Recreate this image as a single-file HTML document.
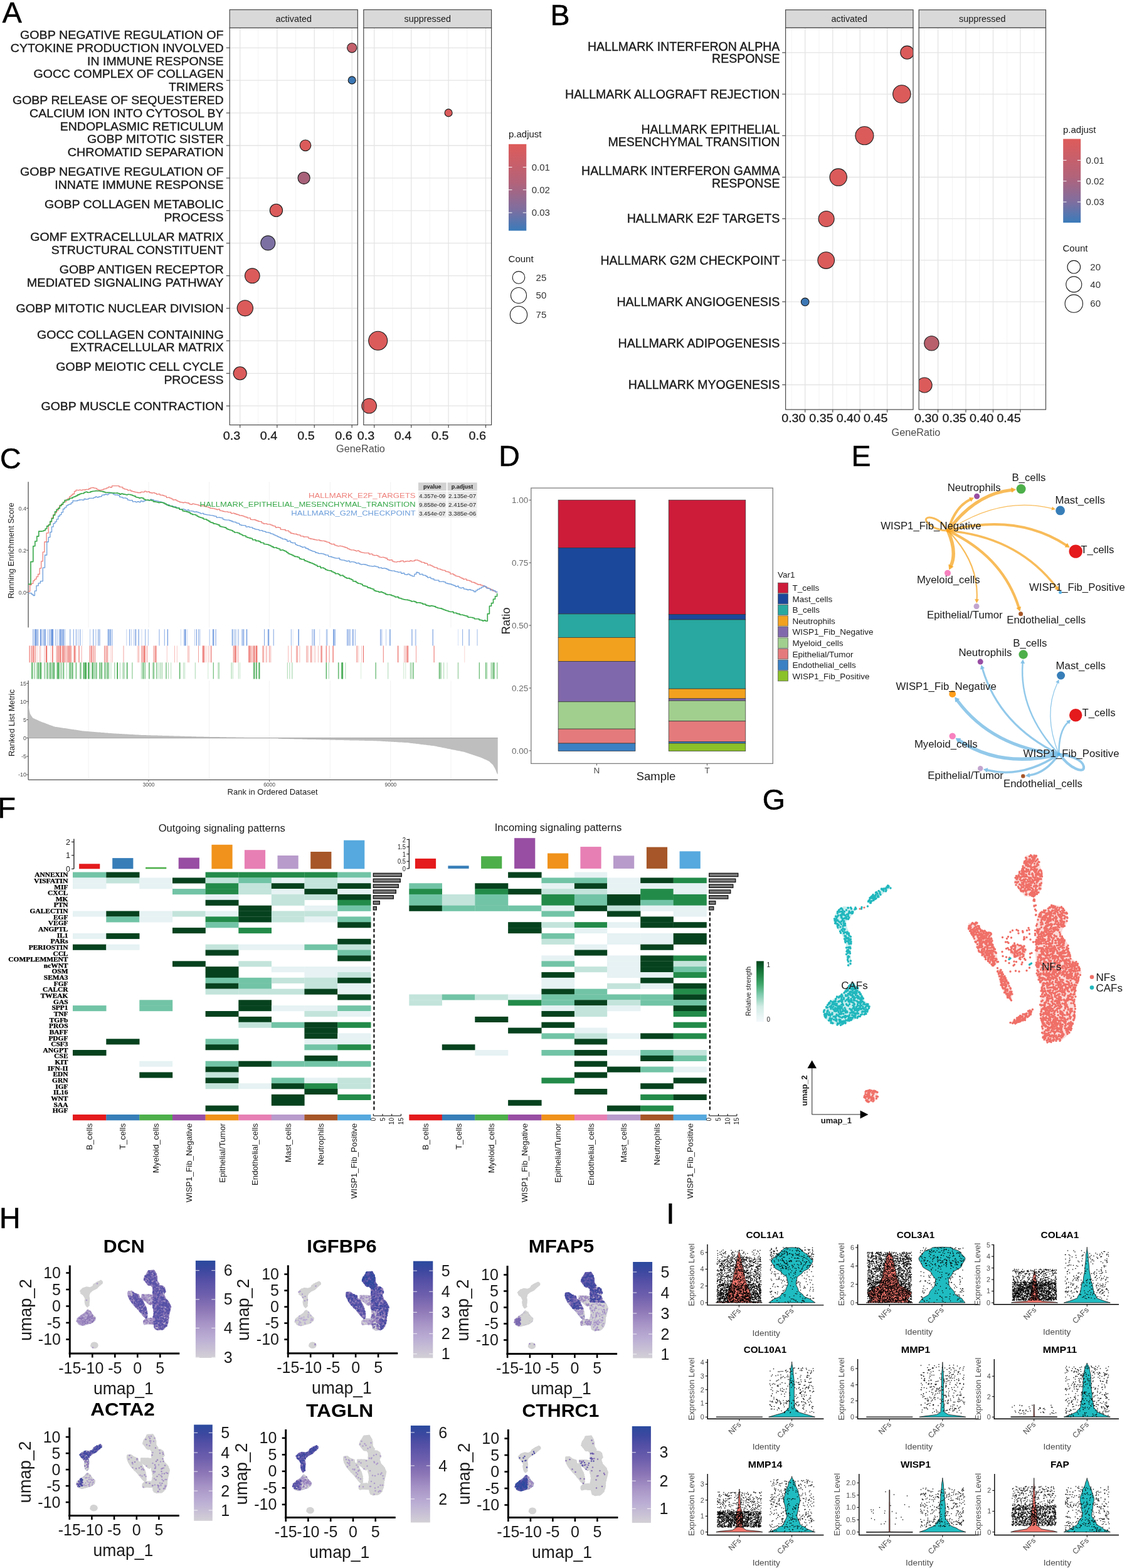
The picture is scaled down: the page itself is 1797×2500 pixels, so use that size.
<!DOCTYPE html>
<html><head><meta charset="utf-8"><title>Figure</title>
<style>html,body{margin:0;padding:0;background:#fff} svg{display:block}</style></head>
<body><svg width="1797" height="2500" viewBox="0 0 1797 2500">
<defs>
<linearGradient id="gradPA" x1="0" y1="0" x2="0" y2="1"><stop offset="0" stop-color="#DE5B5A"/><stop offset="0.45" stop-color="#B2637A"/><stop offset="0.75" stop-color="#7F6E9F"/><stop offset="1" stop-color="#3A7BBA"/></linearGradient>
<linearGradient id="gradRS" x1="0" y1="1" x2="0" y2="0"><stop offset="0" stop-color="#F5F9FC"/><stop offset="0.25" stop-color="#D2ECE5"/><stop offset="0.45" stop-color="#7FCBAE"/><stop offset="0.62" stop-color="#3FA66A"/><stop offset="0.8" stop-color="#1B7D3F"/><stop offset="1" stop-color="#00441B"/></linearGradient>
<linearGradient id="gradH" x1="0" y1="1" x2="0" y2="0"><stop offset="0" stop-color="#D3D0D6"/><stop offset="0.2" stop-color="#BBAED4"/><stop offset="0.35" stop-color="#A895C7"/><stop offset="0.5" stop-color="#8C76B6"/><stop offset="0.65" stop-color="#6E5FAD"/><stop offset="0.8" stop-color="#5450A6"/><stop offset="0.9" stop-color="#3D489F"/><stop offset="1" stop-color="#2A4A9E"/></linearGradient>
</defs>
<rect width="1797" height="2500" fill="#fff"/>
<rect x="366.2" y="15.5" width="204.1" height="29.0" fill="#D9D9D9" stroke="#4A4A4A" stroke-width="1.2"/>
<text x="468.2" y="35.2" font-family="'Liberation Sans', Arial, sans-serif" font-size="14.4" text-anchor="middle" fill="#1A1A1A">activated</text>
<rect x="366.2" y="44.5" width="204.1" height="633.0" fill="#FFFFFF"/>
<line x1="411.7" y1="44.5" x2="411.7" y2="677.5" stroke="#F0F0F0" stroke-width="0.8"/>
<line x1="471.5" y1="44.5" x2="471.5" y2="677.5" stroke="#F0F0F0" stroke-width="0.8"/>
<line x1="531.5" y1="44.5" x2="531.5" y2="677.5" stroke="#F0F0F0" stroke-width="0.8"/>
<line x1="382.7" y1="44.5" x2="382.7" y2="677.5" stroke="#E4E4E4" stroke-width="1.3"/>
<line x1="441.8" y1="44.5" x2="441.8" y2="677.5" stroke="#E4E4E4" stroke-width="1.3"/>
<line x1="501.2" y1="44.5" x2="501.2" y2="677.5" stroke="#E4E4E4" stroke-width="1.3"/>
<line x1="561.2" y1="44.5" x2="561.2" y2="677.5" stroke="#E4E4E4" stroke-width="1.3"/>
<line x1="366.2" y1="76.3" x2="570.3" y2="76.3" stroke="#E4E4E4" stroke-width="1.3"/>
<line x1="366.2" y1="128.2" x2="570.3" y2="128.2" stroke="#E4E4E4" stroke-width="1.3"/>
<line x1="366.2" y1="180.1" x2="570.3" y2="180.1" stroke="#E4E4E4" stroke-width="1.3"/>
<line x1="366.2" y1="232.0" x2="570.3" y2="232.0" stroke="#E4E4E4" stroke-width="1.3"/>
<line x1="366.2" y1="283.9" x2="570.3" y2="283.9" stroke="#E4E4E4" stroke-width="1.3"/>
<line x1="366.2" y1="335.8" x2="570.3" y2="335.8" stroke="#E4E4E4" stroke-width="1.3"/>
<line x1="366.2" y1="387.7" x2="570.3" y2="387.7" stroke="#E4E4E4" stroke-width="1.3"/>
<line x1="366.2" y1="439.6" x2="570.3" y2="439.6" stroke="#E4E4E4" stroke-width="1.3"/>
<line x1="366.2" y1="491.5" x2="570.3" y2="491.5" stroke="#E4E4E4" stroke-width="1.3"/>
<line x1="366.2" y1="543.4" x2="570.3" y2="543.4" stroke="#E4E4E4" stroke-width="1.3"/>
<line x1="366.2" y1="595.3" x2="570.3" y2="595.3" stroke="#E4E4E4" stroke-width="1.3"/>
<line x1="366.2" y1="647.2" x2="570.3" y2="647.2" stroke="#E4E4E4" stroke-width="1.3"/>
<rect x="579.8" y="15.5" width="203.8" height="29.0" fill="#D9D9D9" stroke="#4A4A4A" stroke-width="1.2"/>
<text x="681.7" y="35.2" font-family="'Liberation Sans', Arial, sans-serif" font-size="14.4" text-anchor="middle" fill="#1A1A1A">suppressed</text>
<rect x="579.8" y="44.5" width="203.8" height="633.0" fill="#FFFFFF"/>
<line x1="626.0" y1="44.5" x2="626.0" y2="677.5" stroke="#F0F0F0" stroke-width="0.8"/>
<line x1="685.4" y1="44.5" x2="685.4" y2="677.5" stroke="#F0F0F0" stroke-width="0.8"/>
<line x1="744.8" y1="44.5" x2="744.8" y2="677.5" stroke="#F0F0F0" stroke-width="0.8"/>
<line x1="596.7" y1="44.5" x2="596.7" y2="677.5" stroke="#E4E4E4" stroke-width="1.3"/>
<line x1="655.7" y1="44.5" x2="655.7" y2="677.5" stroke="#E4E4E4" stroke-width="1.3"/>
<line x1="715.1" y1="44.5" x2="715.1" y2="677.5" stroke="#E4E4E4" stroke-width="1.3"/>
<line x1="774.5" y1="44.5" x2="774.5" y2="677.5" stroke="#E4E4E4" stroke-width="1.3"/>
<line x1="579.8" y1="76.3" x2="783.6" y2="76.3" stroke="#E4E4E4" stroke-width="1.3"/>
<line x1="579.8" y1="128.2" x2="783.6" y2="128.2" stroke="#E4E4E4" stroke-width="1.3"/>
<line x1="579.8" y1="180.1" x2="783.6" y2="180.1" stroke="#E4E4E4" stroke-width="1.3"/>
<line x1="579.8" y1="232.0" x2="783.6" y2="232.0" stroke="#E4E4E4" stroke-width="1.3"/>
<line x1="579.8" y1="283.9" x2="783.6" y2="283.9" stroke="#E4E4E4" stroke-width="1.3"/>
<line x1="579.8" y1="335.8" x2="783.6" y2="335.8" stroke="#E4E4E4" stroke-width="1.3"/>
<line x1="579.8" y1="387.7" x2="783.6" y2="387.7" stroke="#E4E4E4" stroke-width="1.3"/>
<line x1="579.8" y1="439.6" x2="783.6" y2="439.6" stroke="#E4E4E4" stroke-width="1.3"/>
<line x1="579.8" y1="491.5" x2="783.6" y2="491.5" stroke="#E4E4E4" stroke-width="1.3"/>
<line x1="579.8" y1="543.4" x2="783.6" y2="543.4" stroke="#E4E4E4" stroke-width="1.3"/>
<line x1="579.8" y1="595.3" x2="783.6" y2="595.3" stroke="#E4E4E4" stroke-width="1.3"/>
<line x1="579.8" y1="647.2" x2="783.6" y2="647.2" stroke="#E4E4E4" stroke-width="1.3"/>
<circle cx="561.2" cy="76.3" r="7.6" fill="#C4606B" stroke="#1A1A1A" stroke-width="1.1"/>
<circle cx="561.2" cy="127.9" r="6.0" fill="#3C77B4" stroke="#1A1A1A" stroke-width="1.1"/>
<circle cx="715.1" cy="179.9" r="6.0" fill="#DB5B5B" stroke="#1A1A1A" stroke-width="1.1"/>
<circle cx="487.0" cy="231.8" r="8.8" fill="#DB5B5B" stroke="#1A1A1A" stroke-width="1.1"/>
<circle cx="484.6" cy="283.8" r="9.6" fill="#A8627A" stroke="#1A1A1A" stroke-width="1.1"/>
<circle cx="440.4" cy="335.4" r="10.1" fill="#DB5B5B" stroke="#1A1A1A" stroke-width="1.1"/>
<circle cx="427.3" cy="387.4" r="11.5" fill="#7C70A3" stroke="#1A1A1A" stroke-width="1.1"/>
<circle cx="402.3" cy="439.7" r="11.8" fill="#DB5B5B" stroke="#1A1A1A" stroke-width="1.1"/>
<circle cx="390.8" cy="491.3" r="12.6" fill="#DB5B5B" stroke="#1A1A1A" stroke-width="1.1"/>
<circle cx="602.7" cy="543.3" r="15.0" fill="#DB5B5B" stroke="#1A1A1A" stroke-width="1.1"/>
<circle cx="382.7" cy="595.2" r="10.5" fill="#DB5B5B" stroke="#1A1A1A" stroke-width="1.1"/>
<circle cx="588.6" cy="647.2" r="11.8" fill="#DB5B5B" stroke="#1A1A1A" stroke-width="1.1"/>
<rect x="366.2" y="44.5" width="204.1" height="633.0" fill="none" stroke="#4A4A4A" stroke-width="1.2"/>
<rect x="579.8" y="44.5" width="203.8" height="633.0" fill="none" stroke="#4A4A4A" stroke-width="1.2"/>
<text x="356.6" y="61.9" font-family="'Liberation Sans', Arial, sans-serif" font-size="19.0" text-anchor="end" fill="#1A1A1A" textLength="324.6" lengthAdjust="spacingAndGlyphs" stroke="#1A1A1A" stroke-width="0.35">GOBP NEGATIVE REGULATION OF</text>
<text x="356.6" y="82.8" font-family="'Liberation Sans', Arial, sans-serif" font-size="19.0" text-anchor="end" fill="#1A1A1A" textLength="339.8" lengthAdjust="spacingAndGlyphs" stroke="#1A1A1A" stroke-width="0.35">CYTOKINE PRODUCTION INVOLVED</text>
<text x="356.6" y="103.7" font-family="'Liberation Sans', Arial, sans-serif" font-size="19.0" text-anchor="end" fill="#1A1A1A" textLength="217.5" lengthAdjust="spacingAndGlyphs" stroke="#1A1A1A" stroke-width="0.35">IN IMMUNE RESPONSE</text>
<line x1="360.7" y1="76.3" x2="366.2" y2="76.3" stroke="#4A4A4A" stroke-width="1.2"/>
<text x="356.6" y="124.3" font-family="'Liberation Sans', Arial, sans-serif" font-size="19.0" text-anchor="end" fill="#1A1A1A" textLength="303.0" lengthAdjust="spacingAndGlyphs" stroke="#1A1A1A" stroke-width="0.35">GOCC COMPLEX OF COLLAGEN</text>
<text x="356.6" y="145.2" font-family="'Liberation Sans', Arial, sans-serif" font-size="19.0" text-anchor="end" fill="#1A1A1A" textLength="87.6" lengthAdjust="spacingAndGlyphs" stroke="#1A1A1A" stroke-width="0.35">TRIMERS</text>
<line x1="360.7" y1="128.2" x2="366.2" y2="128.2" stroke="#4A4A4A" stroke-width="1.2"/>
<text x="356.6" y="165.7" font-family="'Liberation Sans', Arial, sans-serif" font-size="19.0" text-anchor="end" fill="#1A1A1A" textLength="336.6" lengthAdjust="spacingAndGlyphs" stroke="#1A1A1A" stroke-width="0.35">GOBP RELEASE OF SEQUESTERED</text>
<text x="356.6" y="186.6" font-family="'Liberation Sans', Arial, sans-serif" font-size="19.0" text-anchor="end" fill="#1A1A1A" textLength="309.5" lengthAdjust="spacingAndGlyphs" stroke="#1A1A1A" stroke-width="0.35">CALCIUM ION INTO CYTOSOL BY</text>
<text x="356.6" y="207.5" font-family="'Liberation Sans', Arial, sans-serif" font-size="19.0" text-anchor="end" fill="#1A1A1A" textLength="260.8" lengthAdjust="spacingAndGlyphs" stroke="#1A1A1A" stroke-width="0.35">ENDOPLASMIC RETICULUM</text>
<line x1="360.7" y1="180.1" x2="366.2" y2="180.1" stroke="#4A4A4A" stroke-width="1.2"/>
<text x="356.6" y="228.1" font-family="'Liberation Sans', Arial, sans-serif" font-size="19.0" text-anchor="end" fill="#1A1A1A" textLength="217.5" lengthAdjust="spacingAndGlyphs" stroke="#1A1A1A" stroke-width="0.35">GOBP MITOTIC SISTER</text>
<text x="356.6" y="249.0" font-family="'Liberation Sans', Arial, sans-serif" font-size="19.0" text-anchor="end" fill="#1A1A1A" textLength="248.9" lengthAdjust="spacingAndGlyphs" stroke="#1A1A1A" stroke-width="0.35">CHROMATID SEPARATION</text>
<line x1="360.7" y1="232.0" x2="366.2" y2="232.0" stroke="#4A4A4A" stroke-width="1.2"/>
<text x="356.6" y="280.0" font-family="'Liberation Sans', Arial, sans-serif" font-size="19.0" text-anchor="end" fill="#1A1A1A" textLength="324.6" lengthAdjust="spacingAndGlyphs" stroke="#1A1A1A" stroke-width="0.35">GOBP NEGATIVE REGULATION OF</text>
<text x="356.6" y="300.9" font-family="'Liberation Sans', Arial, sans-serif" font-size="19.0" text-anchor="end" fill="#1A1A1A" textLength="269.4" lengthAdjust="spacingAndGlyphs" stroke="#1A1A1A" stroke-width="0.35">INNATE IMMUNE RESPONSE</text>
<line x1="360.7" y1="283.9" x2="366.2" y2="283.9" stroke="#4A4A4A" stroke-width="1.2"/>
<text x="356.6" y="331.9" font-family="'Liberation Sans', Arial, sans-serif" font-size="19.0" text-anchor="end" fill="#1A1A1A" textLength="285.7" lengthAdjust="spacingAndGlyphs" stroke="#1A1A1A" stroke-width="0.35">GOBP COLLAGEN METABOLIC</text>
<text x="356.6" y="352.8" font-family="'Liberation Sans', Arial, sans-serif" font-size="19.0" text-anchor="end" fill="#1A1A1A" textLength="95.2" lengthAdjust="spacingAndGlyphs" stroke="#1A1A1A" stroke-width="0.35">PROCESS</text>
<line x1="360.7" y1="335.8" x2="366.2" y2="335.8" stroke="#4A4A4A" stroke-width="1.2"/>
<text x="356.6" y="383.8" font-family="'Liberation Sans', Arial, sans-serif" font-size="19.0" text-anchor="end" fill="#1A1A1A" textLength="308.4" lengthAdjust="spacingAndGlyphs" stroke="#1A1A1A" stroke-width="0.35">GOMF EXTRACELLULAR MATRIX</text>
<text x="356.6" y="404.7" font-family="'Liberation Sans', Arial, sans-serif" font-size="19.0" text-anchor="end" fill="#1A1A1A" textLength="274.8" lengthAdjust="spacingAndGlyphs" stroke="#1A1A1A" stroke-width="0.35">STRUCTURAL CONSTITUENT</text>
<line x1="360.7" y1="387.7" x2="366.2" y2="387.7" stroke="#4A4A4A" stroke-width="1.2"/>
<text x="356.6" y="435.7" font-family="'Liberation Sans', Arial, sans-serif" font-size="19.0" text-anchor="end" fill="#1A1A1A" textLength="261.9" lengthAdjust="spacingAndGlyphs" stroke="#1A1A1A" stroke-width="0.35">GOBP ANTIGEN RECEPTOR</text>
<text x="356.6" y="456.6" font-family="'Liberation Sans', Arial, sans-serif" font-size="19.0" text-anchor="end" fill="#1A1A1A" textLength="313.8" lengthAdjust="spacingAndGlyphs" stroke="#1A1A1A" stroke-width="0.35">MEDIATED SIGNALING PATHWAY</text>
<line x1="360.7" y1="439.6" x2="366.2" y2="439.6" stroke="#4A4A4A" stroke-width="1.2"/>
<text x="356.6" y="498.0" font-family="'Liberation Sans', Arial, sans-serif" font-size="19.0" text-anchor="end" fill="#1A1A1A" textLength="331.1" lengthAdjust="spacingAndGlyphs" stroke="#1A1A1A" stroke-width="0.35">GOBP MITOTIC NUCLEAR DIVISION</text>
<line x1="360.7" y1="491.5" x2="366.2" y2="491.5" stroke="#4A4A4A" stroke-width="1.2"/>
<text x="356.6" y="539.5" font-family="'Liberation Sans', Arial, sans-serif" font-size="19.0" text-anchor="end" fill="#1A1A1A" textLength="297.6" lengthAdjust="spacingAndGlyphs" stroke="#1A1A1A" stroke-width="0.35">GOCC COLLAGEN CONTAINING</text>
<text x="356.6" y="560.4" font-family="'Liberation Sans', Arial, sans-serif" font-size="19.0" text-anchor="end" fill="#1A1A1A" textLength="244.6" lengthAdjust="spacingAndGlyphs" stroke="#1A1A1A" stroke-width="0.35">EXTRACELLULAR MATRIX</text>
<line x1="360.7" y1="543.4" x2="366.2" y2="543.4" stroke="#4A4A4A" stroke-width="1.2"/>
<text x="356.6" y="591.4" font-family="'Liberation Sans', Arial, sans-serif" font-size="19.0" text-anchor="end" fill="#1A1A1A" textLength="267.3" lengthAdjust="spacingAndGlyphs" stroke="#1A1A1A" stroke-width="0.35">GOBP MEIOTIC CELL CYCLE</text>
<text x="356.6" y="612.3" font-family="'Liberation Sans', Arial, sans-serif" font-size="19.0" text-anchor="end" fill="#1A1A1A" textLength="95.2" lengthAdjust="spacingAndGlyphs" stroke="#1A1A1A" stroke-width="0.35">PROCESS</text>
<line x1="360.7" y1="595.3" x2="366.2" y2="595.3" stroke="#4A4A4A" stroke-width="1.2"/>
<text x="356.6" y="653.7" font-family="'Liberation Sans', Arial, sans-serif" font-size="19.0" text-anchor="end" fill="#1A1A1A" textLength="291.1" lengthAdjust="spacingAndGlyphs" stroke="#1A1A1A" stroke-width="0.35">GOBP MUSCLE CONTRACTION</text>
<line x1="360.7" y1="647.2" x2="366.2" y2="647.2" stroke="#4A4A4A" stroke-width="1.2"/>
<line x1="382.7" y1="677.5" x2="382.7" y2="682.0" stroke="#4A4A4A" stroke-width="1.2"/>
<text x="383.2" y="700.8" font-family="'Liberation Sans', Arial, sans-serif" font-size="18.5" text-anchor="end" fill="#1A1A1A" textLength="27.5" lengthAdjust="spacingAndGlyphs" stroke="#1A1A1A" stroke-width="0.3">0.3</text>
<line x1="441.8" y1="677.5" x2="441.8" y2="682.0" stroke="#4A4A4A" stroke-width="1.2"/>
<text x="442.3" y="700.8" font-family="'Liberation Sans', Arial, sans-serif" font-size="18.5" text-anchor="end" fill="#1A1A1A" textLength="27.5" lengthAdjust="spacingAndGlyphs" stroke="#1A1A1A" stroke-width="0.3">0.4</text>
<line x1="501.2" y1="677.5" x2="501.2" y2="682.0" stroke="#4A4A4A" stroke-width="1.2"/>
<text x="501.7" y="700.8" font-family="'Liberation Sans', Arial, sans-serif" font-size="18.5" text-anchor="end" fill="#1A1A1A" textLength="27.5" lengthAdjust="spacingAndGlyphs" stroke="#1A1A1A" stroke-width="0.3">0.5</text>
<line x1="561.2" y1="677.5" x2="561.2" y2="682.0" stroke="#4A4A4A" stroke-width="1.2"/>
<text x="561.7" y="700.8" font-family="'Liberation Sans', Arial, sans-serif" font-size="18.5" text-anchor="end" fill="#1A1A1A" textLength="27.5" lengthAdjust="spacingAndGlyphs" stroke="#1A1A1A" stroke-width="0.3">0.6</text>
<line x1="596.7" y1="677.5" x2="596.7" y2="682.0" stroke="#4A4A4A" stroke-width="1.2"/>
<text x="597.2" y="700.8" font-family="'Liberation Sans', Arial, sans-serif" font-size="18.5" text-anchor="end" fill="#1A1A1A" textLength="27.5" lengthAdjust="spacingAndGlyphs" stroke="#1A1A1A" stroke-width="0.3">0.3</text>
<line x1="655.7" y1="677.5" x2="655.7" y2="682.0" stroke="#4A4A4A" stroke-width="1.2"/>
<text x="656.2" y="700.8" font-family="'Liberation Sans', Arial, sans-serif" font-size="18.5" text-anchor="end" fill="#1A1A1A" textLength="27.5" lengthAdjust="spacingAndGlyphs" stroke="#1A1A1A" stroke-width="0.3">0.4</text>
<line x1="715.1" y1="677.5" x2="715.1" y2="682.0" stroke="#4A4A4A" stroke-width="1.2"/>
<text x="715.6" y="700.8" font-family="'Liberation Sans', Arial, sans-serif" font-size="18.5" text-anchor="end" fill="#1A1A1A" textLength="27.5" lengthAdjust="spacingAndGlyphs" stroke="#1A1A1A" stroke-width="0.3">0.5</text>
<line x1="774.5" y1="677.5" x2="774.5" y2="682.0" stroke="#4A4A4A" stroke-width="1.2"/>
<text x="775.0" y="700.8" font-family="'Liberation Sans', Arial, sans-serif" font-size="18.5" text-anchor="end" fill="#1A1A1A" textLength="27.5" lengthAdjust="spacingAndGlyphs" stroke="#1A1A1A" stroke-width="0.3">0.6</text>
<text x="575.0" y="720.5" font-family="'Liberation Sans', Arial, sans-serif" font-size="16.3" text-anchor="middle" fill="#4D4D4D">GeneRatio</text>
<text x="811.0" y="219.0" font-family="'Liberation Sans', Arial, sans-serif" font-size="15" fill="#1A1A1A">p.adjust</text>
<rect x="811.0" y="229.8" width="28.3" height="138.0" fill="url(#gradPA)"/>
<line x1="811.0" y1="266.6" x2="816.5" y2="266.6" stroke="#FFFFFF" stroke-width="1"/>
<line x1="833.8" y1="266.6" x2="839.3" y2="266.6" stroke="#FFFFFF" stroke-width="1"/>
<line x1="811.0" y1="302.7" x2="816.5" y2="302.7" stroke="#FFFFFF" stroke-width="1"/>
<line x1="833.8" y1="302.7" x2="839.3" y2="302.7" stroke="#FFFFFF" stroke-width="1"/>
<line x1="811.0" y1="339.1" x2="816.5" y2="339.1" stroke="#FFFFFF" stroke-width="1"/>
<line x1="833.8" y1="339.1" x2="839.3" y2="339.1" stroke="#FFFFFF" stroke-width="1"/>
<text x="847.7" y="271.8" font-family="'Liberation Sans', Arial, sans-serif" font-size="15" fill="#333333">0.01</text>
<text x="847.7" y="307.9" font-family="'Liberation Sans', Arial, sans-serif" font-size="15" fill="#333333">0.02</text>
<text x="847.7" y="344.3" font-family="'Liberation Sans', Arial, sans-serif" font-size="15" fill="#333333">0.03</text>
<text x="810.6" y="418.0" font-family="'Liberation Sans', Arial, sans-serif" font-size="15" fill="#1A1A1A">Count</text>
<circle cx="827.0" cy="442.4" r="9.8" fill="none" stroke="#1A1A1A" stroke-width="1.1"/>
<text x="854.6" y="447.6" font-family="'Liberation Sans', Arial, sans-serif" font-size="15" fill="#333333">25</text>
<circle cx="827.0" cy="471.0" r="12.5" fill="none" stroke="#1A1A1A" stroke-width="1.1"/>
<text x="854.6" y="476.2" font-family="'Liberation Sans', Arial, sans-serif" font-size="15" fill="#333333">50</text>
<circle cx="827.0" cy="502.0" r="13.7" fill="none" stroke="#1A1A1A" stroke-width="1.1"/>
<text x="854.6" y="507.2" font-family="'Liberation Sans', Arial, sans-serif" font-size="15" fill="#333333">75</text>
<rect x="1252.6" y="15.7" width="203.4" height="28.7" fill="#D9D9D9" stroke="#4A4A4A" stroke-width="1.2"/>
<text x="1354.3" y="35.2" font-family="'Liberation Sans', Arial, sans-serif" font-size="14.4" text-anchor="middle" fill="#1A1A1A">activated</text>
<rect x="1252.6" y="44.4" width="203.4" height="608.6" fill="#FFFFFF"/>
<line x1="1262.2" y1="44.4" x2="1262.2" y2="653.0" stroke="#F0F0F0" stroke-width="0.8"/>
<line x1="1306.0" y1="44.4" x2="1306.0" y2="653.0" stroke="#F0F0F0" stroke-width="0.8"/>
<line x1="1350.0" y1="44.4" x2="1350.0" y2="653.0" stroke="#F0F0F0" stroke-width="0.8"/>
<line x1="1393.8" y1="44.4" x2="1393.8" y2="653.0" stroke="#F0F0F0" stroke-width="0.8"/>
<line x1="1437.2" y1="44.4" x2="1437.2" y2="653.0" stroke="#F0F0F0" stroke-width="0.8"/>
<line x1="1283.7" y1="44.4" x2="1283.7" y2="653.0" stroke="#E4E4E4" stroke-width="1.3"/>
<line x1="1327.8" y1="44.4" x2="1327.8" y2="653.0" stroke="#E4E4E4" stroke-width="1.3"/>
<line x1="1371.2" y1="44.4" x2="1371.2" y2="653.0" stroke="#E4E4E4" stroke-width="1.3"/>
<line x1="1414.6" y1="44.4" x2="1414.6" y2="653.0" stroke="#E4E4E4" stroke-width="1.3"/>
<line x1="1252.6" y1="83.9" x2="1456.0" y2="83.9" stroke="#E4E4E4" stroke-width="1.3"/>
<line x1="1252.6" y1="150.1" x2="1456.0" y2="150.1" stroke="#E4E4E4" stroke-width="1.3"/>
<line x1="1252.6" y1="216.3" x2="1456.0" y2="216.3" stroke="#E4E4E4" stroke-width="1.3"/>
<line x1="1252.6" y1="282.5" x2="1456.0" y2="282.5" stroke="#E4E4E4" stroke-width="1.3"/>
<line x1="1252.6" y1="348.7" x2="1456.0" y2="348.7" stroke="#E4E4E4" stroke-width="1.3"/>
<line x1="1252.6" y1="414.9" x2="1456.0" y2="414.9" stroke="#E4E4E4" stroke-width="1.3"/>
<line x1="1252.6" y1="481.1" x2="1456.0" y2="481.1" stroke="#E4E4E4" stroke-width="1.3"/>
<line x1="1252.6" y1="547.3" x2="1456.0" y2="547.3" stroke="#E4E4E4" stroke-width="1.3"/>
<line x1="1252.6" y1="613.5" x2="1456.0" y2="613.5" stroke="#E4E4E4" stroke-width="1.3"/>
<rect x="1465.2" y="15.7" width="202.3" height="28.7" fill="#D9D9D9" stroke="#4A4A4A" stroke-width="1.2"/>
<text x="1566.3" y="35.2" font-family="'Liberation Sans', Arial, sans-serif" font-size="14.4" text-anchor="middle" fill="#1A1A1A">suppressed</text>
<rect x="1465.2" y="44.4" width="202.3" height="608.6" fill="#FFFFFF"/>
<line x1="1474.0" y1="44.4" x2="1474.0" y2="653.0" stroke="#F0F0F0" stroke-width="0.8"/>
<line x1="1518.5" y1="44.4" x2="1518.5" y2="653.0" stroke="#F0F0F0" stroke-width="0.8"/>
<line x1="1561.9" y1="44.4" x2="1561.9" y2="653.0" stroke="#F0F0F0" stroke-width="0.8"/>
<line x1="1605.7" y1="44.4" x2="1605.7" y2="653.0" stroke="#F0F0F0" stroke-width="0.8"/>
<line x1="1649.0" y1="44.4" x2="1649.0" y2="653.0" stroke="#F0F0F0" stroke-width="0.8"/>
<line x1="1495.6" y1="44.4" x2="1495.6" y2="653.0" stroke="#E4E4E4" stroke-width="1.3"/>
<line x1="1540.0" y1="44.4" x2="1540.0" y2="653.0" stroke="#E4E4E4" stroke-width="1.3"/>
<line x1="1583.5" y1="44.4" x2="1583.5" y2="653.0" stroke="#E4E4E4" stroke-width="1.3"/>
<line x1="1626.9" y1="44.4" x2="1626.9" y2="653.0" stroke="#E4E4E4" stroke-width="1.3"/>
<line x1="1465.2" y1="83.9" x2="1667.5" y2="83.9" stroke="#E4E4E4" stroke-width="1.3"/>
<line x1="1465.2" y1="150.1" x2="1667.5" y2="150.1" stroke="#E4E4E4" stroke-width="1.3"/>
<line x1="1465.2" y1="216.3" x2="1667.5" y2="216.3" stroke="#E4E4E4" stroke-width="1.3"/>
<line x1="1465.2" y1="282.5" x2="1667.5" y2="282.5" stroke="#E4E4E4" stroke-width="1.3"/>
<line x1="1465.2" y1="348.7" x2="1667.5" y2="348.7" stroke="#E4E4E4" stroke-width="1.3"/>
<line x1="1465.2" y1="414.9" x2="1667.5" y2="414.9" stroke="#E4E4E4" stroke-width="1.3"/>
<line x1="1465.2" y1="481.1" x2="1667.5" y2="481.1" stroke="#E4E4E4" stroke-width="1.3"/>
<line x1="1465.2" y1="547.3" x2="1667.5" y2="547.3" stroke="#E4E4E4" stroke-width="1.3"/>
<line x1="1465.2" y1="613.5" x2="1667.5" y2="613.5" stroke="#E4E4E4" stroke-width="1.3"/>
<clipPath id="clipB1"><rect x="1252.6" y="44.4" width="203.4" height="608.6"/></clipPath>
<clipPath id="clipB2"><rect x="1465.2" y="44.4" width="202.3" height="608.6"/></clipPath>
<circle cx="1446.4" cy="83.7" r="10.6" fill="#DB5B5B" stroke="#1A1A1A" stroke-width="1.1" clip-path="url(#clipB1)"/>
<circle cx="1437.9" cy="150.0" r="14.2" fill="#DB5B5B" stroke="#1A1A1A" stroke-width="1.1" clip-path="url(#clipB1)"/>
<circle cx="1378.4" cy="216.3" r="14.5" fill="#DB5B5B" stroke="#1A1A1A" stroke-width="1.1" clip-path="url(#clipB1)"/>
<circle cx="1336.7" cy="282.6" r="13.7" fill="#DB5B5B" stroke="#1A1A1A" stroke-width="1.1" clip-path="url(#clipB1)"/>
<circle cx="1317.6" cy="349.0" r="12.5" fill="#DB5B5B" stroke="#1A1A1A" stroke-width="1.1" clip-path="url(#clipB1)"/>
<circle cx="1317.2" cy="415.1" r="13.3" fill="#DB5B5B" stroke="#1A1A1A" stroke-width="1.1" clip-path="url(#clipB1)"/>
<circle cx="1283.7" cy="481.4" r="6.3" fill="#3C77B4" stroke="#1A1A1A" stroke-width="1.1" clip-path="url(#clipB1)"/>
<circle cx="1485.4" cy="547.4" r="11.6" fill="#B8606C" stroke="#1A1A1A" stroke-width="1.1" clip-path="url(#clipB2)"/>
<circle cx="1474.1" cy="614.0" r="12.0" fill="#DB5B5B" stroke="#1A1A1A" stroke-width="1.1" clip-path="url(#clipB2)"/>
<rect x="1252.6" y="44.4" width="203.4" height="608.6" fill="none" stroke="#4A4A4A" stroke-width="1.2"/>
<rect x="1465.2" y="44.4" width="202.3" height="608.6" fill="none" stroke="#4A4A4A" stroke-width="1.2"/>
<text x="1243.4" y="80.6" font-family="'Liberation Sans', Arial, sans-serif" font-size="19.3" text-anchor="end" fill="#1A1A1A" textLength="306.5" lengthAdjust="spacingAndGlyphs" stroke="#1A1A1A" stroke-width="0.35">HALLMARK INTERFERON ALPHA</text>
<text x="1243.4" y="100.4" font-family="'Liberation Sans', Arial, sans-serif" font-size="19.3" text-anchor="end" fill="#1A1A1A" textLength="108.3" lengthAdjust="spacingAndGlyphs" stroke="#1A1A1A" stroke-width="0.35">RESPONSE</text>
<line x1="1247.2" y1="83.9" x2="1252.6" y2="83.9" stroke="#4A4A4A" stroke-width="1.2"/>
<text x="1243.4" y="156.7" font-family="'Liberation Sans', Arial, sans-serif" font-size="19.3" text-anchor="end" fill="#1A1A1A" textLength="342.3" lengthAdjust="spacingAndGlyphs" stroke="#1A1A1A" stroke-width="0.35">HALLMARK ALLOGRAFT REJECTION</text>
<line x1="1247.2" y1="150.1" x2="1252.6" y2="150.1" stroke="#4A4A4A" stroke-width="1.2"/>
<text x="1243.4" y="213.0" font-family="'Liberation Sans', Arial, sans-serif" font-size="19.3" text-anchor="end" fill="#1A1A1A" textLength="221.0" lengthAdjust="spacingAndGlyphs" stroke="#1A1A1A" stroke-width="0.35">HALLMARK EPITHELIAL</text>
<text x="1243.4" y="232.8" font-family="'Liberation Sans', Arial, sans-serif" font-size="19.3" text-anchor="end" fill="#1A1A1A" textLength="274.0" lengthAdjust="spacingAndGlyphs" stroke="#1A1A1A" stroke-width="0.35">MESENCHYMAL TRANSITION</text>
<line x1="1247.2" y1="216.3" x2="1252.6" y2="216.3" stroke="#4A4A4A" stroke-width="1.2"/>
<text x="1243.4" y="279.2" font-family="'Liberation Sans', Arial, sans-serif" font-size="19.3" text-anchor="end" fill="#1A1A1A" textLength="316.3" lengthAdjust="spacingAndGlyphs" stroke="#1A1A1A" stroke-width="0.35">HALLMARK INTERFERON GAMMA</text>
<text x="1243.4" y="299.0" font-family="'Liberation Sans', Arial, sans-serif" font-size="19.3" text-anchor="end" fill="#1A1A1A" textLength="108.3" lengthAdjust="spacingAndGlyphs" stroke="#1A1A1A" stroke-width="0.35">RESPONSE</text>
<line x1="1247.2" y1="282.5" x2="1252.6" y2="282.5" stroke="#4A4A4A" stroke-width="1.2"/>
<text x="1243.4" y="355.3" font-family="'Liberation Sans', Arial, sans-serif" font-size="19.3" text-anchor="end" fill="#1A1A1A" textLength="243.7" lengthAdjust="spacingAndGlyphs" stroke="#1A1A1A" stroke-width="0.35">HALLMARK E2F TARGETS</text>
<line x1="1247.2" y1="348.7" x2="1252.6" y2="348.7" stroke="#4A4A4A" stroke-width="1.2"/>
<text x="1243.4" y="421.5" font-family="'Liberation Sans', Arial, sans-serif" font-size="19.3" text-anchor="end" fill="#1A1A1A" textLength="286.0" lengthAdjust="spacingAndGlyphs" stroke="#1A1A1A" stroke-width="0.35">HALLMARK G2M CHECKPOINT</text>
<line x1="1247.2" y1="414.9" x2="1252.6" y2="414.9" stroke="#4A4A4A" stroke-width="1.2"/>
<text x="1243.4" y="487.7" font-family="'Liberation Sans', Arial, sans-serif" font-size="19.3" text-anchor="end" fill="#1A1A1A" textLength="260.0" lengthAdjust="spacingAndGlyphs" stroke="#1A1A1A" stroke-width="0.35">HALLMARK ANGIOGENESIS</text>
<line x1="1247.2" y1="481.1" x2="1252.6" y2="481.1" stroke="#4A4A4A" stroke-width="1.2"/>
<text x="1243.4" y="553.9" font-family="'Liberation Sans', Arial, sans-serif" font-size="19.3" text-anchor="end" fill="#1A1A1A" textLength="257.8" lengthAdjust="spacingAndGlyphs" stroke="#1A1A1A" stroke-width="0.35">HALLMARK ADIPOGENESIS</text>
<line x1="1247.2" y1="547.3" x2="1252.6" y2="547.3" stroke="#4A4A4A" stroke-width="1.2"/>
<text x="1243.4" y="620.1" font-family="'Liberation Sans', Arial, sans-serif" font-size="19.3" text-anchor="end" fill="#1A1A1A" textLength="241.6" lengthAdjust="spacingAndGlyphs" stroke="#1A1A1A" stroke-width="0.35">HALLMARK MYOGENESIS</text>
<line x1="1247.2" y1="613.5" x2="1252.6" y2="613.5" stroke="#4A4A4A" stroke-width="1.2"/>
<line x1="1283.7" y1="653.0" x2="1283.7" y2="657.5" stroke="#4A4A4A" stroke-width="1.2"/>
<text x="1284.5" y="673.3" font-family="'Liberation Sans', Arial, sans-serif" font-size="18.5" text-anchor="end" fill="#1A1A1A" textLength="38.3" lengthAdjust="spacingAndGlyphs" stroke="#1A1A1A" stroke-width="0.3">0.30</text>
<line x1="1327.8" y1="653.0" x2="1327.8" y2="657.5" stroke="#4A4A4A" stroke-width="1.2"/>
<text x="1328.6" y="673.3" font-family="'Liberation Sans', Arial, sans-serif" font-size="18.5" text-anchor="end" fill="#1A1A1A" textLength="38.3" lengthAdjust="spacingAndGlyphs" stroke="#1A1A1A" stroke-width="0.3">0.35</text>
<line x1="1371.2" y1="653.0" x2="1371.2" y2="657.5" stroke="#4A4A4A" stroke-width="1.2"/>
<text x="1372.0" y="673.3" font-family="'Liberation Sans', Arial, sans-serif" font-size="18.5" text-anchor="end" fill="#1A1A1A" textLength="38.3" lengthAdjust="spacingAndGlyphs" stroke="#1A1A1A" stroke-width="0.3">0.40</text>
<line x1="1414.6" y1="653.0" x2="1414.6" y2="657.5" stroke="#4A4A4A" stroke-width="1.2"/>
<text x="1415.4" y="673.3" font-family="'Liberation Sans', Arial, sans-serif" font-size="18.5" text-anchor="end" fill="#1A1A1A" textLength="38.3" lengthAdjust="spacingAndGlyphs" stroke="#1A1A1A" stroke-width="0.3">0.45</text>
<line x1="1495.6" y1="653.0" x2="1495.6" y2="657.5" stroke="#4A4A4A" stroke-width="1.2"/>
<text x="1496.4" y="673.3" font-family="'Liberation Sans', Arial, sans-serif" font-size="18.5" text-anchor="end" fill="#1A1A1A" textLength="38.3" lengthAdjust="spacingAndGlyphs" stroke="#1A1A1A" stroke-width="0.3">0.30</text>
<line x1="1540.0" y1="653.0" x2="1540.0" y2="657.5" stroke="#4A4A4A" stroke-width="1.2"/>
<text x="1540.8" y="673.3" font-family="'Liberation Sans', Arial, sans-serif" font-size="18.5" text-anchor="end" fill="#1A1A1A" textLength="38.3" lengthAdjust="spacingAndGlyphs" stroke="#1A1A1A" stroke-width="0.3">0.35</text>
<line x1="1583.5" y1="653.0" x2="1583.5" y2="657.5" stroke="#4A4A4A" stroke-width="1.2"/>
<text x="1584.3" y="673.3" font-family="'Liberation Sans', Arial, sans-serif" font-size="18.5" text-anchor="end" fill="#1A1A1A" textLength="38.3" lengthAdjust="spacingAndGlyphs" stroke="#1A1A1A" stroke-width="0.3">0.40</text>
<line x1="1626.9" y1="653.0" x2="1626.9" y2="657.5" stroke="#4A4A4A" stroke-width="1.2"/>
<text x="1627.7" y="673.3" font-family="'Liberation Sans', Arial, sans-serif" font-size="18.5" text-anchor="end" fill="#1A1A1A" textLength="38.3" lengthAdjust="spacingAndGlyphs" stroke="#1A1A1A" stroke-width="0.3">0.45</text>
<text x="1460.4" y="695.3" font-family="'Liberation Sans', Arial, sans-serif" font-size="16.3" text-anchor="middle" fill="#4D4D4D">GeneRatio</text>
<text x="1695.0" y="211.5" font-family="'Liberation Sans', Arial, sans-serif" font-size="15" fill="#1A1A1A">p.adjust</text>
<rect x="1695.2" y="221.5" width="28.0" height="133.5" fill="url(#gradPA)"/>
<line x1="1695.2" y1="255.6" x2="1700.5" y2="255.6" stroke="#FFFFFF" stroke-width="1"/>
<line x1="1717.9" y1="255.6" x2="1723.2" y2="255.6" stroke="#FFFFFF" stroke-width="1"/>
<line x1="1695.2" y1="288.8" x2="1700.5" y2="288.8" stroke="#FFFFFF" stroke-width="1"/>
<line x1="1717.9" y1="288.8" x2="1723.2" y2="288.8" stroke="#FFFFFF" stroke-width="1"/>
<line x1="1695.2" y1="322.0" x2="1700.5" y2="322.0" stroke="#FFFFFF" stroke-width="1"/>
<line x1="1717.9" y1="322.0" x2="1723.2" y2="322.0" stroke="#FFFFFF" stroke-width="1"/>
<text x="1731.4" y="260.8" font-family="'Liberation Sans', Arial, sans-serif" font-size="15" fill="#333333">0.01</text>
<text x="1731.4" y="294.0" font-family="'Liberation Sans', Arial, sans-serif" font-size="15" fill="#333333">0.02</text>
<text x="1731.4" y="327.2" font-family="'Liberation Sans', Arial, sans-serif" font-size="15" fill="#333333">0.03</text>
<text x="1694.5" y="401.3" font-family="'Liberation Sans', Arial, sans-serif" font-size="15" fill="#1A1A1A">Count</text>
<circle cx="1712.3" cy="425.7" r="10.3" fill="none" stroke="#1A1A1A" stroke-width="1.1"/>
<text x="1738.3" y="430.9" font-family="'Liberation Sans', Arial, sans-serif" font-size="15" fill="#333333">20</text>
<circle cx="1712.3" cy="453.4" r="12.5" fill="none" stroke="#1A1A1A" stroke-width="1.1"/>
<text x="1738.3" y="458.6" font-family="'Liberation Sans', Arial, sans-serif" font-size="15" fill="#333333">40</text>
<circle cx="1712.3" cy="484.1" r="14.2" fill="none" stroke="#1A1A1A" stroke-width="1.1"/>
<text x="1738.3" y="489.3" font-family="'Liberation Sans', Arial, sans-serif" font-size="15" fill="#333333">60</text>
<line x1="141.0" y1="768.3" x2="141.0" y2="1000.6" stroke="#F0F0F0" stroke-width="0.9"/>
<line x1="141.0" y1="1085.0" x2="141.0" y2="1243.3" stroke="#F0F0F0" stroke-width="0.9"/>
<line x1="237.0" y1="768.3" x2="237.0" y2="1000.6" stroke="#F0F0F0" stroke-width="0.9"/>
<line x1="237.0" y1="1085.0" x2="237.0" y2="1243.3" stroke="#F0F0F0" stroke-width="0.9"/>
<line x1="333.7" y1="768.3" x2="333.7" y2="1000.6" stroke="#F0F0F0" stroke-width="0.9"/>
<line x1="333.7" y1="1085.0" x2="333.7" y2="1243.3" stroke="#F0F0F0" stroke-width="0.9"/>
<line x1="429.4" y1="768.3" x2="429.4" y2="1000.6" stroke="#F0F0F0" stroke-width="0.9"/>
<line x1="429.4" y1="1085.0" x2="429.4" y2="1243.3" stroke="#F0F0F0" stroke-width="0.9"/>
<line x1="526.4" y1="768.3" x2="526.4" y2="1000.6" stroke="#F0F0F0" stroke-width="0.9"/>
<line x1="526.4" y1="1085.0" x2="526.4" y2="1243.3" stroke="#F0F0F0" stroke-width="0.9"/>
<line x1="622.8" y1="768.3" x2="622.8" y2="1000.6" stroke="#F0F0F0" stroke-width="0.9"/>
<line x1="622.8" y1="1085.0" x2="622.8" y2="1243.3" stroke="#F0F0F0" stroke-width="0.9"/>
<line x1="719.0" y1="768.3" x2="719.0" y2="1000.6" stroke="#F0F0F0" stroke-width="0.9"/>
<line x1="719.0" y1="1085.0" x2="719.0" y2="1243.3" stroke="#F0F0F0" stroke-width="0.9"/>
<line x1="45.1" y1="768.3" x2="45.1" y2="1000.6" stroke="#555" stroke-width="1.3"/>
<line x1="42.1" y1="810.3" x2="45.1" y2="810.3" stroke="#555" stroke-width="1"/>
<text x="42.0" y="813.5" font-family="'Liberation Sans', Arial, sans-serif" font-size="9" text-anchor="end" fill="#4D4D4D">0.4</text>
<line x1="42.1" y1="877.3" x2="45.1" y2="877.3" stroke="#555" stroke-width="1"/>
<text x="42.0" y="880.5" font-family="'Liberation Sans', Arial, sans-serif" font-size="9" text-anchor="end" fill="#4D4D4D">0.2</text>
<line x1="42.1" y1="944.3" x2="45.1" y2="944.3" stroke="#555" stroke-width="1"/>
<text x="42.0" y="947.5" font-family="'Liberation Sans', Arial, sans-serif" font-size="9" text-anchor="end" fill="#4D4D4D">0.0</text>
<text x="22.5" y="877.8" font-family="'Liberation Sans', Arial, sans-serif" font-size="12.8" text-anchor="middle" fill="#1A1A1A" textLength="153.0" lengthAdjust="spacingAndGlyphs" transform="rotate(-90 22.5 877.8)">Running Enrichment Score</text>
<path d="M45.0 943.1h2.7v-10.6h2.5v-2.2h2.6v-4.5h2.6v-2.5h2.6v-3.7h2.6v-4.1h2.6v-9.4h2.5v-11.2h2.6v-14.7h2.6v-16.2h3.2v-14.1h3.2v-13.5h2.6v-4.3h2.5v-6.6h2.6v-5h2.6v-3h2.6v-3.3h2.5v-4.6h2.6v-4.2h2.6v-.9h2.6v-3.9h2.5v-.5h2.6v-3.2h2.6v-2.3h2.6v-2.9h2.6v-2.4h2.5v-1.8h2.6v-4.1h2.6v-2h2.6v.2h2.6v-.4h2.5v.5h2.6v-.8h2.6v.1h2.6v-.6h2.6h2.5v-1.4h2.6v-1.2h2.6v-.3h2.6v.6h2.6v.6h2.5v1.9h2.6v.8h2.6h2.6v-.5h2.5v-1.2h2.5v-.5h2.6v-1.4h2.8v-1.5h2.9v.7h2.8v-2.3h2.9h2.8h2.9v-.1h2.9v1.8h2.9v.2h2.9v2.3h2.6v1h2.6v.4h2.5v1.5h2.6v-.4h2.6v1.6h2.5v.6h2.6v.8h2.6v.5h2.8v.6h2.7h2.8v-1.1h2.8v.2h2.8v-1.4h2.7v1.1h2.8v-.3h2.7v1.5h2.8v.5h2.7v-.3h2.8v1h2.7v1.4h2.7v-.5h2.8v1.7h2.7v.2h2.6v.8h2.5v.8h2.6v2.3h2.6v-.3h2.5v1.1h2.6v1.2h2.6v1.8h2.6v-.6h2.5v1.6h2.6v1.1h2.6v1.2h2.6v.4h2.5v.6h2.6v-.7h2.6v.8h2.6v.4h2.6v1.6h2.5v.7h2.6v-1.1h2.6v.6h2.6v.6h2.6v.5h2.5v1h2.6v.7h2.6v-.1h2.6h2.6v1.3h2.5v.4h2.6v.9h2.6v1.3h2.6v.1h2.5v.3h2.6v.9h2.6v.8h2.6v-.6h2.5v2.3h2.6v.4h2.6v.8h2.5v.5h2.6v-.1h2.6v.8h2.6v.1h2.5v1.9h2.6v-.4h2.6v.8h2.6v1h2.6v.7h2.5v1.1h2.6v.2h2.6v.7h2.6v1.1h2.6v.7h2.5v1.3h2.6v.1h2.6v2.5h2.6v.3h2.5v-.2h2.6v1h2.6v1h2.6v.9h2.5v.3h2.6v2.2h2.6v1.1h2.8v-.2h2.8v1h2.8v.1h2.8v.9h2.8v1.4h2.8v.7h2.6v2.1h2.7v-.3h2.6v.6h2.6v2.9h2.6v.1h2.7v.2h2.6v1.7h2.6h2.7v1.9h2.6v1.9h2.6v.7h2.6v.7h2.7v.1h2.6v1.1h2.6v.3h2.6v1.8h2.6v.2h2.5v1.1h2.6v-.2h2.6v.4h2.6v1.9h2.6v.9h2.6v.4h2.5v.6h2.6v.7h2.6v.4h2.6v-.3h2.6v1.2h2.6v.3h2.5h2.6v.7h2.6v1.1h2.6v.6h2.6v1.7h2.7v1.3h2.6v-.2h2.6v1.7h2.6v.9h2.7v.7h2.6v-.4h2.6v.5h2.7v.8h2.6v.8h2.6v.8h2.6v1.6h2.7v1.3h2.6v.7h2.6v-.1h2.7v.9h2.6v.9h2.6v-.8h2.6v1.8h2.7v1.1h2.6v.4h2.6v.5h2.7v.1h2.6h2.6v1.8h2.6v-.3h2.7v1.6h2.6v.9h2.6v-.3h2.7v.9h2.6v1.9h2.7v.4h2.6v-.2h2.7v.7h2.6v.9h2.7v2.4h2.6v.6h2.7v-.4h2.6v2.2h2.7v1.1h2.6v.2h2.5v-.8h2.6v.2h2.5v-1h2.6v-.4h2.5v1.7h2.6v-.8h2.5v-.4h2.6v.6h2.5v-1.2h2.6v.7h2.5v-.3h2.6v-1.4h2.5v-.1h2.6v1h2.5v.9h2.6v1.6h2.6v.3h2.5v1.3h2.6v.4h2.5v2.5h2.6v-.2h2.6v1.2h2.5v1.2h2.6v1.6h2.6v.1h2.6v2.1h2.6v.2h2.5v1.1h2.6v1h2.6v.1h2.6v1.9h2.6v.5h2.6v.7h2.5v2.7h2.6v-.2h2.6v1.6h2.6v1.6h2.6v.7h2.6v.6h2.5v1.5h2.6v1.1h2.6v1.5h2.6v-.3h2.6v1.8h2.5v.3h2.6v1h2.6v1.8h2.5v.4h2.6v1h2.5v1.3h2.6v1.2h2.6h2.5v1.2h2.6v.7h2.6v1.2h2.6v1.5h2.6v.7h2.6v1.4h2.5v1h2.6v2.1h2.6v.7h2.6v1.6h2.6v.4" fill="none" stroke="#EE837D" stroke-width="1.3" stroke-linejoin="round"/>
<path d="M45.0 945.7h2.6v-.1h2.6v1.9h2.6v2h2.6v-7.3h2.6v-8.4h3.2v-4h3.2v-3.2h3.9v-21.4h3.2v-20.2h3.2v-21h2.6v-7.4h2.6v-8.3h2.6v-8.4h2.6v-5.3h2.6v-2.8h2.5v-3.9h2.6v-4.9h2.6v-2.4h2.5v-3.7h2.6v-5.4h2.6v-2.4h2.6v-2.9h2.6v-1.6h2.5v-.8h2.6v-2.1h2.6v-3.2h2.6v.2h2.5v-.2h2.6v-.8h2.6v-.7h2.5v-.1h2.6v.4h2.6v-1.8h2.6v.7h2.5v-.6h2.6v-1.3h2.6h2.6h2.5v-.9h2.6v-1.5h2.6v1.2h2.6v-1.1h2.6v-.3h2.5v-2.3h2.6v-.4h2.6v-1h2.6v.8h2.5v-1.7h2.6v-.9h2.6v-.1h2.6v2.1h2.5v.8h2.6h2.6v.8h2.6v2.6h2.5v.4h2.6v1.3h2.6v-.2h2.6v1h2.5v2.3h2.6v.6h2.6v-.2h2.6v2.2h2.5v-.1h2.6v.9h2.6v-.9h2.6v1h2.6v-2h2.5v1.1h2.6v-1.3h2.6v-.8h2.5h2.6v.2h2.6v-1.8h2.6v.5h2.6v1.5h2.6v.2h2.5v.5h2.6v.8h2.6v.6h2.6v1h2.6v1.1h2.5v.9h2.6v1.8h2.6h2.5v1.3h2.6v.3h2.6v1.2h2.6v.2h2.5v1.4h2.6v.4h2.6v2h2.6v.1h2.5v-.2h2.6v1h2.6v1.4h2.6v-1.1h2.5v1.9h2.6v-.3h2.6v.6h2.6v1.2h2.5v-.4h2.6v.7h2.6v.9h2.6v1.2h2.6v-.5h2.5v1.6h2.6v.4h2.6v.6h2.6v.2h2.5v.6h2.6v.1h2.6v.8h2.6v.6h2.5v2h2.6v-.3h2.6v.5h2.6v.5h2.5v2.2h2.6v.8h2.6v.2h2.6v.1h2.6v.8h2.7v1h2.6v1.2h2.6v.2h2.6v1.5h2.6v.5h2.7v2.3h2.6v.8h2.6v.1h2.6v.2h2.6v2.3h2.7v-.4h2.6v.9h2.6v.2h2.6v1.6h2.7v.9h2.6v.9h2.6v.2h2.6v1.4h2.7v-.2h2.6v1.3h2.6v.4h2.7v1.4h2.6v.1h2.6v.8h2.6v1.3h2.7v.7h2.6v1.5h2.6v1h2.7v1.6h2.6v.9h2.6v1.3h2.6v1.4h2.7v.2h2.6v1h2.6v2.5h2.7v-.6h2.6v2.3h2.6v1h2.6v-.1h2.7v2.7h2.6v1.3h2.6v.5h2.7v1.2h2.6v1.2h2.7v-.3h2.6v1.8h2.7v1h2.6v1.7h2.7v1h2.6v1.1h2.7v.6h2.6v1.6h2.7v.6h2.6v1.1h2.6v-.2h2.6v.3h2.6v.9h2.6v1.2h2.6v.2h2.6v2.2h2.6v.2h2.6v.8h2.5v.8h2.6v.8h2.6v.3h2.6v-.2h2.6v2.3h2.6v.6h2.6v.3h2.6v.7h2.6v1h2.6v-.7h2.6v1.9h2.5v-.5h2.6v.2h2.6v.9h2.6v1.4h2.6v-.5h2.5v1.6h2.6v1h2.6v-.5h2.6v.3h2.6v.7h2.5v1h2.6v.6h2.6v.3h2.6v.5h2.6v-.6h2.5v.7h2.6v.7h2.6v1.5h2.6v-.3h2.5v1.2h2.6v-.5h2.6v.7h2.6v1h2.5v1.5h2.6v.6h2.6v.6h2.5v-.1h2.6v1h2.6v.5h2.6v.7h2.5v-.1h2.6v2.2h2.6v-.8h2.5v2.2h2.6v.5h2.6v-1.2h2.6v1.5h2.5v1.3h2.6v.9h3.1v-3.5h3v-2.8h2.6v.9h2.5v2.5h2.6v-.5h2.6v1.8h2.5v.1h2.6v1.7h2.5v1.9h2.6v-.6h2.6v2.3h2.5v.4h2.6v1.8h2.6v.4h2.6v-.1h2.7v2.2h2.6h2.6v-.2h2.6v.8h2.6v1.8h2.7v.8h2.6v.5h2.6v.5h2.6v1.2h2.6v.8h2.7v1.8h2.6v-.8h2.6v2.3h2.7v.9h2.7v-.8h2.8v2.3h2.7v.3h2.7v1h2.7v-.5h2.8v.9h2.7v.7h2.7v1.9h3v-2.3h2.9v-1.9h3v-1.4h2.9v-1.8h3v-1.9h2.8v1.3h2.7v2.7h2.8v.1h2.7v2.6h2.8v-.2h2.7v1.3h2.8v1.7h2.7v1.2" fill="none" stroke="#6E9FDB" stroke-width="1.3" stroke-linejoin="round"/>
<path d="M45.0 931.4h4v-35.8h3.8v-24.8h3v-7.8h3v-7.9h3v-8h2.6h2.6v-.4h2.6v-1h2.6v-2.7h2.5v-4.1h2.6v-1.9h2.6v-5.6h2.5v-4.7h2.6v-5.3h2.6v-5.7h2.6v-3.4h2.6v-1.7h2.5v-4.2h2.6v-2.5h2.6v-3.2h2.6v-3.1h2.6v-.3h2.6v-.7h2.5v-2.1h2.6v-.4h2.6v-1.6h2.6v-.7h2.5v-1.4h2.6v-1.5h2.6v-1.1h2.6v-1h2.5h2.6v-1.8h2.6v-.7h2.6v.9h2.5v-.2h2.6v-1.1h2.6v-.7h2.5v-.2h2.6v-.4h2.6v.1h2.6h2.6v.5h2.5v.4h2.6v.8h2.6v.9h2.6v.1h2.6v-.2h2.5v.3h2.6v.5h2.6v.1h2.6v.2h2.5v-.2h2.6v.6h2.6v1.4h2.5v-1.1h2.6v.9h2.6v.4h2.6v.7h2.5v-.8h2.6v.3h2.6v.8h2.6v1h2.5v.8h2.6v1.6h2.6v.6h2.6v.8h2.6v-.6h2.5v.8h2.6v1.9h2.6v1h2.6v-.1h2.6v.7h2.5v-.4h2.6v1.1h2.6v1.4h2.6v.3h2.6v.6h2.5v.7h2.6v-.6h2.6v.3h2.6v.9h2.5v1.5h2.6v1.2h2.6v1.3h2.5v.6h2.6v.7h2.6v1.1h2.6v.4h2.5v1.1h2.6v.1h2.6v2.2h2.6v.1h2.5v2.2h2.6v.6h2.6v.4h2.6v.8h2.6v1.2h2.5v1.7h2.6v1.1h2.6v.1h2.6v1h2.5v1.8h2.6v1.2h2.6v.8h2.6v.8h2.5v1.7h2.6v.2h2.6v1.5h2.6v1.4h2.5v1.9h2.6v.6h2.6v1.5h2.6v.4h2.5v.7h2.6v1.1h2.6v2.3h2.6v.6h2.6v.5h2.5v.6h2.6v1.9h2.6v1.3h2.6v.7h2.7v.8h2.6v1.7h2.6v1.5h2.6h2.6v.7h2.7v1.6h2.6v1.2h2.6v1.5h2.6v.3h2.6v2h2.7v.9h2.6v.7h2.6v.6h2.6v2.2h2.6v-.1h2.6v1.8h2.5h2.6v1h2.6v1.8h2.6v.3h2.6v2h2.6v.2h2.5v.5h2.6v1h2.6v1.3h2.6v1.4h2.6v1.4h2.6v-.3h2.5v1.3h2.6v.7h2.6v2.2h2.6v-.4h2.6v1h2.6v1.2h2.6v1.7h2.5v2h2.6v1.1h2.6v1h2.6v1.5h2.6v1.1h2.6v.2h2.5v.9h2.6v2.4h2.6v.9h2.6h2.6v2.1h2.6v.8h2.5v1.1h2.6v1.1h2.6v.9h2.6v.9h2.6v1.5h2.6v1.1h2.5v2h2.6v-.3h2.6v2.4h2.6v-.2h2.6v1.3h2.5v1.8h2.6v1h2.6v.4h2.6v.4h2.5v1.7h2.6v.9h2.6v1.9h2.6v-.1h2.6v1.3h2.5v1.9h2.6v-.4h2.6v1.7h2.6v1.8h2.6v1.1h2.6h2.5v1.1h2.6v1.2h2.6v2.6h2.6v.1h2.6v1.9h2.6v1.4h2.5v.3h2.6v1h2.6v2.3h2.6v.6h2.6v.6h2.6v1.9h2.5v.5h2.6v1.1h2.6v.7h2.6v2.4h2.6v1h2.6v.4h2.6v1.2h2.5v-.6h2.6v1.1h2.6v1.1h2.6v1.6h2.6v.8h2.6v-.2h2.5v.6h2.6v1.1h2.6v.8h2.6v1.5h2.6v-.4h2.6v1.8h2.5v.6h2.6v1h2.6v.7h2.6v.5h2.6v.2h2.6v.6h2.6v.7h2.5v1.3h2.6v-.5h2.6v.9h2.6v1.5h2.6v-.2h2.6v.4h2.5v.6h2.6v1.4h2.6v.3h2.6v1.7h2.6v.5h2.6v.8h2.5v-.5h2.6v.4h2.6v.6h2.6v1.3h2.6v1.1h2.6v.4h2.6v.4h2.5v1.1h2.6v1.1h2.6v.9h2.6v.8h2.6v1h2.6v.5h2.5v-.1h2.6v1.9h2.6v-.1h2.6v1.2h2.6v.5h2.6v1.4h2.5v-.1h2.6v.8h2.6v.8h2.6v.6h2.5v1.8h2.6v.1h2.5v.2h2.6v.8h2.6v1.5h2.5v-.1h2.6v.1h2.5v1.6h2.6v.3h2.5v1.2h2.6v-.8h2.5v1.2h3.1v-11.7h3.1v-12.3h3.1v-4.7h3v-6.3h3v-4.6h3.1v-4.6" fill="none" stroke="#38A84A" stroke-width="1.6" stroke-linejoin="round"/>
<text x="662.6" y="794.2" font-family="'Liberation Sans', Arial, sans-serif" font-size="11.3" text-anchor="end" fill="#EE837D" textLength="170.6" lengthAdjust="spacingAndGlyphs">HALLMARK_E2F_TARGETS</text>
<text x="662.6" y="808.2" font-family="'Liberation Sans', Arial, sans-serif" font-size="11.3" text-anchor="end" fill="#38A84A" textLength="344.0" lengthAdjust="spacingAndGlyphs">HALLMARK_EPITHELIAL_MESENCHYMAL_TRANSITION</text>
<text x="662.6" y="822.4" font-family="'Liberation Sans', Arial, sans-serif" font-size="11.3" text-anchor="end" fill="#6E9FDB" textLength="198.3" lengthAdjust="spacingAndGlyphs">HALLMARK_G2M_CHECKPOINT</text>
<rect x="667.0" y="769.4" width="44.7" height="12.8" fill="#D2D2D2"/>
<rect x="713.6" y="769.4" width="47.1" height="12.8" fill="#D2D2D2"/>
<text x="689.3" y="779.3" font-family="'Liberation Sans', Arial, sans-serif" font-size="9" font-weight="bold" text-anchor="middle" fill="#1A1A1A">pvalue</text>
<text x="737.1" y="779.3" font-family="'Liberation Sans', Arial, sans-serif" font-size="9" font-weight="bold" text-anchor="middle" fill="#1A1A1A">p.adjust</text>
<rect x="667.0" y="783.7" width="44.7" height="13.2" fill="#EBEBEB"/>
<rect x="713.6" y="783.7" width="47.1" height="13.2" fill="#EBEBEB"/>
<text x="689.3" y="793.6" font-family="'Liberation Sans', Arial, sans-serif" font-size="9" text-anchor="middle" fill="#1A1A1A" textLength="42.0" lengthAdjust="spacingAndGlyphs">4.357e-09</text>
<text x="737.1" y="793.6" font-family="'Liberation Sans', Arial, sans-serif" font-size="9" text-anchor="middle" fill="#1A1A1A" textLength="44.0" lengthAdjust="spacingAndGlyphs">2.135e-07</text>
<rect x="667.0" y="797.7" width="44.7" height="13.2" fill="#EBEBEB"/>
<rect x="713.6" y="797.7" width="47.1" height="13.2" fill="#EBEBEB"/>
<text x="689.3" y="807.6" font-family="'Liberation Sans', Arial, sans-serif" font-size="9" text-anchor="middle" fill="#1A1A1A" textLength="42.0" lengthAdjust="spacingAndGlyphs">9.858e-09</text>
<text x="737.1" y="807.6" font-family="'Liberation Sans', Arial, sans-serif" font-size="9" text-anchor="middle" fill="#1A1A1A" textLength="44.0" lengthAdjust="spacingAndGlyphs">2.415e-07</text>
<rect x="667.0" y="811.9" width="44.7" height="13.2" fill="#EBEBEB"/>
<rect x="713.6" y="811.9" width="47.1" height="13.2" fill="#EBEBEB"/>
<text x="689.3" y="821.8" font-family="'Liberation Sans', Arial, sans-serif" font-size="9" text-anchor="middle" fill="#1A1A1A" textLength="42.0" lengthAdjust="spacingAndGlyphs">3.454e-07</text>
<text x="737.1" y="821.8" font-family="'Liberation Sans', Arial, sans-serif" font-size="9" text-anchor="middle" fill="#1A1A1A" textLength="44.0" lengthAdjust="spacingAndGlyphs">3.385e-06</text>
<path d="M84.3 1003.2V1029.5M65.0 1003.2V1029.5M82.1 1003.2V1029.5M176.2 1003.2V1029.5M295.8 1003.2V1029.5M370.5 1003.2V1029.5M531.9 1003.2V1029.5M621.9 1003.2V1029.5" stroke="#4A7FD6" stroke-width="1.4" stroke-opacity="0.8"/><path d="M84.3 1003.2V1029.5M121.4 1003.2V1029.5M117.3 1003.2V1029.5M72.0 1003.2V1029.5M178.8 1003.2V1029.5M206.5 1003.2V1029.5M344.1 1003.2V1029.5M436.2 1003.2V1029.5M562.9 1003.2V1029.5M562.7 1003.2V1029.5" stroke="#4A7FD6" stroke-width="0.9" stroke-opacity="0.8"/><path d="M97.2 1003.2V1029.5M83.9 1003.2V1029.5M82.1 1003.2V1029.5M72.9 1003.2V1029.5M71.9 1003.2V1029.5M340.1 1003.2V1029.5M341.6 1003.2V1029.5M379.3 1003.2V1029.5M464.0 1003.2V1029.5M509.8 1003.2V1029.5M556.9 1003.2V1029.5M615.8 1003.2V1029.5M656.8 1003.2V1029.5" stroke="#4A7FD6" stroke-width="0.7" stroke-opacity="0.35"/><path d="M90.6 1003.2V1029.5M92.3 1003.2V1029.5M67.1 1003.2V1029.5M98.2 1003.2V1029.5M156.9 1003.2V1029.5M125.1 1003.2V1029.5M213.1 1003.2V1029.5M201.7 1003.2V1029.5M380.5 1003.2V1029.5M389.0 1003.2V1029.5" stroke="#4A7FD6" stroke-width="1.4" stroke-opacity="0.25"/><path d="M96.7 1003.2V1029.5M81.0 1003.2V1029.5M65.2 1003.2V1029.5M172.2 1003.2V1029.5M156.5 1003.2V1029.5M148.6 1003.2V1029.5M152.9 1003.2V1029.5M428.0 1003.2V1029.5M521.9 1003.2V1029.5" stroke="#4A7FD6" stroke-width="0.7" stroke-opacity="0.8"/><path d="M56.0 1003.2V1029.5M83.5 1003.2V1029.5M54.7 1003.2V1029.5M57.0 1003.2V1029.5M104.1 1003.2V1029.5M226.0 1003.2V1029.5M319.2 1003.2V1029.5M497.4 1003.2V1029.5M555.3 1003.2V1029.5" stroke="#4A7FD6" stroke-width="0.9" stroke-opacity="0.35"/><path d="M95.0 1003.2V1029.5M99.5 1003.2V1029.5M68.9 1003.2V1029.5M231.7 1003.2V1029.5M254.0 1003.2V1029.5M262.3 1003.2V1029.5M375.9 1003.2V1029.5M387.5 1003.2V1029.5M476.0 1003.2V1029.5M501.6 1003.2V1029.5M737.6 1003.2V1029.5" stroke="#4A7FD6" stroke-width="1.1" stroke-opacity="0.6"/><path d="M97.9 1003.2V1029.5M52.7 1003.2V1029.5M111.7 1003.2V1029.5M95.3 1003.2V1029.5M60.8 1003.2V1029.5M143.6 1003.2V1029.5M172.6 1003.2V1029.5M316.4 1003.2V1029.5M373.1 1003.2V1029.5M392.8 1003.2V1029.5M464.7 1003.2V1029.5M498.4 1003.2V1029.5M656.6 1003.2V1029.5" stroke="#4A7FD6" stroke-width="0.7" stroke-opacity="0.6"/><path d="M102.8 1003.2V1029.5M216.9 1003.2V1029.5M267.6 1003.2V1029.5M310.3 1003.2V1029.5M317.7 1003.2V1029.5M557.2 1003.2V1029.5M558.7 1003.2V1029.5" stroke="#4A7FD6" stroke-width="0.9" stroke-opacity="0.45"/><path d="M88.7 1003.2V1029.5M56.5 1003.2V1029.5M61.4 1003.2V1029.5M131.6 1003.2V1029.5M214.7 1003.2V1029.5M317.1 1003.2V1029.5M467.2 1003.2V1029.5M556.6 1003.2V1029.5M615.3 1003.2V1029.5M664.0 1003.2V1029.5" stroke="#4A7FD6" stroke-width="0.7" stroke-opacity="0.25"/><path d="M59.4 1003.2V1029.5M173.1 1003.2V1029.5M221.4 1003.2V1029.5M566.4 1003.2V1029.5M662.5 1003.2V1029.5" stroke="#4A7FD6" stroke-width="1.4" stroke-opacity="0.45"/><path d="M78.8 1003.2V1029.5M101.3 1003.2V1029.5M56.7 1003.2V1029.5M158.9 1003.2V1029.5M267.2 1003.2V1029.5M294.4 1003.2V1029.5M476.3 1003.2V1029.5" stroke="#4A7FD6" stroke-width="1.4" stroke-opacity="0.6"/><path d="M56.9 1003.2V1029.5M64.9 1003.2V1029.5M174.3 1003.2V1029.5M220.6 1003.2V1029.5M388.7 1003.2V1029.5M421.5 1003.2V1029.5M657.3 1003.2V1029.5" stroke="#4A7FD6" stroke-width="1.1" stroke-opacity="0.35"/><path d="M76.0 1003.2V1029.5M52.8 1003.2V1029.5M127.7 1003.2V1029.5M236.4 1003.2V1029.5M334.1 1003.2V1029.5M520.4 1003.2V1029.5M608.8 1003.2V1029.5" stroke="#4A7FD6" stroke-width="1.1" stroke-opacity="0.45"/><path d="M56.0 1003.2V1029.5M340.5 1003.2V1029.5M421.7 1003.2V1029.5M500.3 1003.2V1029.5M553.3 1003.2V1029.5M554.6 1003.2V1029.5M761.0 1003.2V1029.5" stroke="#4A7FD6" stroke-width="0.9" stroke-opacity="0.6"/><path d="M100.9 1003.2V1029.5M88.4 1003.2V1029.5M96.6 1003.2V1029.5M111.8 1003.2V1029.5M58.3 1003.2V1029.5M209.2 1003.2V1029.5M385.5 1003.2V1029.5M429.0 1003.2V1029.5M532.0 1003.2V1029.5" stroke="#4A7FD6" stroke-width="1.4" stroke-opacity="0.35"/><path d="M71.2 1003.2V1029.5M216.1 1003.2V1029.5M313.3 1003.2V1029.5M339.6 1003.2V1029.5M393.7 1003.2V1029.5M427.6 1003.2V1029.5M534.1 1003.2V1029.5M606.8 1003.2V1029.5M690.2 1003.2V1029.5M748.0 1003.2V1029.5" stroke="#4A7FD6" stroke-width="1.1" stroke-opacity="0.8"/><path d="M123.8 1003.2V1029.5M69.7 1003.2V1029.5M386.5 1003.2V1029.5M380.0 1003.2V1029.5M730.5 1003.2V1029.5" stroke="#4A7FD6" stroke-width="0.9" stroke-opacity="0.25"/><path d="M83.6 1003.2V1029.5M59.2 1003.2V1029.5M128.4 1003.2V1029.5M288.4 1003.2V1029.5M298.7 1003.2V1029.5M373.7 1003.2V1029.5" stroke="#4A7FD6" stroke-width="1.1" stroke-opacity="0.25"/><path d="M174.8 1003.2V1029.5M149.3 1003.2V1029.5M293.1 1003.2V1029.5" stroke="#4A7FD6" stroke-width="0.7" stroke-opacity="0.45"/>
<path d="M95.5 1029.5V1056.3M50.7 1029.5V1056.3M226.1 1029.5V1056.3M230.2 1029.5V1056.3M231.2 1029.5V1056.3M372.3 1029.5V1056.3M408.7 1029.5V1056.3M419.3 1029.5V1056.3M569.2 1029.5V1056.3M579.5 1029.5V1056.3M692.1 1029.5V1056.3" stroke="#E8544C" stroke-width="1.1" stroke-opacity="0.8"/><path d="M60.0 1029.5V1056.3M71.2 1029.5V1056.3M91.3 1029.5V1056.3M145.9 1029.5V1056.3M175.9 1029.5V1056.3M167.9 1029.5V1056.3M244.5 1029.5V1056.3M322.8 1029.5V1056.3M334.1 1029.5V1056.3M490.4 1029.5V1056.3" stroke="#E8544C" stroke-width="1.1" stroke-opacity="0.25"/><path d="M96.4 1029.5V1056.3M56.7 1029.5V1056.3M93.5 1029.5V1056.3M118.1 1029.5V1056.3M107.8 1029.5V1056.3M113.1 1029.5V1056.3M101.9 1029.5V1056.3M111.5 1029.5V1056.3M171.7 1029.5V1056.3M197.0 1029.5V1056.3M230.1 1029.5V1056.3M406.8 1029.5V1056.3" stroke="#E8544C" stroke-width="0.9" stroke-opacity="0.6"/><path d="M104.5 1029.5V1056.3M143.2 1029.5V1056.3M102.5 1029.5V1056.3M83.6 1029.5V1056.3M151.7 1029.5V1056.3M166.5 1029.5V1056.3M325.9 1029.5V1056.3M405.5 1029.5V1056.3M401.6 1029.5V1056.3M648.0 1029.5V1056.3" stroke="#E8544C" stroke-width="0.9" stroke-opacity="0.8"/><path d="M149.5 1029.5V1056.3M143.8 1029.5V1056.3M146.3 1029.5V1056.3M53.5 1029.5V1056.3M171.7 1029.5V1056.3M245.4 1029.5V1056.3M278.5 1029.5V1056.3M380.1 1029.5V1056.3M477.9 1029.5V1056.3M507.4 1029.5V1056.3" stroke="#E8544C" stroke-width="0.9" stroke-opacity="0.45"/><path d="M81.1 1029.5V1056.3M106.4 1029.5V1056.3M49.3 1029.5V1056.3M65.0 1029.5V1056.3M46.5 1029.5V1056.3M501.3 1029.5V1056.3M740.8 1029.5V1056.3" stroke="#E8544C" stroke-width="0.7" stroke-opacity="0.35"/><path d="M99.7 1029.5V1056.3M397.0 1029.5V1056.3M409.2 1029.5V1056.3M488.9 1029.5V1056.3M525.1 1029.5V1056.3" stroke="#E8544C" stroke-width="1.4" stroke-opacity="0.45"/><path d="M130.2 1029.5V1056.3M70.6 1029.5V1056.3M100.5 1029.5V1056.3M302.1 1029.5V1056.3M379.4 1029.5V1056.3" stroke="#E8544C" stroke-width="0.7" stroke-opacity="0.25"/><path d="M54.4 1029.5V1056.3M126.2 1029.5V1056.3M169.3 1029.5V1056.3M228.3 1029.5V1056.3M324.6 1029.5V1056.3M323.9 1029.5V1056.3M336.6 1029.5V1056.3M403.9 1029.5V1056.3M408.6 1029.5V1056.3M513.2 1029.5V1056.3" stroke="#E8544C" stroke-width="1.4" stroke-opacity="0.6"/><path d="M149.3 1029.5V1056.3M113.4 1029.5V1056.3M111.4 1029.5V1056.3M170.7 1029.5V1056.3M422.4 1029.5V1056.3M498.5 1029.5V1056.3M511.2 1029.5V1056.3" stroke="#E8544C" stroke-width="0.9" stroke-opacity="0.25"/><path d="M99.1 1029.5V1056.3M109.2 1029.5V1056.3M130.2 1029.5V1056.3M301.2 1029.5V1056.3M646.3 1029.5V1056.3" stroke="#E8544C" stroke-width="1.4" stroke-opacity="0.25"/><path d="M109.8 1029.5V1056.3M74.5 1029.5V1056.3M73.7 1029.5V1056.3M248.2 1029.5V1056.3M374.6 1029.5V1056.3M399.3 1029.5V1056.3M397.3 1029.5V1056.3M496.0 1029.5V1056.3M531.1 1029.5V1056.3M634.6 1029.5V1056.3M650.4 1029.5V1056.3" stroke="#E8544C" stroke-width="1.4" stroke-opacity="0.8"/><path d="M95.8 1029.5V1056.3M47.7 1029.5V1056.3M102.0 1029.5V1056.3M377.5 1029.5V1056.3M404.9 1029.5V1056.3M459.7 1029.5V1056.3M649.5 1029.5V1056.3M644.6 1029.5V1056.3" stroke="#E8544C" stroke-width="0.7" stroke-opacity="0.6"/><path d="M149.3 1029.5V1056.3M84.2 1029.5V1056.3M47.2 1029.5V1056.3M97.2 1029.5V1056.3M106.9 1029.5V1056.3M52.4 1029.5V1056.3M118.3 1029.5V1056.3M178.8 1029.5V1056.3M249.2 1029.5V1056.3M410.2 1029.5V1056.3M431.6 1029.5V1056.3" stroke="#E8544C" stroke-width="1.1" stroke-opacity="0.45"/><path d="M145.6 1029.5V1056.3M91.1 1029.5V1056.3M119.3 1029.5V1056.3M234.4 1029.5V1056.3M323.9 1029.5V1056.3M375.1 1029.5V1056.3M425.0 1029.5V1056.3M429.5 1029.5V1056.3M520.5 1029.5V1056.3M512.2 1029.5V1056.3M520.6 1029.5V1056.3" stroke="#E8544C" stroke-width="1.1" stroke-opacity="0.6"/><path d="M56.9 1029.5V1056.3M120.2 1029.5V1056.3M119.1 1029.5V1056.3M120.8 1029.5V1056.3M246.6 1029.5V1056.3M221.6 1029.5V1056.3M332.0 1029.5V1056.3M420.2 1029.5V1056.3M472.4 1029.5V1056.3M519.8 1029.5V1056.3" stroke="#E8544C" stroke-width="1.1" stroke-opacity="0.35"/><path d="M100.3 1029.5V1056.3M147.2 1029.5V1056.3M113.2 1029.5V1056.3M63.5 1029.5V1056.3M84.0 1029.5V1056.3M299.6 1029.5V1056.3M474.5 1029.5V1056.3" stroke="#E8544C" stroke-width="1.4" stroke-opacity="0.35"/><path d="M125.4 1029.5V1056.3M89.7 1029.5V1056.3M266.3 1029.5V1056.3M491.3 1029.5V1056.3M502.8 1029.5V1056.3M579.5 1029.5V1056.3M576.8 1029.5V1056.3" stroke="#E8544C" stroke-width="0.9" stroke-opacity="0.35"/><path d="M53.0 1029.5V1056.3M93.7 1029.5V1056.3M220.7 1029.5V1056.3M219.2 1029.5V1056.3M282.3 1029.5V1056.3M328.7 1029.5V1056.3M336.9 1029.5V1056.3M375.5 1029.5V1056.3M571.7 1029.5V1056.3M611.5 1029.5V1056.3" stroke="#E8544C" stroke-width="0.7" stroke-opacity="0.45"/><path d="M92.8 1029.5V1056.3M316.5 1029.5V1056.3M375.9 1029.5V1056.3M464.7 1029.5V1056.3M473.6 1029.5V1056.3M611.2 1029.5V1056.3M663.5 1029.5V1056.3" stroke="#E8544C" stroke-width="0.7" stroke-opacity="0.8"/>
<path d="M85.7 1056.3V1082.5M150.3 1056.3V1082.5M73.5 1056.3V1082.5M62.4 1056.3V1082.5M187.7 1056.3V1082.5M85.4 1056.3V1082.5M272.7 1056.3V1082.5M347.6 1056.3V1082.5M371.4 1056.3V1082.5M520.1 1056.3V1082.5M654.8 1056.3V1082.5" stroke="#2A9E3A" stroke-width="0.9" stroke-opacity="0.35"/><path d="M65.3 1056.3V1082.5M154.2 1056.3V1082.5M136.2 1056.3V1082.5M187.5 1056.3V1082.5M71.1 1056.3V1082.5M121.1 1056.3V1082.5M91.9 1056.3V1082.5M265.3 1056.3V1082.5M249.5 1056.3V1082.5M404.3 1056.3V1082.5M520.2 1056.3V1082.5M544.5 1056.3V1082.5M599.1 1056.3V1082.5M701.8 1056.3V1082.5M788.2 1056.3V1082.5" stroke="#2A9E3A" stroke-width="0.9" stroke-opacity="0.8"/><path d="M162.7 1056.3V1082.5M134.2 1056.3V1082.5M264.0 1056.3V1082.5M256.3 1056.3V1082.5M294.5 1056.3V1082.5M380.4 1056.3V1082.5M539.4 1056.3V1082.5M599.3 1056.3V1082.5M658.8 1056.3V1082.5" stroke="#2A9E3A" stroke-width="1.4" stroke-opacity="0.25"/><path d="M64.7 1056.3V1082.5M136.7 1056.3V1082.5M169.5 1056.3V1082.5M112.7 1056.3V1082.5M92.4 1056.3V1082.5M121.8 1056.3V1082.5M83.3 1056.3V1082.5M82.0 1056.3V1082.5M159.8 1056.3V1082.5M406.5 1056.3V1082.5M412.8 1056.3V1082.5M540.0 1056.3V1082.5M786.0 1056.3V1082.5" stroke="#2A9E3A" stroke-width="0.7" stroke-opacity="0.8"/><path d="M202.1 1056.3V1082.5M159.2 1056.3V1082.5M187.4 1056.3V1082.5M195.5 1056.3V1082.5M99.3 1056.3V1082.5M53.6 1056.3V1082.5M228.1 1056.3V1082.5M331.8 1056.3V1082.5M382.7 1056.3V1082.5M409.3 1056.3V1082.5M643.8 1056.3V1082.5M713.0 1056.3V1082.5" stroke="#2A9E3A" stroke-width="0.7" stroke-opacity="0.35"/><path d="M182.8 1056.3V1082.5M161.7 1056.3V1082.5M112.5 1056.3V1082.5M97.4 1056.3V1082.5M62.0 1056.3V1082.5M167.5 1056.3V1082.5M349.2 1056.3V1082.5M730.5 1056.3V1082.5" stroke="#2A9E3A" stroke-width="1.4" stroke-opacity="0.45"/><path d="M162.7 1056.3V1082.5M91.2 1056.3V1082.5M134.3 1056.3V1082.5M128.1 1056.3V1082.5M80.0 1056.3V1082.5M153.1 1056.3V1082.5M112.0 1056.3V1082.5M80.5 1056.3V1082.5M174.2 1056.3V1082.5M244.8 1056.3V1082.5M231.5 1056.3V1082.5M618.7 1056.3V1082.5M763.9 1056.3V1082.5" stroke="#2A9E3A" stroke-width="1.1" stroke-opacity="0.35"/><path d="M101.0 1056.3V1082.5M146.0 1056.3V1082.5M95.3 1056.3V1082.5M158.5 1056.3V1082.5M87.1 1056.3V1082.5M60.6 1056.3V1082.5M226.6 1056.3V1082.5M251.8 1056.3V1082.5M409.3 1056.3V1082.5M465.8 1056.3V1082.5M520.7 1056.3V1082.5M658.3 1056.3V1082.5M700.1 1056.3V1082.5M783.1 1056.3V1082.5M787.3 1056.3V1082.5" stroke="#2A9E3A" stroke-width="1.4" stroke-opacity="0.35"/><path d="M187.0 1056.3V1082.5M133.4 1056.3V1082.5M115.9 1056.3V1082.5M93.5 1056.3V1082.5M137.4 1056.3V1082.5M147.7 1056.3V1082.5M141.1 1056.3V1082.5M136.3 1056.3V1082.5M172.2 1056.3V1082.5M237.9 1056.3V1082.5M409.0 1056.3V1082.5M546.2 1056.3V1082.5" stroke="#2A9E3A" stroke-width="1.4" stroke-opacity="0.8"/><path d="M151.0 1056.3V1082.5M84.8 1056.3V1082.5M55.3 1056.3V1082.5M210.9 1056.3V1082.5M228.6 1056.3V1082.5M774.6 1056.3V1082.5" stroke="#2A9E3A" stroke-width="1.1" stroke-opacity="0.6"/><path d="M148.5 1056.3V1082.5M161.4 1056.3V1082.5M63.9 1056.3V1082.5M197.1 1056.3V1082.5M129.0 1056.3V1082.5M231.3 1056.3V1082.5M369.0 1056.3V1082.5" stroke="#2A9E3A" stroke-width="1.1" stroke-opacity="0.45"/><path d="M114.5 1056.3V1082.5M140.6 1056.3V1082.5M171.3 1056.3V1082.5M203.1 1056.3V1082.5M258.4 1056.3V1082.5M287.0 1056.3V1082.5M546.7 1056.3V1082.5M539.7 1056.3V1082.5M659.1 1056.3V1082.5M703.3 1056.3V1082.5M700.6 1056.3V1082.5M764.5 1056.3V1082.5M774.7 1056.3V1082.5" stroke="#2A9E3A" stroke-width="0.9" stroke-opacity="0.6"/><path d="M65.4 1056.3V1082.5M80.3 1056.3V1082.5M50.7 1056.3V1082.5M60.5 1056.3V1082.5M202.6 1056.3V1082.5M110.6 1056.3V1082.5M86.1 1056.3V1082.5M75.4 1056.3V1082.5M286.4 1056.3V1082.5M340.3 1056.3V1082.5M413.3 1056.3V1082.5M413.9 1056.3V1082.5M405.3 1056.3V1082.5M545.7 1056.3V1082.5" stroke="#2A9E3A" stroke-width="1.4" stroke-opacity="0.6"/><path d="M106.4 1056.3V1082.5M75.6 1056.3V1082.5M93.4 1056.3V1082.5M78.6 1056.3V1082.5M153.0 1056.3V1082.5M243.2 1056.3V1082.5M311.3 1056.3V1082.5M413.6 1056.3V1082.5M458.3 1056.3V1082.5M461.9 1056.3V1082.5M524.3 1056.3V1082.5M550.9 1056.3V1082.5M792.7 1056.3V1082.5M792.9 1056.3V1082.5" stroke="#2A9E3A" stroke-width="0.7" stroke-opacity="0.6"/><path d="M76.8 1056.3V1082.5M148.2 1056.3V1082.5M90.8 1056.3V1082.5M129.2 1056.3V1082.5M191.4 1056.3V1082.5M135.2 1056.3V1082.5M254.9 1056.3V1082.5M268.5 1056.3V1082.5M655.6 1056.3V1082.5M707.7 1056.3V1082.5M786.8 1056.3V1082.5" stroke="#2A9E3A" stroke-width="0.9" stroke-opacity="0.45"/><path d="M101.6 1056.3V1082.5M167.2 1056.3V1082.5M51.6 1056.3V1082.5M141.9 1056.3V1082.5M245.3 1056.3V1082.5" stroke="#2A9E3A" stroke-width="1.1" stroke-opacity="0.8"/><path d="M198.6 1056.3V1082.5M58.9 1056.3V1082.5M127.7 1056.3V1082.5M143.3 1056.3V1082.5M158.9 1056.3V1082.5M229.6 1056.3V1082.5M292.6 1056.3V1082.5M776.6 1056.3V1082.5M785.9 1056.3V1082.5" stroke="#2A9E3A" stroke-width="0.7" stroke-opacity="0.45"/><path d="M127.4 1056.3V1082.5M58.4 1056.3V1082.5M177.8 1056.3V1082.5M58.4 1056.3V1082.5M71.1 1056.3V1082.5M176.4 1056.3V1082.5M224.7 1056.3V1082.5M575.6 1056.3V1082.5M653.5 1056.3V1082.5M655.5 1056.3V1082.5M764.6 1056.3V1082.5M783.5 1056.3V1082.5" stroke="#2A9E3A" stroke-width="0.7" stroke-opacity="0.25"/><path d="M65.2 1056.3V1082.5M226.5 1056.3V1082.5M776.4 1056.3V1082.5M784.1 1056.3V1082.5" stroke="#2A9E3A" stroke-width="1.1" stroke-opacity="0.25"/><path d="M64.5 1056.3V1082.5M196.7 1056.3V1082.5M98.3 1056.3V1082.5M228.9 1056.3V1082.5M646.8 1056.3V1082.5" stroke="#2A9E3A" stroke-width="0.9" stroke-opacity="0.25"/>
<line x1="45.1" y1="1085.0" x2="45.1" y2="1243.3" stroke="#555" stroke-width="1.3"/>
<line x1="45.1" y1="1243.3" x2="793.7" y2="1243.3" stroke="#555" stroke-width="1.3"/>
<line x1="42.1" y1="1089.5" x2="45.1" y2="1089.5" stroke="#555" stroke-width="1"/>
<text x="42.0" y="1092.7" font-family="'Liberation Sans', Arial, sans-serif" font-size="9" text-anchor="end" fill="#4D4D4D">15</text>
<line x1="42.1" y1="1118.4" x2="45.1" y2="1118.4" stroke="#555" stroke-width="1"/>
<text x="42.0" y="1121.6" font-family="'Liberation Sans', Arial, sans-serif" font-size="9" text-anchor="end" fill="#4D4D4D">10</text>
<line x1="42.1" y1="1147.5" x2="45.1" y2="1147.5" stroke="#555" stroke-width="1"/>
<text x="42.0" y="1150.7" font-family="'Liberation Sans', Arial, sans-serif" font-size="9" text-anchor="end" fill="#4D4D4D">5</text>
<line x1="42.1" y1="1176.6" x2="45.1" y2="1176.6" stroke="#555" stroke-width="1"/>
<text x="42.0" y="1179.8" font-family="'Liberation Sans', Arial, sans-serif" font-size="9" text-anchor="end" fill="#4D4D4D">0</text>
<line x1="42.1" y1="1206.0" x2="45.1" y2="1206.0" stroke="#555" stroke-width="1"/>
<text x="42.0" y="1209.2" font-family="'Liberation Sans', Arial, sans-serif" font-size="9" text-anchor="end" fill="#4D4D4D">-5</text>
<line x1="42.1" y1="1235.1" x2="45.1" y2="1235.1" stroke="#555" stroke-width="1"/>
<text x="42.0" y="1238.3" font-family="'Liberation Sans', Arial, sans-serif" font-size="9" text-anchor="end" fill="#4D4D4D">-10</text>
<path d="M45.1 1176.6 L45.1 1120.5 L46.6 1131.7 L48.1 1138.3 L49.6 1140.7 L51.1 1143.1 L52.6 1144.9 L54.1 1145.6 L55.6 1146.3 L57.1 1147.0 L58.6 1147.6 L60.1 1148.3 L61.6 1149.0 L63.1 1149.7 L64.6 1150.3 L66.1 1150.9 L67.6 1151.4 L69.1 1152.0 L70.6 1152.6 L72.1 1153.1 L73.6 1153.7 L75.1 1154.2 L76.6 1154.8 L78.1 1155.4 L79.6 1155.9 L81.1 1156.5 L82.6 1157.1 L84.1 1157.6 L85.6 1158.2 L87.1 1158.6 L88.6 1158.9 L90.1 1159.1 L91.6 1159.3 L93.1 1159.5 L94.6 1159.8 L96.1 1160.0 L97.6 1160.2 L99.1 1160.4 L100.6 1160.7 L102.1 1160.9 L103.6 1161.1 L105.1 1161.3 L106.6 1161.6 L108.1 1161.8 L109.6 1162.0 L111.1 1162.2 L112.6 1162.5 L114.1 1162.7 L115.6 1162.9 L117.1 1163.1 L118.6 1163.4 L120.1 1163.6 L121.6 1163.8 L123.1 1164.1 L124.6 1164.3 L126.1 1164.5 L127.6 1164.7 L129.1 1165.0 L130.6 1165.2 L132.1 1165.4 L133.6 1165.6 L135.1 1165.7 L136.6 1165.8 L138.1 1166.0 L139.6 1166.1 L141.1 1166.2 L142.6 1166.3 L144.1 1166.4 L145.6 1166.6 L147.1 1166.7 L148.6 1166.8 L150.1 1166.9 L151.6 1167.0 L153.1 1167.2 L154.6 1167.3 L156.1 1167.4 L157.6 1167.5 L159.1 1167.6 L160.6 1167.8 L162.1 1167.9 L163.6 1168.0 L165.1 1168.1 L166.6 1168.2 L168.1 1168.4 L169.6 1168.5 L171.1 1168.6 L172.6 1168.7 L174.1 1168.9 L175.6 1169.0 L177.1 1169.1 L178.6 1169.2 L180.1 1169.3 L181.6 1169.4 L183.1 1169.5 L184.6 1169.6 L186.1 1169.7 L187.6 1169.8 L189.1 1169.8 L190.6 1169.9 L192.1 1170.0 L193.6 1170.1 L195.1 1170.2 L196.6 1170.3 L198.1 1170.3 L199.6 1170.4 L201.1 1170.5 L202.6 1170.6 L204.1 1170.7 L205.6 1170.8 L207.1 1170.9 L208.6 1170.9 L210.1 1171.0 L211.6 1171.1 L213.1 1171.2 L214.6 1171.3 L216.1 1171.4 L217.6 1171.4 L219.1 1171.5 L220.6 1171.6 L222.1 1171.7 L223.6 1171.8 L225.1 1171.9 L226.6 1171.9 L228.1 1172.0 L229.6 1172.0 L231.1 1172.1 L232.6 1172.1 L234.1 1172.2 L235.6 1172.2 L237.1 1172.2 L238.6 1172.3 L240.1 1172.3 L241.6 1172.4 L243.1 1172.4 L244.6 1172.5 L246.1 1172.5 L247.6 1172.5 L249.1 1172.6 L250.6 1172.6 L252.1 1172.7 L253.6 1172.7 L255.1 1172.7 L256.6 1172.8 L258.1 1172.8 L259.6 1172.9 L261.1 1172.9 L262.6 1173.0 L264.1 1173.0 L265.6 1173.0 L267.1 1173.1 L268.6 1173.1 L270.1 1173.2 L271.6 1173.2 L273.1 1173.3 L274.6 1173.3 L276.1 1173.3 L277.6 1173.4 L279.1 1173.4 L280.6 1173.5 L282.1 1173.5 L283.6 1173.5 L285.1 1173.6 L286.6 1173.6 L288.1 1173.7 L289.6 1173.7 L291.1 1173.8 L292.6 1173.8 L294.1 1173.8 L295.6 1173.9 L297.1 1173.9 L298.6 1174.0 L300.1 1174.0 L301.6 1174.1 L303.1 1174.1 L304.6 1174.1 L306.1 1174.2 L307.6 1174.2 L309.1 1174.3 L310.6 1174.3 L312.1 1174.3 L313.6 1174.4 L315.1 1174.4 L316.6 1174.5 L318.1 1174.5 L319.6 1174.6 L321.1 1174.6 L322.6 1174.6 L324.1 1174.6 L325.6 1174.7 L327.1 1174.7 L328.6 1174.7 L330.1 1174.8 L331.6 1174.8 L333.1 1174.8 L334.6 1174.9 L336.1 1174.9 L337.6 1174.9 L339.1 1174.9 L340.6 1175.0 L342.1 1175.0 L343.6 1175.0 L345.1 1175.1 L346.6 1175.1 L348.1 1175.1 L349.6 1175.1 L351.1 1175.2 L352.6 1175.2 L354.1 1175.2 L355.6 1175.3 L357.1 1175.3 L358.6 1175.3 L360.1 1175.3 L361.6 1175.4 L363.1 1175.4 L364.6 1175.4 L366.1 1175.5 L367.6 1175.5 L369.1 1175.5 L370.6 1175.5 L372.1 1175.6 L373.6 1175.6 L375.1 1175.6 L376.6 1175.7 L378.1 1175.7 L379.6 1175.7 L381.1 1175.7 L382.6 1175.8 L384.1 1175.8 L385.6 1175.8 L387.1 1175.8 L388.6 1175.8 L390.1 1175.9 L391.6 1175.9 L393.1 1175.9 L394.6 1175.9 L396.1 1175.9 L397.6 1175.9 L399.1 1176.0 L400.6 1176.0 L402.1 1176.0 L403.6 1176.0 L405.1 1176.0 L406.6 1176.1 L408.1 1176.1 L409.6 1176.1 L411.1 1176.1 L412.6 1176.1 L414.1 1176.1 L415.6 1176.2 L417.1 1176.2 L418.6 1176.2 L420.1 1176.2 L421.6 1176.2 L423.1 1176.3 L424.6 1176.3 L426.1 1176.3 L427.6 1176.3 L429.1 1176.3 L430.6 1176.4 L432.1 1176.4 L433.6 1176.4 L435.1 1176.4 L436.6 1176.4 L438.1 1176.4 L439.6 1176.5 L441.1 1176.5 L442.6 1177.0 L444.1 1177.5 L445.6 1177.8 L447.1 1177.8 L448.6 1177.8 L450.1 1177.9 L451.6 1177.9 L453.1 1178.0 L454.6 1178.0 L456.1 1178.0 L457.6 1178.1 L459.1 1178.1 L460.6 1178.1 L462.1 1178.2 L463.6 1178.2 L465.1 1178.2 L466.6 1178.3 L468.1 1178.3 L469.6 1178.4 L471.1 1178.4 L472.6 1178.4 L474.1 1178.5 L475.6 1178.5 L477.1 1178.5 L478.6 1178.6 L480.1 1178.6 L481.6 1178.6 L483.1 1178.7 L484.6 1178.7 L486.1 1178.7 L487.6 1178.8 L489.1 1178.8 L490.6 1178.9 L492.1 1178.9 L493.6 1178.9 L495.1 1179.0 L496.6 1179.0 L498.1 1179.0 L499.6 1179.1 L501.1 1179.1 L502.6 1179.1 L504.1 1179.2 L505.6 1179.2 L507.1 1179.2 L508.6 1179.3 L510.1 1179.3 L511.6 1179.3 L513.1 1179.4 L514.6 1179.4 L516.1 1179.4 L517.6 1179.5 L519.1 1179.5 L520.6 1179.5 L522.1 1179.6 L523.6 1179.6 L525.1 1179.6 L526.6 1179.7 L528.1 1179.7 L529.6 1179.7 L531.1 1179.8 L532.6 1179.8 L534.1 1179.8 L535.6 1179.9 L537.1 1179.9 L538.6 1179.9 L540.1 1180.0 L541.6 1180.0 L543.1 1180.0 L544.6 1180.1 L546.1 1180.1 L547.6 1180.1 L549.1 1180.2 L550.6 1180.2 L552.1 1180.2 L553.6 1180.3 L555.1 1180.3 L556.6 1180.3 L558.1 1180.4 L559.6 1180.4 L561.1 1180.4 L562.6 1180.5 L564.1 1180.5 L565.6 1180.5 L567.1 1180.6 L568.6 1180.6 L570.1 1180.6 L571.6 1180.6 L573.1 1180.7 L574.6 1180.7 L576.1 1180.7 L577.6 1180.8 L579.1 1180.8 L580.6 1180.8 L582.1 1180.9 L583.6 1180.9 L585.1 1180.9 L586.6 1181.0 L588.1 1181.0 L589.6 1181.0 L591.1 1181.1 L592.6 1181.1 L594.1 1181.1 L595.6 1181.2 L597.1 1181.2 L598.6 1181.2 L600.1 1181.3 L601.6 1181.4 L603.1 1181.5 L604.6 1181.6 L606.1 1181.6 L607.6 1181.7 L609.1 1181.8 L610.6 1181.9 L612.1 1182.0 L613.6 1182.1 L615.1 1182.2 L616.6 1182.2 L618.1 1182.3 L619.6 1182.4 L621.1 1182.5 L622.6 1182.6 L624.1 1182.7 L625.6 1182.8 L627.1 1182.8 L628.6 1182.9 L630.1 1183.0 L631.6 1183.1 L633.1 1183.2 L634.6 1183.3 L636.1 1183.4 L637.6 1183.5 L639.1 1183.5 L640.6 1183.6 L642.1 1183.7 L643.6 1183.8 L645.1 1183.9 L646.6 1184.0 L648.1 1184.1 L649.6 1184.1 L651.1 1184.3 L652.6 1184.5 L654.1 1184.7 L655.6 1184.9 L657.1 1185.0 L658.6 1185.2 L660.1 1185.4 L661.6 1185.6 L663.1 1185.8 L664.6 1186.0 L666.1 1186.1 L667.6 1186.3 L669.1 1186.5 L670.6 1186.7 L672.1 1186.9 L673.6 1187.1 L675.1 1187.2 L676.6 1187.4 L678.1 1187.6 L679.6 1187.8 L681.1 1188.0 L682.6 1188.2 L684.1 1188.3 L685.6 1188.5 L687.1 1188.7 L688.6 1188.9 L690.1 1189.1 L691.6 1189.3 L693.1 1189.5 L694.6 1189.8 L696.1 1190.1 L697.6 1190.4 L699.1 1190.7 L700.6 1191.0 L702.1 1191.3 L703.6 1191.6 L705.1 1191.9 L706.6 1192.2 L708.1 1192.5 L709.6 1192.8 L711.1 1193.1 L712.6 1193.4 L714.1 1193.7 L715.6 1194.0 L717.1 1194.3 L718.6 1194.6 L720.1 1194.9 L721.6 1195.2 L723.1 1195.5 L724.6 1195.8 L726.1 1196.1 L727.6 1196.4 L729.1 1196.7 L730.6 1197.0 L732.1 1197.3 L733.6 1197.6 L735.1 1197.9 L736.6 1198.2 L738.1 1198.5 L739.6 1198.8 L741.1 1199.3 L742.6 1199.8 L744.1 1200.3 L745.6 1200.8 L747.1 1201.3 L748.6 1201.8 L750.1 1202.3 L751.6 1202.8 L753.1 1203.3 L754.6 1203.8 L756.1 1204.3 L757.6 1204.8 L759.1 1205.3 L760.6 1205.8 L762.1 1206.3 L763.6 1206.8 L765.1 1207.3 L766.6 1207.8 L768.1 1208.4 L769.6 1209.1 L771.1 1209.8 L772.6 1210.5 L774.1 1211.1 L775.6 1211.8 L777.1 1212.5 L778.6 1213.2 L780.1 1213.9 L781.6 1215.4 L783.1 1216.9 L784.6 1218.3 L786.1 1219.8 L787.6 1222.5 L789.1 1225.1 L790.6 1228.3 L792.1 1232.4 L793.6 1234.8 L793.7 1234.8 L793.7 1176.6 Z" fill="#BEBEBE"/>
<line x1="45.1" y1="1176.6" x2="793.7" y2="1176.6" stroke="#A8A8A8" stroke-width="1.2"/>
<line x1="237.0" y1="1243.3" x2="237.0" y2="1246.5" stroke="#555" stroke-width="1"/>
<text x="237.0" y="1253.5" font-family="'Liberation Sans', Arial, sans-serif" font-size="8.5" text-anchor="middle" fill="#4D4D4D">3000</text>
<line x1="429.6" y1="1243.3" x2="429.6" y2="1246.5" stroke="#555" stroke-width="1"/>
<text x="429.6" y="1253.5" font-family="'Liberation Sans', Arial, sans-serif" font-size="8.5" text-anchor="middle" fill="#4D4D4D">6000</text>
<line x1="622.9" y1="1243.3" x2="622.9" y2="1246.5" stroke="#555" stroke-width="1"/>
<text x="622.9" y="1253.5" font-family="'Liberation Sans', Arial, sans-serif" font-size="8.5" text-anchor="middle" fill="#4D4D4D">9000</text>
<text x="434.5" y="1266.5" font-family="'Liberation Sans', Arial, sans-serif" font-size="13" text-anchor="middle" fill="#1A1A1A" textLength="144.0" lengthAdjust="spacingAndGlyphs">Rank in Ordered Dataset</text>
<text x="23.5" y="1152.6" font-family="'Liberation Sans', Arial, sans-serif" font-size="12.8" text-anchor="middle" fill="#1A1A1A" textLength="107.0" lengthAdjust="spacingAndGlyphs" transform="rotate(-90 23.5 1152.6)">Ranked List Metric</text>
<rect x="846.8" y="778.1" width="385.5" height="439.3" fill="#fff" stroke="#7F7F7F" stroke-width="1.3"/>
<line x1="843.5" y1="797.3" x2="846.8" y2="797.3" stroke="#555" stroke-width="1"/>
<text x="842.3" y="802.1" font-family="'Liberation Sans', Arial, sans-serif" font-size="13.5" text-anchor="end" fill="#6B6B6B">1.00</text>
<line x1="843.5" y1="897.2" x2="846.8" y2="897.2" stroke="#555" stroke-width="1"/>
<text x="842.3" y="902.0" font-family="'Liberation Sans', Arial, sans-serif" font-size="13.5" text-anchor="end" fill="#6B6B6B">0.75</text>
<line x1="843.5" y1="997.1" x2="846.8" y2="997.1" stroke="#555" stroke-width="1"/>
<text x="842.3" y="1001.9" font-family="'Liberation Sans', Arial, sans-serif" font-size="13.5" text-anchor="end" fill="#6B6B6B">0.50</text>
<line x1="843.5" y1="1097.0" x2="846.8" y2="1097.0" stroke="#555" stroke-width="1"/>
<text x="842.3" y="1101.8" font-family="'Liberation Sans', Arial, sans-serif" font-size="13.5" text-anchor="end" fill="#6B6B6B">0.25</text>
<line x1="843.5" y1="1196.9" x2="846.8" y2="1196.9" stroke="#555" stroke-width="1"/>
<text x="842.3" y="1201.7" font-family="'Liberation Sans', Arial, sans-serif" font-size="13.5" text-anchor="end" fill="#6B6B6B">0.00</text>
<rect x="890.1" y="797.2" width="122.9" height="76.2" fill="#CD1B3A" stroke="#333" stroke-width="0.7"/>
<rect x="890.1" y="873.4" width="122.9" height="105.5" fill="#1B489B" stroke="#333" stroke-width="0.7"/>
<rect x="890.1" y="978.9" width="122.9" height="37.5" fill="#28A8A0" stroke="#333" stroke-width="0.7"/>
<rect x="890.1" y="1016.4" width="122.9" height="38.1" fill="#F2A11F" stroke="#333" stroke-width="0.7"/>
<rect x="890.1" y="1054.5" width="122.9" height="64.4" fill="#8068AC" stroke="#333" stroke-width="0.7"/>
<rect x="890.1" y="1118.9" width="122.9" height="43.3" fill="#A1CF8E" stroke="#333" stroke-width="0.7"/>
<rect x="890.1" y="1162.2" width="122.9" height="22.9" fill="#E47A7B" stroke="#333" stroke-width="0.7"/>
<rect x="890.1" y="1185.1" width="122.9" height="12.5" fill="#3A80C3" stroke="#333" stroke-width="0.7"/>
<rect x="1066.2" y="797.2" width="122.6" height="182.5" fill="#CD1B3A" stroke="#333" stroke-width="0.7"/>
<rect x="1066.2" y="979.7" width="122.6" height="8.3" fill="#1B489B" stroke="#333" stroke-width="0.7"/>
<rect x="1066.2" y="988.0" width="122.6" height="110.2" fill="#28A8A0" stroke="#333" stroke-width="0.7"/>
<rect x="1066.2" y="1098.2" width="122.6" height="15.7" fill="#F2A11F" stroke="#333" stroke-width="0.7"/>
<rect x="1066.2" y="1113.9" width="122.6" height="3.3" fill="#8068AC" stroke="#333" stroke-width="0.7"/>
<rect x="1066.2" y="1117.2" width="122.6" height="32.6" fill="#A1CF8E" stroke="#333" stroke-width="0.7"/>
<rect x="1066.2" y="1149.8" width="122.6" height="32.6" fill="#E47A7B" stroke="#333" stroke-width="0.7"/>
<rect x="1066.2" y="1182.4" width="122.6" height="2.7" fill="#3A80C3" stroke="#333" stroke-width="0.7"/>
<rect x="1066.2" y="1185.1" width="122.6" height="12.5" fill="#8BC129" stroke="#333" stroke-width="0.7"/>
<line x1="951.4" y1="1217.4" x2="951.4" y2="1220.5" stroke="#555" stroke-width="1"/>
<text x="951.4" y="1233.3" font-family="'Liberation Sans', Arial, sans-serif" font-size="13.5" text-anchor="middle" fill="#4D4D4D">N</text>
<line x1="1127.5" y1="1217.4" x2="1127.5" y2="1220.5" stroke="#555" stroke-width="1"/>
<text x="1127.5" y="1233.3" font-family="'Liberation Sans', Arial, sans-serif" font-size="13.5" text-anchor="middle" fill="#4D4D4D">T</text>
<text x="1046.0" y="1243.5" font-family="'Liberation Sans', Arial, sans-serif" font-size="18.5" text-anchor="middle" fill="#1A1A1A">Sample</text>
<text x="812.5" y="990.0" font-family="'Liberation Sans', Arial, sans-serif" font-size="18.5" text-anchor="middle" fill="#1A1A1A" transform="rotate(-90 812.5 990.0)">Ratio</text>
<text x="1240.1" y="921.3" font-family="'Liberation Sans', Arial, sans-serif" font-size="13.5" fill="#1A1A1A">Var1</text>
<rect x="1240.5" y="929.2" width="16.1" height="16.2" fill="#CD1B3A" stroke="#555" stroke-width="0.7"/>
<text x="1263.4" y="942.2" font-family="'Liberation Sans', Arial, sans-serif" font-size="13.5" fill="#1A1A1A">T_cells</text>
<rect x="1240.5" y="946.8" width="16.1" height="16.2" fill="#1B489B" stroke="#555" stroke-width="0.7"/>
<text x="1263.4" y="959.8" font-family="'Liberation Sans', Arial, sans-serif" font-size="13.5" fill="#1A1A1A">Mast_cells</text>
<rect x="1240.5" y="964.3" width="16.1" height="16.2" fill="#28A8A0" stroke="#555" stroke-width="0.7"/>
<text x="1263.4" y="977.3" font-family="'Liberation Sans', Arial, sans-serif" font-size="13.5" fill="#1A1A1A">B_cells</text>
<rect x="1240.5" y="981.9" width="16.1" height="16.2" fill="#F2A11F" stroke="#555" stroke-width="0.7"/>
<text x="1263.4" y="994.9" font-family="'Liberation Sans', Arial, sans-serif" font-size="13.5" fill="#1A1A1A">Neutrophils</text>
<rect x="1240.5" y="999.4" width="16.1" height="16.2" fill="#8068AC" stroke="#555" stroke-width="0.7"/>
<text x="1263.4" y="1012.4" font-family="'Liberation Sans', Arial, sans-serif" font-size="13.5" fill="#1A1A1A">WISP1_Fib_Negative</text>
<rect x="1240.5" y="1017.0" width="16.1" height="16.2" fill="#A1CF8E" stroke="#555" stroke-width="0.7"/>
<text x="1263.4" y="1030.0" font-family="'Liberation Sans', Arial, sans-serif" font-size="13.5" fill="#1A1A1A">Myeloid_cells</text>
<rect x="1240.5" y="1034.6" width="16.1" height="16.2" fill="#E47A7B" stroke="#555" stroke-width="0.7"/>
<text x="1263.4" y="1047.6" font-family="'Liberation Sans', Arial, sans-serif" font-size="13.5" fill="#1A1A1A">Epithelial/Tumor</text>
<rect x="1240.5" y="1052.1" width="16.1" height="16.2" fill="#3A80C3" stroke="#555" stroke-width="0.7"/>
<text x="1263.4" y="1065.1" font-family="'Liberation Sans', Arial, sans-serif" font-size="13.5" fill="#1A1A1A">Endothelial_cells</text>
<rect x="1240.5" y="1069.7" width="16.1" height="16.2" fill="#8BC129" stroke="#555" stroke-width="0.7"/>
<text x="1263.4" y="1082.7" font-family="'Liberation Sans', Arial, sans-serif" font-size="13.5" fill="#1A1A1A">WISP1_Fib_Positive</text>
<path d="M1511.5 846.1 Q1555.2 787.2 1612.7 781.2" fill="none" stroke="#F6A623" stroke-width="5" stroke-opacity="0.75" stroke-linecap="round"/><path d="M1620.1 780.4 L1613.1 785.5 L1612.2 776.9 Z" fill="#F6A623" fill-opacity="0.85"/>
<path d="M1511.5 846.1 Q1522.5 808.5 1546.7 796.5" fill="none" stroke="#F6A623" stroke-width="4" stroke-opacity="0.75" stroke-linecap="round"/><path d="M1553.1 793.4 L1548.5 800.1 L1545.0 793.0 Z" fill="#F6A623" fill-opacity="0.85"/>
<path d="M1511.5 846.1 Q1594.0 790.6 1677.1 810.6" fill="none" stroke="#F6A623" stroke-width="1.2" stroke-opacity="0.75" stroke-linecap="round"/><path d="M1682.9 812.0 L1676.4 813.6 L1677.8 807.7 Z" fill="#F6A623" fill-opacity="0.85"/>
<path d="M1511.5 846.1 Q1620.6 817.8 1699.8 869.1" fill="none" stroke="#F6A623" stroke-width="4" stroke-opacity="0.75" stroke-linecap="round"/><path d="M1705.8 873.0 L1697.7 872.5 L1702.0 865.8 Z" fill="#F6A623" fill-opacity="0.85"/>
<path d="M1511.5 846.1 Q1526.1 880.0 1516.4 901.7" fill="none" stroke="#F6A623" stroke-width="5.5" stroke-opacity="0.75" stroke-linecap="round"/><path d="M1513.3 908.7 L1512.3 899.8 L1520.5 903.5 Z" fill="#F6A623" fill-opacity="0.85"/>
<path d="M1511.5 846.1 Q1622.7 855.9 1684.6 936.6" fill="none" stroke="#F6A623" stroke-width="3.5" stroke-opacity="0.75" stroke-linecap="round"/><path d="M1688.8 942.1 L1681.5 939.0 L1687.6 934.3 Z" fill="#F6A623" fill-opacity="0.85"/>
<path d="M1511.5 846.1 Q1560.8 896.4 1557.6 955.4" fill="none" stroke="#F6A623" stroke-width="2.2" stroke-opacity="0.75" stroke-linecap="round"/><path d="M1557.3 961.8 L1554.2 955.3 L1561.0 955.6 Z" fill="#F6A623" fill-opacity="0.85"/>
<path d="M1511.5 846.1 Q1598.7 886.9 1624.3 968.1" fill="none" stroke="#F6A623" stroke-width="4.2" stroke-opacity="0.75" stroke-linecap="round"/><path d="M1626.4 975.0 L1620.4 969.4 L1628.1 966.9 Z" fill="#F6A623" fill-opacity="0.85"/>
<path d="M1511 846 C1495 820, 1470 822, 1478 832 C1485 842, 1500 846, 1511 846" fill="none" stroke="#F6A623" stroke-width="3" stroke-opacity="0.75"/>
<circle cx="1628.1" cy="779.6" r="7.5" fill="#4DAF4A"/>
<circle cx="1557.6" cy="791.2" r="4.5" fill="#984EA3"/>
<circle cx="1690.6" cy="813.9" r="7.4" fill="#377EB8"/>
<circle cx="1715.2" cy="879.1" r="10.7" fill="#E41A1C"/>
<circle cx="1511.0" cy="913.7" r="5.0" fill="#F781BF"/>
<circle cx="1690.6" cy="944.5" r="2.5" fill="#56B4E9"/>
<circle cx="1557.0" cy="966.8" r="4.5" fill="#C2A5CF"/>
<circle cx="1627.6" cy="978.8" r="3.5" fill="#A65628"/>
<circle cx="1511.5" cy="846.1" r="2.5" fill="#FF9E1B"/>
<text x="1613.4" y="766.7" font-family="'Liberation Sans', Arial, sans-serif" font-size="16.8" fill="#1A1A1A">B_cells</text>
<text x="1510.7" y="782.8" font-family="'Liberation Sans', Arial, sans-serif" font-size="16.8" fill="#1A1A1A">Neutrophils</text>
<text x="1682.5" y="802.9" font-family="'Liberation Sans', Arial, sans-serif" font-size="16.8" fill="#1A1A1A">Mast_cells</text>
<text x="1404.2" y="843.7" font-family="'Liberation Sans', Arial, sans-serif" font-size="16.8" fill="#1A1A1A">WISP1_Fib_Negative</text>
<text x="1723.3" y="882.0" font-family="'Liberation Sans', Arial, sans-serif" font-size="16.8" fill="#1A1A1A">T_cells</text>
<text x="1461.9" y="929.5" font-family="'Liberation Sans', Arial, sans-serif" font-size="16.8" fill="#1A1A1A">Myeloid_cells</text>
<text x="1641.0" y="942.1" font-family="'Liberation Sans', Arial, sans-serif" font-size="16.8" fill="#1A1A1A">WISP1_Fib_Positive</text>
<text x="1478.0" y="985.8" font-family="'Liberation Sans', Arial, sans-serif" font-size="16.8" fill="#1A1A1A">Epithelial/Tumor</text>
<text x="1605.3" y="993.8" font-family="'Liberation Sans', Arial, sans-serif" font-size="16.8" fill="#1A1A1A">Endothelial_cells</text>
<path d="M1688.4 1202.5 Q1625.0 1135.5 1630.6 1057.7" fill="none" stroke="#7FBFE6" stroke-width="2.5" stroke-opacity="0.85" stroke-linecap="round"/><path d="M1631.1 1051.2 L1634.1 1057.9 L1627.1 1057.4 Z" fill="#7FBFE6" fill-opacity="0.95"/>
<path d="M1688.4 1202.5 Q1593.4 1156.3 1566.5 1066.3" fill="none" stroke="#7FBFE6" stroke-width="3" stroke-opacity="0.85" stroke-linecap="round"/><path d="M1564.6 1059.9 L1570.0 1065.3 L1563.0 1067.4 Z" fill="#7FBFE6" fill-opacity="0.95"/>
<path d="M1688.4 1202.5 Q1662.4 1139.0 1686.1 1088.8" fill="none" stroke="#7FBFE6" stroke-width="1.3" stroke-opacity="0.85" stroke-linecap="round"/><path d="M1688.6 1083.3 L1688.8 1090.1 L1683.3 1087.5 Z" fill="#7FBFE6" fill-opacity="0.95"/>
<path d="M1688.4 1202.5 Q1582.4 1191.8 1526.7 1117.2" fill="none" stroke="#7FBFE6" stroke-width="5" stroke-opacity="0.85" stroke-linecap="round"/><path d="M1522.2 1111.2 L1530.2 1114.6 L1523.2 1119.8 Z" fill="#7FBFE6" fill-opacity="0.95"/>
<path d="M1688.4 1202.5 Q1688.1 1165.5 1702.6 1152.0" fill="none" stroke="#7FBFE6" stroke-width="2.6" stroke-opacity="0.85" stroke-linecap="round"/><path d="M1707.4 1147.6 L1705.0 1154.6 L1700.2 1149.5 Z" fill="#7FBFE6" fill-opacity="0.95"/>
<path d="M1688.4 1202.5 Q1597.2 1225.4 1529.9 1181.0" fill="none" stroke="#7FBFE6" stroke-width="5.5" stroke-opacity="0.85" stroke-linecap="round"/><path d="M1523.5 1176.7 L1532.4 1177.2 L1527.4 1184.8 Z" fill="#7FBFE6" fill-opacity="0.95"/>
<path d="M1688.4 1202.5 Q1630.8 1241.4 1574.5 1228.0" fill="none" stroke="#7FBFE6" stroke-width="3.5" stroke-opacity="0.85" stroke-linecap="round"/><path d="M1567.8 1226.4 L1575.4 1224.3 L1573.6 1231.7 Z" fill="#7FBFE6" fill-opacity="0.95"/>
<path d="M1688.4 1202.5 Q1667.5 1232.5 1641.8 1236.0" fill="none" stroke="#7FBFE6" stroke-width="3.5" stroke-opacity="0.85" stroke-linecap="round"/><path d="M1635.0 1236.9 L1641.3 1232.2 L1642.3 1239.8 Z" fill="#7FBFE6" fill-opacity="0.95"/>
<path d="M1690 1203 C1705 1225, 1730 1235, 1728 1222 C1726 1210, 1700 1203, 1690 1203" fill="none" stroke="#7FBFE6" stroke-width="4" stroke-opacity="0.85"/>
<circle cx="1631.6" cy="1043.5" r="7.2" fill="#4DAF4A"/>
<circle cx="1563.2" cy="1055.1" r="4.5" fill="#984EA3"/>
<circle cx="1691.6" cy="1077.0" r="6.5" fill="#377EB8"/>
<circle cx="1518.7" cy="1106.5" r="5.4" fill="#FF9E1B"/>
<circle cx="1715.2" cy="1140.3" r="10.2" fill="#E41A1C"/>
<circle cx="1518.7" cy="1173.6" r="5.2" fill="#F781BF"/>
<circle cx="1563.2" cy="1225.3" r="4.2" fill="#C2A5CF"/>
<circle cx="1631.3" cy="1237.4" r="3.2" fill="#A65628"/>
<circle cx="1688.4" cy="1202.5" r="2.5" fill="#56B4E9"/>
<text x="1615.2" y="1030.6" font-family="'Liberation Sans', Arial, sans-serif" font-size="16.8" fill="#1A1A1A">B_cells</text>
<text x="1528.4" y="1045.9" font-family="'Liberation Sans', Arial, sans-serif" font-size="16.8" fill="#1A1A1A">Neutrophils</text>
<text x="1683.6" y="1066.8" font-family="'Liberation Sans', Arial, sans-serif" font-size="16.8" fill="#1A1A1A">Mast_cells</text>
<text x="1428.4" y="1099.6" font-family="'Liberation Sans', Arial, sans-serif" font-size="16.8" fill="#1A1A1A">WISP1_Fib_Negative</text>
<text x="1725.4" y="1142.4" font-family="'Liberation Sans', Arial, sans-serif" font-size="16.8" fill="#1A1A1A">T_cells</text>
<text x="1457.9" y="1192.0" font-family="'Liberation Sans', Arial, sans-serif" font-size="16.8" fill="#1A1A1A">Myeloid_cells</text>
<text x="1631.6" y="1206.8" font-family="'Liberation Sans', Arial, sans-serif" font-size="16.8" fill="#1A1A1A">WISP1_Fib_Positive</text>
<text x="1479.3" y="1242.4" font-family="'Liberation Sans', Arial, sans-serif" font-size="16.8" fill="#1A1A1A">Epithelial/Tumor</text>
<text x="1600.0" y="1255.0" font-family="'Liberation Sans', Arial, sans-serif" font-size="16.8" fill="#1A1A1A">Endothelial_cells</text>
<rect x="116.0" y="1390.5" width="53.5" height="9.1" fill="#72C4A6"/>
<rect x="169.3" y="1390.5" width="53.2" height="9.1" fill="#06421E"/>
<rect x="327.6" y="1390.5" width="52.9" height="9.1" fill="#238B4A"/>
<rect x="380.3" y="1390.5" width="52.7" height="9.1" fill="#238B4A"/>
<rect x="432.8" y="1390.5" width="52.8" height="9.1" fill="#238B4A"/>
<rect x="485.4" y="1390.5" width="53.0" height="9.1" fill="#238B4A"/>
<rect x="538.2" y="1390.5" width="53.3" height="9.1" fill="#72C4A6"/>
<rect x="116.0" y="1399.4" width="53.5" height="9.1" fill="#E6F2F3"/>
<rect x="169.3" y="1399.4" width="53.2" height="9.1" fill="#C3E4DB"/>
<rect x="222.3" y="1399.4" width="52.9" height="9.1" fill="#E6F2F3"/>
<rect x="275.0" y="1399.4" width="52.8" height="9.1" fill="#06421E"/>
<rect x="327.6" y="1399.4" width="52.9" height="9.1" fill="#C3E4DB"/>
<rect x="380.3" y="1399.4" width="52.7" height="9.1" fill="#72C4A6"/>
<rect x="432.8" y="1399.4" width="52.8" height="9.1" fill="#E6F2F3"/>
<rect x="485.4" y="1399.4" width="53.0" height="9.1" fill="#C3E4DB"/>
<rect x="538.2" y="1399.4" width="53.3" height="9.1" fill="#E6F2F3"/>
<rect x="116.0" y="1408.2" width="53.5" height="9.1" fill="#E6F2F3"/>
<rect x="222.3" y="1408.2" width="52.9" height="9.1" fill="#E6F2F3"/>
<rect x="327.6" y="1408.2" width="52.9" height="9.1" fill="#238B4A"/>
<rect x="380.3" y="1408.2" width="52.7" height="9.1" fill="#C3E4DB"/>
<rect x="432.8" y="1408.2" width="52.8" height="9.1" fill="#06421E"/>
<rect x="485.4" y="1408.2" width="53.0" height="9.1" fill="#C3E4DB"/>
<rect x="538.2" y="1408.2" width="53.3" height="9.1" fill="#06421E"/>
<rect x="275.0" y="1417.1" width="52.8" height="9.1" fill="#72C4A6"/>
<rect x="327.6" y="1417.1" width="52.9" height="9.1" fill="#238B4A"/>
<rect x="380.3" y="1417.1" width="52.7" height="9.1" fill="#C3E4DB"/>
<rect x="432.8" y="1417.1" width="52.8" height="9.1" fill="#E6F2F3"/>
<rect x="485.4" y="1417.1" width="53.0" height="9.1" fill="#06421E"/>
<rect x="538.2" y="1417.1" width="53.3" height="9.1" fill="#E6F2F3"/>
<rect x="327.6" y="1425.9" width="52.9" height="9.1" fill="#E6F2F3"/>
<rect x="432.8" y="1425.9" width="52.8" height="9.1" fill="#C3E4DB"/>
<rect x="485.4" y="1425.9" width="53.0" height="9.1" fill="#C3E4DB"/>
<rect x="538.2" y="1425.9" width="53.3" height="9.1" fill="#06421E"/>
<rect x="327.6" y="1434.8" width="52.9" height="9.1" fill="#06421E"/>
<rect x="432.8" y="1434.8" width="52.8" height="9.1" fill="#C3E4DB"/>
<rect x="538.2" y="1434.8" width="53.3" height="9.1" fill="#238B4A"/>
<rect x="380.3" y="1443.7" width="52.7" height="9.1" fill="#06421E"/>
<rect x="485.4" y="1443.7" width="53.0" height="9.1" fill="#E6F2F3"/>
<rect x="538.2" y="1443.7" width="53.3" height="9.1" fill="#72C4A6"/>
<rect x="116.0" y="1452.5" width="53.5" height="9.1" fill="#E6F2F3"/>
<rect x="169.3" y="1452.5" width="53.2" height="9.1" fill="#06421E"/>
<rect x="222.3" y="1452.5" width="52.9" height="9.1" fill="#E6F2F3"/>
<rect x="275.0" y="1452.5" width="52.8" height="9.1" fill="#C3E4DB"/>
<rect x="327.6" y="1452.5" width="52.9" height="9.1" fill="#E6F2F3"/>
<rect x="380.3" y="1452.5" width="52.7" height="9.1" fill="#06421E"/>
<rect x="432.8" y="1452.5" width="52.8" height="9.1" fill="#C3E4DB"/>
<rect x="485.4" y="1452.5" width="53.0" height="9.1" fill="#C3E4DB"/>
<rect x="169.3" y="1461.4" width="53.2" height="9.1" fill="#72C4A6"/>
<rect x="222.3" y="1461.4" width="52.9" height="9.1" fill="#E6F2F3"/>
<rect x="327.6" y="1461.4" width="52.9" height="9.1" fill="#238B4A"/>
<rect x="380.3" y="1461.4" width="52.7" height="9.1" fill="#06421E"/>
<rect x="432.8" y="1461.4" width="52.8" height="9.1" fill="#C3E4DB"/>
<rect x="485.4" y="1461.4" width="53.0" height="9.1" fill="#E6F2F3"/>
<rect x="538.2" y="1461.4" width="53.3" height="9.1" fill="#72C4A6"/>
<rect x="327.6" y="1470.2" width="52.9" height="9.1" fill="#72C4A6"/>
<rect x="538.2" y="1470.2" width="53.3" height="9.1" fill="#06421E"/>
<rect x="275.0" y="1479.1" width="52.8" height="9.1" fill="#06421E"/>
<rect x="380.3" y="1479.1" width="52.7" height="9.1" fill="#238B4A"/>
<rect x="116.0" y="1488.0" width="53.5" height="9.1" fill="#E6F2F3"/>
<rect x="169.3" y="1488.0" width="53.2" height="9.1" fill="#06421E"/>
<rect x="538.2" y="1496.8" width="53.3" height="9.1" fill="#06421E"/>
<rect x="116.0" y="1505.7" width="53.5" height="9.1" fill="#06421E"/>
<rect x="169.3" y="1505.7" width="53.2" height="9.1" fill="#E6F2F3"/>
<rect x="327.6" y="1505.7" width="52.9" height="9.1" fill="#C3E4DB"/>
<rect x="380.3" y="1505.7" width="52.7" height="9.1" fill="#E6F2F3"/>
<rect x="432.8" y="1505.7" width="52.8" height="9.1" fill="#E6F2F3"/>
<rect x="485.4" y="1505.7" width="53.0" height="9.1" fill="#72C4A6"/>
<rect x="538.2" y="1505.7" width="53.3" height="9.1" fill="#C3E4DB"/>
<rect x="327.6" y="1514.5" width="52.9" height="9.1" fill="#06421E"/>
<rect x="538.2" y="1514.5" width="53.3" height="9.1" fill="#72C4A6"/>
<rect x="538.2" y="1523.4" width="53.3" height="9.1" fill="#06421E"/>
<rect x="275.0" y="1532.3" width="52.8" height="9.1" fill="#06421E"/>
<rect x="380.3" y="1532.3" width="52.7" height="9.1" fill="#C3E4DB"/>
<rect x="327.6" y="1541.1" width="52.9" height="9.1" fill="#06421E"/>
<rect x="432.8" y="1541.1" width="52.8" height="9.1" fill="#E6F2F3"/>
<rect x="485.4" y="1541.1" width="53.0" height="9.1" fill="#E6F2F3"/>
<rect x="538.2" y="1541.1" width="53.3" height="9.1" fill="#E6F2F3"/>
<rect x="327.6" y="1550.0" width="52.9" height="9.1" fill="#06421E"/>
<rect x="485.4" y="1550.0" width="53.0" height="9.1" fill="#E6F2F3"/>
<rect x="538.2" y="1550.0" width="53.3" height="9.1" fill="#C3E4DB"/>
<rect x="327.6" y="1558.8" width="52.9" height="9.1" fill="#72C4A6"/>
<rect x="380.3" y="1558.8" width="52.7" height="9.1" fill="#72C4A6"/>
<rect x="432.8" y="1558.8" width="52.8" height="9.1" fill="#C3E4DB"/>
<rect x="485.4" y="1558.8" width="53.0" height="9.1" fill="#C3E4DB"/>
<rect x="538.2" y="1558.8" width="53.3" height="9.1" fill="#06421E"/>
<rect x="327.6" y="1567.7" width="52.9" height="9.1" fill="#06421E"/>
<rect x="380.3" y="1567.7" width="52.7" height="9.1" fill="#72C4A6"/>
<rect x="485.4" y="1567.7" width="53.0" height="9.1" fill="#C3E4DB"/>
<rect x="538.2" y="1567.7" width="53.3" height="9.1" fill="#E6F2F3"/>
<rect x="327.6" y="1576.6" width="52.9" height="9.1" fill="#C3E4DB"/>
<rect x="380.3" y="1576.6" width="52.7" height="9.1" fill="#C3E4DB"/>
<rect x="432.8" y="1576.6" width="52.8" height="9.1" fill="#C3E4DB"/>
<rect x="485.4" y="1576.6" width="53.0" height="9.1" fill="#06421E"/>
<rect x="538.2" y="1576.6" width="53.3" height="9.1" fill="#E6F2F3"/>
<rect x="538.2" y="1585.4" width="53.3" height="9.1" fill="#06421E"/>
<rect x="222.3" y="1594.3" width="52.9" height="9.1" fill="#72C4A6"/>
<rect x="380.3" y="1594.3" width="52.7" height="9.1" fill="#06421E"/>
<rect x="116.0" y="1603.1" width="53.5" height="9.1" fill="#72C4A6"/>
<rect x="222.3" y="1603.1" width="52.9" height="9.1" fill="#72C4A6"/>
<rect x="380.3" y="1603.1" width="52.7" height="9.1" fill="#06421E"/>
<rect x="432.8" y="1603.1" width="52.8" height="9.1" fill="#E6F2F3"/>
<rect x="485.4" y="1603.1" width="53.0" height="9.1" fill="#E6F2F3"/>
<rect x="538.2" y="1603.1" width="53.3" height="9.1" fill="#72C4A6"/>
<rect x="327.6" y="1612.0" width="52.9" height="9.1" fill="#06421E"/>
<rect x="485.4" y="1612.0" width="53.0" height="9.1" fill="#C3E4DB"/>
<rect x="538.2" y="1612.0" width="53.3" height="9.1" fill="#E6F2F3"/>
<rect x="380.3" y="1620.9" width="52.7" height="9.1" fill="#06421E"/>
<rect x="380.3" y="1629.7" width="52.7" height="9.1" fill="#C3E4DB"/>
<rect x="432.8" y="1629.7" width="52.8" height="9.1" fill="#72C4A6"/>
<rect x="485.4" y="1629.7" width="53.0" height="9.1" fill="#06421E"/>
<rect x="538.2" y="1629.7" width="53.3" height="9.1" fill="#238B4A"/>
<rect x="485.4" y="1638.6" width="53.0" height="9.1" fill="#06421E"/>
<rect x="485.4" y="1647.4" width="53.0" height="9.1" fill="#06421E"/>
<rect x="538.2" y="1647.4" width="53.3" height="9.1" fill="#E6F2F3"/>
<rect x="169.3" y="1656.3" width="53.2" height="9.1" fill="#06421E"/>
<rect x="327.6" y="1656.3" width="52.9" height="9.1" fill="#72C4A6"/>
<rect x="485.4" y="1656.3" width="53.0" height="9.1" fill="#E6F2F3"/>
<rect x="538.2" y="1656.3" width="53.3" height="9.1" fill="#E6F2F3"/>
<rect x="327.6" y="1665.2" width="52.9" height="9.1" fill="#06421E"/>
<rect x="485.4" y="1665.2" width="53.0" height="9.1" fill="#72C4A6"/>
<rect x="538.2" y="1665.2" width="53.3" height="9.1" fill="#238B4A"/>
<rect x="116.0" y="1674.0" width="53.5" height="9.1" fill="#06421E"/>
<rect x="485.4" y="1682.9" width="53.0" height="9.1" fill="#06421E"/>
<rect x="222.3" y="1691.7" width="52.9" height="9.1" fill="#E6F2F3"/>
<rect x="327.6" y="1691.7" width="52.9" height="9.1" fill="#72C4A6"/>
<rect x="380.3" y="1691.7" width="52.7" height="9.1" fill="#06421E"/>
<rect x="432.8" y="1691.7" width="52.8" height="9.1" fill="#72C4A6"/>
<rect x="485.4" y="1691.7" width="53.0" height="9.1" fill="#72C4A6"/>
<rect x="538.2" y="1691.7" width="53.3" height="9.1" fill="#72C4A6"/>
<rect x="327.6" y="1700.6" width="52.9" height="9.1" fill="#06421E"/>
<rect x="222.3" y="1709.5" width="52.9" height="9.1" fill="#06421E"/>
<rect x="327.6" y="1709.5" width="52.9" height="9.1" fill="#C3E4DB"/>
<rect x="327.6" y="1718.3" width="52.9" height="9.1" fill="#06421E"/>
<rect x="432.8" y="1718.3" width="52.8" height="9.1" fill="#72C4A6"/>
<rect x="485.4" y="1718.3" width="53.0" height="9.1" fill="#E6F2F3"/>
<rect x="538.2" y="1718.3" width="53.3" height="9.1" fill="#C3E4DB"/>
<rect x="327.6" y="1727.2" width="52.9" height="9.1" fill="#C3E4DB"/>
<rect x="380.3" y="1727.2" width="52.7" height="9.1" fill="#E6F2F3"/>
<rect x="432.8" y="1727.2" width="52.8" height="9.1" fill="#06421E"/>
<rect x="485.4" y="1727.2" width="53.0" height="9.1" fill="#238B4A"/>
<rect x="538.2" y="1727.2" width="53.3" height="9.1" fill="#C3E4DB"/>
<rect x="485.4" y="1736.0" width="53.0" height="9.1" fill="#06421E"/>
<rect x="432.8" y="1744.9" width="52.8" height="9.1" fill="#06421E"/>
<rect x="538.2" y="1744.9" width="53.3" height="9.1" fill="#238B4A"/>
<rect x="432.8" y="1753.8" width="52.8" height="9.1" fill="#06421E"/>
<rect x="327.6" y="1762.6" width="52.9" height="9.1" fill="#06421E"/>
<rect x="810.1" y="1390.5" width="53.5" height="9.1" fill="#06421E"/>
<rect x="915.9" y="1390.5" width="52.3" height="9.1" fill="#E6F2F3"/>
<rect x="863.4" y="1399.4" width="52.7" height="9.1" fill="#72C4A6"/>
<rect x="915.9" y="1399.4" width="52.3" height="9.1" fill="#72C4A6"/>
<rect x="968.0" y="1399.4" width="53.4" height="9.1" fill="#E6F2F3"/>
<rect x="1021.2" y="1399.4" width="52.7" height="9.1" fill="#06421E"/>
<rect x="1073.7" y="1399.4" width="53.1" height="9.1" fill="#238B4A"/>
<rect x="652.3" y="1408.2" width="52.7" height="9.1" fill="#72C4A6"/>
<rect x="757.3" y="1408.2" width="53.0" height="9.1" fill="#06421E"/>
<rect x="863.4" y="1408.2" width="52.7" height="9.1" fill="#E6F2F3"/>
<rect x="915.9" y="1408.2" width="52.3" height="9.1" fill="#06421E"/>
<rect x="968.0" y="1408.2" width="53.4" height="9.1" fill="#E6F2F3"/>
<rect x="1021.2" y="1408.2" width="52.7" height="9.1" fill="#E6F2F3"/>
<rect x="1073.7" y="1408.2" width="53.1" height="9.1" fill="#E6F2F3"/>
<rect x="652.3" y="1417.1" width="52.7" height="9.1" fill="#238B4A"/>
<rect x="757.3" y="1417.1" width="53.0" height="9.1" fill="#238B4A"/>
<rect x="810.1" y="1417.1" width="53.5" height="9.1" fill="#06421E"/>
<rect x="863.4" y="1417.1" width="52.7" height="9.1" fill="#C3E4DB"/>
<rect x="915.9" y="1417.1" width="52.3" height="9.1" fill="#C3E4DB"/>
<rect x="968.0" y="1417.1" width="53.4" height="9.1" fill="#E6F2F3"/>
<rect x="1021.2" y="1417.1" width="52.7" height="9.1" fill="#238B4A"/>
<rect x="1073.7" y="1417.1" width="53.1" height="9.1" fill="#E6F2F3"/>
<rect x="652.3" y="1425.9" width="52.7" height="9.1" fill="#72C4A6"/>
<rect x="704.8" y="1425.9" width="52.7" height="9.1" fill="#C3E4DB"/>
<rect x="757.3" y="1425.9" width="53.0" height="9.1" fill="#72C4A6"/>
<rect x="863.4" y="1425.9" width="52.7" height="9.1" fill="#238B4A"/>
<rect x="915.9" y="1425.9" width="52.3" height="9.1" fill="#72C4A6"/>
<rect x="968.0" y="1425.9" width="53.4" height="9.1" fill="#06421E"/>
<rect x="1021.2" y="1425.9" width="52.7" height="9.1" fill="#238B4A"/>
<rect x="1073.7" y="1425.9" width="53.1" height="9.1" fill="#238B4A"/>
<rect x="652.3" y="1434.8" width="52.7" height="9.1" fill="#72C4A6"/>
<rect x="704.8" y="1434.8" width="52.7" height="9.1" fill="#C3E4DB"/>
<rect x="757.3" y="1434.8" width="53.0" height="9.1" fill="#72C4A6"/>
<rect x="863.4" y="1434.8" width="52.7" height="9.1" fill="#238B4A"/>
<rect x="915.9" y="1434.8" width="52.3" height="9.1" fill="#72C4A6"/>
<rect x="968.0" y="1434.8" width="53.4" height="9.1" fill="#06421E"/>
<rect x="1021.2" y="1434.8" width="52.7" height="9.1" fill="#72C4A6"/>
<rect x="1073.7" y="1434.8" width="53.1" height="9.1" fill="#238B4A"/>
<rect x="652.3" y="1443.7" width="52.7" height="9.1" fill="#06421E"/>
<rect x="704.8" y="1443.7" width="52.7" height="9.1" fill="#72C4A6"/>
<rect x="757.3" y="1443.7" width="53.0" height="9.1" fill="#72C4A6"/>
<rect x="810.1" y="1443.7" width="53.5" height="9.1" fill="#72C4A6"/>
<rect x="863.4" y="1443.7" width="52.7" height="9.1" fill="#E6F2F3"/>
<rect x="915.9" y="1443.7" width="52.3" height="9.1" fill="#06421E"/>
<rect x="968.0" y="1443.7" width="53.4" height="9.1" fill="#C3E4DB"/>
<rect x="1021.2" y="1443.7" width="52.7" height="9.1" fill="#E6F2F3"/>
<rect x="1073.7" y="1443.7" width="53.1" height="9.1" fill="#E6F2F3"/>
<rect x="863.4" y="1452.5" width="52.7" height="9.1" fill="#72C4A6"/>
<rect x="968.0" y="1452.5" width="53.4" height="9.1" fill="#06421E"/>
<rect x="1073.7" y="1452.5" width="53.1" height="9.1" fill="#E6F2F3"/>
<rect x="1021.2" y="1461.4" width="52.7" height="9.1" fill="#06421E"/>
<rect x="810.1" y="1470.2" width="53.5" height="9.1" fill="#06421E"/>
<rect x="863.4" y="1470.2" width="52.7" height="9.1" fill="#C3E4DB"/>
<rect x="915.9" y="1470.2" width="52.3" height="9.1" fill="#238B4A"/>
<rect x="968.0" y="1470.2" width="53.4" height="9.1" fill="#E6F2F3"/>
<rect x="1021.2" y="1470.2" width="52.7" height="9.1" fill="#06421E"/>
<rect x="1073.7" y="1470.2" width="53.1" height="9.1" fill="#06421E"/>
<rect x="810.1" y="1479.1" width="53.5" height="9.1" fill="#06421E"/>
<rect x="915.9" y="1479.1" width="52.3" height="9.1" fill="#E6F2F3"/>
<rect x="863.4" y="1488.0" width="52.7" height="9.1" fill="#72C4A6"/>
<rect x="968.0" y="1488.0" width="53.4" height="9.1" fill="#E6F2F3"/>
<rect x="1021.2" y="1488.0" width="52.7" height="9.1" fill="#E6F2F3"/>
<rect x="1073.7" y="1488.0" width="53.1" height="9.1" fill="#06421E"/>
<rect x="863.4" y="1496.8" width="52.7" height="9.1" fill="#C3E4DB"/>
<rect x="968.0" y="1496.8" width="53.4" height="9.1" fill="#E6F2F3"/>
<rect x="1021.2" y="1496.8" width="52.7" height="9.1" fill="#E6F2F3"/>
<rect x="1073.7" y="1496.8" width="53.1" height="9.1" fill="#06421E"/>
<rect x="915.9" y="1505.7" width="52.3" height="9.1" fill="#E6F2F3"/>
<rect x="1021.2" y="1505.7" width="52.7" height="9.1" fill="#06421E"/>
<rect x="915.9" y="1514.5" width="52.3" height="9.1" fill="#06421E"/>
<rect x="863.4" y="1523.4" width="52.7" height="9.1" fill="#E6F2F3"/>
<rect x="968.0" y="1523.4" width="53.4" height="9.1" fill="#E6F2F3"/>
<rect x="1021.2" y="1523.4" width="52.7" height="9.1" fill="#06421E"/>
<rect x="1073.7" y="1523.4" width="53.1" height="9.1" fill="#238B4A"/>
<rect x="863.4" y="1532.3" width="52.7" height="9.1" fill="#72C4A6"/>
<rect x="968.0" y="1532.3" width="53.4" height="9.1" fill="#E6F2F3"/>
<rect x="1021.2" y="1532.3" width="52.7" height="9.1" fill="#06421E"/>
<rect x="1073.7" y="1532.3" width="53.1" height="9.1" fill="#C3E4DB"/>
<rect x="915.9" y="1541.1" width="52.3" height="9.1" fill="#C3E4DB"/>
<rect x="968.0" y="1541.1" width="53.4" height="9.1" fill="#E6F2F3"/>
<rect x="1021.2" y="1541.1" width="52.7" height="9.1" fill="#06421E"/>
<rect x="1073.7" y="1541.1" width="53.1" height="9.1" fill="#72C4A6"/>
<rect x="863.4" y="1550.0" width="52.7" height="9.1" fill="#06421E"/>
<rect x="968.0" y="1550.0" width="53.4" height="9.1" fill="#E6F2F3"/>
<rect x="1021.2" y="1550.0" width="52.7" height="9.1" fill="#E6F2F3"/>
<rect x="1073.7" y="1550.0" width="53.1" height="9.1" fill="#238B4A"/>
<rect x="863.4" y="1558.8" width="52.7" height="9.1" fill="#E6F2F3"/>
<rect x="1021.2" y="1558.8" width="52.7" height="9.1" fill="#06421E"/>
<rect x="863.4" y="1567.7" width="52.7" height="9.1" fill="#E6F2F3"/>
<rect x="968.0" y="1567.7" width="53.4" height="9.1" fill="#C3E4DB"/>
<rect x="1021.2" y="1567.7" width="52.7" height="9.1" fill="#E6F2F3"/>
<rect x="1073.7" y="1567.7" width="53.1" height="9.1" fill="#06421E"/>
<rect x="863.4" y="1576.6" width="52.7" height="9.1" fill="#06421E"/>
<rect x="915.9" y="1576.6" width="52.3" height="9.1" fill="#72C4A6"/>
<rect x="1073.7" y="1576.6" width="53.1" height="9.1" fill="#238B4A"/>
<rect x="652.3" y="1585.4" width="52.7" height="9.1" fill="#C3E4DB"/>
<rect x="704.8" y="1585.4" width="52.7" height="9.1" fill="#72C4A6"/>
<rect x="757.3" y="1585.4" width="53.0" height="9.1" fill="#C3E4DB"/>
<rect x="810.1" y="1585.4" width="53.5" height="9.1" fill="#E6F2F3"/>
<rect x="863.4" y="1585.4" width="52.7" height="9.1" fill="#72C4A6"/>
<rect x="915.9" y="1585.4" width="52.3" height="9.1" fill="#72C4A6"/>
<rect x="968.0" y="1585.4" width="53.4" height="9.1" fill="#72C4A6"/>
<rect x="1021.2" y="1585.4" width="52.7" height="9.1" fill="#72C4A6"/>
<rect x="1073.7" y="1585.4" width="53.1" height="9.1" fill="#06421E"/>
<rect x="652.3" y="1594.3" width="52.7" height="9.1" fill="#C3E4DB"/>
<rect x="810.1" y="1594.3" width="53.5" height="9.1" fill="#238B4A"/>
<rect x="863.4" y="1594.3" width="52.7" height="9.1" fill="#72C4A6"/>
<rect x="915.9" y="1594.3" width="52.3" height="9.1" fill="#06421E"/>
<rect x="968.0" y="1594.3" width="53.4" height="9.1" fill="#C3E4DB"/>
<rect x="1021.2" y="1594.3" width="52.7" height="9.1" fill="#72C4A6"/>
<rect x="1073.7" y="1594.3" width="53.1" height="9.1" fill="#72C4A6"/>
<rect x="863.4" y="1603.1" width="52.7" height="9.1" fill="#E6F2F3"/>
<rect x="915.9" y="1603.1" width="52.3" height="9.1" fill="#C3E4DB"/>
<rect x="968.0" y="1603.1" width="53.4" height="9.1" fill="#E6F2F3"/>
<rect x="1073.7" y="1603.1" width="53.1" height="9.1" fill="#06421E"/>
<rect x="863.4" y="1612.0" width="52.7" height="9.1" fill="#06421E"/>
<rect x="915.9" y="1612.0" width="52.3" height="9.1" fill="#C3E4DB"/>
<rect x="1073.7" y="1612.0" width="53.1" height="9.1" fill="#238B4A"/>
<rect x="757.3" y="1620.9" width="53.0" height="9.1" fill="#06421E"/>
<rect x="863.4" y="1629.7" width="52.7" height="9.1" fill="#06421E"/>
<rect x="1073.7" y="1629.7" width="53.1" height="9.1" fill="#238B4A"/>
<rect x="810.1" y="1638.6" width="53.5" height="9.1" fill="#06421E"/>
<rect x="915.9" y="1638.6" width="52.3" height="9.1" fill="#E6F2F3"/>
<rect x="863.4" y="1647.4" width="52.7" height="9.1" fill="#72C4A6"/>
<rect x="915.9" y="1647.4" width="52.3" height="9.1" fill="#C3E4DB"/>
<rect x="968.0" y="1647.4" width="53.4" height="9.1" fill="#E6F2F3"/>
<rect x="1021.2" y="1647.4" width="52.7" height="9.1" fill="#06421E"/>
<rect x="1073.7" y="1647.4" width="53.1" height="9.1" fill="#238B4A"/>
<rect x="915.9" y="1656.3" width="52.3" height="9.1" fill="#06421E"/>
<rect x="704.8" y="1665.2" width="52.7" height="9.1" fill="#06421E"/>
<rect x="757.3" y="1674.0" width="53.0" height="9.1" fill="#E6F2F3"/>
<rect x="863.4" y="1674.0" width="52.7" height="9.1" fill="#72C4A6"/>
<rect x="915.9" y="1674.0" width="52.3" height="9.1" fill="#06421E"/>
<rect x="968.0" y="1674.0" width="53.4" height="9.1" fill="#E6F2F3"/>
<rect x="1021.2" y="1674.0" width="52.7" height="9.1" fill="#72C4A6"/>
<rect x="1073.7" y="1674.0" width="53.1" height="9.1" fill="#C3E4DB"/>
<rect x="1021.2" y="1682.9" width="52.7" height="9.1" fill="#06421E"/>
<rect x="1073.7" y="1682.9" width="53.1" height="9.1" fill="#72C4A6"/>
<rect x="915.9" y="1691.7" width="52.3" height="9.1" fill="#06421E"/>
<rect x="968.0" y="1700.6" width="53.4" height="9.1" fill="#06421E"/>
<rect x="1021.2" y="1700.6" width="52.7" height="9.1" fill="#72C4A6"/>
<rect x="1073.7" y="1700.6" width="53.1" height="9.1" fill="#E6F2F3"/>
<rect x="915.9" y="1709.5" width="52.3" height="9.1" fill="#06421E"/>
<rect x="863.4" y="1718.3" width="52.7" height="9.1" fill="#238B4A"/>
<rect x="1073.7" y="1718.3" width="53.1" height="9.1" fill="#06421E"/>
<rect x="1021.2" y="1727.2" width="52.7" height="9.1" fill="#06421E"/>
<rect x="915.9" y="1736.0" width="52.3" height="9.1" fill="#06421E"/>
<rect x="1021.2" y="1744.9" width="52.7" height="9.1" fill="#238B4A"/>
<rect x="1073.7" y="1744.9" width="53.1" height="9.1" fill="#06421E"/>
<rect x="810.1" y="1753.8" width="53.5" height="9.1" fill="#06421E"/>
<rect x="968.0" y="1762.6" width="53.4" height="9.1" fill="#06421E"/>
<rect x="1021.2" y="1762.6" width="52.7" height="9.1" fill="#238B4A"/>
<text x="108.5" y="1398.2" font-family="'Liberation Serif', 'Times New Roman', serif" font-size="9.3" font-weight="bold" text-anchor="end" textLength="53.3" lengthAdjust="spacingAndGlyphs" stroke="#000" stroke-width="0.25">ANNEXIN</text>
<text x="108.5" y="1407.8" font-family="'Liberation Serif', 'Times New Roman', serif" font-size="9.3" font-weight="bold" text-anchor="end" textLength="54.6" lengthAdjust="spacingAndGlyphs" stroke="#000" stroke-width="0.25">VISFATIN</text>
<text x="108.5" y="1417.5" font-family="'Liberation Serif', 'Times New Roman', serif" font-size="9.3" font-weight="bold" text-anchor="end" textLength="22.2" lengthAdjust="spacingAndGlyphs" stroke="#000" stroke-width="0.25">MIF</text>
<text x="108.5" y="1427.1" font-family="'Liberation Serif', 'Times New Roman', serif" font-size="9.3" font-weight="bold" text-anchor="end" textLength="32.4" lengthAdjust="spacingAndGlyphs" stroke="#000" stroke-width="0.25">CXCL</text>
<text x="108.5" y="1436.8" font-family="'Liberation Serif', 'Times New Roman', serif" font-size="9.3" font-weight="bold" text-anchor="end" textLength="19.7" lengthAdjust="spacingAndGlyphs" stroke="#000" stroke-width="0.25">MK</text>
<text x="108.5" y="1446.4" font-family="'Liberation Serif', 'Times New Roman', serif" font-size="9.3" font-weight="bold" text-anchor="end" textLength="22.8" lengthAdjust="spacingAndGlyphs" stroke="#000" stroke-width="0.25">PTN</text>
<text x="108.5" y="1456.0" font-family="'Liberation Serif', 'Times New Roman', serif" font-size="9.3" font-weight="bold" text-anchor="end" textLength="60.9" lengthAdjust="spacingAndGlyphs" stroke="#000" stroke-width="0.25">GALECTIN</text>
<text x="108.5" y="1465.7" font-family="'Liberation Serif', 'Times New Roman', serif" font-size="9.3" font-weight="bold" text-anchor="end" textLength="23.5" lengthAdjust="spacingAndGlyphs" stroke="#000" stroke-width="0.25">EGF</text>
<text x="108.5" y="1475.3" font-family="'Liberation Serif', 'Times New Roman', serif" font-size="9.3" font-weight="bold" text-anchor="end" textLength="31.7" lengthAdjust="spacingAndGlyphs" stroke="#000" stroke-width="0.25">VEGF</text>
<text x="108.5" y="1485.0" font-family="'Liberation Serif', 'Times New Roman', serif" font-size="9.3" font-weight="bold" text-anchor="end" textLength="47.6" lengthAdjust="spacingAndGlyphs" stroke="#000" stroke-width="0.25">ANGPTL</text>
<text x="108.5" y="1494.6" font-family="'Liberation Serif', 'Times New Roman', serif" font-size="9.3" font-weight="bold" text-anchor="end" textLength="17.8" lengthAdjust="spacingAndGlyphs" stroke="#000" stroke-width="0.25">IL1</text>
<text x="108.5" y="1504.2" font-family="'Liberation Serif', 'Times New Roman', serif" font-size="9.3" font-weight="bold" text-anchor="end" textLength="27.9" lengthAdjust="spacingAndGlyphs" stroke="#000" stroke-width="0.25">PARs</text>
<text x="108.5" y="1513.9" font-family="'Liberation Serif', 'Times New Roman', serif" font-size="9.3" font-weight="bold" text-anchor="end" textLength="62.8" lengthAdjust="spacingAndGlyphs" stroke="#000" stroke-width="0.25">PERIOSTIN</text>
<text x="108.5" y="1523.5" font-family="'Liberation Serif', 'Times New Roman', serif" font-size="9.3" font-weight="bold" text-anchor="end" textLength="24.1" lengthAdjust="spacingAndGlyphs" stroke="#000" stroke-width="0.25">CCL</text>
<text x="108.5" y="1533.2" font-family="'Liberation Serif', 'Times New Roman', serif" font-size="9.3" font-weight="bold" text-anchor="end" textLength="95.2" lengthAdjust="spacingAndGlyphs" stroke="#000" stroke-width="0.25">COMPLEMMENT</text>
<text x="108.5" y="1542.8" font-family="'Liberation Serif', 'Times New Roman', serif" font-size="9.3" font-weight="bold" text-anchor="end" textLength="38.7" lengthAdjust="spacingAndGlyphs" stroke="#000" stroke-width="0.25">ncWNT</text>
<text x="108.5" y="1552.4" font-family="'Liberation Serif', 'Times New Roman', serif" font-size="9.3" font-weight="bold" text-anchor="end" textLength="26.0" lengthAdjust="spacingAndGlyphs" stroke="#000" stroke-width="0.25">OSM</text>
<text x="108.5" y="1562.1" font-family="'Liberation Serif', 'Times New Roman', serif" font-size="9.3" font-weight="bold" text-anchor="end" textLength="38.7" lengthAdjust="spacingAndGlyphs" stroke="#000" stroke-width="0.25">SEMA3</text>
<text x="108.5" y="1571.7" font-family="'Liberation Serif', 'Times New Roman', serif" font-size="9.3" font-weight="bold" text-anchor="end" textLength="22.8" lengthAdjust="spacingAndGlyphs" stroke="#000" stroke-width="0.25">FGF</text>
<text x="108.5" y="1581.4" font-family="'Liberation Serif', 'Times New Roman', serif" font-size="9.3" font-weight="bold" text-anchor="end" textLength="40.6" lengthAdjust="spacingAndGlyphs" stroke="#000" stroke-width="0.25">CALCR</text>
<text x="108.5" y="1591.0" font-family="'Liberation Serif', 'Times New Roman', serif" font-size="9.3" font-weight="bold" text-anchor="end" textLength="43.8" lengthAdjust="spacingAndGlyphs" stroke="#000" stroke-width="0.25">TWEAK</text>
<text x="108.5" y="1600.6" font-family="'Liberation Serif', 'Times New Roman', serif" font-size="9.3" font-weight="bold" text-anchor="end" textLength="23.5" lengthAdjust="spacingAndGlyphs" stroke="#000" stroke-width="0.25">GAS</text>
<text x="108.5" y="1610.3" font-family="'Liberation Serif', 'Times New Roman', serif" font-size="9.3" font-weight="bold" text-anchor="end" textLength="26.0" lengthAdjust="spacingAndGlyphs" stroke="#000" stroke-width="0.25">SPP1</text>
<text x="108.5" y="1619.9" font-family="'Liberation Serif', 'Times New Roman', serif" font-size="9.3" font-weight="bold" text-anchor="end" textLength="22.8" lengthAdjust="spacingAndGlyphs" stroke="#000" stroke-width="0.25">TNF</text>
<text x="108.5" y="1629.6" font-family="'Liberation Serif', 'Times New Roman', serif" font-size="9.3" font-weight="bold" text-anchor="end" textLength="29.8" lengthAdjust="spacingAndGlyphs" stroke="#000" stroke-width="0.25">TGFb</text>
<text x="108.5" y="1639.2" font-family="'Liberation Serif', 'Times New Roman', serif" font-size="9.3" font-weight="bold" text-anchor="end" textLength="30.5" lengthAdjust="spacingAndGlyphs" stroke="#000" stroke-width="0.25">PROS</text>
<text x="108.5" y="1648.8" font-family="'Liberation Serif', 'Times New Roman', serif" font-size="9.3" font-weight="bold" text-anchor="end" textLength="29.8" lengthAdjust="spacingAndGlyphs" stroke="#000" stroke-width="0.25">BAFF</text>
<text x="108.5" y="1658.5" font-family="'Liberation Serif', 'Times New Roman', serif" font-size="9.3" font-weight="bold" text-anchor="end" textLength="31.1" lengthAdjust="spacingAndGlyphs" stroke="#000" stroke-width="0.25">PDGF</text>
<text x="108.5" y="1668.1" font-family="'Liberation Serif', 'Times New Roman', serif" font-size="9.3" font-weight="bold" text-anchor="end" textLength="27.3" lengthAdjust="spacingAndGlyphs" stroke="#000" stroke-width="0.25">CSF3</text>
<text x="108.5" y="1677.8" font-family="'Liberation Serif', 'Times New Roman', serif" font-size="9.3" font-weight="bold" text-anchor="end" textLength="40.0" lengthAdjust="spacingAndGlyphs" stroke="#000" stroke-width="0.25">ANGPT</text>
<text x="108.5" y="1687.4" font-family="'Liberation Serif', 'Times New Roman', serif" font-size="9.3" font-weight="bold" text-anchor="end" textLength="22.2" lengthAdjust="spacingAndGlyphs" stroke="#000" stroke-width="0.25">CSE</text>
<text x="108.5" y="1697.0" font-family="'Liberation Serif', 'Times New Roman', serif" font-size="9.3" font-weight="bold" text-anchor="end" textLength="21.0" lengthAdjust="spacingAndGlyphs" stroke="#000" stroke-width="0.25">KIT</text>
<text x="108.5" y="1706.7" font-family="'Liberation Serif', 'Times New Roman', serif" font-size="9.3" font-weight="bold" text-anchor="end" textLength="32.4" lengthAdjust="spacingAndGlyphs" stroke="#000" stroke-width="0.25">IFN-II</text>
<text x="108.5" y="1716.3" font-family="'Liberation Serif', 'Times New Roman', serif" font-size="9.3" font-weight="bold" text-anchor="end" textLength="24.1" lengthAdjust="spacingAndGlyphs" stroke="#000" stroke-width="0.25">EDN</text>
<text x="108.5" y="1726.0" font-family="'Liberation Serif', 'Times New Roman', serif" font-size="9.3" font-weight="bold" text-anchor="end" textLength="25.4" lengthAdjust="spacingAndGlyphs" stroke="#000" stroke-width="0.25">GRN</text>
<text x="108.5" y="1735.6" font-family="'Liberation Serif', 'Times New Roman', serif" font-size="9.3" font-weight="bold" text-anchor="end" textLength="20.3" lengthAdjust="spacingAndGlyphs" stroke="#000" stroke-width="0.25">IGF</text>
<text x="108.5" y="1745.2" font-family="'Liberation Serif', 'Times New Roman', serif" font-size="9.3" font-weight="bold" text-anchor="end" textLength="23.5" lengthAdjust="spacingAndGlyphs" stroke="#000" stroke-width="0.25">IL16</text>
<text x="108.5" y="1754.9" font-family="'Liberation Serif', 'Times New Roman', serif" font-size="9.3" font-weight="bold" text-anchor="end" textLength="27.3" lengthAdjust="spacingAndGlyphs" stroke="#000" stroke-width="0.25">WNT</text>
<text x="108.5" y="1764.5" font-family="'Liberation Serif', 'Times New Roman', serif" font-size="9.3" font-weight="bold" text-anchor="end" textLength="22.9" lengthAdjust="spacingAndGlyphs" stroke="#000" stroke-width="0.25">SAA</text>
<text x="108.5" y="1774.2" font-family="'Liberation Serif', 'Times New Roman', serif" font-size="9.3" font-weight="bold" text-anchor="end" textLength="24.8" lengthAdjust="spacingAndGlyphs" stroke="#000" stroke-width="0.25">HGF</text>
<text x="353.7" y="1325.5" font-family="'Liberation Sans', Arial, sans-serif" font-size="16.7" text-anchor="middle" fill="#1A1A1A" textLength="202.0" lengthAdjust="spacingAndGlyphs">Outgoing signaling patterns</text>
<text x="890.0" y="1325.0" font-family="'Liberation Sans', Arial, sans-serif" font-size="16.7" text-anchor="middle" fill="#1A1A1A" textLength="202.5" lengthAdjust="spacingAndGlyphs">Incoming signaling patterns</text>
<rect x="126.1" y="1377.3" width="33.2" height="8.0" fill="#E41A1C"/>
<rect x="179.2" y="1368.1" width="33.2" height="17.2" fill="#377EB8"/>
<rect x="232.1" y="1382.7" width="33.2" height="2.6" fill="#4DAF4A"/>
<rect x="284.7" y="1367.5" width="33.2" height="17.8" fill="#984EA3"/>
<rect x="337.4" y="1346.8" width="33.2" height="38.5" fill="#F0921B"/>
<rect x="389.9" y="1355.2" width="33.2" height="30.1" fill="#E77FB4"/>
<rect x="442.5" y="1364.0" width="33.2" height="21.3" fill="#B89BCB"/>
<rect x="495.2" y="1358.0" width="33.2" height="27.3" fill="#A65628"/>
<rect x="548.1" y="1339.7" width="33.2" height="45.6" fill="#56A9DE"/>
<line x1="117.9" y1="1337.5" x2="117.9" y2="1385.3" stroke="#000" stroke-width="1.2"/>
<line x1="114.0" y1="1342.3" x2="117.9" y2="1342.3" stroke="#000" stroke-width="1"/>
<text x="112.0" y="1346.8" font-family="'Liberation Sans', Arial, sans-serif" font-size="12.5" text-anchor="end" fill="#1A1A1A">2</text>
<line x1="114.0" y1="1363.8" x2="117.9" y2="1363.8" stroke="#000" stroke-width="1"/>
<text x="112.0" y="1368.3" font-family="'Liberation Sans', Arial, sans-serif" font-size="12.5" text-anchor="end" fill="#1A1A1A">1</text>
<line x1="114.0" y1="1385.3" x2="117.9" y2="1385.3" stroke="#000" stroke-width="1"/>
<text x="112.0" y="1389.8" font-family="'Liberation Sans', Arial, sans-serif" font-size="12.5" text-anchor="end" fill="#1A1A1A">0</text>
<rect x="661.9" y="1368.9" width="33.2" height="16.0" fill="#E41A1C"/>
<rect x="714.4" y="1380.3" width="33.2" height="4.6" fill="#377EB8"/>
<rect x="767.1" y="1365.2" width="33.2" height="19.7" fill="#4DAF4A"/>
<rect x="820.1" y="1336.2" width="33.2" height="48.7" fill="#984EA3"/>
<rect x="873.0" y="1360.5" width="33.2" height="24.4" fill="#F0921B"/>
<rect x="925.4" y="1350.1" width="33.2" height="34.8" fill="#E77FB4"/>
<rect x="978.0" y="1364.3" width="33.2" height="20.6" fill="#B89BCB"/>
<rect x="1030.9" y="1350.6" width="33.2" height="34.3" fill="#A65628"/>
<rect x="1083.6" y="1357.3" width="33.2" height="27.6" fill="#56A9DE"/>
<line x1="652.3" y1="1337.5" x2="652.3" y2="1384.9" stroke="#000" stroke-width="1.2"/>
<line x1="648.5" y1="1338.5" x2="652.3" y2="1338.5" stroke="#000" stroke-width="1"/>
<text x="647.0" y="1342.5" font-family="'Liberation Sans', Arial, sans-serif" font-size="11" text-anchor="end" fill="#1A1A1A" textLength="5.2" lengthAdjust="spacingAndGlyphs">2</text>
<line x1="648.5" y1="1350.1" x2="652.3" y2="1350.1" stroke="#000" stroke-width="1"/>
<text x="647.0" y="1354.1" font-family="'Liberation Sans', Arial, sans-serif" font-size="11" text-anchor="end" fill="#1A1A1A" textLength="13.0" lengthAdjust="spacingAndGlyphs">1.5</text>
<line x1="648.5" y1="1361.7" x2="652.3" y2="1361.7" stroke="#000" stroke-width="1"/>
<text x="647.0" y="1365.7" font-family="'Liberation Sans', Arial, sans-serif" font-size="11" text-anchor="end" fill="#1A1A1A" textLength="5.2" lengthAdjust="spacingAndGlyphs">1</text>
<line x1="648.5" y1="1373.3" x2="652.3" y2="1373.3" stroke="#000" stroke-width="1"/>
<text x="647.0" y="1377.3" font-family="'Liberation Sans', Arial, sans-serif" font-size="11" text-anchor="end" fill="#1A1A1A" textLength="13.0" lengthAdjust="spacingAndGlyphs">0.5</text>
<line x1="648.5" y1="1384.9" x2="652.3" y2="1384.9" stroke="#000" stroke-width="1"/>
<text x="647.0" y="1388.9" font-family="'Liberation Sans', Arial, sans-serif" font-size="11" text-anchor="end" fill="#1A1A1A" textLength="5.2" lengthAdjust="spacingAndGlyphs">0</text>
<rect x="116.0" y="1777.0" width="53.5" height="9.3" fill="#E41A1C"/>
<text x="147.2" y="1791.0" font-family="'Liberation Sans', Arial, sans-serif" font-size="13.2" text-anchor="end" fill="#1A1A1A" transform="rotate(-90 147.2 1791.0)">B_cells</text>
<rect x="169.3" y="1777.0" width="53.2" height="9.3" fill="#377EB8"/>
<text x="200.3" y="1791.0" font-family="'Liberation Sans', Arial, sans-serif" font-size="13.2" text-anchor="end" fill="#1A1A1A" transform="rotate(-90 200.3 1791.0)">T_cells</text>
<rect x="222.3" y="1777.0" width="52.9" height="9.3" fill="#4DAF4A"/>
<text x="253.2" y="1791.0" font-family="'Liberation Sans', Arial, sans-serif" font-size="13.2" text-anchor="end" fill="#1A1A1A" transform="rotate(-90 253.2 1791.0)">Myeloid_cells</text>
<rect x="275.0" y="1777.0" width="52.8" height="9.3" fill="#984EA3"/>
<text x="305.8" y="1791.0" font-family="'Liberation Sans', Arial, sans-serif" font-size="13.2" text-anchor="end" fill="#1A1A1A" transform="rotate(-90 305.8 1791.0)">WISP1_Fib_Negative</text>
<rect x="327.6" y="1777.0" width="52.9" height="9.3" fill="#F0921B"/>
<text x="358.5" y="1791.0" font-family="'Liberation Sans', Arial, sans-serif" font-size="13.2" text-anchor="end" fill="#1A1A1A" transform="rotate(-90 358.5 1791.0)">Epithelial/Tumor</text>
<rect x="380.3" y="1777.0" width="52.7" height="9.3" fill="#E77FB4"/>
<text x="411.1" y="1791.0" font-family="'Liberation Sans', Arial, sans-serif" font-size="13.2" text-anchor="end" fill="#1A1A1A" transform="rotate(-90 411.1 1791.0)">Endothelial_cells</text>
<rect x="432.8" y="1777.0" width="52.8" height="9.3" fill="#B89BCB"/>
<text x="463.6" y="1791.0" font-family="'Liberation Sans', Arial, sans-serif" font-size="13.2" text-anchor="end" fill="#1A1A1A" transform="rotate(-90 463.6 1791.0)">Mast_cells</text>
<rect x="485.4" y="1777.0" width="53.0" height="9.3" fill="#A65628"/>
<text x="516.3" y="1791.0" font-family="'Liberation Sans', Arial, sans-serif" font-size="13.2" text-anchor="end" fill="#1A1A1A" transform="rotate(-90 516.3 1791.0)">Neutrophils</text>
<rect x="538.2" y="1777.0" width="53.3" height="9.3" fill="#56A9DE"/>
<text x="569.2" y="1791.0" font-family="'Liberation Sans', Arial, sans-serif" font-size="13.2" text-anchor="end" fill="#1A1A1A" transform="rotate(-90 569.2 1791.0)">WISP1_Fib_Positive</text>
<rect x="652.3" y="1777.0" width="52.7" height="9.3" fill="#E41A1C"/>
<text x="683.0" y="1791.0" font-family="'Liberation Sans', Arial, sans-serif" font-size="13.2" text-anchor="end" fill="#1A1A1A" transform="rotate(-90 683.0 1791.0)">B_cells</text>
<rect x="704.8" y="1777.0" width="52.7" height="9.3" fill="#377EB8"/>
<text x="735.5" y="1791.0" font-family="'Liberation Sans', Arial, sans-serif" font-size="13.2" text-anchor="end" fill="#1A1A1A" transform="rotate(-90 735.5 1791.0)">T_cells</text>
<rect x="757.3" y="1777.0" width="53.0" height="9.3" fill="#4DAF4A"/>
<text x="788.2" y="1791.0" font-family="'Liberation Sans', Arial, sans-serif" font-size="13.2" text-anchor="end" fill="#1A1A1A" transform="rotate(-90 788.2 1791.0)">Myeloid_cells</text>
<rect x="810.1" y="1777.0" width="53.5" height="9.3" fill="#984EA3"/>
<text x="841.2" y="1791.0" font-family="'Liberation Sans', Arial, sans-serif" font-size="13.2" text-anchor="end" fill="#1A1A1A" transform="rotate(-90 841.2 1791.0)">WISP1_Fib_Negative</text>
<rect x="863.4" y="1777.0" width="52.7" height="9.3" fill="#F0921B"/>
<text x="894.1" y="1791.0" font-family="'Liberation Sans', Arial, sans-serif" font-size="13.2" text-anchor="end" fill="#1A1A1A" transform="rotate(-90 894.1 1791.0)">Epithelial/Tumor</text>
<rect x="915.9" y="1777.0" width="52.3" height="9.3" fill="#E77FB4"/>
<text x="946.5" y="1791.0" font-family="'Liberation Sans', Arial, sans-serif" font-size="13.2" text-anchor="end" fill="#1A1A1A" transform="rotate(-90 946.5 1791.0)">Endothelial_cells</text>
<rect x="968.0" y="1777.0" width="53.4" height="9.3" fill="#B89BCB"/>
<text x="999.1" y="1791.0" font-family="'Liberation Sans', Arial, sans-serif" font-size="13.2" text-anchor="end" fill="#1A1A1A" transform="rotate(-90 999.1 1791.0)">Mast_cells</text>
<rect x="1021.2" y="1777.0" width="52.7" height="9.3" fill="#A65628"/>
<text x="1052.0" y="1791.0" font-family="'Liberation Sans', Arial, sans-serif" font-size="13.2" text-anchor="end" fill="#1A1A1A" transform="rotate(-90 1052.0 1791.0)">Neutrophils</text>
<rect x="1073.7" y="1777.0" width="53.1" height="9.3" fill="#56A9DE"/>
<text x="1104.7" y="1791.0" font-family="'Liberation Sans', Arial, sans-serif" font-size="13.2" text-anchor="end" fill="#1A1A1A" transform="rotate(-90 1104.7 1791.0)">WISP1_Fib_Positive</text>
<rect x="595.3" y="1392.3" width="45.0" height="5.3" fill="#7A7A7A" stroke="#111" stroke-width="1.3"/>
<rect x="595.3" y="1401.2" width="43.0" height="5.3" fill="#7A7A7A" stroke="#111" stroke-width="1.3"/>
<rect x="595.3" y="1410.0" width="40.0" height="5.3" fill="#7A7A7A" stroke="#111" stroke-width="1.3"/>
<rect x="595.3" y="1418.9" width="36.0" height="5.3" fill="#7A7A7A" stroke="#111" stroke-width="1.3"/>
<rect x="595.3" y="1427.7" width="32.0" height="5.3" fill="#7A7A7A" stroke="#111" stroke-width="1.3"/>
<rect x="595.3" y="1436.6" width="10.0" height="5.3" fill="#7A7A7A" stroke="#111" stroke-width="1.3"/>
<rect x="595.3" y="1445.5" width="5.0" height="5.3" fill="#7A7A7A" stroke="#111" stroke-width="1.3"/>
<rect x="595.3" y="1454.3" width="2.2" height="5.3" fill="#111"/>
<rect x="595.3" y="1463.2" width="2.2" height="5.3" fill="#111"/>
<rect x="595.3" y="1472.0" width="2.2" height="5.3" fill="#111"/>
<rect x="595.3" y="1480.9" width="2.2" height="5.3" fill="#111"/>
<rect x="595.3" y="1489.8" width="2.2" height="5.3" fill="#111"/>
<rect x="595.3" y="1498.6" width="2.2" height="5.3" fill="#111"/>
<rect x="595.3" y="1507.5" width="2.2" height="5.3" fill="#111"/>
<rect x="595.3" y="1516.3" width="2.2" height="5.3" fill="#111"/>
<rect x="595.3" y="1525.2" width="2.2" height="5.3" fill="#111"/>
<rect x="595.3" y="1534.1" width="2.2" height="5.3" fill="#111"/>
<rect x="595.3" y="1542.9" width="2.2" height="5.3" fill="#111"/>
<rect x="595.3" y="1551.8" width="2.2" height="5.3" fill="#111"/>
<rect x="595.3" y="1560.6" width="2.2" height="5.3" fill="#111"/>
<rect x="595.3" y="1569.5" width="2.2" height="5.3" fill="#111"/>
<rect x="595.3" y="1578.4" width="2.2" height="5.3" fill="#111"/>
<rect x="595.3" y="1587.2" width="2.2" height="5.3" fill="#111"/>
<rect x="595.3" y="1596.1" width="2.2" height="5.3" fill="#111"/>
<rect x="595.3" y="1604.9" width="2.2" height="5.3" fill="#111"/>
<rect x="595.3" y="1613.8" width="2.2" height="5.3" fill="#111"/>
<rect x="595.3" y="1622.7" width="2.2" height="5.3" fill="#111"/>
<rect x="595.3" y="1631.5" width="2.2" height="5.3" fill="#111"/>
<rect x="595.3" y="1640.4" width="2.2" height="5.3" fill="#111"/>
<rect x="595.3" y="1649.2" width="2.2" height="5.3" fill="#111"/>
<rect x="595.3" y="1658.1" width="2.2" height="5.3" fill="#111"/>
<rect x="595.3" y="1667.0" width="2.2" height="5.3" fill="#111"/>
<rect x="595.3" y="1675.8" width="2.2" height="5.3" fill="#111"/>
<rect x="595.3" y="1684.7" width="2.2" height="5.3" fill="#111"/>
<rect x="595.3" y="1693.5" width="2.2" height="5.3" fill="#111"/>
<rect x="595.3" y="1702.4" width="2.2" height="5.3" fill="#111"/>
<rect x="595.3" y="1711.3" width="2.2" height="5.3" fill="#111"/>
<rect x="595.3" y="1720.1" width="2.2" height="5.3" fill="#111"/>
<rect x="595.3" y="1729.0" width="2.2" height="5.3" fill="#111"/>
<rect x="595.3" y="1737.8" width="2.2" height="5.3" fill="#111"/>
<rect x="595.3" y="1746.7" width="2.2" height="5.3" fill="#111"/>
<rect x="595.3" y="1755.6" width="2.2" height="5.3" fill="#111"/>
<rect x="595.3" y="1764.4" width="2.2" height="5.3" fill="#111"/>
<line x1="595.3" y1="1779.0" x2="639.5" y2="1779.0" stroke="#000" stroke-width="1"/>
<line x1="595.3" y1="1779.0" x2="595.3" y2="1776.0" stroke="#000" stroke-width="1"/>
<text x="598.8" y="1782.0" font-family="'Liberation Sans', Arial, sans-serif" font-size="10" text-anchor="end" fill="#1A1A1A" transform="rotate(-90 598.8 1782.0)">0</text>
<line x1="610.0" y1="1779.0" x2="610.0" y2="1776.0" stroke="#000" stroke-width="1"/>
<text x="613.5" y="1782.0" font-family="'Liberation Sans', Arial, sans-serif" font-size="10" text-anchor="end" fill="#1A1A1A" transform="rotate(-90 613.5 1782.0)">5</text>
<line x1="624.7" y1="1779.0" x2="624.7" y2="1776.0" stroke="#000" stroke-width="1"/>
<text x="628.2" y="1782.0" font-family="'Liberation Sans', Arial, sans-serif" font-size="10" text-anchor="end" fill="#1A1A1A" transform="rotate(-90 628.2 1782.0)">10</text>
<line x1="639.4" y1="1779.0" x2="639.4" y2="1776.0" stroke="#000" stroke-width="1"/>
<text x="642.9" y="1782.0" font-family="'Liberation Sans', Arial, sans-serif" font-size="10" text-anchor="end" fill="#1A1A1A" transform="rotate(-90 642.9 1782.0)">15</text>
<rect x="1130.8" y="1392.3" width="46.0" height="5.3" fill="#7A7A7A" stroke="#111" stroke-width="1.3"/>
<rect x="1130.8" y="1401.2" width="42.0" height="5.3" fill="#7A7A7A" stroke="#111" stroke-width="1.3"/>
<rect x="1130.8" y="1410.0" width="38.0" height="5.3" fill="#7A7A7A" stroke="#111" stroke-width="1.3"/>
<rect x="1130.8" y="1418.9" width="34.0" height="5.3" fill="#7A7A7A" stroke="#111" stroke-width="1.3"/>
<rect x="1130.8" y="1427.7" width="30.0" height="5.3" fill="#7A7A7A" stroke="#111" stroke-width="1.3"/>
<rect x="1130.8" y="1436.6" width="10.0" height="5.3" fill="#7A7A7A" stroke="#111" stroke-width="1.3"/>
<rect x="1130.8" y="1445.5" width="7.0" height="5.3" fill="#7A7A7A" stroke="#111" stroke-width="1.3"/>
<rect x="1130.8" y="1454.3" width="2.2" height="5.3" fill="#111"/>
<rect x="1130.8" y="1463.2" width="2.2" height="5.3" fill="#111"/>
<rect x="1130.8" y="1472.0" width="2.2" height="5.3" fill="#111"/>
<rect x="1130.8" y="1480.9" width="2.2" height="5.3" fill="#111"/>
<rect x="1130.8" y="1489.8" width="2.2" height="5.3" fill="#111"/>
<rect x="1130.8" y="1498.6" width="2.2" height="5.3" fill="#111"/>
<rect x="1130.8" y="1507.5" width="2.2" height="5.3" fill="#111"/>
<rect x="1130.8" y="1516.3" width="2.2" height="5.3" fill="#111"/>
<rect x="1130.8" y="1525.2" width="2.2" height="5.3" fill="#111"/>
<rect x="1130.8" y="1534.1" width="2.2" height="5.3" fill="#111"/>
<rect x="1130.8" y="1542.9" width="2.2" height="5.3" fill="#111"/>
<rect x="1130.8" y="1551.8" width="2.2" height="5.3" fill="#111"/>
<rect x="1130.8" y="1560.6" width="2.2" height="5.3" fill="#111"/>
<rect x="1130.8" y="1569.5" width="2.2" height="5.3" fill="#111"/>
<rect x="1130.8" y="1578.4" width="2.2" height="5.3" fill="#111"/>
<rect x="1130.8" y="1587.2" width="2.2" height="5.3" fill="#111"/>
<rect x="1130.8" y="1596.1" width="2.2" height="5.3" fill="#111"/>
<rect x="1130.8" y="1604.9" width="2.2" height="5.3" fill="#111"/>
<rect x="1130.8" y="1613.8" width="2.2" height="5.3" fill="#111"/>
<rect x="1130.8" y="1622.7" width="2.2" height="5.3" fill="#111"/>
<rect x="1130.8" y="1631.5" width="2.2" height="5.3" fill="#111"/>
<rect x="1130.8" y="1640.4" width="2.2" height="5.3" fill="#111"/>
<rect x="1130.8" y="1649.2" width="2.2" height="5.3" fill="#111"/>
<rect x="1130.8" y="1658.1" width="2.2" height="5.3" fill="#111"/>
<rect x="1130.8" y="1667.0" width="2.2" height="5.3" fill="#111"/>
<rect x="1130.8" y="1675.8" width="2.2" height="5.3" fill="#111"/>
<rect x="1130.8" y="1684.7" width="2.2" height="5.3" fill="#111"/>
<rect x="1130.8" y="1693.5" width="2.2" height="5.3" fill="#111"/>
<rect x="1130.8" y="1702.4" width="2.2" height="5.3" fill="#111"/>
<rect x="1130.8" y="1711.3" width="2.2" height="5.3" fill="#111"/>
<rect x="1130.8" y="1720.1" width="2.2" height="5.3" fill="#111"/>
<rect x="1130.8" y="1729.0" width="2.2" height="5.3" fill="#111"/>
<rect x="1130.8" y="1737.8" width="2.2" height="5.3" fill="#111"/>
<rect x="1130.8" y="1746.7" width="2.2" height="5.3" fill="#111"/>
<rect x="1130.8" y="1755.6" width="2.2" height="5.3" fill="#111"/>
<rect x="1130.8" y="1764.4" width="2.2" height="5.3" fill="#111"/>
<line x1="1130.8" y1="1779.0" x2="1175.0" y2="1779.0" stroke="#000" stroke-width="1"/>
<line x1="1130.8" y1="1779.0" x2="1130.8" y2="1776.0" stroke="#000" stroke-width="1"/>
<text x="1134.3" y="1782.0" font-family="'Liberation Sans', Arial, sans-serif" font-size="10" text-anchor="end" fill="#1A1A1A" transform="rotate(-90 1134.3 1782.0)">0</text>
<line x1="1145.5" y1="1779.0" x2="1145.5" y2="1776.0" stroke="#000" stroke-width="1"/>
<text x="1149.0" y="1782.0" font-family="'Liberation Sans', Arial, sans-serif" font-size="10" text-anchor="end" fill="#1A1A1A" transform="rotate(-90 1149.0 1782.0)">5</text>
<line x1="1160.2" y1="1779.0" x2="1160.2" y2="1776.0" stroke="#000" stroke-width="1"/>
<text x="1163.7" y="1782.0" font-family="'Liberation Sans', Arial, sans-serif" font-size="10" text-anchor="end" fill="#1A1A1A" transform="rotate(-90 1163.7 1782.0)">10</text>
<line x1="1174.9" y1="1779.0" x2="1174.9" y2="1776.0" stroke="#000" stroke-width="1"/>
<text x="1178.4" y="1782.0" font-family="'Liberation Sans', Arial, sans-serif" font-size="10" text-anchor="end" fill="#1A1A1A" transform="rotate(-90 1178.4 1782.0)">15</text>
<rect x="1206.1" y="1532.4" width="11.7" height="96.9" fill="url(#gradRS)"/>
<text x="1222.5" y="1541.5" font-family="'Liberation Sans', Arial, sans-serif" font-size="10" fill="#1A1A1A">1</text>
<text x="1222.5" y="1629.0" font-family="'Liberation Sans', Arial, sans-serif" font-size="10" fill="#1A1A1A">0</text>
<text x="1197.0" y="1580.4" font-family="'Liberation Sans', Arial, sans-serif" font-size="10.5" text-anchor="middle" fill="#1A1A1A" transform="rotate(-90 1197.0 1580.4)">Relative strength</text>
<path d="M1635.4 1364.0 L1651.9 1362.5 L1656.4 1371.5 L1660.9 1389.5 L1662.4 1404.5 L1660.9 1418.0 L1650.4 1430.0 L1633.9 1429.2 L1623.4 1415.0 L1616.7 1408.2 L1618.9 1398.5 L1629.4 1385.0 L1633.9 1370.0 Z" fill="#EF6F67" fill-opacity="0.25"/>
<path d="M1654.9 1456.9 L1669.9 1447.9 L1678.9 1441.9 L1692.4 1444.9 L1701.4 1455.4 L1702.9 1468.9 L1693.9 1482.4 L1692.4 1489.9 L1702.9 1504.9 L1707.4 1527.4 L1717.9 1534.9 L1724.6 1549.9 L1719.4 1564.8 L1714.9 1579.8 L1714.9 1609.8 L1711.9 1632.3 L1705.9 1647.3 L1692.4 1659.3 L1669.9 1662.3 L1662.4 1654.8 L1660.2 1636.8 L1657.9 1602.3 L1660.9 1572.3 L1653.4 1557.4 L1651.9 1534.9 L1650.4 1512.4 L1651.9 1489.9 L1651.9 1474.9 Z" fill="#EF6F67" fill-opacity="0.25"/>
<path d="M1544.0 1471.9 L1557.5 1470.4 L1565.0 1482.4 L1580.0 1486.9 L1583.0 1501.9 L1589.0 1519.9 L1592.0 1534.9 L1583.0 1540.9 L1569.5 1527.4 L1560.5 1516.9 L1553.0 1497.4 L1544.0 1482.4 Z" fill="#EF6F67" fill-opacity="0.25"/>
<path d="M1614.4 1504.9 L1633.9 1506.4 L1636.9 1516.9 L1630.9 1527.4 L1617.4 1525.9 L1609.9 1519.9 Z" fill="#EF6F67" fill-opacity="0.25"/>
<path d="M1589.0 1546.9 L1595.0 1543.9 L1607.0 1564.9 L1614.4 1582.8 L1612.9 1594.8 L1603.9 1588.8 L1595.0 1570.8 Z" fill="#EF6F67" fill-opacity="0.25"/>
<path d="M1609.9 1630.8 L1624.9 1620.3 L1642.9 1609.8 L1647.4 1606.8 L1644.4 1617.3 L1633.9 1627.8 L1617.4 1632.3 Z" fill="#EF6F67" fill-opacity="0.25"/>
<path d="M1376.5 1748.0 L1380.0 1739.0 L1389.0 1737.0 L1399.0 1741.0 L1400.0 1750.0 L1394.0 1757.0 L1382.0 1757.0 Z" fill="#EF6F67" fill-opacity="0.25"/>
<path d="M1312.4 1611.7 L1324.1 1596.1 L1347.6 1580.4 L1357.3 1564.8 L1367.1 1572.6 L1378.8 1596.1 L1388.6 1603.9 L1382.7 1615.6 L1363.2 1625.4 L1339.8 1635.1 L1324.1 1631.2 L1314.4 1623.4 Z" fill="#20B7BD" fill-opacity="0.25"/>
<path d="M1345.0 1445.0 L1356.0 1446.0 L1363.0 1451.0 L1357.0 1461.0 L1349.0 1470.0 L1351.0 1480.0 L1357.0 1492.0 L1358.0 1506.0 L1356.0 1521.0 L1358.0 1538.0 L1353.0 1542.0 L1349.0 1525.0 L1349.0 1506.0 L1343.0 1491.0 L1334.0 1479.0 L1329.0 1467.0 L1333.0 1454.0 Z" fill="#20B7BD" fill-opacity="0.25"/>
<path d="M1417.2 1409.9 L1402.6 1418.5 L1389.0 1427.6 L1383.2 1436.9 L1388.8 1441.1 L1395.0 1434.4 L1407.4 1425.5 L1420.8 1415.1 Z" fill="#20B7BD" fill-opacity="0.25"/>
<path transform="scale(.5)" d="M3287 2727h0m1 2h0m1 0h0m9-1h0m6 1h0m1 0h0m-1 2h0m-4 6h0m0-2h0m-1 4h0m-1-7h0m-1 7h0m-2-1h0m0-4h0m-4-1h0m0 1h0m-1-3h0m-5 9h0m-2-9h0m-9 9h0m-1-4h0m-2-1h0m-4 12h0m3 1h0m1-3h0m6 2h0m1-1h0m4 1h0m0-7h0m1 1h0m2 9h0m3-5h0m1 1h0m3-1h0m1-3h0m2 5h0m2-4h0m5 4h0m3-3h0m4-4h0m3 8h0m2 1h0m-3 9h0m-3-5h0m-1 4h0m-8-3h0m-7-3h0m-4 4h0m-6-5h0m0 1h0m-2 7h0m-4-2h0m0 2h0m-1-7h0m-4 5h0m-1-5h0m-4 1h0m-4 15h0m0-5h0m5 5h0m5-7h0m6 1h0m0 2h0m6 0h0m3-2h0m0 3h0m1 4h0m3-2h0m5-1h0m3 5h0m0-5h0m1-3h0m2 2h0m4-2h0m15 16h0m-1-1h0m-1-1h0m0 0h0m-1-2h0m-3 2h0m-3 3h0m-5-7h0m-2 4h0m-1 4h0m0-7h0m-1 6h0m-1-1h0m-1-7h0m0 2h0m-2 2h0m0 1h0m-1 1h0m-3-4h0m-5-1h0m-1-1h0m-2 3h0m-7 3h0m-1-4h0m-2 4h0m-4-6h0m0 4h0m-3 4h0m-3 0h0m-3-4h0m0 4h0m-1-9h0m-1 8h0m-1-2h0m-1-3h0m0-2h0m-2 6h0m-7 7h0m0-4h0m5 7h0m1 1h0m2-5h0m0 5h0m2 0h0m1 0h0m0-6h0m3-1h0m0 0h0m1 5h0m6-6h0m0 9h0m2-9h0m7 7h0m1-5h0m1 6h0m0-8h0m8 8h0m1-3h0m1 2h0m8-5h0m3 6h0m1 2h0m0-2h0m2-2h0m3-2h0m0 5h0m2-5h0m1 5h0m0-3h0m1 0h0m2 2h0m6-4h0m0 5h0m1 6h0m-3-5h0m-1 3h0m-2 2h0m-5-5h0m-2 10h0m-6-6h0m-1-4h0m-1 8h0m-5 0h0m-2-3h0m-1 0h0m0 1h0m0-5h0m-6 9h0m-2-1h0m-5-1h0m-6-3h0m-2-4h0m-2 4h0m-4-1h0m0 2h0m-2-6h0m-3 5h0m-4 1h0m-3 2h0m-4-2h0m-2-5h0m-1 1h0m-3 5h0m0 3h0m-4-7h0m-1 7h0m-2-1h0m5 5h0m9 0h0m1 0h0m1-3h0m2 7h0m5-1h0m4-1h0m0-2h0m2 1h0m0 2h0m1 0h0m3-4h0m6 3h0m5-4h0m2 2h0m1 5h0m7-4h0m1 2h0m6 0h0m1-6h0m3 4h0m3 4h0m1 0h0m1-3h0m0 4h0m0-10h0m1 2h0m1 3h0m2 1h0m4-3h0m0-1h0m4 1h0m1 13h0m-5 3h0m-6-9h0m-3 2h0m-1 3h0m-7 2h0m-4-5h0m-3-2h0m-1 6h0m-1-4h0m-4 4h0m-4 3h0m-1-8h0m-2 9h0m-1-8h0m-6 1h0m0 6h0m-6-7h0m-2 1h0m0 4h0m-4-1h0m-1-1h0m-12-3h0m-4 3h0m-2-2h0m-3 0h0m2 9h0m7 6h0m4-8h0m4 2h0m3 5h0m2 2h0m0-9h0m3 10h0m1-8h0m1 3h0m6 0h0m2-3h0m1 0h0m2 5h0m1-5h0m4 3h0m0 0h0m2 4h0m2-5h0m3-1h0m9 4h0m1-2h0m3-1h0m3 3h0m1-4h0m3 3h0m7-2h0m3-2h0m0 1h0m0 11h0m-1 0h0m-2-2h0m-1 2h0m-7 4h0m-4-6h0m-1 6h0m-7 0h0m-2-4h0m-4-3h0m-4 6h0m-3-2h0m-2 2h0m-3-6h0m-1 7h0m-4-8h0m-1 10h0m-2-7h0m-1 4h0m-2 2h0m-6 1h0m-4-7h0m-1 6h0m-1-2h0m-5-5h0m7 9h0m1 1h0m6 1h0m3-3h0m5 0h0m1 4h0m15 3h0m4-6h0m0 1h0m1 2h0m0 2h0m2-1h0m4 3h0m1 1h0m0-5h0m4-1h0m4 2h0m0 4h0m5-3h0m-5 5h0m-5 0h0m-2 4h0m-3 2h0m0-3h0m-1 5h0m0-3h0m0-6h0m-1 5h0m0-1h0m-1-4h0m-3 7h0m-2-6h0m-4 3h0m-2-3h0m-9 0h0m-1 2h0m-2-1h0m26 16h0m1 0h0m1 1h0m0 4h0m-3-1h0m2 16h0m0 2h0m5-3h0m50 0h0m1 0h0m1 2h0m5 0h0m31 9h0m-1-1h0m-4-2h0m-1-3h0m-6 3h0m-7-1h0m-3 4h0m0 1h0m0 0h0m-4-8h0m-1 4h0m-2-3h0m-4 3h0m-1-4h0m-3 0h0m-4 2h0m-2 2h0m-1-2h0m-4 4h0m-42 3h0m3 4h0m18 4h0m4 1h0m3-6h0m2 3h0m0 1h0m3-4h0m10 1h0m2 3h0m5 2h0m2-1h0m2-3h0m1-2h0m2 1h0m6-2h0m0 7h0m2-2h0m0 1h0m1-2h0m2 0h0m2-2h0m2 6h0m0-7h0m4-2h0m4 6h0m6-3h0m3 3h0m2-5h0m2 1h0m9 10h0m-2-3h0m-1 3h0m-5-2h0m-6 8h0m0-8h0m-2 3h0m0 1h0m-2-3h0m-4 5h0m-1 2h0m-1-3h0m-3 3h0m-1-2h0m-1-1h0m-9-2h0m-5-2h0m0 1h0m-7 1h0m-1-2h0m-2-1h0m-2 7h0m0-7h0m-1 1h0m-2 4h0m-3-1h0m0-3h0m-3 6h0m0-6h0m-3 1h0m-2 5h0m-1 2h0m-2-10h0m-11 8h0m0-6h0m-2 7h0m0-8h0m-3 5h0m-11 1h0m-1 1h0m10 5h0m1-1h0m4 2h0m6 1h0m2 3h0m0-2h0m3-5h0m2 4h0m0-4h0m2 7h0m0-4h0m2-3h0m3 5h0m2 2h0m4 0h0m3-4h0m3 4h0m0-6h0m2-2h0m6 1h0m4 6h0m4 0h0m1-5h0m2 7h0m1-3h0m9-3h0m3 3h0m0 1h0m3-5h0m1 7h0m8 0h0m0-9h0m1 9h0m2-5h0m6 1h0m1 2h0m-2 10h0m-9 2h0m-6-2h0m-1-6h0m0 1h0m-2 3h0m-2 3h0m-1-3h0m-9 2h0m-1 2h0m-2-2h0m-2-4h0m-1 6h0m-7-5h0m-1-3h0m-1 0h0m-6 2h0m0 3h0m-1-3h0m-1 1h0m-3 4h0m-1-6h0m-2 5h0m-2 1h0m-1-4h0m-2 5h0m-5-6h0m-1-1h0m-2 2h0m-5-3h0m-3 9h0m0-9h0m-1 4h0m-11-2h0m-211 13h0m2-3h0m3 2h0m3 2h0m2 2h0m2-5h0m1-2h0m0 4h0m2-4h0m2 1h0m191 4h0m12-5h0m1 7h0m4-6h0m1 4h0m10-3h0m4 6h0m1-8h0m1-1h0m1 1h0m2 6h0m2 2h0m4-3h0m1 2h0m1-3h0m4 2h0m7-1h0m3-2h0m5 3h0m2-1h0m2 1h0m1-5h0m5 6h0m2-4h0m2-4h0m2 8h0m1-1h0m0-8h0m4 10h0m0-5h0m2-5h0m1 13h0m-5 2h0m-5-1h0m-7 3h0m-3-6h0m-2 5h0m-6 1h0m-5 1h0m-4 1h0m-5-6h0m-2 5h0m-10-5h0m-5 4h0m-1-4h0m-4 6h0m0-1h0m-10-1h0m-16-5h0m-25 7h0m-157-1h0m-1 0h0m0-5h0m-4 0h0m-6 2h0m-4 4h0m0-1h0m-12-1h0m0-7h0m-3 7h0m-1-5h0m-2 1h0m-1 6h0m0 3h0m4 7h0m1 0h0m0-9h0m1 9h0m1-5h0m5 1h0m0-1h0m4 4h0m0 1h0m0-7h0m4 6h0m2-3h0m4-5h0m1 5h0m2 4h0m3-7h0m0-2h0m5 3h0m2 3h0m0 1h0m2 3h0m2-3h0m6 2h0m2-1h0m1 1h0m88-2h0m13-2h0m5 3h0m14 1h0m14-2h0m7-2h0m19 2h0m6 2h0m1-6h0m1 7h0m2-6h0m1 2h0m0 2h0m3-5h0m1-1h0m14-2h0m2 6h0m3 2h0m1-8h0m0 8h0m1-4h0m0 6h0m2-2h0m1-6h0m2 6h0m1 0h0m4-5h0m3-2h0m2 1h0m1 7h0m6-5h0m2 2h0m1 3h0m2-8h0m0 5h0m2-4h0m2 2h0m2 1h0m2-2h0m2 4h0m1-2h0m6 14h0m-2-6h0m-21-1h0m-3 6h0m-3-1h0m-1-7h0m-2 9h0m-3-3h0m0-5h0m0 8h0m-2-3h0m-1 1h0m-2 1h0m-3-4h0m-2-1h0m-6 6h0m0-7h0m-1 8h0m-1-7h0m-2 2h0m-3 1h0m-1 3h0m0-7h0m-2 4h0m0 3h0m-3 0h0m-5-7h0m-3 3h0m-2-4h0m-6 6h0m-18 1h0m-21-7h0m0 2h0m-14 3h0m-26-4h0m-61 6h0m-1 2h0m-1-5h0m-1 1h0m-3-2h0m-3 0h0m0 0h0m-1 5h0m-2-3h0m-1 0h0m-2 3h0m-1-6h0m-3 4h0m-5-3h0m-1 3h0m0-5h0m0-2h0m-1 2h0m-6 5h0m-2-7h0m0 8h0m-2 2h0m-3-5h0m-2-2h0m-2-1h0m-1 0h0m-3 2h0m-2 4h0m-1 2h0m0-9h0m-2 0h0m-3 0h0m-1 5h0m-3-3h0m-2 0h0m-1 5h0m0-6h0m-2 4h0m0-5h0m3 10h0m4 5h0m0 1h0m1-1h0m1-5h0m1 0h0m10 0h0m0 1h0m1 5h0m1-3h0m3-3h0m1 1h0m5 0h0m1 1h0m0 3h0m1-5h0m1 3h0m0-4h0m0 10h0m2-8h0m1 4h0m4 4h0m1-3h0m0-3h0m1 1h0m0 5h0m1-6h0m4 6h0m0-6h0m2 0h0m7 6h0m0-4h0m2-2h0m41 5h0m18-2h0m51 1h0m8 1h0m27-7h0m8 7h0m3-9h0m1 6h0m5 1h0m3-6h0m2 5h0m1-1h0m6 0h0m0-3h0m1 2h0m2 0h0m4-3h0m2-1h0m4 7h0m1-1h0m0-4h0m2 5h0m2-7h0m3 4h0m2 5h0m1 0h0m8-7h0m1 2h0m2 1h0m3 1h0m1 0h0m12-1h0m6 1h0m8 12h0m-4 2h0m0-2h0m-1-5h0m0 4h0m-2 2h0m0-8h0m-2 6h0m-1-5h0m-1 3h0m-5 4h0m0-2h0m-3 1h0m-1-4h0m0 2h0m-2 1h0m-1-4h0m-5 7h0m-2-1h0m-4-8h0m-3 3h0m0 1h0m-2 5h0m-8-4h0m0 1h0m-3-6h0m-2 3h0m-1 0h0m-9 2h0m-2 1h0m-2-2h0m-2-1h0m-2-3h0m-1 6h0m-5-2h0m-1-3h0m-2 2h0m-2 4h0m0-4h0m-2 5h0m0-4h0m-1 0h0m0 1h0m0-6h0m0 8h0m-1 0h0m-3 1h0m-2-2h0m-19-1h0m-19-2h0m-1-2h0m-1 4h0m-40-6h0m-14 3h0m-47 7h0m-2-6h0m-1-2h0m-4 5h0m0 3h0m-1-5h0m-2-3h0m-4 7h0m0-6h0m-4 6h0m-2 0h0m0 0h0m0-7h0m-7 2h0m-3-3h0m-2 2h0m-2 3h0m0 2h0m-1-1h0m-1 0h0m-1-1h0m-1 1h0m-1-4h0m0-3h0m-3 6h0m-1 2h0m-1-7h0m-2 8h0m-11-6h0m3 10h0m2 2h0m1-2h0m11 0h0m0 5h0m2 2h0m0-4h0m1-5h0m0 6h0m1-6h0m3 8h0m2-3h0m1-2h0m2-2h0m3 3h0m0-1h0m2 2h0m1 3h0m0-5h0m0 0h0m1 1h0m3 3h0m0 2h0m1-3h0m0-4h0m5-2h0m0 1h0m2-1h0m1 6h0m5-2h0m1-1h0m46 0h0m6 0h0m3 3h0m19 1h0m60-4h0m7-1h0m1 1h0m1 0h0m1 4h0m0 0h0m1-5h0m1-1h0m1 0h0m1 7h0m0-5h0m1-2h0m3 5h0m1-3h0m3 5h0m3-7h0m0 1h0m2 6h0m4-8h0m3 7h0m2-8h0m4 6h0m1-3h0m1 6h0m4-8h0m2 9h0m1-9h0m3 6h0m2 1h0m6 0h0m1 0h0m0-4h0m9 3h0m3 0h0m8 0h0m0-3h0m1 2h0m0 4h0m1-5h0m0 3h0m3 1h0m2-3h0m2-5h0m3 4h0m2-1h0m0 0h0m3 4h0m1-6h0m12 13h0m-14-1h0m-3-2h0m0 2h0m-5 3h0m0 0h0m-3 3h0m-2-7h0m-4 2h0m-5 0h0m-8 2h0m-8 0h0m-2-7h0m-2 2h0m-1-1h0m-1 7h0m-1-6h0m-2 6h0m-1-7h0m-7 8h0m-1-8h0m-6 6h0m-18-6h0m-5 8h0m-2-8h0m-1 1h0m-38 5h0m-7 2h0m-4-4h0m-5 0h0m-5-3h0m-7 8h0m0-4h0m-2-2h0m-1 1h0m-1 2h0m-1 0h0m-2-2h0m-2 2h0m-5 3h0m-58-7h0m-2 4h0m-1-1h0m0-5h0m-2-1h0m-1 3h0m-4-2h0m-1 3h0m0-4h0m-1 4h0m-4 1h0m-2 4h0m0 0h0m-1-5h0m-3-3h0m-11 7h0m-2-3h0m0 3h0m-4-3h0m0-3h0m-2 1h0m-2 6h0m0-3h0m-3 4h0m-3-9h0m0 9h0m-1 0h0m3 4h0m1-2h0m1-1h0m3 0h0m6 0h0m1 8h0m3-3h0m4-1h0m1 4h0m0-4h0m2-4h0m1-1h0m6 4h0m1-3h0m0 4h0m1-4h0m1 2h0m6 0h0m5-1h0m0 8h0m4-9h0m2-1h0m1 5h0m1-1h0m3 3h0m36-2h0m5-2h0m3 5h0m6 1h0m1-1h0m2-4h0m0-2h0m7 5h0m4 3h0m0-6h0m11 5h0m4-2h0m1-1h0m3-2h0m5 5h0m0-8h0m0 1h0m2-1h0m1 5h0m6 2h0m0 1h0m33 1h0m3-3h0m0-5h0m4 2h0m3 1h0m2-2h0m3 0h0m3 5h0m1-5h0m3 0h0m1 5h0m2-1h0m7-2h0m1 3h0m1-2h0m4-1h0m1-3h0m5 4h0m3 0h0m3-2h0m1 5h0m2-5h0m3-2h0m1 3h0m0 1h0m1-3h0m2 5h0m2-7h0m2 6h0m7-4h0m2 0h0m2 5h0m10-7h0m0 2h0m3 7h0m2-8h0m7 6h0m2-8h0m1 3h0m1 6h0m3-4h0m3 13h0m-1-1h0m-2-4h0m-3 3h0m-6 3h0m-3-7h0m-1 7h0m-1-3h0m-1-2h0m0 2h0m-1-5h0m-3 3h0m0 3h0m0 2h0m0 1h0m-2-4h0m0 1h0m-1 2h0m-2-1h0m-3-1h0m-7 0h0m-1 1h0m-1-5h0m-1-2h0m-8 2h0m-2 6h0m0-3h0m-1-3h0m-2 1h0m-4-2h0m-3-2h0m-1 4h0m-1-2h0m-6 5h0m-1-5h0m-2 3h0m0-5h0m-1 6h0m-2 0h0m-5-4h0m-4 7h0m-1-4h0m-3 4h0m-2-7h0m-1 2h0m-13-2h0m-17 7h0m-24-4h0m-1-1h0m-2-3h0m0 0h0m-1 2h0m-2 7h0m-7-4h0m0 3h0m-2-2h0m-7-5h0m0 1h0m-2 7h0m-2-5h0m-3 2h0m-1-3h0m-6 4h0m-3-4h0m-2 0h0m0 2h0m-29-1h0m-19 4h0m-2-3h0m0 2h0m-5-4h0m-3-3h0m-1 4h0m-5 4h0m-1-6h0m-2 3h0m-1 3h0m-1-8h0m-2 1h0m-3 7h0m0-6h0m-1-2h0m0 9h0m0-8h0m-3 2h0m-1-3h0m-1 4h0m-3 2h0m-4-5h0m-2 2h0m-2 5h0m-3-1h0m0-6h0m-3 4h0m-5-1h0m-2-3h0m0-1h0m11 15h0m1-3h0m0 2h0m4-3h0m1 1h0m2 6h0m5-8h0m0 0h0m0 5h0m1 0h0m2 0h0m2 1h0m3-3h0m2 2h0m1 3h0m2-9h0m5 5h0m2 3h0m1-6h0m0 7h0m4 0h0m28 0h0m37-3h0m0-4h0m1 8h0m3-3h0m2 2h0m5-2h0m0-2h0m0-5h0m7 5h0m6-3h0m5 7h0m0-5h0m0 2h0m21-5h0m29 4h0m1 4h0m4-2h0m1-3h0m4-4h0m3 4h0m0 0h0m2-1h0m4 4h0m2 0h0m1 3h0m3-9h0m1 5h0m2 1h0m1-2h0m4 2h0m3-4h0m4-1h0m1 8h0m1-10h0m0 3h0m1 5h0m3 0h0m4 0h0m2 0h0m0 1h0m2 0h0m4-9h0m2 0h0m4 5h0m0 3h0m1-4h0m1-2h0m3 2h0m0 5h0m2-1h0m2-7h0m1 8h0m3 0h0m1 0h0m1-9h0m3 10h0m6-1h0m4-6h0m0 5h0m3-6h0m3 8h0m0-1h0m0-5h0m1 5h0m1 8h0m-6 3h0m-7-1h0m-11-4h0m-1 4h0m-1-1h0m-4-4h0m0 0h0m-9 5h0m0-7h0m-2 3h0m-1-3h0m0-1h0m-4-1h0m-2 6h0m-2 2h0m-2-4h0m-2 1h0m-2-2h0m-1-2h0m0 6h0m-8-3h0m-1 0h0m-7 1h0m-6 0h0m-4 2h0m-1 1h0m-2 0h0m0-2h0m-2 2h0m-5-4h0m-2 2h0m-2-6h0m-4 3h0m-3 6h0m0-7h0m-25 1h0m-18 4h0m-7-5h0m-6 7h0m-1-6h0m-2 4h0m-13-6h0m-3 0h0m-16 3h0m-10-2h0m-31 7h0m-2-2h0m-6-1h0m-1-1h0m-1-2h0m-4 1h0m0 4h0m-2-7h0m-2 1h0m0 7h0m-5-5h0m-3 6h0m-1-6h0m0 4h0m-1 2h0m-7-7h0m0 6h0m-3-8h0m11 14h0m5 5h0m1-3h0m2-6h0m6 3h0m1-3h0m0 1h0m0 4h0m2 0h0m1-1h0m1 3h0m4-6h0m0 1h0m1-1h0m1-1h0m4 6h0m3 0h0m24-3h0m27 2h0m7 1h0m19 2h0m10-8h0m35 9h0m5-5h0m8-2h0m3-2h0m9-1h0m0 4h0m4 5h0m0-1h0m1 0h0m0-1h0m0 3h0m2-2h0m7-8h0m2 5h0m3-2h0m1 5h0m2-4h0m10 2h0m1-3h0m3 6h0m5 0h0m0-5h0m1 6h0m2-9h0m5 7h0m2-5h0m3 2h0m5-3h0m3 1h0m2-1h0m1 5h0m4-2h0m0-3h0m1-1h0m1 9h0m5-6h0m0-1h0m5 2h0m1 3h0m9 0h0m3 2h0m8-3h0m5 6h0m-1 5h0m0 1h0m-1-3h0m-4-3h0m-1 6h0m-2-8h0m0 6h0m-4 2h0m-2-8h0m0 4h0m-1-3h0m-4 3h0m0 3h0m-4 1h0m-1-1h0m0-7h0m-1 7h0m-1-1h0m-2-4h0m-5 6h0m0-7h0m-3 2h0m-3-3h0m-1 3h0m0-3h0m-5 9h0m-10-2h0m-2-8h0m-1 2h0m0 5h0m0-6h0m-1 3h0m-1-1h0m0 2h0m-1 0h0m-2 4h0m0-5h0m-4-3h0m-4 5h0m-3 2h0m-9-5h0m-1 1h0m-1 0h0m-1-1h0m0 0h0m-2 2h0m0 4h0m-2-2h0m0-3h0m-4-3h0m-6-1h0m-1 8h0m-1 1h0m-2-9h0m-4 0h0m-1 9h0m-2-1h0m-4-2h0m-2-6h0m-2 1h0m-2-1h0m-1 3h0m-1 5h0m0 1h0m-1-1h0m-1 0h0m0-7h0m-1 9h0m-1-7h0m-2-1h0m-1 2h0m-1 4h0m-1-1h0m-46-2h0m-23 1h0m-3 3h0m-14-8h0m-46 4h0m0-3h0m-1-1h0m-2 2h0m0 1h0m-1 5h0m-1-8h0m0 6h0m-2 2h0m0-2h0m-3-2h0m19 12h0m102-1h0m23-5h0m2 3h0m4 0h0m10 2h0m7 3h0m1-5h0m2 5h0m2-6h0m10 6h0m2-2h0m3-5h0m3 0h0m1 0h0m0 7h0m2-8h0m0 7h0m1-6h0m0 2h0m0-2h0m3 7h0m12-4h0m0 1h0m3-3h0m4-1h0m5 5h0m4-3h0m1-2h0m2 0h0m0 6h0m0-8h0m6 1h0m1 5h0m6-1h0m5 0h0m5-2h0m5 1h0m1 3h0m0-5h0m1-2h0m3 1h0m3 7h0m0-8h0m1 4h0m3 4h0m3 2h0m0-2h0m6-3h0m2 3h0m0-4h0m2 5h0m0 5h0m-2 0h0m-5 2h0m-6 1h0m-3-3h0m-3 4h0m-2-3h0m-4-2h0m-2 4h0m-2 1h0m0-7h0m-3 6h0m-2-4h0m-5 6h0m0 0h0m-3-9h0m-3 2h0m-1 6h0m-5-2h0m-3 3h0m-7-4h0m-1-1h0m-3-1h0m-2-1h0m-4 3h0m-4-1h0m0 3h0m-4 0h0m-1 3h0m0-9h0m-4 3h0m-1 4h0m-5-8h0m-2 4h0m-2-3h0m0 6h0m-3-5h0m-3-2h0m-2 3h0m-1-1h0m0 2h0m-1-2h0m-1 4h0m-3-4h0m-4 0h0m-3 4h0m-2-1h0m-7-3h0m-7 7h0m-3-5h0m0 2h0m-1-2h0m-34 1h0m-24 3h0m-11-2h0m-17 2h0m-30-5h0m-2 3h0m-1 3h0m-7-2h0m-1 1h0m4 5h0m0 3h0m4-3h0m5 1h0m0 4h0m1-6h0m1 2h0m0-4h0m0 9h0m3-2h0m107-3h0m6 4h0m1-2h0m2 1h0m4-3h0m0 4h0m7-4h0m1 3h0m0 0h0m1-5h0m2 6h0m1-2h0m3 1h0m3-6h0m1 7h0m2-3h0m1 3h0m0-2h0m2 1h0m1-4h0m1 4h0m1-4h0m0 7h0m3-3h0m5 1h0m0-1h0m2-4h0m1-1h0m3 5h0m1-2h0m1-2h0m1 6h0m2-8h0m2 0h0m4 7h0m0-2h0m0 4h0m1-3h0m1 1h0m2-3h0m2-3h0m1-2h0m1 5h0m3-3h0m4 7h0m2-6h0m4 4h0m0-5h0m4 7h0m3-1h0m2 2h0m0-7h0m0 3h0m2 0h0m5 2h0m2 1h0m1-3h0m1 2h0m1 2h0m1-8h0m1 6h0m3 0h0m1-4h0m10 4h0m1 0h0m0-4h0m7 0h0m1 2h0m7 3h0m-5 8h0m0-1h0m-6-6h0m-1 8h0m0-5h0m-3-2h0m-2 2h0m-3 4h0m-6-4h0m-2 7h0m-1-5h0m-5 3h0m-2-3h0m-3-2h0m-1-2h0m-1 8h0m0 0h0m-1 1h0m0-5h0m-1 2h0m-8-4h0m-15 5h0m-5-7h0m-2 2h0m-3 0h0m-1 0h0m-1 5h0m-1 1h0m-1-4h0m-5 3h0m-2-3h0m-1 2h0m-1 0h0m-2-6h0m-4 7h0m-4-7h0m-1 5h0m-2-2h0m-1-3h0m-1 8h0m-4-7h0m-2-2h0m-9 8h0m-3 2h0m-2-2h0m-3 1h0m-1-2h0m-2-3h0m-1 2h0m-5-6h0m-102 9h0m-2-1h0m-1-5h0m0 0h0m-1 2h0m-1 1h0m-1-1h0m-2 1h0m-4-4h0m-2 4h0m0 2h0m-4-5h0m-2 0h0m3 10h0m2 5h0m2-5h0m0 5h0m1-4h0m1 5h0m0 0h0m2-6h0m3 6h0m2-7h0m0-1h0m1 1h0m1 0h0m2 6h0m1-3h0m2 1h0m0 3h0m102-5h0m4-3h0m1 7h0m3 0h0m4-3h0m0-4h0m1 2h0m4-3h0m3 4h0m0-3h0m0 2h0m4 2h0m3-1h0m5-1h0m0-3h0m3 7h0m3-2h0m0 0h0m3-5h0m6 2h0m8 7h0m0-2h0m3-6h0m1 4h0m10-1h0m2 1h0m3-1h0m4 1h0m12 4h0m2 1h0m4-10h0m6 7h0m6-6h0m6 1h0m3 2h0m2 2h0m1-4h0m4 5h0m2 2h0m1-4h0m0-5h0m-3 14h0m-2-1h0m0-1h0m-2 1h0m-5 7h0m-10-5h0m-7 4h0m-1-5h0m-1 5h0m-2-8h0m-3 8h0m-5 0h0m-4-1h0m-3-4h0m-4-3h0m-3 7h0m-3-7h0m-2 6h0m-1 3h0m-2-7h0m-1-2h0m-1 8h0m-2-5h0m0 0h0m-4-1h0m-1-3h0m-1 2h0m-7 7h0m-2-8h0m-2 3h0m-1 2h0m-6 3h0m0-8h0m0 2h0m-6 5h0m0-1h0m-1-2h0m-2-2h0m-2 4h0m-2 0h0m-5-2h0m-3 0h0m-1 3h0m-7-7h0m-2 1h0m-101 4h0m-1-3h0m-1 3h0m-1-2h0m-6 4h0m-1-7h0m-2 3h0m-4 4h0m-3 1h0m0-1h0m-2-3h0m-1 0h0m-2-4h0m0 10h0m4 3h0m1 5h0m2-8h0m5 1h0m3 5h0m0-6h0m2 0h0m0 4h0m0-2h0m9 1h0m104 5h0m1-1h0m2-4h0m4-2h0m10 2h0m1 6h0m4-8h0m0 8h0m5-1h0m4 0h0m1 0h0m3 0h0m2-3h0m2 3h0m3-1h0m4-6h0m7 1h0m1 5h0m3 0h0m3-6h0m3 8h0m0-5h0m2 0h0m2-1h0m4-3h0m4 2h0m1 2h0m1 4h0m4 1h0m6-9h0m1 5h0m0-5h0m2 4h0m2 4h0m3-6h0m3-2h0m3 7h0m4-6h0m2 7h0m3-7h0m-2 17h0m-2-5h0m0-1h0m-3 3h0m-1-2h0m-2 0h0m0 1h0m-1 0h0m-3 4h0m-1-3h0m-11-4h0m0-2h0m-2 6h0m-4-4h0m-4 6h0m-1-3h0m-1 5h0m-6-7h0m0 3h0m-1-5h0m0 8h0m-6-4h0m0-4h0m-10 1h0m0 2h0m-5 2h0m0-5h0m-3 3h0m0 0h0m-1 0h0m-2-3h0m-2 8h0m-8-2h0m-2 1h0m-1 1h0m-3 0h0m-3 0h0m-8 0h0m-2-6h0m-1-2h0m-3 9h0m-3-6h0m-2-1h0m-1 6h0m-1 1h0m-97-7h0m-1-3h0m0 2h0m-9 3h0m-4 0h0m0 0h0m-1 3h0m-2 1h0m0-3h0m-1-4h0m-4-1h0m-1 1h0m-1 0h0m4 13h0m0 0h0m3-2h0m1 1h0m2 5h0m4 1h0m0-10h0m1 8h0m6-2h0m1-4h0m1 1h0m0 1h0m1 5h0m2-4h0m1-3h0m98-2h0m2 6h0m0-6h0m3 1h0m5 1h0m2 6h0m1 2h0m5-9h0m5 5h0m1-5h0m0 2h0m3 5h0m1-2h0m4-1h0m4 2h0m5 0h0m1-2h0m2-1h0m4-2h0m5-2h0m3 0h0m2 1h0m5-1h0m0 5h0m0-3h0m3-1h0m0 3h0m3 1h0m2 0h0m2 4h0m8-9h0m4 2h0m6 7h0m12-6h0m3 15h0m-3-8h0m-3 0h0m-1 2h0m-2 8h0m-4-1h0m-1-8h0m-4 2h0m-1 4h0m-5 0h0m0-2h0m-11-2h0m-1 1h0m0 1h0m-6-3h0m-6 7h0m-1 0h0m-2-9h0m-1 9h0m-1-2h0m-3-6h0m-4 4h0m-5 4h0m-1-1h0m0-3h0m0-5h0m-10 8h0m-1-6h0m-1-2h0m-5 7h0m-1-2h0m-2 0h0m-1-2h0m-2 2h0m-7 0h0m-2-1h0m0 0h0m-1-2h0m-3 6h0m-3 0h0m-2-7h0m-4 6h0m-91-7h0m-6 2h0m-1 2h0m-3-1h0m-1 1h0m-1 1h0m-1-1h0m-2-1h0m0 4h0m-3-7h0m3 11h0m4 0h0m2 1h0m1-2h0m1 4h0m2 3h0m2 3h0m100 0h0m14-4h0m0-5h0m1 9h0m2-8h0m2 3h0m4-1h0m0 0h0m5-1h0m3-1h0m0 1h0m1 5h0m13-5h0m5 4h0m0-2h0m2-3h0m3 6h0m2 0h0m1-6h0m2 7h0m7-1h0m2 0h0m9-2h0m0 4h0m1-6h0m2-4h0m1 3h0m1 3h0m1 1h0m5 0h0m4-1h0m8 2h0m-1 6h0m-2 5h0m-3-9h0m-4 9h0m-11-9h0m-4 2h0m-1-2h0m-1 8h0m-1-5h0m-1-2h0m0 6h0m0 2h0m-3-9h0m-15 7h0m-1-5h0m-2 6h0m-3-4h0m-2 5h0m0-3h0m0-4h0m-3-2h0m-1 2h0m-3 1h0m0-1h0m-8 4h0m0-1h0m-3-1h0m-10-3h0m0 1h0m-5-1h0m-2 6h0m-1-1h0m-3 3h0m-1-1h0m-9-5h0m-1 0h0m-4 11h0m4 2h0m0-1h0m6 0h0m3 1h0m1 0h0m0 4h0m1-4h0m0-3h0m0-2h0m11-1h0m3 9h0m2-6h0m1 5h0m6-1h0m2-7h0m2 2h0m3-1h0m4 3h0m0 5h0m3-1h0m5-6h0m1 5h0m5 2h0m1-6h0m2 5h0m2 2h0m3-10h0m6 1h0m2 4h0m1 1h0m2 2h0m3-4h0m0 3h0m25-3h0m1 5h0m1 8h0m-11 0h0m-4 2h0m0-2h0m-7 1h0m-2-6h0m-2-2h0m-6 2h0m0 3h0m0 1h0m-14-4h0m-4-2h0m0 6h0m-5-1h0m-3 2h0m-8-5h0m-5 5h0m-1 0h0m-3 1h0m-2-4h0m-3 6h0m-3-6h0m-2 2h0m-3-5h0m-2 9h0m-2-6h0m0 1h0m-3 1h0m-2 2h0m0-4h0m0 4h0m-3 0h0m-1-1h0m-1-1h0m0-1h0m-4 3h0m-1 1h0m-29 0h0m-14 5h0m1 0h0m2 1h0m2-3h0m0 7h0m1-1h0m3 0h0m1-3h0m31 1h0m1-2h0m0 2h0m7 4h0m6-8h0m1 4h0m5-4h0m2 6h0m4-1h0m0-4h0m0 2h0m2-2h0m6 2h0m5-2h0m4 5h0m1-3h0m2-3h0m5-1h0m2 6h0m8-3h0m0 5h0m2-1h0m3 2h0m0-4h0m3 4h0m4-8h0m10 7h0m0-1h0m3-8h0m6 4h0m3 2h0m4-2h0m7 3h0m1-1h0m0 2h0m0 10h0m-1-3h0m-3 4h0m-10-9h0m-2 5h0m-5 0h0m-1 0h0m0-2h0m-2 3h0m0-4h0m-7 5h0m-5-2h0m-2 4h0m-1-2h0m-3-3h0m-2 0h0m-2-3h0m-6 6h0m-1 0h0m-11-2h0m-3-4h0m0 8h0m-4-1h0m0 1h0m-3-5h0m-1 1h0m-6 2h0m0-7h0m-1 9h0m0-6h0m-1-2h0m-4 5h0m-1-5h0m-1 5h0m-4-3h0m0-3h0m-2 0h0m-4 6h0m-1-2h0m-6 1h0m-2 1h0m0 2h0m-1-5h0m-31 0h0m0 2h0m-3-2h0m-2-2h0m0 8h0m0-2h0m-8-5h0m0 0h0m-1 6h0m-1-5h0m-2 5h0m0-3h0m-3-1h0m-5 0h0m-7 6h0m-1-1h0m-1 0h0m-10 7h0m1 3h0m2-3h0m3-3h0m1 4h0m1-3h0m1 5h0m1-1h0m4-4h0m3 0h0m1-3h0m1 5h0m3 3h0m4-2h0m0-3h0m0 1h0m2-4h0m5 1h0m1 1h0m0-1h0m0 0h0m0 0h0m1 0h0m41 5h0m6 2h0m1-6h0m3 3h0m0 0h0m3 1h0m1-1h0m3-2h0m0 1h0m0-2h0m2 4h0m6 1h0m3-6h0m2 4h0m2-3h0m6 1h0m1-4h0m0 3h0m1 0h0m2 7h0m4-7h0m0 5h0m2 0h0m0-2h0m5 1h0m8-4h0m1 3h0m1-1h0m2 0h0m1 1h0m1 2h0m1-1h0m1-3h0m5 2h0m2 1h0m11 1h0m5-7h0m1 2h0m1 4h0m0 1h0m2-5h0m11 5h0m0 0h0m1-5h0m-3 10h0m-1-1h0m-8 7h0m-11-8h0m-5 6h0m-1-6h0m-1 6h0m-3-7h0m-1 7h0m-4-2h0m-5-1h0m-2 1h0m-1-1h0m-3 1h0m-1 2h0m-4-4h0m-4-2h0m-2 6h0m0-1h0m-4-2h0m-1 4h0m-3-5h0m-1 6h0m-1-1h0m-7-7h0m0 0h0m-1 3h0m-1-3h0m-3 2h0m-1-2h0m-4 6h0m-5-4h0m-6-1h0m-2 0h0m-1 5h0m-3 0h0m0 1h0m-2-5h0m-52 0h0m-3-2h0m-4 3h0m-1-4h0m-3 2h0m-3 4h0m-1-1h0m-2 3h0m-1-6h0m-2 2h0m-1 5h0m-1-4h0m-1-3h0m0 2h0m-2-2h0m-1 0h0m-1 4h0m0 1h0m-6-2h0m-1-3h0m-1 4h0m0 2h0m-1 2h0m-11 1h0m7 2h0m0 0h0m3-2h0m2 0h0m4 3h0m1-3h0m3 0h0m83 1h0m0 0h0m1 4h0m3 4h0m1-2h0m0-5h0m4 6h0m4-7h0m2 1h0m2-1h0m0 2h0m2-3h0m1 6h0m1 0h0m0-2h0m5-5h0m3 5h0m1-4h0m1 0h0m0 7h0m0-1h0m2 2h0m4-8h0m0 5h0m1-6h0m2 6h0m1-4h0m1 0h0m1 2h0m2-2h0m1 7h0m0-4h0m3 0h0m1-2h0m5 6h0m1-5h0m1-2h0m1 8h0m0 0h0m2-2h0m4-1h0m5-7h0m3 1h0m0 2h0m1 7h0m0-7h0m1 6h0m6-4h0m1 1h0m3-4h0m4 4h0m1-2h0m1-1h0m2 4h0m1-4h0m2 0h0m0 2h0m0 0h0m1 0h0m0-1h0m-4 16h0m0-9h0m-2 5h0m-3 1h0m-1-6h0m0 6h0m-4-1h0m-5 4h0m-2 0h0m-1 0h0m-2-8h0m-1 0h0m0 7h0m-9-5h0m-2 2h0m-3-3h0m0 5h0m-1-1h0m-6 2h0m0 1h0m-4-4h0m-1 1h0m-1 2h0m0-9h0m-1 0h0m-1 1h0m-4 4h0m-1-2h0m-1 0h0m-1-2h0m-3 7h0m0-6h0m-1 7h0m-2-7h0m-1 2h0m-3 4h0m-2-1h0m-2 2h0m0-2h0m-4-2h0m-1 5h0m-4-7h0m-1-2h0m-1 1h0m-1 2h0m0 0h0m-11 0h0m0-1h0m2 7h0m10 5h0m3 1h0m1 0h0m2 0h0m4-1h0m0-5h0m8 7h0m1-2h0m2 3h0m4 2h0m0-8h0m1 7h0m2-8h0m6 7h0m1-7h0m1-1h0m0 0h0m2 4h0m0 0h0m2 5h0m3-7h0m3 8h0m2-6h0m2-3h0m0 2h0m2 6h0m13-3h0m1-3h0m3 4h0m1-2h0m3-3h0m2 0h0m2 1h0m3 2h0m0-5h0m-5 13h0m-3-3h0m-3 7h0m-2-5h0m-10 6h0m-3-3h0m-1 4h0m0-6h0m-2 1h0m-5-3h0m-15 0h0m-3 4h0m-13-3h0m-3 8h0m-3-7h0m-1 3h0m-6 0h0m-3 4h0m0-3h0m-1-1h0m-2 0h0m0-6h0m-6 4h0m0 0h0m-2-1h0m3 14h0m0 2h0m3 0h0m1-3h0m1-3h0m4 2h0m5-3h0m4-1h0m2 0h0m1 2h0m1 2h0m4 1h0m1-3h0m2-2h0m1 1h0m3 6h0m2-3h0m1-4h0m5 6h0m1-5h0m0 2h0m3 4h0m5-4h0m0 1h0m1-5h0m3 4h0m2 1h0m2-3h0m1 7h0m1-8h0m3 4h0m0-4h0m3-1h0m-11 16h0m-1 3h0m-1-6h0m-6 0h0m-4 0h0m-1 6h0m-6-4h0m0-1h0m-3 5h0m-1-3h0m-6 3h0m-2-6h0m-1 2h0m0 4h0m-3-4h0m-3-1h0m0-4h0m-3 7h0m-2 1h0m-4-7h0m-4 4h0m10 9h0m6-3h0m5-1h0m1 3h0m-561 156h0m-4-1h0m-2 2h0m-5-2h0m-6-2h0m-2 1h0m-4 1h0m-4 1h0m-2 0h0m-2 10h0m0-7h0m8 3h0m2 3h0m0-3h0m1-1h0m0-1h0m1 4h0m0-1h0m3-5h0m6 4h0m1 0h0m4 3h0m3-6h0m6 0h0m1 0h0m0 0h0m2 1h0m1 14h0m-4-1h0m-12-3h0m-4 5h0m-2 1h0m-4 0h0m0-1h0m0-2h0m-1-4h0m-1 1h0m-2 6h0m-1-4h0m-3-4h0m-2 6h0m-3 0h0m-3-2h0m-1 4h0m4 3h0m2 7h0m3-1h0m5-5h0m8 6h0m0-7h0m1 4h0m5-1h0m0-5h0m0 4h0m1-3h0m0 3h0m1 5h0m0-5h0m9-1h0m-11 9h0m-13 1h0m-2-1h0m0 2h0m-3-3h0m-1 1h0" stroke="#EF6F67" stroke-width="6.80" stroke-linecap="round" fill="none"/>
<path transform="scale(.5)" d="M2828 2829h0m0 1h0m2-3h0m1-3h0m0 4h0m1 2h0m1-5h0m1 2h0m6 5h0m-14 7h0m-1-4h0m0-2h0m-3 1h0m-5 3h0m0-3h0m-1 2h0m-2 1h0m-1-2h0m0 0h0m0 1h0m-1 0h0m-1-2h0m-18 12h0m2-1h0m3 4h0m4-8h0m4 4h0m0 4h0m0 0h0m12-8h0m7 1h0m-17 11h0m-6 7h0m-2-5h0m-1 3h0m0 0h0m-6-5h0m-1 4h0m-1 1h0m-1 0h0m-1-1h0m-4-1h0m-1-3h0m-2 4h0m-3 2h0m-1 1h0m-4 6h0m0-3h0m6 1h0m0 0h0m1-3h0m1 2h0m2-1h0m1 5h0m1-5h0m2 0h0m3 5h0m1-3h0m0 1h0m2 0h0m5-5h0m-13 11h0m-6 2h0m-3 6h0m-1-5h0m-1 5h0m-2-8h0m-3 1h0m0 1h0m-1 2h0m-2 15h0m-19 3h0m-1 5h0m-17 0h0m-2-4h0m-2 6h0m0-1h0m-11-1h0m0-1h0m-2-3h0m-8 1h0m-1 0h0m-18 4h0m-3-3h0m-3 2h0m-9 9h0m4-5h0m1 0h0m0 0h0m1 6h0m5-1h0m3 0h0m3-3h0m5 3h0m6-5h0m9 4h0m1 1h0m8 0h0m0 2h0m3-1h0m-1 4h0m-2 1h0m-2-2h0m-3 0h0m-5 0h0m-2 4h0m-4 1h0m-5 3h0m-4-1h0m-1-4h0m-3-3h0m0 2h0m0 2h0m-1-2h0m-2 4h0m0-3h0m-2 5h0m-2 1h0m-1-2h0m-7 1h0m-2-7h0m-6 10h0m2 1h0m0 6h0m2-4h0m3-4h0m11 5h0m0-5h0m1 0h0m2 7h0m6 1h0m3-2h0m3-3h0m1 5h0m1-5h0m5-3h0m1 8h0m2-3h0m-3 5h0m-6-1h0m-7 7h0m-1 2h0m-4-6h0m0 2h0m-4 4h0m0-1h0m-7 1h0m-4-3h0m-1-2h0m-4 2h0m-2 4h0m-2-8h0m-1 4h0m-1-6h0m2 14h0m2 0h0m4 2h0m2 0h0m8-4h0m4 5h0m7-4h0m1 5h0m4-3h0m0 6h0m-5 1h0m-2 1h0m-8 3h0m-5-6h0m-3 8h0m0-7h0m-1 2h0m8 17h0m5-5h0m3 4h0m1-9h0m1 2h0m4 2h0m0 1h0m1-2h0m13 13h0m-5-4h0m0 5h0m-1 1h0m0-5h0m-5 0h0m-4-1h0m-1 4h0m-10-1h0m13 9h0m1 2h0m2-1h0m3 5h0m7-9h0m1 3h0m0-1h0m5 4h0m0 8h0m-4 2h0m0 3h0m-2-7h0m0 4h0m-1-6h0m-4 2h0m0-2h0m-3 1h0m-1 0h0m-2 6h0m-3-4h0m2 7h0m1 4h0m1-3h0m5-1h0m3 1h0m1 4h0m0-6h0m5 8h0m3-6h0m0 2h0m0 5h0m-6 1h0m-9 12h0m3 8h0m3-9h0m0 8h0m1-8h0m0 1h0m4-2h0m0 2h0m1-1h0m1 3h0m-2 11h0m-2-1h0m-3 2h0m-1 3h0m-1-5h0m-3 0h0m-1 9h0m6 6h0m6-9h0m-3 11h0m-4 4h0m0-4h0m-1 10h0m2 5h0m8-2h0m-1 9h0m-7 5h0m17 60h0m-1 1h0m-1-1h0m-13 7h0m1-1h0m2-1h0m0 1h0m1-3h0m1 1h0m5 4h0m4-5h0m0 1h0m3 1h0m5 5h0m6 2h0m1 1h0m-2 8h0m-2-8h0m-3 6h0m0-5h0m-2 2h0m-1 1h0m-4-5h0m0 5h0m0 0h0m-3 3h0m-2-5h0m-1 0h0m-1 1h0m-3-3h0m-1 1h0m-4 0h0m-3 7h0m0-3h0m0-1h0m-4 0h0m-4 5h0m-4 6h0m1-1h0m6-3h0m5 8h0m1-1h0m2-1h0m3-4h0m1-2h0m1 5h0m1-3h0m0-2h0m2 1h0m4 2h0m1 3h0m2-1h0m0-1h0m2-3h0m2 5h0m0-3h0m1-2h0m1 6h0m0 0h0m2 0h0m1-2h0m0-6h0m1 6h0m0-5h0m7 2h0m2 0h0m1 2h0m1 4h0m2 0h0m5 10h0m-2-4h0m-5-5h0m-4 8h0m-4-4h0m-6-1h0m-6 5h0m-1 0h0m0-2h0m-1 1h0m-2 2h0m0-2h0m0-3h0m-1-4h0m-4 3h0m0 0h0m-3-2h0m-7 2h0m-4 2h0m-3 0h0m0-3h0m-11 2h0m0 2h0m-1-1h0m-1-5h0m-1 6h0m0 1h0m-3-2h0m-2 2h0m-2 0h0m-7 1h0m0-1h0m-4 8h0m1-1h0m9-4h0m8 5h0m1 0h0m0-5h0m2 8h0m5-3h0m0-4h0m0 4h0m9 2h0m3 0h0m0-1h0m2-4h0m1-2h0m0 6h0m0-1h0m1 3h0m5 1h0m2-5h0m2 4h0m7-3h0m0 4h0m1-5h0m2 5h0m1-8h0m6-2h0m3 0h0m0 4h0m1-1h0m5 2h0m0 1h0m3 4h0m0-6h0m1-3h0m1 9h0m0-9h0m3 4h0m3-1h0m3 14h0m-1-1h0m-4-3h0m-1-1h0m-3 2h0m-1 3h0m0-4h0m-5 1h0m-4 3h0m-2-3h0m0-1h0m-3-2h0m-7-2h0m-2 0h0m0 9h0m-3-2h0m-4-5h0m0-1h0m0 4h0m-1-4h0m-2 3h0m0-2h0m-4 3h0m-2-1h0m-1-1h0m-10-1h0m-10 1h0m-1 3h0m-5-4h0m-3 0h0m-2 2h0m-2 0h0m-8 6h0m0-7h0m-1-1h0m-4 1h0m-1 5h0m-2 1h0m-3-4h0m-5-3h0m-3 8h0m0-3h0m-1 0h0m-2 2h0m-4 6h0m3-3h0m2-2h0m2 10h0m5-3h0m0 0h0m3-6h0m2 2h0m0-1h0m1 1h0m3-1h0m4 3h0m2 1h0m3-5h0m0 6h0m4 3h0m3-2h0m3 1h0m4-5h0m4-3h0m1 3h0m1 1h0m10-3h0m2 3h0m4 2h0m4-5h0m11 4h0m5-3h0m0-1h0m9 6h0m1-6h0m2 5h0m6 0h0m0 3h0m0-9h0m3 6h0m1-1h0m5 4h0m1-8h0m5 1h0m5 5h0m1-6h0m0 5h0m3-2h0m1-3h0m1 7h0m3 1h0m-1 5h0m-4 5h0m-5-2h0m-1-7h0m-1 1h0m-5 4h0m0 2h0m-3-5h0m-3 3h0m-2 2h0m-1-1h0m-2 1h0m-1-6h0m-4 3h0m-1 1h0m0 2h0m-4-1h0m-3-6h0m-2 5h0m-5-6h0m0 5h0m-1-4h0m-3 4h0m-6 4h0m-4-2h0m-14 2h0m-2-5h0m-6 4h0m-3-7h0m-2 2h0m0 2h0m-1-3h0m-3 6h0m0-2h0m0 2h0m0-5h0m-2 4h0m-1-4h0m-2 3h0m-3 1h0m0 1h0m-1-3h0m-6-1h0m0 1h0m-2 2h0m-4-7h0m-1 8h0m-3-6h0m-4 5h0m-2-5h0m-9 1h0m-3 0h0m-1-2h0m-8 16h0m0 0h0m1-4h0m0-1h0m1-1h0m9 4h0m2-3h0m4 6h0m16-8h0m1 4h0m1-3h0m3 2h0m1 2h0m1-4h0m3 0h0m2 2h0m2 1h0m0 4h0m6-7h0m1 5h0m1 2h0m5-3h0m1-4h0m1 1h0m4 2h0m3-2h0m1 7h0m1-5h0m1 4h0m2-3h0m1 3h0m9 2h0m3-9h0m2 6h0m1-6h0m2 8h0m1-2h0m2 0h0m3-7h0m2 2h0m5-1h0m2 5h0m4-5h0m11 6h0m2-1h0m0-1h0m5 1h0m4-4h0m0 5h0m6-1h0m0-2h0m-4 9h0m-2 0h0m-1 0h0m-3 2h0m-7-1h0m-4 2h0m-8-4h0m-3 0h0m0-2h0m-4 2h0m-2-1h0m0 7h0m-1-1h0m-3-6h0m-3 7h0m-2-8h0m-2 7h0m-4-7h0m-4 7h0m-6 3h0m-7-1h0m-6-6h0m-6-1h0m-2 2h0m-3-2h0m-2 2h0m-4 4h0m-5-3h0m-1 5h0m-13-9h0m0-1h0m0 5h0m0-1h0m-1 0h0m-5 5h0m-1-5h0m-2 1h0m-2 2h0m-3-3h0m-3-3h0m-2 4h0m0 5h0m-2-1h0m-2-6h0m-1 7h0m-1-5h0m3 8h0m2 2h0m12 3h0m1-2h0m6 2h0m5-6h0m5-1h0m1 4h0m1 1h0m10-5h0m4 2h0m6 2h0m2-2h0m1 0h0m4-2h0m1 1h0m1-1h0m1 4h0m1 0h0m3-4h0m6 8h0m1 0h0m1-7h0m0 2h0m1 3h0m3-1h0m0 3h0m2-4h0m3 5h0m0-3h0m3-1h0m0-1h0m4-4h0m4 4h0m0-3h0m7 4h0m0 0h0m1-3h0m3-2h0m5 0h0m-29 12h0m-6 2h0m-2-3h0m-3 1h0m-1 1h0m-5-1h0m-1 7h0m-1-1h0m-1 0h0m-3-3h0m-4 1h0m-4 2h0m-1-2h0m-1 2h0m0 0h0m-1-7h0m-3 3h0m-1-4h0m-8 5h0m0-5h0m-3 3h0m-1-1h0m-5-2h0m-8 0h0m-1 5h0m-3-5h0m0 2h0m0 0h0m0 1h0m-4 0h0m7 8h0m4 0h0m1 1h0m0-1h0m1 1h0m14 5h0m1-5h0m1 3h0m4-3h0m2-3h0m1 0h0m1 2h0m1 7h0m3-7h0m2 4h0m3-2h0m1-3h0m5-1h0m1 3h0" stroke="#20B7BD" stroke-width="6.80" stroke-linecap="round" fill="none"/>
<path transform="scale(.5)" d="M2756 2894h0m-14 4h0" stroke="#EF6F67" stroke-width="6.40" stroke-linecap="round" fill="none"/>
<path transform="scale(.5)" d="M3222 3056h0m-4 3h0m71 13h0m-3 2h0m-3 2h0" stroke="#20B7BD" stroke-width="6.80" stroke-linecap="round" fill="none"/>
<text x="1362.4" y="1576.8" font-family="'Liberation Sans', Arial, sans-serif" font-size="17" text-anchor="middle" fill="#1A1A1A">CAFs</text>
<text x="1676.6" y="1547.3" font-family="'Liberation Sans', Arial, sans-serif" font-size="17" text-anchor="middle" fill="#1A1A1A">NFs</text>
<circle cx="1741.0" cy="1557.8" r="3.3" fill="#EF6F67"/>
<text x="1747.5" y="1563.8" font-family="'Liberation Sans', Arial, sans-serif" font-size="17" fill="#1A1A1A">NFs</text>
<circle cx="1741.0" cy="1574.6" r="3.3" fill="#20B7BD"/>
<text x="1747.5" y="1580.6" font-family="'Liberation Sans', Arial, sans-serif" font-size="17" fill="#1A1A1A">CAFs</text>
<line x1="1294.7" y1="1776.9" x2="1294.7" y2="1702.0" stroke="#555" stroke-width="1.3"/>
<line x1="1294.7" y1="1776.9" x2="1372.0" y2="1776.9" stroke="#555" stroke-width="1.3"/>
<path d="M1294.7 1690.4 L1287.5 1703.3 L1302.0 1703.3 Z" fill="#000"/>
<path d="M1384.5 1776.9 L1371.6 1770.4 L1371.6 1783.6 Z" fill="#000"/>
<text x="1333.4" y="1791.3" font-family="'Liberation Sans', Arial, sans-serif" font-size="13" font-weight="bold" text-anchor="middle" fill="#1A1A1A">umap_1</text>
<text x="1287.0" y="1738.7" font-family="'Liberation Sans', Arial, sans-serif" font-size="13" font-weight="bold" text-anchor="middle" fill="#1A1A1A" transform="rotate(-90 1287.0 1738.7)">umap_2</text>
<text x="197.7" y="1996.5" font-family="'Liberation Sans', Arial, sans-serif" font-size="30" font-weight="bold" text-anchor="middle" textLength="65.7" lengthAdjust="spacingAndGlyphs">DCN</text>
<path d="M236.6 2026.0 L245.2 2025.3 L247.7 2028.4 L250.4 2035.8 L250.4 2041.9 L253.8 2047.4 L248.9 2051.7 L244.0 2052.9 L240.9 2049.3 L236.6 2049.3 L232.9 2044.4 L229.9 2040.7 L230.5 2036.4 L234.2 2030.2 Z" fill="#8376b6" stroke="#8376b6" stroke-width="1.5" stroke-linejoin="round"/>
<path d="M244.0 2052.9 L251.3 2049.3 L257.5 2049.9 L262.4 2052.9 L263.6 2059.1 L261.2 2064.0 L263.6 2070.1 L269.8 2077.5 L272.2 2083.6 L271.0 2089.8 L268.5 2099.0 L267.9 2108.2 L265.5 2114.3 L260.6 2119.2 L251.3 2120.4 L247.1 2118.0 L245.2 2111.2 L244.0 2102.0 L245.8 2092.8 L244.0 2083.6 L242.8 2077.5 L244.0 2071.3 L244.0 2065.2 Z" fill="#8375b6" stroke="#8375b6" stroke-width="1.5" stroke-linejoin="round"/>
<path d="M204.7 2059.1 L210.2 2058.5 L215.8 2062.8 L220.7 2064.0 L221.9 2068.9 L226.8 2071.3 L229.3 2077.5 L232.3 2083.6 L234.2 2091.0 L234.8 2099.0 L232.9 2102.0 L229.3 2099.0 L224.4 2092.8 L219.4 2086.7 L213.3 2080.6 L208.4 2074.4 L205.3 2068.3 L204.1 2062.1 Z" fill="#8b7db9" stroke="#8b7db9" stroke-width="1.5" stroke-linejoin="round"/>
<path d="M226.2 2064.0 L237.9 2064.0 L243.4 2065.2 L244.0 2071.3 L242.1 2077.5 L240.3 2080.6 L237.9 2079.3 L232.9 2075.0 L229.3 2072.6 L226.2 2068.9 Z" fill="#b0a2ca" stroke="#b0a2ca" stroke-width="1.5" stroke-linejoin="round"/>
<path d="M229.3 2105.7 L232.9 2102.0 L242.1 2102.0 L245.2 2105.7 L245.2 2111.2 L242.1 2111.2 L235.4 2110.6 L230.5 2111.8 L228.7 2109.4 Z" fill="#b1a2ca" stroke="#b1a2ca" stroke-width="1.5" stroke-linejoin="round"/>
<path d="M163.2 2043.3 L160.8 2041.7 L155.2 2044.1 L150.5 2047.3 L147.3 2051.3 L144.1 2052.9 L137.8 2052.1 L131.4 2054.4 L128.3 2058.4 L129.8 2062.4 L133.8 2065.6 L136.2 2070.3 L135.4 2075.1 L137.0 2081.4 L139.4 2083.8 L141.7 2081.4 L142.1 2075.1 L142.5 2070.3 L141.7 2065.6 L143.3 2060.8 L147.3 2057.6 L153.7 2054.4 L159.2 2048.9 L163.2 2045.7 Z" fill="#d3d3d3" stroke="#d3d3d3" stroke-width="1.5" stroke-linejoin="round"/>
<path d="M140.2 2088.2 L144.1 2091.0 L148.1 2097.3 L152.1 2100.5 L151.3 2105.2 L145.7 2109.2 L137.8 2111.6 L131.4 2113.2 L125.9 2111.6 L122.7 2106.8 L123.5 2102.1 L129.8 2097.3 L136.2 2092.5 L138.6 2089.4 Z" fill="#b1a3ca" stroke="#b1a3ca" stroke-width="1.5" stroke-linejoin="round"/>
<path d="M156.0 2144.9 L155.3 2147.2 L153.2 2148.9 L150.5 2149.5 L147.8 2148.9 L145.7 2147.2 L145.0 2144.9 L145.7 2142.6 L147.8 2140.9 L150.5 2140.3 L153.2 2140.9 L155.3 2142.6 Z" fill="#d2d1d3" stroke="#d2d1d3" stroke-width="1.5" stroke-linejoin="round"/>
<path transform="scale(.5)" d="M465 4067h0m5-5h0m10 0h0m-7 10h0m-162 17h0m0 0h0m1 1h0m4-3h0m2 3h0m0-2h0m2 0h0m0 0h0m0 1h0m0 1h0m1-6h0m1 0h0m146-3h0m8 3h0m4 5h0m6-4h0m16 8h0m0 1h0m-3-3h0m-174 0h0m-1 2h0m-3-1h0m-1 0h0m0 3h0m-1 2h0m0-1h0m0 0h0m0 1h0m-1 0h0m-1-5h0m-1 5h0m0 0h0m-2-6h0m0 6h0m-1 3h0m0-9h0m0 2h0m0 3h0m-1 4h0m0-7h0m-1 4h0m-2 1h0m0-2h0m0 3h0m-1-6h0m0 6h0m0-7h0m-1 7h0m-1-3h0m0-4h0m-1 5h0m-1-3h0m-2 3h0m-1-2h0m-2 1h0m-33 12h0m2 1h0m1 1h0m2-3h0m2-1h0m1 2h0m2-1h0m2 3h0m0-3h0m3 1h0m0 1h0m3 0h0m4-1h0m1 1h0m1 1h0m1-5h0m0 2h0m1 0h0m2-2h0m1 0h0m1 3h0m0-2h0m0 4h0m1-3h0m1 1h0m1-1h0m0 0h0m0-2h0m1-1h0m0-3h0m1 9h0m1-7h0m0 0h0m2 6h0m0-1h0m0-4h0m0-4h0m1 6h0m0 2h0m0-2h0m0-5h0m0 0h0m2 5h0m0 1h0m2-7h0m1 5h0m1-3h0m3-2h0m191 4h0m15 0h0m-14 9h0m-7-2h0m-5 2h0m-2 1h0m-73 6h0m-3-1h0m-3 0h0m-120-7h0m-2 3h0m-2 3h0m0-7h0m0 8h0m-1-5h0m0-4h0m-1 3h0m0 5h0m-1-5h0m0 4h0m-1-4h0m-1 5h0m-1-4h0m0 5h0m-1 1h0m0-10h0m0 4h0m-3-4h0m0 7h0m0-6h0m0 3h0m-3 3h0m0-6h0m0 5h0m-2-3h0m0-3h0m0 1h0m-2 7h0m0-7h0m-1 2h0m0-1h0m0 8h0m-1-6h0m-1 0h0m0 5h0m-1-5h0m-1 1h0m0-3h0m-2 7h0m-3-1h0m-1-2h0m0-1h0m-2-1h0m-2 3h0m2 7h0m1-3h0m1 3h0m2 0h0m1 1h0m2 0h0m0 2h0m1-4h0m1 1h0m0 0h0m1-3h0m2 4h0m1-4h0m1 5h0m5-2h0m0 6h0m2-1h0m0-3h0m0-6h0m3 2h0m0-1h0m0 8h0m1-7h0m0 2h0m1 0h0m0 0h0m0 0h0m125-4h0m1 8h0m5 0h0m1-4h0m5 3h0m0-1h0m0 0h0m1-4h0m0 0h0m41 7h0m1 1h0m55-3h0m-37 11h0m-3-4h0m-2 4h0m-1-4h0m-3 3h0m0-4h0m-2-2h0m-3 5h0m-7 0h0m-36-4h0m-4-1h0m-2 1h0m0 0h0m-1 7h0m-1-8h0m-136 0h0m-1 3h0m-2 1h0m-1-5h0m-1 3h0m0 6h0m0-7h0m0 0h0m-1 5h0m-1-3h0m-1 3h0m-1-1h0m0-5h0m-1 7h0m0 1h0m0-1h0m-1-7h0m0 1h0m-1 2h0m-2-2h0m4 14h0m0 1h0m1 2h0m0 0h0m5 1h0m1-4h0m0-5h0m1 6h0m0-2h0m0-2h0m1 0h0m0 6h0m2-5h0m0 3h0m1 2h0m0-6h0m133 1h0m8-2h0m47 4h0m0-3h0m32 4h0m35 7h0m-19-1h0m-35-1h0m-1 2h0m-1 2h0m0 1h0m-5-6h0m-51 7h0m-144-5h0m0-2h0m-1 6h0m-1-4h0m0 2h0m0 1h0m-1-2h0m0-4h0m-1 1h0m0 7h0m-1-2h0m-1-4h0m-3 5h0m-1 1h0m-1-5h0m5 11h0m1-1h0m0 3h0m0-4h0m3-1h0m1 1h0m0 0h0m1 0h0m0 0h0m164 2h0m8 0h0m39-1h0m13 3h0m30 1h0m0 5h0m-12 6h0m-29-2h0m-2 0h0m-212 2h0m4 8h0m168 3h0m0 0h0m1-1h0m62 1h0m11 5h0m-12 3h0m-217 0h0m-2 2h0m-4-5h0m-7 3h0m0-5h0m-5 7h0m-1-3h0m-2-5h0m0 9h0m-1-3h0m0-1h0m-1-4h0m0 5h0m-6-1h0m-3 2h0m-19 11h0m6 0h0m0-2h0m1 1h0m3-5h0m1 0h0m1 6h0m1-5h0m0 1h0m3-1h0m3 6h0m4-2h0m1-1h0m1-1h0m7 3h0m1-2h0m0-3h0m8 4h0m1-3h0m10-3h0m3 1h0m167 5h0m10 1h0m3 1h0m3-2h0m33 7h0m-15 5h0m-12-8h0m-2 6h0m-5-2h0m-2 4h0m-2-9h0m-1 5h0m-6 2h0m-179-5h0m-1 3h0m-7 2h0m0-1h0m-1-4h0m-2 1h0m-3-2h0m-3 2h0m-2 2h0m-3-1h0m-1-4h0m-7 1h0m-1 0h0m0 7h0m-1 1h0m-5-6h0m-6 4h0m0-7h0m-1 1h0m0 8h0m-4-10h0m17 12h0m8 1h0m189-2h0m19 1h0m45 12h0m-24 0h0m-208 54h0m1-4h0m1 1h0m3-3h0m0 1h0m1 6h0m3-2h0m1-4h0m0 2h0m1-2h0m1 3h0m4 0h0m0 3h0m0-3h0m1 5h0m-2 2h0m-1 0h0m0 3h0m-5-5h0m-3 2h0m-1 3h0m0 0h0m-1-6h0m0 0h0m0 5h0m-1-3h0m-1-2h0m0 0h0m-4 2h0" stroke="#D3D3D3" stroke-width="5.20" stroke-linecap="round" fill="none"/>
<path transform="scale(.5)" d="M464 4068h0m4 1h0m1-6h0m4-3h0m12 4h0m2-3h0m3-1h0m1 5h0m6 6h0m-2 9h0m-27-7h0m-4 4h0m5 7h0m9 6h0m10-7h0m-4 7h0m31 16h0m-1 7h0m-2 2h0m0 2h0m-2-7h0m-2 0h0m-12 5h0m-72 15h0m84-3h0m13-4h0m3 14h0m-1-7h0m-5 7h0m0 3h0m-6-2h0m-5-2h0m-5 3h0m-6 0h0m-65-5h0m-15 4h0m10 8h0m7-6h0m98 14h0m-16 4h0m-26-8h0m-36 6h0m-2-1h0m-10-1h0m-8-1h0m7 15h0m22-3h0m2 3h0m26 1h0m7-1h0m18-5h0m1 2h0m2-2h0m0 7h0m11-1h0m0-8h0m3 0h0m10 11h0m-8 2h0m0 1h0m-13 3h0m-15-1h0m-42-6h0m-1 7h0m-10-4h0m-1 6h0m-7-3h0m12 3h0m10 7h0m1 1h0m49 1h0m20-6h0m-13 12h0m-28 5h0m37 9h0m0-8h0m1 6h0m-1 4h0m-8 6h0m-2 3h0m0-5h0m-5-3h0m-4 2h0m-13 1h0m-7-1h0m7 6h0m18 1h0m8 7h0m-12 3h0m-8 6h0m-11-5h0" stroke="#c7bfd5" stroke-width="5.20" stroke-linecap="round" fill="none"/>
<path transform="scale(.5)" d="M482 4063h0m3 3h0m5-6h0m-1 13h0m-27 2h0m0 3h0m10 11h0m28-2h0m-4 6h0m-19 1h0m16 13h0m19-1h0m13 10h0m-5 2h0m-13-1h0m-49 12h0m44-7h0m19 8h0m-5 4h0m-16-3h0m0 9h0m-1-9h0m-12 4h0m-2 4h0m-1-9h0m0 8h0m-2-6h0m-8 3h0m-3-1h0m-10 1h0m-3 0h0m-4-1h0m-14-1h0m-17 8h0m7 1h0m1-1h0m38 1h0m11 5h0m4 0h0m0 2h0m44-1h0m2 4h0m-24 0h0m-1 7h0m-24-7h0m-4 2h0m-7-3h0m-37 11h0m4 0h0m51 3h0m11 4h0m18 0h0m12 3h0m-4 5h0m-6-6h0m-4 0h0m-234 18h0m3 0h0m1 0h0m3-6h0m1 2h0m167 2h0m58-2h0m-2 14h0m-223-7h0m-4-1h0m-6 7h0m-1-5h0m-4-1h0m-1 7h0m0-4h0m-1 3h0m-1 1h0m-1-4h0m0 2h0m-9-1h0m-1-2h0m-12 11h0m3-1h0m7-3h0m6 6h0m0-4h0m3 1h0m4 5h0m2-6h0m1 5h0m0-6h0m4 7h0m4-5h0m1 1h0m4-4h0m1 5h0m5-1h0m1-3h0m1-2h0m1 8h0m1 0h0m2-1h0m0 2h0m2-1h0m2-4h0m163 6h0m22-1h0m27-8h0m10 0h0m9 18h0m-10-5h0m-10 1h0m-24 3h0m-1-7h0m-2 1h0m0 7h0m-3 0h0m-10-8h0m-1 2h0m-7-1h0m-175-1h0m-6-1h0m-6 5h0m0-1h0m0-2h0m-2 1h0m-1 3h0m-1-4h0m-6 7h0m-4-8h0m-2 7h0m0-3h0m-1 1h0m-2-3h0m-5-2h0m-2 2h0m-2 7h0m6 1h0m1 3h0m0-2h0m14-2h0m188 2h0m19-1h0m44 12h0" stroke="#bbaed4" stroke-width="5.20" stroke-linecap="round" fill="none"/>
<path transform="scale(.5)" d="M310 4093h0m109 25h0m-9 1h0m-1 7h0m0-3h0m0 7h0m1-3h0m0-3h0m2-3h0m0 9h0m1-10h0m2 8h0m0 0h0m1-3h0m1 2h0m4-6h0m3 3h0m0-3h0m34 9h0m29 7h0m-4-6h0m-1 3h0m-4 0h0m-5 3h0m-5 1h0m-2-5h0m-1-2h0m-8 8h0m-2-1h0m0 1h0m-1-8h0m-40 1h0m-138 14h0m187 0h0m0-1h0m5-3h0m13 1h0m0 1h0m2 14h0m-3-4h0m-6 3h0m-3-5h0m-189 34h0m5 2h0m8 6h0m-4 3h0m-2-3h0m0-3h0m-1 3h0m-1-2h0m-1 0h0m-1 4h0m-1-2h0m-3 3h0m-2 3h0m0-2h0m0 2h0m-3-9h0m-6 2h0m-6 6h0m-1 0h0m-4 0h0m-1 0h0m-1-1h0m-9 8h0m3 1h0m2-6h0m3 5h0m3-6h0m1 0h0m6 8h0m0-7h0m1 6h0m3-6h0m1 9h0m1-2h0m1-2h0m6-5h0m4 6h0m5-3h0m1-1h0m1 6h0m2-4h0m4-4h0m0-1h0m1 5h0m0-2h0m0 3h0m3-1h0m2 1h0m176-1h0m12 8h0m-4-1h0m-2 6h0m-2-2h0m-5 1h0m0 0h0m-1 0h0m-2-2h0m-8 4h0m-3-8h0m0 6h0m-1-4h0m-3-1h0m-162 0h0m-2 2h0m-4-1h0m-2 6h0m-1-5h0m-1-1h0m0 6h0m-4-1h0m-14 1h0m0-5h0m-2 4h0m-3-1h0m-1-1h0m-2 1h0m-1-6h0m-2 1h0m0 3h0m-2 5h0m-3-5h0m0-4h0m-2 1h0m-2 0h0m-4 1h0m20 10h0m220-2h0m-189 76h0" stroke="#ae9dcb" stroke-width="5.20" stroke-linecap="round" fill="none"/>
<path transform="scale(.5)" d="M489 4052h0m-3 3h0m-1 2h0m-17 13h0m9 0h0m9-7h0m2 2h0m2 1h0m2 1h0m3-3h0m3 5h0m-1 8h0m-3 3h0m0-2h0m-4-1h0m-8 2h0m-13-1h0m-8-3h0m4 5h0m4 9h0m3 1h0m0-2h0m4-1h0m0-1h0m5-5h0m4 6h0m0 2h0m5-4h0m0 1h0m1-1h0m10 7h0m0 0h0m-1 5h0m-2-5h0m-1 2h0m-5 4h0m-10-5h0m-3 1h0m-6 0h0m-3 0h0m15 7h0m10 3h0m0 4h0m3 0h0m3-4h0m6 5h0m1 0h0m4-4h0m1-2h0m1 4h0m2-5h0m7 4h0m-9 6h0m-1 2h0m0-3h0m-4 6h0m-4 2h0m0-4h0m-2 2h0m-7-6h0m-4 7h0m-67 10h0m2-3h0m1 5h0m1-2h0m2-1h0m0-1h0m3 1h0m0 0h0m7 2h0m1 1h0m32-1h0m15-7h0m1 2h0m3 1h0m4 0h0m1-3h0m1 3h0m1 3h0m1-1h0m3-5h0m2 7h0m2-2h0m5 2h0m0-4h0m12 11h0m0 2h0m-2 1h0m-3-2h0m-7 0h0m-14 1h0m-6 1h0m-10-1h0m-8-4h0m-5-3h0m-6 7h0m-3 0h0m-2-1h0m-1 1h0m-4-2h0m-1 1h0m-11-4h0m-2-3h0m0 4h0m-9 5h0m-6-4h0m-10-3h0m-1 2h0m3 13h0m4-1h0m2-4h0m3 0h0m2 4h0m3-2h0m3-3h0m23 2h0m6 4h0m2-3h0m2 0h0m2 5h0m0-5h0m2 1h0m13-5h0m3 2h0m2 4h0m2-1h0m0-2h0m0-3h0m9 2h0m0 7h0m14-7h0m1 5h0m0 1h0m4-2h0m4-2h0m1 4h0m3-2h0m1 1h0m3 0h0m1 1h0m5 6h0m-2 0h0m0 5h0m-1-1h0m-3-5h0m0 7h0m-5 0h0m-2-5h0m-1 4h0m0-2h0m-1-4h0m-2 6h0m-12-9h0m-3 2h0m-5 1h0m-4-2h0m-3 2h0m-2-2h0m-11 2h0m-10 1h0m-12 3h0m-2-7h0m0 9h0m-9 1h0m-2-4h0m-2-5h0m-5 8h0m-1-5h0m-6 3h0m-5 1h0m-2-6h0m11 11h0m1-2h0m9 0h0m0 9h0m2-2h0m11-2h0m34 3h0m1-7h0m2 0h0m2-1h0m2-1h0m4 6h0m4-1h0m3-1h0m2 6h0m4-9h0m3 1h0m3-2h0m0 8h0m1-4h0m5 2h0m0-3h0m6 2h0m6-4h0m1 13h0m-1 2h0m-5 4h0m-1-6h0m-1-2h0m-2-2h0m-2 9h0m-5-5h0m-3-4h0m-5 4h0m-12 1h0m-2 0h0m-5 0h0m-6 4h0m-26 0h0m-8-1h0m0 0h0m-3 0h0m-5 1h0m-3 1h0m-1-8h0m-1-1h0m-164 8h0m-7 9h0m1-1h0m11-6h0m3 1h0m2 4h0m161-3h0m3 2h0m9 4h0m1-7h0m0 0h0m3-2h0m2 8h0m28-1h0m10-3h0m10 2h0m4 0h0m1 2h0m1-4h0m2 5h0m13-3h0m0 7h0m-3 3h0m-7-3h0m-11-2h0m0 7h0m0-6h0m0-1h0m-3 0h0m-2 4h0m-2-3h0m-3 1h0m0-2h0m-3 8h0m-6-6h0m-33 1h0m-6-4h0m-1 5h0m-2-2h0m-161 1h0m0 1h0m-1-2h0m-1 5h0m-9-7h0m0 6h0m-2-5h0m-2 7h0m-1 0h0m-6 0h0m-4-6h0m-2 1h0m-2-1h0m-3 6h0m0 0h0m-3-3h0m-7 7h0m6-1h0m1 4h0m0 4h0m1-6h0m0 4h0m3-5h0m4-1h0m1 4h0m12-5h0m2 5h0m1-5h0m4 7h0m1-7h0m0 8h0m1-7h0m5 0h0m3 2h0m2-1h0m2 3h0m165-4h0m2 5h0m14 3h0m2 0h0m1-3h0m4-5h0m1 7h0m2-2h0m6-4h0m1 5h0m8-6h0m1 2h0m4-2h0m2 5h0m2-2h0m4 0h0m0 3h0m2-3h0m1 4h0m13 1h0m-3 7h0m-2-1h0m0-5h0m-6 2h0m-4-3h0m-4 5h0m-3 2h0m-1-6h0m-1 9h0m-2-4h0m-1 2h0m-1-1h0m-3-5h0m-7-1h0m-7 5h0m-3-3h0m-3 5h0m-3-6h0m-1 7h0m-3 0h0m-6-5h0m-1 1h0m-4 3h0m-2-7h0m-169 3h0m-2 1h0m-3-3h0m-4 7h0m-6-8h0m0 3h0m-1 3h0m0-4h0m-3 7h0m-2-6h0m-3-3h0m-1 6h0m-3 0h0m-4-4h0m-1 4h0m-2-5h0m-2 3h0m-1-3h0m0 0h0m-1 0h0m-2 7h0m-1-6h0m-2 3h0m0 1h0m-1-2h0m-4-3h0m0-1h0m12 11h0m2 1h0m3 2h0m5-1h0m220-3h0m9 1h0m0 3h0m3-4h0m1 6h0m7-7h0m4 9h0m0 0h0m1-2h0m14-1h0m2 3h0m0-6h0m-4 7h0m-4 0h0m-3 7h0m-2 2h0m-7-5h0m0-2h0m-4 2h0m-2 6h0" stroke="#9f8bc1" stroke-width="5.20" stroke-linecap="round" fill="none"/>
<path transform="scale(.5)" d="M491 4058h0m0-6h0m-5 1h0m-1 0h0m-2 1h0m-8 4h0m-1-2h0m-1-2h0m-9 15h0m5-5h0m5 5h0m7-6h0m2 2h0m3 4h0m6-8h0m5 1h0m1 1h0m-5 14h0m-2-1h0m-1 1h0m-4-6h0m-1 1h0m-1 4h0m-18 1h0m-1 2h0m-1-1h0m1 9h0m5 2h0m7-4h0m1 0h0m2-2h0m1 2h0m3-4h0m1 1h0m7 1h0m8 12h0m-6 4h0m-1-2h0m-6-1h0m-6-4h0m-4 4h0m12 10h0m1-4h0m3 1h0m2 3h0m3-5h0m1 7h0m7 1h0m8-4h0m0-2h0m4 0h0m1-1h0m-1 11h0m-7 5h0m-3 1h0m-4-6h0m-6 0h0m-1 2h0m-3-5h0m-1 2h0m-3 3h0m-1 3h0m-65 9h0m2-2h0m30 4h0m33 1h0m3-3h0m0-6h0m1 2h0m5-2h0m9 2h0m1 0h0m3 4h0m1 3h0m11 7h0m-1-5h0m-1-1h0m0 2h0m-5 6h0m-5-8h0m0 5h0m-4 2h0m-1-5h0m-2 6h0m0-3h0m-3 0h0m-10-5h0m-1 5h0m-5 3h0m-4-8h0m-22 1h0m0 0h0m-16 2h0m-9-1h0m-1 0h0m-2 6h0m-7-5h0m-1 2h0m-2 2h0m-9-2h0m5 9h0m2 0h0m5 4h0m1-8h0m0 1h0m2-1h0m1 0h0m1 1h0m2 3h0m5 4h0m8-1h0m4-2h0m2-1h0m10-4h0m2 3h0m14 2h0m16 2h0m0-3h0m9 1h0m5-5h0m26 13h0m-3 0h0m-9-3h0m-11 1h0m-2 6h0m-2-7h0m-2 2h0m0 5h0m-4 2h0m-2-8h0m-2 3h0m-7 1h0m-2 0h0m-5 1h0m0-2h0m-3 3h0m-23-5h0m-1-2h0m-4 5h0m-9-3h0m0 4h0m-11-5h0m-1 0h0m0 2h0m3 12h0m2 2h0m1-3h0m0 3h0m1-2h0m2 2h0m4-7h0m3 6h0m6 2h0m7-7h0m2 7h0m28-2h0m4-4h0m5 6h0m1 0h0m3-9h0m3 0h0m1 0h0m1 2h0m1 1h0m11 0h0m3 6h0m5-4h0m2-5h0m2 1h0m2 1h0m2 0h0m1 5h0m1 0h0m5-2h0m2 1h0m-6 13h0m-3-3h0m-2 3h0m-2-4h0m-2 3h0m-2 2h0m-3-6h0m-8-1h0m-2 1h0m0 4h0m-3 1h0m-15-5h0m-6-4h0m-26 10h0m-2-5h0m0 3h0m-6-6h0m-16-1h0m-162 15h0m2 3h0m0 0h0m169-9h0m8 5h0m1-5h0m7 9h0m27-8h0m1 6h0m8-5h0m5 2h0m2 5h0m1 1h0m1-3h0m0-2h0m2 4h0m4-2h0m7-5h0m5 7h0m1-6h0m4-1h0m0 2h0m4 5h0m0-9h0m0 18h0m-4-2h0m-1 1h0m-4 1h0m-4-6h0m-7-1h0m-2 1h0m-5 0h0m-1 3h0m-2-1h0m-4 2h0m-1 3h0m-5-4h0m-1 0h0m-1 1h0m-1-5h0m-2 0h0m-28 4h0m-169 2h0m-1 0h0m-5 2h0m-6-3h0m-29 8h0m4 0h0m2 2h0m4-2h0m0-1h0m0-1h0m9 7h0m5-2h0m2-5h0m1 2h0m4-3h0m2 6h0m7-3h0m5 6h0m3-7h0m180 1h0m12-4h0m20 6h0m1 2h0m2-2h0m12 3h0m3-1h0m6-7h0m-4 14h0m-7-3h0m-6 3h0m-1-2h0m-1 7h0m-2-3h0m0-6h0m-2 6h0m-2 1h0m0 1h0m-4-2h0m-9 2h0m-1-4h0m-2 4h0m-2-8h0m-8 7h0m-6-7h0m-2 8h0m-9-9h0m-8 2h0m-2 2h0m-163 0h0m-1 1h0m-1 1h0m-9-5h0m-6 6h0m-9-3h0m-5-2h0m-1 7h0m8 1h0m228 8h0m4-6h0m4 1h0m2 0h0m9-1h0m1 4h0m4 2h0m1 0h0m1 1h0m5-8h0m-18 17h0m-2 0h0m-8-8h0m-7 7h0" stroke="#8c76b6" stroke-width="5.20" stroke-linecap="round" fill="none"/>
<path transform="scale(.5)" d="M490 4059h0m-12 0h0m-4-1h0m-7 10h0m8 0h0m0-3h0m0 4h0m3-1h0m1-5h0m3 1h0m1-1h0m10 5h0m3-5h0m3 8h0m-3 3h0m-1 2h0m-2 3h0m0-5h0m-6-3h0m-4 7h0m-2 0h0m-17-5h0m-1 6h0m5 10h0m0 1h0m0-10h0m3 4h0m3 1h0m14 4h0m4-1h0m2-4h0m2 2h0m10 8h0m-2 6h0m-6-1h0m-8-6h0m-2 4h0m-3-5h0m0-1h0m-7 4h0m0 3h0m11 7h0m1 2h0m6-5h0m6 7h0m10-4h0m5-3h0m6 8h0m4 9h0m-3-5h0m0-2h0m-18 0h0m-4 4h0m0-2h0m-75 12h0m8 3h0m2 0h0m53-1h0m2-7h0m1 7h0m0-3h0m0 3h0m3-4h0m2 4h0m2-6h0m3 7h0m9-4h0m6 1h0m-3 9h0m-4 4h0m-4 0h0m-1-2h0m-1-6h0m0 7h0m-1 0h0m-7-6h0m-1 5h0m-2-4h0m-2 1h0m-1 4h0m-1-4h0m-58 4h0m-5 0h0m-5-2h0m-1 0h0m-2-2h0m-1 3h0m-1 2h0m-1-2h0m0 2h0m-1-6h0m-5 0h0m19 11h0m4-3h0m4 4h0m3-4h0m6 5h0m2-5h0m0 8h0m2-3h0m2-2h0m40 2h0m1 2h0m6-3h0m3 2h0m0-1h0m5 0h0m1 1h0m4 3h0m4-9h0m8 2h0m12 8h0m0 0h0m-3 4h0m-1 4h0m-14-7h0m-10 8h0m-4-4h0m-1-1h0m-5 0h0m-2 2h0m-4 0h0m-5-3h0m-28 5h0m-8-9h0m-5 1h0m-8 7h0m-6-2h0m-4-1h0m5 12h0m4-6h0m5 0h0m3 2h0m4 7h0m1-7h0m2 3h0m2 0h0m9 1h0m30-3h0m8 5h0m3-2h0m2 3h0m1-1h0m8-6h0m6-2h0m4 2h0m3-1h0m3 1h0m0 1h0m13 3h0m-8 8h0m-18 2h0m-1 2h0m-6-5h0m0 2h0m-1 4h0m-7-3h0m-4 1h0m-3-5h0m-2 3h0m-1-5h0m-2 3h0m-26-3h0m-3 6h0m-5-1h0m-9-1h0m-2 1h0m-1-5h0m-6 2h0m7 9h0m13-1h0m0 2h0m9 0h0m24-2h0m2 4h0m4-1h0m5-1h0m0 7h0m2 0h0m2-6h0m9 0h0m2-2h0m1 6h0m0-8h0m0 9h0m2-5h0m1-2h0m13 4h0m3-3h0m-3 15h0m-3 2h0m-6-3h0m0-7h0m-1 8h0m-4-1h0m-5-4h0m-1 2h0m-4-3h0m-1-2h0m-1 6h0m-1-5h0m-12 4h0m-7 4h0m-26-7h0m5 8h0m30 4h0m0-3h0m8 5h0m1-2h0m7 4h0m3-4h0m20-1h0m-9 10h0m-1 0h0m-6 3h0m-5 4h0m-3-9h0m-5 6h0m-1-2h0m0-4h0m-6 4h0m-8 11h0m0 3h0m0-9h0m5 1h0m1 1h0m0 8h0m9-1h0m3-1h0m6 1h0m1-2h0m0-6h0m3 5h0m4 3h0m-1 3h0m-3 5h0m-1-7h0m-3 8h0m-2-3h0m-2 3h0m-4-2h0m-2 2h0m-1-5h0" stroke="#7867b0" stroke-width="5.20" stroke-linecap="round" fill="none"/>
<path transform="scale(.5)" d="M488 4054h0m-2 1h0m-14 12h0m4 0h0m1-6h0m1 5h0m0-2h0m2-4h0m4 4h0m6 4h0m2-5h0m1 1h0m0-2h0m5 17h0m-2-4h0m-1 2h0m0 3h0m-4-5h0m-2 2h0m0 2h0m-4-3h0m-6-5h0m-1 7h0m-2-1h0m-3-7h0m-12 8h0m-1 3h0m7 7h0m10-8h0m1 5h0m9-4h0m5 6h0m1 1h0m10 8h0m-5 0h0m-1-4h0m0 2h0m0-2h0m-2-1h0m0 5h0m-2 1h0m-1-4h0m-1 5h0m-1-2h0m0 1h0m-1-5h0m-1 3h0m0-4h0m-2 1h0m-3-2h0m-4 1h0m-6 4h0m16 13h0m1-4h0m0 6h0m7-9h0m0 7h0m7-1h0m2-5h0m5 5h0m0-1h0m3-3h0m12 13h0m-6-5h0m0 5h0m-1 3h0m-20 0h0m-2-7h0m-4 2h0m-2 5h0m-2-9h0m-60 16h0m4 2h0m0-2h0m55-3h0m3 1h0m5 2h0m4-3h0m9-2h0m1 4h0m12 13h0m-16-4h0m-11 5h0m-6-2h0m-52 0h0m0-6h0m-3 0h0m-3 1h0m-3 0h0m-3-2h0m-9 10h0m-2 2h0m8 2h0m7-3h0m4 8h0m5-5h0m2-4h0m0 1h0m4 2h0m8 5h0m37-4h0m2 2h0m4-5h0m2 2h0m1 6h0m1-2h0m3-3h0m8 6h0m4-5h0m0 1h0m2-1h0m0-4h0m4 1h0m6 2h0m3 2h0m3 0h0m6 11h0m-1 2h0m-7-9h0m-16 3h0m0 0h0m-3 5h0m-2 2h0m0-7h0m-1 7h0m-1-5h0m-5-3h0m-2 2h0m-3 0h0m0 3h0m-6-1h0m-4-5h0m-32 7h0m-1-3h0m-3 0h0m-4 4h0m-3-1h0m-2-8h0m-2 1h0m-2 2h0m-2 5h0m-7-6h0m-1 4h0m0-1h0m-6-1h0m9 8h0m4 4h0m1-5h0m1 2h0m0 4h0m3-1h0m2-4h0m8-1h0m2 8h0m1-1h0m1-1h0m10 2h0m36-1h0m7 0h0m6-4h0m3-4h0m4 0h0m1 3h0m0-1h0m0 7h0m0-5h0m7 0h0m2 1h0m2 2h0m0-5h0m0 8h0m1-8h0m5 3h0m1 2h0m0-6h0m3 1h0m-1 13h0m-1 4h0m0-7h0m-2 5h0m-2-6h0m-2 6h0m-17-6h0m-10-1h0m-6 8h0m-3-6h0m-3 2h0m0-1h0m-29 1h0m-5 0h0m-2 3h0m0 1h0m-1-5h0m-8-1h0m0 12h0m0-4h0m7 9h0m1-7h0m1-1h0m33 3h0m4-2h0m10 5h0m4-2h0m1-4h0m3 0h0m0 5h0m4-1h0m1 1h0m0-4h0m7 8h0m10-6h0m-1 13h0m-2-7h0m-15 3h0m-7 4h0m-6 2h0m-1 1h0m0-6h0m-3 4h0m0 0h0m-1-5h0m-3 4h0m-4-1h0m0-4h0m0 2h0m2 7h0m3 6h0m3 3h0m4-7h0m7 0h0m1 6h0m6-6h0m5 4h0m2 3h0m2-3h0m1-3h0m5 4h0m-3 11h0m0-1h0m-8-2h0m-7-5h0m-3-1h0m0 10h0m-2-8h0m-5 2h0m-8-3h0m-7 10h0m8 8h0m10-5h0m1 3h0m4-1h0m5 7h0m-1 0h0m-2 4h0m-4-2h0m-19-3h0" stroke="#655aab" stroke-width="5.20" stroke-linecap="round" fill="none"/>
<path transform="scale(.5)" d="M491 4060h0m-7-3h0m-6 1h0m-1 0h0m-2-5h0m-12 16h0m2 1h0m1 0h0m3-3h0m3-4h0m3 4h0m3-2h0m0 1h0m14-3h0m0 2h0m2 0h0m0 9h0m-13-2h0m-1 0h0m-6 3h0m-5-2h0m-2 0h0m-6 5h0m9 6h0m5 5h0m2-9h0m2 9h0m1-6h0m0 3h0m0 1h0m2 2h0m2-8h0m8 6h0m7-3h0m1 16h0m-2-3h0m-3-4h0m-6-1h0m0 0h0m-8 1h0m-2 0h0m13 11h0m2 1h0m7 5h0m0-9h0m17 5h0m2 3h0m2 0h0m3 5h0m-1 1h0m0 5h0m-9-3h0m-1-1h0m0-6h0m-2 5h0m-4 2h0m-5-2h0m-1 2h0m-5 0h0m-7 1h0m-1 0h0m-65 4h0m64 0h0m14 8h0m2-3h0m2 0h0m2-3h0m8-2h0m4 15h0m-2 2h0m-1-1h0m-3-3h0m-1 4h0m-6-8h0m-4 6h0m-65-4h0m-7 3h0m-4 3h0m-2-7h0m0 1h0m-8 8h0m16 4h0m0-5h0m1 7h0m2-3h0m11 5h0m2-3h0m0 1h0m44-7h0m2 6h0m1-6h0m1 6h0m4-4h0m17 3h0m4-1h0m11 4h0m5 10h0m-6-1h0m-2-4h0m-2 3h0m-1 2h0m-3-4h0m-2 3h0m-2 0h0m0-4h0m-4 6h0m-5 0h0m-11-8h0m-5 4h0m-2 3h0m-3-6h0m-34 3h0m-2-4h0m-3 1h0m0 7h0m-3-1h0m-4-5h0m-2 5h0m-6-6h0m-6 5h0m-9-6h0m21 12h0m3 7h0m8-2h0m4-5h0m32 0h0m1 2h0m2-1h0m11 0h0m1 4h0m0 1h0m5-6h0m1 7h0m8-10h0m0 4h0m5-2h0m5-1h0m0 3h0m4-2h0m1 4h0m3 3h0m1-4h0m3 9h0m-1 4h0m-7 1h0m-2-4h0m-3-1h0m-8 0h0m-4-2h0m-3 6h0m-3-6h0m-1 7h0m-2-5h0m-4-1h0m0 4h0m-13-7h0m-24 7h0m-4-5h0m0-1h0m-8 8h0m-6 0h0m0-1h0m9 10h0m8-2h0m3-1h0m1 3h0m24-1h0m0 2h0m4-6h0m1 3h0m1-3h0m5 5h0m2-1h0m2 3h0m1-5h0m3 2h0m6-4h0m4-3h0m5 6h0m5-2h0m5 4h0m0 0h0m0-8h0m1 9h0m0-2h0m-8 9h0m-13-3h0m-3 1h0m-3 2h0m-7 2h0m-12 1h0m0-2h0m-24 2h0m-1 3h0m31 1h0m1 7h0m5-8h0m3-1h0m8 1h0m6 1h0m1 3h0m9 4h0m3 9h0m0-1h0m-1-2h0m-1 1h0m-5-6h0m-1 3h0m-7-2h0m-4 3h0m-2 3h0m0-5h0m0-1h0m-5 0h0m-1 1h0m-5 2h0m0-5h0m-6 4h0m-4 1h0m3 7h0m4-2h0m3 0h0m6 6h0m0-3h0m4 6h0m6-6h0m1-1h0m2 2h0m6 6h0m0-2h0m0-1h0m3-1h0m2 2h0m-7 4h0m-7 7h0m-6-4h0m-10 4h0" stroke="#5450a6" stroke-width="5.20" stroke-linecap="round" fill="none"/>
<line x1="111.3" y1="2159.4" x2="111.3" y2="2017.5" stroke="#000" stroke-width="3"/>
<line x1="109.8" y1="2158.0" x2="286.3" y2="2158.0" stroke="#000" stroke-width="3"/>
<line x1="105.3" y1="2029.5" x2="111.3" y2="2029.5" stroke="#000" stroke-width="2.6"/>
<text x="97.0" y="2038.1" font-family="'Liberation Sans', Arial, sans-serif" font-size="25" text-anchor="end" fill="#1A1A1A">10</text>
<line x1="105.3" y1="2056.0" x2="111.3" y2="2056.0" stroke="#000" stroke-width="2.6"/>
<text x="97.0" y="2064.6" font-family="'Liberation Sans', Arial, sans-serif" font-size="25" text-anchor="end" fill="#1A1A1A">5</text>
<line x1="105.3" y1="2082.5" x2="111.3" y2="2082.5" stroke="#000" stroke-width="2.6"/>
<text x="97.0" y="2091.1" font-family="'Liberation Sans', Arial, sans-serif" font-size="25" text-anchor="end" fill="#1A1A1A">0</text>
<line x1="105.3" y1="2109.0" x2="111.3" y2="2109.0" stroke="#000" stroke-width="2.6"/>
<text x="97.0" y="2117.6" font-family="'Liberation Sans', Arial, sans-serif" font-size="25" text-anchor="end" fill="#1A1A1A">-5</text>
<line x1="105.3" y1="2135.5" x2="111.3" y2="2135.5" stroke="#000" stroke-width="2.6"/>
<text x="97.0" y="2144.1" font-family="'Liberation Sans', Arial, sans-serif" font-size="25" text-anchor="end" fill="#1A1A1A">-10</text>
<line x1="111.3" y1="2158.0" x2="111.3" y2="2164.5" stroke="#000" stroke-width="2.6"/>
<text x="111.3" y="2189.5" font-family="'Liberation Sans', Arial, sans-serif" font-size="25" text-anchor="middle" fill="#1A1A1A">-15</text>
<line x1="147.3" y1="2158.0" x2="147.3" y2="2164.5" stroke="#000" stroke-width="2.6"/>
<text x="147.3" y="2189.5" font-family="'Liberation Sans', Arial, sans-serif" font-size="25" text-anchor="middle" fill="#1A1A1A">-10</text>
<line x1="183.3" y1="2158.0" x2="183.3" y2="2164.5" stroke="#000" stroke-width="2.6"/>
<text x="183.3" y="2189.5" font-family="'Liberation Sans', Arial, sans-serif" font-size="25" text-anchor="middle" fill="#1A1A1A">-5</text>
<line x1="219.3" y1="2158.0" x2="219.3" y2="2164.5" stroke="#000" stroke-width="2.6"/>
<text x="219.3" y="2189.5" font-family="'Liberation Sans', Arial, sans-serif" font-size="25" text-anchor="middle" fill="#1A1A1A">0</text>
<line x1="255.3" y1="2158.0" x2="255.3" y2="2164.5" stroke="#000" stroke-width="2.6"/>
<text x="255.3" y="2189.5" font-family="'Liberation Sans', Arial, sans-serif" font-size="25" text-anchor="middle" fill="#1A1A1A">5</text>
<text x="196.9" y="2222.5" font-family="'Liberation Sans', Arial, sans-serif" font-size="28" text-anchor="middle" fill="#1A1A1A" textLength="95.9" lengthAdjust="spacingAndGlyphs">umap_1</text>
<text x="49.5" y="2088.5" font-family="'Liberation Sans', Arial, sans-serif" font-size="28" text-anchor="middle" fill="#1A1A1A" textLength="99.0" lengthAdjust="spacingAndGlyphs" transform="rotate(-90 49.5 2088.5)">umap_2</text>
<rect x="311.9" y="2009.9" width="31.4" height="155.1" fill="url(#gradH)"/>
<line x1="311.9" y1="2025.6" x2="317.9" y2="2025.6" stroke="#FFFFFF" stroke-width="1.2" stroke-opacity="0.7"/>
<line x1="337.3" y1="2025.6" x2="343.3" y2="2025.6" stroke="#FFFFFF" stroke-width="1.2" stroke-opacity="0.7"/>
<text x="356.8" y="2034.2" font-family="'Liberation Sans', Arial, sans-serif" font-size="25" fill="#1A1A1A">6</text>
<line x1="311.9" y1="2071.8" x2="317.9" y2="2071.8" stroke="#FFFFFF" stroke-width="1.2" stroke-opacity="0.7"/>
<line x1="337.3" y1="2071.8" x2="343.3" y2="2071.8" stroke="#FFFFFF" stroke-width="1.2" stroke-opacity="0.7"/>
<text x="356.8" y="2080.4" font-family="'Liberation Sans', Arial, sans-serif" font-size="25" fill="#1A1A1A">5</text>
<line x1="311.9" y1="2117.5" x2="317.9" y2="2117.5" stroke="#FFFFFF" stroke-width="1.2" stroke-opacity="0.7"/>
<line x1="337.3" y1="2117.5" x2="343.3" y2="2117.5" stroke="#FFFFFF" stroke-width="1.2" stroke-opacity="0.7"/>
<text x="356.8" y="2126.1" font-family="'Liberation Sans', Arial, sans-serif" font-size="25" fill="#1A1A1A">4</text>
<line x1="311.9" y1="2164.3" x2="317.9" y2="2164.3" stroke="#FFFFFF" stroke-width="1.2" stroke-opacity="0.7"/>
<line x1="337.3" y1="2164.3" x2="343.3" y2="2164.3" stroke="#FFFFFF" stroke-width="1.2" stroke-opacity="0.7"/>
<text x="356.8" y="2172.9" font-family="'Liberation Sans', Arial, sans-serif" font-size="25" fill="#1A1A1A">3</text>
<text x="545.0" y="1997.4" font-family="'Liberation Sans', Arial, sans-serif" font-size="30" font-weight="bold" text-anchor="middle" textLength="111.3" lengthAdjust="spacingAndGlyphs">IGFBP6</text>
<path d="M584.5 2028.1 L593.0 2027.5 L595.5 2030.5 L598.2 2037.7 L598.2 2043.8 L601.6 2049.2 L596.7 2053.4 L591.8 2054.6 L588.7 2051.0 L584.5 2051.0 L580.8 2046.2 L577.7 2042.6 L578.3 2038.4 L582.0 2032.3 Z" fill="#5455a7" stroke="#5455a7" stroke-width="1.5" stroke-linejoin="round"/>
<path d="M591.8 2054.6 L599.2 2051.0 L605.3 2051.6 L610.2 2054.6 L611.4 2060.6 L609.0 2065.4 L611.4 2071.5 L617.5 2078.7 L620.0 2084.7 L618.8 2090.7 L616.3 2099.7 L615.7 2108.8 L613.2 2114.8 L608.3 2119.6 L599.2 2120.8 L594.9 2118.4 L593.0 2111.8 L591.8 2102.8 L593.6 2093.7 L591.8 2084.7 L590.6 2078.7 L591.8 2072.7 L591.8 2066.6 Z" fill="#8a7fb9" stroke="#8a7fb9" stroke-width="1.5" stroke-linejoin="round"/>
<path d="M552.6 2060.6 L558.1 2060.0 L563.6 2064.2 L568.5 2065.4 L569.7 2070.3 L574.6 2072.7 L577.1 2078.7 L580.2 2084.7 L582.0 2091.9 L582.6 2099.7 L580.8 2102.8 L577.1 2099.7 L572.2 2093.7 L567.3 2087.7 L561.2 2081.7 L556.3 2075.7 L553.2 2069.7 L552.0 2063.6 Z" fill="#7c70b4" stroke="#7c70b4" stroke-width="1.5" stroke-linejoin="round"/>
<path d="M574.0 2065.4 L585.7 2065.4 L591.2 2066.6 L591.8 2072.7 L590.0 2078.7 L588.1 2081.7 L585.7 2080.5 L580.8 2076.3 L577.1 2073.9 L574.0 2070.3 Z" fill="#c0b7cf" stroke="#c0b7cf" stroke-width="1.5" stroke-linejoin="round"/>
<path d="M577.1 2106.4 L580.8 2102.8 L590.0 2102.8 L593.0 2106.4 L593.0 2111.8 L590.0 2111.8 L583.2 2111.2 L578.3 2112.4 L576.5 2110.0 Z" fill="#c1b8d0" stroke="#c1b8d0" stroke-width="1.5" stroke-linejoin="round"/>
<path d="M511.1 2045.2 L508.7 2043.6 L503.2 2046.0 L498.4 2049.1 L495.3 2053.0 L492.1 2054.5 L485.7 2053.7 L479.4 2056.1 L476.2 2060.0 L477.8 2063.9 L481.8 2067.0 L484.2 2071.6 L483.4 2076.3 L484.9 2082.5 L487.3 2084.9 L489.7 2082.5 L490.1 2076.3 L490.5 2071.6 L489.7 2067.0 L491.3 2062.3 L495.3 2059.2 L501.6 2056.1 L507.1 2050.6 L511.1 2047.5 Z" fill="#d2d1d3" stroke="#d2d1d3" stroke-width="1.5" stroke-linejoin="round"/>
<path d="M488.1 2089.2 L492.1 2091.9 L496.0 2098.1 L500.0 2101.2 L499.2 2105.9 L493.7 2109.8 L485.7 2112.1 L479.4 2113.7 L473.9 2112.1 L470.7 2107.5 L471.5 2102.8 L477.8 2098.1 L484.2 2093.5 L486.5 2090.3 Z" fill="#d0ced3" stroke="#d0ced3" stroke-width="1.5" stroke-linejoin="round"/>
<path d="M503.9 2144.8 L503.2 2147.1 L501.2 2148.7 L498.4 2149.3 L495.7 2148.7 L493.7 2147.1 L493.0 2144.8 L493.7 2142.6 L495.7 2140.9 L498.4 2140.3 L501.2 2140.9 L503.2 2142.6 Z" fill="#d0ced2" stroke="#d0ced2" stroke-width="1.5" stroke-linejoin="round"/>
<path transform="scale(.5)" d="M1016 4088h0m2 0h0m3 7h0m-1 1h0m-3 0h0m-1-3h0m0 0h0m0 3h0m0 3h0m0-7h0m-1-1h0m0 8h0m0 1h0m-1-9h0m0 2h0m-1 3h0m-1-6h0m-2 4h0m-1 1h0m0 2h0m0 2h0m-1-2h0m-1-4h0m0-1h0m0 1h0m-1 4h0m-1 3h0m-1-3h0m-1-1h0m-1 3h0m-1-4h0m-1 3h0m-3 0h0m-2 2h0m-28 10h0m2-1h0m17-1h0m4 1h0m1-1h0m1 1h0m1 1h0m2-1h0m1-2h0m0-3h0m1 2h0m1 1h0m0-7h0m2 7h0m0-3h0m1 6h0m0-9h0m0 9h0m0-6h0m0 0h0m2-2h0m0 8h0m1-8h0m0 1h0m1 1h0m0-2h0m1 6h0m1-2h0m1-3h0m1 0h0m0-2h0m1 3h0m2-4h0m0 1h0m2-1h0m0 0h0m1 0h0m-12 10h0m-2 1h0m-1 1h0m-1 0h0m-2 1h0m-2-2h0m0-1h0m-1 2h0m-2 1h0m0-2h0m-3 4h0m-2-5h0m0 9h0m0-8h0m-2 2h0m0 0h0m0 1h0m-1 3h0m0-6h0m0 3h0m-1 3h0m-1-1h0m0 4h0m-1-4h0m-1-4h0m-1 6h0m-1-4h0m-1 3h0m0-5h0m0-1h0m-2 3h0m0 0h0m0 3h0m-1-6h0m0 2h0m-2 7h0m0-9h0m0 3h0m0 5h0m-2-3h0m0-2h0m0 0h0m0-3h0m-2 4h0m-1 1h0m0-1h0m-1 3h0m-1-1h0m0-4h0m-1-1h0m0 5h0m-1 1h0m0-3h0m-1-4h0m-5 8h0m-2-2h0m0 10h0m1-3h0m1 3h0m1-6h0m1 6h0m1 1h0m1-6h0m1 6h0m0 2h0m1-4h0m1 1h0m1-3h0m0-2h0m1 1h0m1 5h0m1-4h0m0-3h0m1 8h0m5-2h0m1-7h0m1 9h0m0-6h0m2 0h0m1 2h0m0-1h0m0-2h0m1 3h0m0-3h0m0 5h0m1 0h0m0 0h0m0 0h0m2-6h0m2 1h0m0-1h0m197 17h0m-2-5h0m-8 3h0m-1 1h0m-1 3h0m-1-1h0m-3-5h0m-9 5h0m-1-1h0m-1 1h0m-1-4h0m0-3h0m-4 2h0m0 3h0m-171-5h0m-1 2h0m-1 3h0m-1-5h0m-1 6h0m-1-5h0m0 0h0m-1 3h0m-1-1h0m0 5h0m-1-3h0m-1 3h0m-1-1h0m0-5h0m-2-1h0m0 2h0m-3 0h0m4 5h0m0 9h0m0-8h0m0 0h0m0 9h0m5-8h0m2 6h0m0-4h0m1 5h0m0-1h0m0-3h0m1 1h0m1 0h0m1 4h0m171-9h0m3 4h0m5 1h0m0 3h0m1-1h0m4-1h0m0-7h0m2 4h0m0 3h0m8-6h0m3 8h0m1-2h0m2-7h0m0 1h0m1 2h0m1-1h0m1-2h0m0 4h0m-3 15h0m0 0h0m-3-3h0m-1-1h0m-9 1h0m-186-5h0m-1 5h0m0-2h0m-2 5h0m0-4h0m0-3h0m0 5h0m0 2h0m-1-3h0m0-3h0m-1 0h0m-1 6h0m0-7h0m-1 3h0m-3 4h0m-1-8h0m-1 1h0m0 4h0m1 4h0m4 6h0m1-1h0m0 3h0m0-4h0m1-4h0m2 4h0m1 0h0m0 1h0m1-1h0m0 0h0m219 15h0m-9-1h0m-220 12h0m1-1h0m3-1h0m3-7h0m1 7h0m1-8h0m3 3h0m1 5h0m1 2h0m0-6h0m2 3h0m1 1h0m201-7h0m0 8h0m1 0h0m0-6h0m0 3h0m1 0h0m3-2h0m1 4h0m0-2h0m1-1h0m0-5h0m1 4h0m3 6h0m3-4h0m1 2h0m1-2h0m0 0h0m1-5h0m1 5h0m1 1h0m1-4h0m3 4h0m-1 6h0m0-1h0m-2 5h0m-1-6h0m-1 6h0m-1-5h0m0 1h0m-1 4h0m0-6h0m0 3h0m-4 2h0m0-4h0m0 7h0m-1-1h0m-1 2h0m-2-5h0m-3 1h0m-1 0h0m-1 1h0m-1 1h0m0 0h0m-1-7h0m-193 8h0m-4-4h0m0 2h0m-1-2h0m0 3h0m-1 0h0m0-2h0m0 4h0m-2-2h0m-2-2h0m0-4h0m0 2h0m-1 2h0m-2-3h0m0 1h0m-1-1h0m0-2h0m0 6h0m-1-1h0m0-5h0m0 2h0m-1 6h0m-1-5h0m0 4h0m-1-7h0m0 7h0m-1 0h0m-1 2h0m0-9h0m0-1h0m0 10h0m-1-6h0m0-1h0m-1 6h0m0-2h0m-1-4h0m0 5h0m0-5h0m-2 1h0m-1 3h0m-1 2h0m-2-2h0m0-2h0m0 3h0m0 1h0m-1-4h0m-2 5h0m0-5h0m-2 0h0m-4 3h0m-1-2h0m-3 3h0m-9 8h0m0 1h0m3 0h0m0-3h0m1-1h0m1-1h0m0 3h0m1 2h0m2-1h0m0-1h0m2-4h0m0-2h0m0 4h0m1 3h0m0-6h0m0 6h0m0-2h0m0-3h0m0 0h0m1 4h0m0 4h0m1-5h0m0 1h0m1-6h0m0 1h0m1 5h0m0-2h0m0 0h0m0-4h0m1 9h0m0-9h0m1 9h0m2-3h0m0 2h0m1-1h0m2-5h0m1-2h0m1 9h0m1-8h0m0 4h0m0 2h0m1 3h0m0-7h0m4-1h0m0 0h0m1-2h0m0 1h0m0 2h0m0-2h0m0 5h0m1-6h0m0 2h0m1 7h0m0-4h0m0-4h0m1 5h0m1 1h0m0 2h0m0-7h0m1 1h0m2 6h0m1-6h0m0 7h0m0-4h0m0-3h0m1 4h0m1 2h0m0-6h0m0 1h0m1 3h0m2-1h0m1 0h0m0-1h0m1-2h0m0 1h0m1-2h0m1 1h0m0-1h0m1-1h0m0 5h0m0 0h0m0 1h0m2 1h0m0-3h0m1-2h0m0 2h0m1 3h0m1-1h0m1-3h0m0 2h0m164 2h0m2 1h0m19-6h0m4 6h0m0-7h0m5 2h0m0 1h0m1 5h0m6-9h0m0 0h0m0 0h0m2 5h0m1-2h0m5 4h0m1-4h0m0 6h0m0-1h0m2-6h0m-2 7h0m-1 3h0m0 6h0m0 0h0m-1-6h0m-3 6h0m0 0h0m-1-2h0m-6 0h0m-1-1h0m0 0h0m-2-4h0m0-1h0m-1 5h0m-4-1h0m-3 5h0m-1-7h0m-2-2h0m-3 8h0m-1-8h0m-2 2h0m0 4h0m-1-6h0m0 7h0m-3 0h0m-1 0h0m-2 2h0m-3-4h0m-4 4h0m-4-2h0m-1-3h0m-1-2h0m-2 0h0m-160-2h0m-1 0h0m-1 3h0m-1 2h0m0-1h0m-1-1h0m0 1h0m0 2h0m-1 0h0m-1-1h0m-2-2h0m0 0h0m0-2h0m-1-2h0m-1 10h0m-1-10h0m0 5h0m-1 4h0m0 1h0m0-5h0m0 3h0m-1 2h0m0-5h0m-1-3h0m0 0h0m-1 3h0m-1 5h0m-2-7h0m0-1h0m-1 3h0m0-4h0m0 7h0m0-4h0m-1 2h0m0-1h0m0-2h0m0 5h0m-1-2h0m-2-2h0m0 3h0m-1-3h0m0 1h0m-2 2h0m-1-5h0m0 1h0m-1 5h0m0-8h0m0 1h0m-1 5h0m-1-1h0m-1 3h0m-1 1h0m0-8h0m-2 2h0m0 0h0m-1-1h0m0 2h0m0-1h0m0 5h0m0 2h0m0 0h0m-1-1h0m-1-3h0m0 1h0m0 0h0m-2 1h0m0-5h0m0-3h0m-1 1h0m-1 2h0m0 0h0m0 3h0m0-3h0m0 2h0m-1-2h0m-2-1h0m-1-2h0m0 4h0m-1 3h0m0-4h0m-1 1h0m0 5h0m0-2h0m0-5h0m0 6h0m-1-1h0m0-4h0m0 0h0m-2 1h0m-2 0h0m0-2h0m-2 3h0m6 6h0m0 0h0m4-1h0m1 1h0m2 2h0m1 0h0m2 1h0m2-3h0m1 2h0m1 1h0m4 1h0m0-5h0m0 0h0m3 1h0m0 0h0m0 3h0m194-4h0m17 0h0m2 2h0m8 8h0m3-10h0m2 3h0m0 3h0m0-6h0m2 9h0m0-8h0m1 2h0m3 0h0m0-2h0m4 4h0m1-4h0m1 3h0m1-3h0m2 6h0m1 1h0m1 10h0m0-2h0m0-4h0m-2-2h0m0 9h0m-2 0h0m-1-3h0m-1 0h0m-3 3h0m-1-5h0m-3-3h0m-1 9h0m0-5h0m-2-5h0m-3 8h0m-3-5h0m11 7h0m-211 48h0m1-4h0m1 6h0m0-5h0m2 5h0m0 0h0m1-8h0m0 1h0m1 6h0m3-2h0m0-4h0m1 2h0m1-2h0m1 3h0m3 0h0m2 5h0m-2 2h0m-1 0h0m0 2h0m-5-4h0m-3 2h0m-1 3h0m0 0h0m-2-2h0m0 2h0m0-4h0m-1-2h0m-4 2h0" stroke="#D3D3D3" stroke-width="5.20" stroke-linecap="round" fill="none"/>
<path transform="scale(.5)" d="M1190 4109h0m20 0h0m10 8h0m-2-4h0m-10 5h0m-7-1h0m0-5h0m-4 5h0m-5-3h0m-77 7h0m4 6h0m8 2h0m58-4h0m3-1h0m3 3h0m11-1h0m0-5h0m1 1h0m0 7h0m11 10h0m-12-1h0m0-6h0m-1 4h0m-1 3h0m-1 1h0m-29-8h0m-6 7h0m-4-7h0m-31 4h0m-8 2h0m-3-4h0m-8 10h0m5 4h0m2 0h0m44-1h0m7-2h0m19-2h0m12-2h0m4 0h0m4 1h0m6-2h0m2 8h0m18 8h0m-22-5h0m-10 4h0m-1 4h0m-8 1h0m-4 0h0m-2-5h0m-1-2h0m-2 1h0m-1 3h0m-2-6h0m-6 3h0m-4 6h0m-18-7h0m-3 5h0m-15-3h0m-3 13h0m2 1h0m3-1h0m5-5h0m4 3h0m4 2h0m39-2h0m11 3h0m2-8h0m9-1h0m1 1h0m11 6h0m2-3h0m2-2h0m8-2h0m4 14h0m-3 6h0m-3-7h0m-6-1h0m-19 4h0m-2-2h0m-11-3h0m-6 2h0m-3-1h0m-23 4h0m-2-5h0m0-1h0m-11 0h0m-4 2h0m-10 3h0m19 9h0m8 5h0m50-8h0m2 3h0m1 4h0m0-4h0m17 1h0m1 0h0m-9 10h0m-3-4h0m-9 8h0m-53-5h0m14 13h0m4-1h0m3 2h0m1 1h0m35 0h0m3 1h0m1-7h0m4 5h0m1-2h0m4 13h0m-4-8h0m-12 2h0m-28 2h0m-15 1h0m-1-1h0m-14 0h0m21 8h0m39 0h0m11 6h0m-5 1h0m-8 10h0m0-1h0" stroke="#c7bfd5" stroke-width="5.20" stroke-linecap="round" fill="none"/>
<path transform="scale(.5)" d="M1178 4137h0m-2-1h0m-2 1h0m-5-1h0m-1-2h0m-15-1h0m-4 7h0m1 0h0m3 1h0m3 3h0m7 1h0m4 3h0m4 0h0m7 12h0m-12-6h0m-1-1h0m0-1h0m36 27h0m-217 6h0m216 4h0m7-9h0m-4 12h0m-212 3h0m-8-2h0m-1 6h0m-27-2h0m-4 13h0m3-6h0m5 0h0m1 2h0m0-2h0m2-1h0m1 0h0m4 6h0m1 0h0m1-9h0m0 7h0m4 1h0m5 0h0m5-8h0m9 10h0m1-5h0m0 5h0m3-3h0m1 2h0m197-7h0m14 12h0m-11-2h0m-6 3h0m-5 3h0m-2-4h0m-3 5h0m-13-4h0m-9-2h0m-169 4h0m-17-6h0m-1 7h0m-4-8h0m-9 8h0m-3-4h0m0 0h0m-1 3h0m-11-7h0m-1 2h0m10 10h0m1 3h0m6 1h0m13-5h0m183 2h0m18-3h0m0 1h0m8 0h0m2 1h0m14 6h0m7 4h0" stroke="#bbaed4" stroke-width="5.20" stroke-linecap="round" fill="none"/>
<path transform="scale(.5)" d="M1007 4101h0m-50 17h0m-4 2h0m11 7h0m215 7h0m-12 3h0m-6-2h0m0-1h0m-1-2h0m-9 0h0m-178 2h0m-7 3h0m6 11h0m8-3h0m174-4h0m2-1h0m12 9h0m10-8h0m2 9h0m1 5h0m-2 1h0m-3 2h0m-2 2h0m33 18h0m-16 7h0m8 0h0m6-5h0m5 3h0m0 6h0m-3 10h0m-1-2h0m-21 13h0m17-2h0m8 7h0m-1 2h0m-4 2h0m-2-6h0m-7-2h0m-11 8h0m-3 0h0m-1-6h0m0 4h0m-4-6h0m0 1h0m-1 1h0m-3 5h0m-3-6h0m-5 0h0m-3-1h0m-1 2h0m-1-1h0m-3 10h0m18 1h0m4-2h0m10 0h0m4 1h0m14 7h0m1-9h0m-1 10h0" stroke="#ae9dcb" stroke-width="5.20" stroke-linecap="round" fill="none"/>
<path transform="scale(.5)" d="M1206 4110h0m12-1h0m1 4h0m-3-1h0m-7 3h0m-1 3h0m-5-5h0m0-1h0m-5 6h0m-1-6h0m-1 1h0m-10 0h0m-1 1h0m-1-2h0m-79 11h0m10 0h0m5 2h0m5 4h0m70-7h0m1 4h0m18-4h0m2 4h0m3-3h0m2 15h0m-2 2h0m-3-7h0m-1 7h0m-4-2h0m-5 1h0m-8-8h0m0 2h0m-4-2h0m-6-1h0m-3 7h0m-8-2h0m0-1h0m-7 4h0m-16-3h0m-1 2h0m-3 2h0m-19-7h0m-4 5h0m-1-2h0m-15-4h0m0 0h0m-1 6h0m1 4h0m6 6h0m3-3h0m0 1h0m4 3h0m1-4h0m4-1h0m4 5h0m2-5h0m9 1h0m0 5h0m15 0h0m0-8h0m18 5h0m3-4h0m7 3h0m13 4h0m0-7h0m3 8h0m9-7h0m0 1h0m4 1h0m2 2h0m0 0h0m16 10h0m-6-6h0m-3 3h0m0 3h0m-5-1h0m-1-6h0m-4 9h0m-5-4h0m-9-1h0m0-1h0m-8-1h0m-2 6h0m-3-2h0m-1 3h0m-10-5h0m0 5h0m-5-2h0m-25 0h0m-5-5h0m0 1h0m-5 3h0m-5-5h0m-3 5h0m-3-2h0m-1 0h0m-1 4h0m7 10h0m1-4h0m2-4h0m3 5h0m1-1h0m3 5h0m7 0h0m6-5h0m31 1h0m3 1h0m1-6h0m8 2h0m1 4h0m5 4h0m0-8h0m4-1h0m2 5h0m2 0h0m6 0h0m7 0h0m0-4h0m4 2h0m9 13h0m-5-3h0m-2 2h0m-1 3h0m-1-7h0m-8 4h0m-2 0h0m-1-4h0m-1-1h0m-1 5h0m-3 0h0m-10 0h0m-2 1h0m-6-6h0m-4 7h0m-33-2h0m-3 4h0m0-5h0m-5-5h0m-8 2h0m0 1h0m-1 1h0m1 8h0m1 2h0m1-4h0m3 6h0m2-4h0m2 5h0m2 1h0m0-8h0m3 3h0m0 2h0m1-5h0m8 9h0m23-6h0m28 6h0m1-4h0m1 3h0m1 1h0m0-3h0m10 0h0m2 2h0m-3 11h0m-3-1h0m-2-8h0m-1 2h0m-7 3h0m-1 5h0m0-9h0m-1 0h0m-2 5h0m-1 0h0m-8-5h0m-14 2h0m-27 2h0m-1 2h0m0-6h0m4 10h0m24-1h0m7 6h0m0 3h0m4-5h0m9-4h0m1 4h0m2 4h0m6-4h0m10 5h0m1-8h0m-4 13h0m-2 4h0m-1-3h0m-2 3h0m-4-4h0m-1 2h0m-4 3h0m-1-7h0m-7 1h0m-13 0h0m-6 0h0m-3-2h0m-3 9h0m13 8h0m5-5h0m10 1h0m4-3h0m0 9h0m6-2h0m10-1h0m2-5h0m0 8h0m-6 3h0m-13 3h0m-4 1h0m-1-2h0m-197 53h0m0-2h0" stroke="#9f8bc1" stroke-width="5.20" stroke-linecap="round" fill="none"/>
<path transform="scale(.5)" d="M1185 4110h0m7-5h0m4-1h0m12 5h0m6-3h0m5 9h0m-4 4h0m-5 0h0m-1-5h0m0 0h0m-9 2h0m-7-1h0m-1 3h0m-2-5h0m-1 5h0m-84 8h0m3-2h0m3 4h0m1-6h0m5 2h0m2 1h0m4 2h0m7 3h0m57-8h0m0 8h0m2-2h0m3 1h0m6-9h0m8 8h0m1 1h0m1-9h0m8 1h0m-9 13h0m-5 0h0m0 6h0m-1-6h0m-5 0h0m-5 6h0m-6-1h0m-1-7h0m-45 5h0m-1-1h0m-4 0h0m-2-4h0m-8 3h0m-2-1h0m-3 5h0m-2 0h0m-2-4h0m0 2h0m-1-3h0m-4 0h0m-2 5h0m4 3h0m1-1h0m6 4h0m2-1h0m5 1h0m0-3h0m1 6h0m2-4h0m0 4h0m5-1h0m11 1h0m45 1h0m2-7h0m3 6h0m1-6h0m0 3h0m1 3h0m1 1h0m0 0h0m2-8h0m8-1h0m2 5h0m2-3h0m7 4h0m8 2h0m1 10h0m0-1h0m-10 2h0m0 1h0m-3-5h0m-5 0h0m-5-1h0m-9-3h0m-3 5h0m-9 2h0m-2 0h0m-28 1h0m-5-5h0m-5-3h0m-6 2h0m-11 6h0m-2-5h0m-1 3h0m5 12h0m2 1h0m1-7h0m1 1h0m21 4h0m4 1h0m28-2h0m2-2h0m6-2h0m1-1h0m3 6h0m4 0h0m1-2h0m2-4h0m7 1h0m2-1h0m0 4h0m2-3h0m0 1h0m1-1h0m5-1h0m5 3h0m0 4h0m0-6h0m1 2h0m1 2h0m1-3h0m1 5h0m1 2h0m-8 9h0m-9-7h0m-1 6h0m-12-7h0m-5 5h0m-7-1h0m-30-2h0m-3 3h0m-10-5h0m-1-1h0m-2 11h0m2 3h0m3-5h0m2 10h0m1-8h0m6 0h0m5 5h0m1 2h0m28 0h0m11-4h0m4 3h0m3 0h0m4-1h0m1-5h0m8 3h0m1-4h0m3 5h0m1-5h0m3 17h0m-1 1h0m-3-1h0m-3-2h0m-5 0h0m-2 3h0m-4-6h0m-1 1h0m-6-1h0m-1 1h0m-2-1h0m-7 6h0m-10-1h0m-32-1h0m-2-7h0m-3 1h0m47 9h0m11 3h0m9 3h0m1 0h0m4-6h0m11 4h0m0-1h0m-5 14h0m-5-3h0m0-3h0m-6 5h0m-4 2h0m-2-2h0m-3-2h0m-2 3h0m-1 1h0m-2-6h0m0 2h0m-1 2h0m-7-4h0m-4 1h0m-3 3h0m-1 6h0m17 5h0m11-6h0m2 4h0m0 2h0m4 2h0m2-1h0m-1 3h0m-2 3h0m-5 0h0m-8 1h0" stroke="#8c76b6" stroke-width="5.20" stroke-linecap="round" fill="none"/>
<path transform="scale(.5)" d="M1181 4060h0m-16 8h0m5-7h0m0 8h0m4-7h0m1 2h0m2 4h0m5-1h0m3 3h0m2-1h0m1-2h0m1 1h0m3 11h0m-1-1h0m-2-1h0m-1-5h0m-1 7h0m-6 1h0m-4-4h0m-1 0h0m-1-1h0m-3-4h0m-1 1h0m-1 1h0m-1 3h0m-5-5h0m-1 3h0m0-1h0m-2-2h0m-1 1h0m-1 11h0m1-2h0m0 1h0m1 1h0m11 4h0m0 1h0m0-4h0m0 0h0m2-3h0m9 6h0m2-6h0m0 0h0m1 8h0m0 0h0m1-2h0m11 13h0m-1-4h0m-2 2h0m0-7h0m-3 7h0m-4-1h0m-4-4h0m-1 6h0m-4-5h0m-2-1h0m-1 3h0m-3-3h0m-5 5h0m16 2h0m10 1h0m2 0h0m5 6h0m7-1h0m1 0h0m1 0h0m3 3h0m2-1h0m4 10h0m0 0h0m-18 0h0m-7-7h0m-2 7h0m-2-2h0m-2-1h0m0 2h0m-83 12h0m8-2h0m76-1h0m8 4h0m1-5h0m2 5h0m1-7h0m3 4h0m0-3h0m1-4h0m1 1h0m2 7h0m4-3h0m7 8h0m-11-1h0m-16 3h0m-3-5h0m-2 4h0m-51 2h0m-8-5h0m-4 2h0m-3 2h0m-1-2h0m-12 0h0m5 16h0m1-7h0m5 2h0m3 0h0m3 0h0m2-2h0m0 5h0m0-3h0m1-3h0m1 2h0m0 6h0m0-5h0m6-1h0m13 3h0m36 1h0m2-7h0m2 2h0m4 4h0m2 4h0m17 0h0m6-10h0m5 7h0m2 3h0m3-1h0m4 4h0m-1 7h0m-3-1h0m-2-4h0m-11-1h0m-7-2h0m-3 1h0m-12 1h0m-1 3h0m-39 0h0m-3-3h0m0 4h0m-2-5h0m-8-2h0m0 5h0m-6 1h0m-1-3h0m-8 3h0m-4-2h0m-2 2h0m5 4h0m3 3h0m5 4h0m0-4h0m1 1h0m6-4h0m0 2h0m3 2h0m1-4h0m13 0h0m29 6h0m0 2h0m5-3h0m10 4h0m7-10h0m5 5h0m5-3h0m3-1h0m0 4h0m4 3h0m3-1h0m2-5h0m4 7h0m3-6h0m1 0h0m-6 13h0m-2-2h0m-5 2h0m-2 3h0m-5-7h0m-3 0h0m-15 3h0m-1 4h0m-1-8h0m-3 6h0m-9-5h0m-29 7h0m-10-5h0m-3-4h0m-2 2h0m11 15h0m12-2h0m54-3h0m1 2h0m10 0h0m2-2h0m2-1h0m2 7h0m-5 4h0m-6 7h0m-4-5h0m-4-4h0m-3 4h0m-7-2h0m-4 4h0m-8-1h0m0 4h0m-4-5h0m0-2h0m-35 0h0m-5-1h0m12 12h0m2-1h0m22-1h0m6 1h0m0-1h0m10 4h0m2 0h0m21 5h0m-4 5h0m-5-1h0m-6 4h0m0-7h0m-15 11h0m20 1h0m0-1h0m12 2h0m1-4h0m-8 13h0m-3-2h0m-1 6h0m-6 2h0m-6-9h0m-9 1h0m-3 2h0" stroke="#7867b0" stroke-width="5.20" stroke-linecap="round" fill="none"/>
<path transform="scale(.5)" d="M1182 4058h0m-1 0h0m-3 0h0m-12 8h0m3-2h0m4 2h0m0-4h0m1 1h0m1 4h0m1-1h0m10-3h0m-5 10h0m-1 3h0m-6-4h0m-4 0h0m-6 5h0m-1 0h0m-5 2h0m-1 3h0m6 3h0m1-1h0m10 4h0m3-5h0m2-1h0m0-2h0m0 5h0m9-4h0m2 3h0m0-1h0m4 5h0m-1 12h0m-2-4h0m0 0h0m0 3h0m-2-7h0m-1-2h0m-3 5h0m0 0h0m-2 0h0m-8 1h0m-2 2h0m-6-5h0m-3 1h0m-1-2h0m-2-1h0m12 11h0m12 6h0m1-1h0m2 0h0m1-5h0m4 0h0m3 6h0m6-3h0m5 4h0m1-1h0m3-3h0m10 14h0m-5-4h0m-6 1h0m-1 2h0m-7-3h0m-4 5h0m0-1h0m-9-9h0m-83 17h0m3-4h0m9 6h0m0-4h0m2-1h0m2 3h0m1 2h0m6 0h0m55-4h0m0 1h0m1-5h0m2 6h0m0-3h0m0-3h0m2 7h0m4-7h0m0 7h0m1-4h0m1 4h0m5-3h0m3 1h0m6 2h0m5 1h0m5 11h0m-1-6h0m-2 2h0m-1 3h0m-6-1h0m-2-5h0m-5-3h0m-5 9h0m-2-8h0m-7 6h0m-3-6h0m0 9h0m-59-1h0m-5-6h0m0-2h0m-8-1h0m-2 9h0m0-3h0m0-5h0m0 4h0m6 5h0m4 9h0m3-6h0m7 3h0m9 0h0m5 4h0m40-1h0m2 0h0m3-5h0m5-3h0m3 6h0m4 2h0m7-7h0m4 5h0m7-6h0m3 7h0m2 0h0m6 8h0m-4 0h0m-2-3h0m-1-3h0m-4 8h0m-3-3h0m-2-1h0m-13 3h0m-4 0h0m0-3h0m-3 3h0m-2 0h0m-1-2h0m0 5h0m-3-9h0m-2 0h0m-36 9h0m-3-9h0m-1 3h0m-1 4h0m-5 0h0m-2-4h0m-4 0h0m-9 5h0m2 10h0m4-9h0m7 0h0m4 2h0m3 1h0m11 5h0m34-3h0m10-2h0m2 4h0m1-2h0m10 0h0m0-1h0m2 1h0m5 0h0m2 1h0m1-2h0m0-1h0m4 5h0m5-1h0m4-3h0m-7 13h0m-5 0h0m-5 3h0m-2-10h0m-1 10h0m-4-7h0m-2 0h0m-5-1h0m-15 6h0m0-2h0m-34-2h0m-1-1h0m0-2h0m-3 7h0m-3-4h0m0 6h0m-1-4h0m-8 2h0m-6-8h0m-5 0h0m15 11h0m7 1h0m1-2h0m2 3h0m3-3h0m39 0h0m8 9h0m0-8h0m4-1h0m13 1h0m11 7h0m-1 3h0m-2 7h0m-9-7h0m-9 2h0m-6 1h0m-17 2h0m13 6h0m10 5h0m1-1h0m2-1h0m2 3h0m12-5h0m0 5h0m0 12h0m0-4h0m0-6h0m-1 2h0m-1 6h0m-1 1h0m-5-4h0m-3 1h0m-1 1h0m-2-1h0m-3-4h0m-23 11h0m8-1h0m6 2h0m3 4h0m5-7h0m11 8h0m0 1h0m1-1h0m-1 2h0m-4 0h0m-5 9h0" stroke="#655aab" stroke-width="5.20" stroke-linecap="round" fill="none"/>
<path transform="scale(.5)" d="M1183 4059h0m-15 8h0m2-5h0m0 1h0m3 6h0m0-1h0m4-1h0m0 1h0m2 1h0m0-8h0m2 0h0m0 7h0m2 1h0m2-5h0m1 0h0m2 1h0m1 1h0m1 2h0m2-1h0m1 1h0m-20 2h0m-2 3h0m-15 12h0m5-1h0m4-2h0m0 5h0m2 1h0m3 1h0m1 1h0m1-9h0m4 9h0m8-7h0m7 1h0m11 13h0m-4 0h0m-2-2h0m-2-1h0m-1 2h0m-1 0h0m-6 3h0m-5-6h0m0 2h0m-2-1h0m-1 3h0m-1-1h0m-1-5h0m-7 6h0m-3 1h0m0-6h0m19 9h0m1 0h0m8 3h0m6-1h0m10 6h0m-6 5h0m-10 0h0m0 2h0m-1-4h0m-87 10h0m0 8h0m3-8h0m9 7h0m9 0h0m59-2h0m0-6h0m7 4h0m2 0h0m9-5h0m0 10h0m18-8h0m-6 11h0m-7 7h0m-7-3h0m-64-4h0m-1-1h0m-1 1h0m-6 1h0m-5-3h0m-5 5h0m0 1h0m-2 2h0m-2-4h0m-9-4h0m-1 5h0m7 7h0m10-2h0m2 6h0m11-3h0m8 4h0m2 0h0m40-1h0m2-4h0m3-1h0m5 3h0m2-4h0m3 2h0m2-2h0m6 6h0m0 2h0m3-2h0m1-5h0m5 0h0m16 17h0m-3-6h0m-3-3h0m-4 8h0m-9-2h0m-10-4h0m-9 4h0m0-2h0m-10 0h0m-35 1h0m-4 2h0m-11 0h0m0 2h0m-8 0h0m-4-1h0m-4-6h0m-3 1h0m13 12h0m8-2h0m5-2h0m3 0h0m3 8h0m4-4h0m35-1h0m5 6h0m0-7h0m5-3h0m4 4h0m4 2h0m6-4h0m11-1h0m1 6h0m3 0h0m1-3h0m3-3h0m1 6h0m0 2h0m7-1h0m0 1h0m-3 7h0m0 0h0m-1 2h0m-2 1h0m-1-2h0m-7 0h0m-1-3h0m0-3h0m-13 3h0m-2 2h0m-2-4h0m-5 0h0m-2-1h0m-7 3h0m-1-3h0m-1 4h0m-1 0h0m-2-4h0m-2 0h0m-25 8h0m-1-6h0m-2 6h0m-18 0h0m0-6h0m-6 0h0m0-3h0m12 12h0m5 8h0m9-2h0m0-4h0m0 0h0m0-3h0m3 1h0m50 3h0m15-4h0m3 9h0m1 0h0m0-8h0m0 0h0m2 13h0m-12 4h0m-9-6h0m-49-3h0m-5 1h0m-7 3h0m10 10h0m50 4h0m17 2h0m3 1h0m-5 1h0m-1 7h0m-3-5h0m-6-3h0m-5 1h0m1 12h0m0 6h0m1-8h0m2 5h0m2-6h0m3 14h0" stroke="#5450a6" stroke-width="5.20" stroke-linecap="round" fill="none"/>
<path transform="scale(.5)" d="M1187 4056h0m-2 0h0m-15 1h0m4 13h0m5-3h0m1 1h0m1 2h0m2-5h0m4-3h0m1 7h0m2 0h0m4 6h0m-6-4h0m-2 8h0m-1-7h0m-1 5h0m-1-2h0m-1 0h0m-9-1h0m-10 2h0m0-4h0m-3 1h0m-1 0h0m-2 6h0m0 3h0m4-1h0m5 7h0m8 1h0m2-1h0m1-6h0m9-1h0m0 8h0m3-6h0m0-1h0m3 7h0m0-8h0m2 2h0m4 14h0m-6-2h0m-4-3h0m-5 7h0m-1-3h0m-1 0h0m-1-5h0m-5 1h0m-1 2h0m0 4h0m-3-8h0m-3 1h0m-3 2h0m-2-1h0m22 17h0m1-4h0m1-3h0m1 5h0m1-7h0m0 1h0m1 7h0m3-4h0m15 5h0m4-4h0m2 1h0m8 13h0m-8-3h0m-4-5h0m-4 2h0m-6-3h0m-6 2h0m-3-1h0m-5 8h0m-69 11h0m3 0h0m9-1h0m56-8h0m26-1h0m5 10h0m-4 7h0m-18-3h0m-4 2h0m-54 1h0m-4-4h0m-2 2h0m-16 5h0m-9-7h0m6 9h0m1 6h0m0-2h0m10-1h0m1-4h0m10-1h0m8 8h0m45 1h0m2-2h0m3-4h0m2 6h0m20-7h0m14 13h0m-22 1h0m-6 0h0m-70-5h0m-8 10h0m8 3h0m5-2h0m9 5h0m8 0h0m0-6h0m45 9h0m3-7h0m3-2h0m1 1h0m9 5h0m1-2h0m4-2h0m2 3h0m7-2h0m2 0h0m5-3h0m1 8h0m3-1h0m-2 6h0m-5 4h0m-16-6h0m-4 3h0m-8-3h0m-15 4h0m-43 1h0m-1 3h0m69 6h0m0 1h0m6-3h0m3 4h0m11-2h0m3-5h0m-3 10h0m-1 9h0m-18-8h0m6 16h0m10 12h0m-1-2h0m-7-6h0m-1 17h0m4-2h0m-7 11h0m-2-4h0" stroke="#3d489f" stroke-width="5.20" stroke-linecap="round" fill="none"/>
<path transform="scale(.5)" d="M1182 4059h0m-14-1h0m-3 9h0m20-3h0m2 4h0m6-2h0m1 7h0m-1 2h0m-4 2h0m-19 2h0m-2-5h0m0-3h0m-6 3h0m-1 0h0m-2 3h0m-3 5h0m20 4h0m0 1h0m1-2h0m3 0h0m1 0h0m1 4h0m1-4h0m7 2h0m1-7h0m0 1h0m2 17h0m-2-3h0m-4-4h0m-2 5h0m-1 0h0m-8-4h0m-2 6h0m-1 2h0m-3-7h0m-2 0h0m13 11h0m10 3h0m5-4h0" stroke="#2a4a9e" stroke-width="5.20" stroke-linecap="round" fill="none"/>
<line x1="459.3" y1="2159.2" x2="459.3" y2="2017.3" stroke="#000" stroke-width="3"/>
<line x1="457.8" y1="2157.8" x2="634.3" y2="2157.8" stroke="#000" stroke-width="3"/>
<line x1="453.3" y1="2031.6" x2="459.3" y2="2031.6" stroke="#000" stroke-width="2.6"/>
<text x="445.0" y="2040.2" font-family="'Liberation Sans', Arial, sans-serif" font-size="25" text-anchor="end" fill="#1A1A1A">10</text>
<line x1="453.3" y1="2057.6" x2="459.3" y2="2057.6" stroke="#000" stroke-width="2.6"/>
<text x="445.0" y="2066.2" font-family="'Liberation Sans', Arial, sans-serif" font-size="25" text-anchor="end" fill="#1A1A1A">5</text>
<line x1="453.3" y1="2083.6" x2="459.3" y2="2083.6" stroke="#000" stroke-width="2.6"/>
<text x="445.0" y="2092.2" font-family="'Liberation Sans', Arial, sans-serif" font-size="25" text-anchor="end" fill="#1A1A1A">0</text>
<line x1="453.3" y1="2109.6" x2="459.3" y2="2109.6" stroke="#000" stroke-width="2.6"/>
<text x="445.0" y="2118.2" font-family="'Liberation Sans', Arial, sans-serif" font-size="25" text-anchor="end" fill="#1A1A1A">-5</text>
<line x1="453.3" y1="2135.6" x2="459.3" y2="2135.6" stroke="#000" stroke-width="2.6"/>
<text x="445.0" y="2144.2" font-family="'Liberation Sans', Arial, sans-serif" font-size="25" text-anchor="end" fill="#1A1A1A">-10</text>
<line x1="459.3" y1="2157.8" x2="459.3" y2="2164.3" stroke="#000" stroke-width="2.6"/>
<text x="459.3" y="2189.3" font-family="'Liberation Sans', Arial, sans-serif" font-size="25" text-anchor="middle" fill="#1A1A1A">-15</text>
<line x1="495.2" y1="2157.8" x2="495.2" y2="2164.3" stroke="#000" stroke-width="2.6"/>
<text x="495.2" y="2189.3" font-family="'Liberation Sans', Arial, sans-serif" font-size="25" text-anchor="middle" fill="#1A1A1A">-10</text>
<line x1="531.2" y1="2157.8" x2="531.2" y2="2164.3" stroke="#000" stroke-width="2.6"/>
<text x="531.2" y="2189.3" font-family="'Liberation Sans', Arial, sans-serif" font-size="25" text-anchor="middle" fill="#1A1A1A">-5</text>
<line x1="567.1" y1="2157.8" x2="567.1" y2="2164.3" stroke="#000" stroke-width="2.6"/>
<text x="567.1" y="2189.3" font-family="'Liberation Sans', Arial, sans-serif" font-size="25" text-anchor="middle" fill="#1A1A1A">0</text>
<line x1="603.1" y1="2157.8" x2="603.1" y2="2164.3" stroke="#000" stroke-width="2.6"/>
<text x="603.1" y="2189.3" font-family="'Liberation Sans', Arial, sans-serif" font-size="25" text-anchor="middle" fill="#1A1A1A">5</text>
<text x="544.9" y="2222.3" font-family="'Liberation Sans', Arial, sans-serif" font-size="28" text-anchor="middle" fill="#1A1A1A" textLength="95.9" lengthAdjust="spacingAndGlyphs">umap_1</text>
<text x="397.5" y="2088.3" font-family="'Liberation Sans', Arial, sans-serif" font-size="28" text-anchor="middle" fill="#1A1A1A" textLength="99.0" lengthAdjust="spacingAndGlyphs" transform="rotate(-90 397.5 2088.3)">umap_2</text>
<rect x="658.9" y="2010.7" width="31.4" height="154.6" fill="url(#gradH)"/>
<line x1="658.9" y1="2026.1" x2="664.9" y2="2026.1" stroke="#FFFFFF" stroke-width="1.2" stroke-opacity="0.7"/>
<line x1="684.3" y1="2026.1" x2="690.3" y2="2026.1" stroke="#FFFFFF" stroke-width="1.2" stroke-opacity="0.7"/>
<text x="703.8" y="2034.7" font-family="'Liberation Sans', Arial, sans-serif" font-size="25" fill="#1A1A1A">5</text>
<line x1="658.9" y1="2059.3" x2="664.9" y2="2059.3" stroke="#FFFFFF" stroke-width="1.2" stroke-opacity="0.7"/>
<line x1="684.3" y1="2059.3" x2="690.3" y2="2059.3" stroke="#FFFFFF" stroke-width="1.2" stroke-opacity="0.7"/>
<text x="703.8" y="2067.9" font-family="'Liberation Sans', Arial, sans-serif" font-size="25" fill="#1A1A1A">4</text>
<line x1="658.9" y1="2092.4" x2="664.9" y2="2092.4" stroke="#FFFFFF" stroke-width="1.2" stroke-opacity="0.7"/>
<line x1="684.3" y1="2092.4" x2="690.3" y2="2092.4" stroke="#FFFFFF" stroke-width="1.2" stroke-opacity="0.7"/>
<text x="703.8" y="2101.0" font-family="'Liberation Sans', Arial, sans-serif" font-size="25" fill="#1A1A1A">3</text>
<line x1="658.9" y1="2126.4" x2="664.9" y2="2126.4" stroke="#FFFFFF" stroke-width="1.2" stroke-opacity="0.7"/>
<line x1="684.3" y1="2126.4" x2="690.3" y2="2126.4" stroke="#FFFFFF" stroke-width="1.2" stroke-opacity="0.7"/>
<text x="703.8" y="2135.0" font-family="'Liberation Sans', Arial, sans-serif" font-size="25" fill="#1A1A1A">2</text>
<line x1="658.9" y1="2158.6" x2="664.9" y2="2158.6" stroke="#FFFFFF" stroke-width="1.2" stroke-opacity="0.7"/>
<line x1="684.3" y1="2158.6" x2="690.3" y2="2158.6" stroke="#FFFFFF" stroke-width="1.2" stroke-opacity="0.7"/>
<text x="703.8" y="2167.2" font-family="'Liberation Sans', Arial, sans-serif" font-size="25" fill="#1A1A1A">1</text>
<text x="895.0" y="1997.4" font-family="'Liberation Sans', Arial, sans-serif" font-size="30" font-weight="bold" text-anchor="middle" textLength="104.7" lengthAdjust="spacingAndGlyphs">MFAP5</text>
<path d="M933.6 2029.0 L942.1 2028.4 L944.5 2031.4 L947.3 2038.6 L947.3 2044.7 L950.6 2050.1 L945.7 2054.3 L940.9 2055.5 L937.8 2051.9 L933.6 2051.9 L929.9 2047.1 L926.9 2043.5 L927.5 2039.3 L931.1 2033.2 Z" fill="#625aaa" stroke="#625aaa" stroke-width="1.5" stroke-linejoin="round"/>
<path d="M940.9 2055.5 L948.2 2051.9 L954.3 2052.5 L959.1 2055.5 L960.4 2061.5 L957.9 2066.3 L960.4 2072.4 L966.5 2079.6 L968.9 2085.6 L967.7 2091.6 L965.2 2100.6 L964.6 2109.7 L962.2 2115.7 L957.3 2120.5 L948.2 2121.7 L943.9 2119.3 L942.1 2112.7 L940.9 2103.7 L942.7 2094.6 L940.9 2085.6 L939.6 2079.6 L940.9 2073.6 L940.9 2067.5 Z" fill="#b3afc8" stroke="#b3afc8" stroke-width="1.5" stroke-linejoin="round"/>
<path d="M901.9 2061.5 L907.4 2060.9 L912.8 2065.1 L917.7 2066.3 L918.9 2071.2 L923.8 2073.6 L926.2 2079.6 L929.3 2085.6 L931.1 2092.8 L931.7 2100.6 L929.9 2103.7 L926.2 2100.6 L921.4 2094.6 L916.5 2088.6 L910.4 2082.6 L905.5 2076.6 L902.5 2070.6 L901.3 2064.5 Z" fill="#867fb8" stroke="#867fb8" stroke-width="1.5" stroke-linejoin="round"/>
<path d="M923.2 2066.3 L934.8 2066.3 L940.3 2067.5 L940.9 2073.6 L939.0 2079.6 L937.2 2082.6 L934.8 2081.4 L929.9 2077.2 L926.2 2074.8 L923.2 2071.2 Z" fill="#beb5cc" stroke="#beb5cc" stroke-width="1.5" stroke-linejoin="round"/>
<path d="M926.2 2107.3 L929.9 2103.7 L939.0 2103.7 L942.1 2107.3 L942.1 2112.7 L939.0 2112.7 L932.3 2112.1 L927.5 2113.3 L925.6 2110.9 Z" fill="#bdb5cc" stroke="#bdb5cc" stroke-width="1.5" stroke-linejoin="round"/>
<path d="M860.6 2046.1 L858.2 2044.5 L852.7 2046.9 L848.0 2050.0 L844.9 2053.9 L841.7 2055.4 L835.4 2054.6 L829.1 2057.0 L825.9 2060.9 L827.5 2064.8 L831.5 2067.9 L833.8 2072.5 L833.0 2077.2 L834.6 2083.4 L837.0 2085.8 L839.3 2083.4 L839.7 2077.2 L840.1 2072.5 L839.3 2067.9 L840.9 2063.2 L844.9 2060.1 L851.2 2057.0 L856.7 2051.5 L860.6 2048.4 Z" fill="#d3d3d3" stroke="#d3d3d3" stroke-width="1.5" stroke-linejoin="round"/>
<path d="M837.8 2090.1 L841.7 2092.8 L845.6 2099.0 L849.6 2102.1 L848.8 2106.8 L843.3 2110.7 L835.4 2113.0 L829.1 2114.6 L823.6 2113.0 L820.4 2108.4 L821.2 2103.7 L827.5 2099.0 L833.8 2094.4 L836.2 2091.2 Z" fill="#c2bdcc" stroke="#c2bdcc" stroke-width="1.5" stroke-linejoin="round"/>
<path d="M853.5 2145.7 L852.8 2148.0 L850.8 2149.6 L848.0 2150.2 L845.3 2149.6 L843.3 2148.0 L842.6 2145.7 L843.3 2143.5 L845.3 2141.8 L848.0 2141.2 L850.8 2141.8 L852.8 2143.5 Z" fill="#d0ced2" stroke="#d0ced2" stroke-width="1.5" stroke-linejoin="round"/>
<path transform="scale(.5)" d="M1715 4090h0m2 0h0m3 6h0m-1 2h0m-3 0h0m-1-3h0m0-1h0m0 4h0m0-4h0m-1-1h0m-1 0h0m0 2h0m-1 2h0m-1-5h0m-2 4h0m-1 1h0m0 2h0m-1-1h0m0-3h0m-1-1h0m0 1h0m-1 4h0m-2-1h0m0 0h0m-2-1h0m-2 3h0m-3 0h0m-6 10h0m5-8h0m0 7h0m0-3h0m2 2h0m0 0h0m0-6h0m2 7h0m0-3h0m1-3h0m0 3h0m0 0h0m1-5h0m1 3h0m1 0h0m1 0h0m0-2h0m0 3h0m0-1h0m2 3h0m0-5h0m1 3h0m1-4h0m0 4h0m1-2h0m0 3h0m2-4h0m0 1h0m2-1h0m1 0h0m0 0h0m0-1h0m0 1h0m1-1h0m-10 9h0m-3 2h0m0-1h0m-2 0h0m0 2h0m0-2h0m-1 2h0m0 1h0m-3 1h0m-1-4h0m-1 2h0m0-1h0m-1 1h0m-1-1h0m-1 3h0m0-4h0m0 2h0m-2-3h0m-1 7h0m-1-5h0m-1 0h0m0-2h0m-1 5h0m-1-1h0m0 2h0m0 3h0m-1-6h0m0 2h0m0 3h0m-2 0h0m-1 0h0m-1-4h0m0 5h0m-2-4h0m0 4h0m0-5h0m-1-1h0m-1 2h0m0 1h0m-1 3h0m0-7h0m-1 3h0m-2-3h0m0 4h0m-2 2h0m0-3h0m0 1h0m0-3h0m-1-2h0m-1 5h0m0 2h0m-1-1h0m0-5h0m0 7h0m-1 0h0m-1-4h0m0-1h0m-1 5h0m0 1h0m-1-3h0m-1-4h0m-5 7h0m-2-1h0m-2 3h0m3 6h0m0-2h0m1-5h0m1 8h0m1-6h0m0 6h0m1 1h0m1-6h0m2 4h0m1 1h0m1-1h0m0-2h0m0-2h0m2 0h0m0 6h0m1-4h0m1-3h0m3-2h0m1 1h0m1 6h0m2-6h0m0 3h0m2-1h0m1 3h0m0-1h0m1-2h0m0 3h0m0-4h0m0 6h0m1 0h0m0 0h0m0 0h0m1-8h0m1 2h0m2 1h0m0-1h0m2-3h0m194 19h0m-2-4h0m-1 1h0m-1 3h0m-1-3h0m-1 2h0m-3 0h0m-5-2h0m-6 1h0m-1-2h0m-7 4h0m0-4h0m-2-1h0m-2 1h0m-14 0h0m-5-3h0m-9 3h0m-7 4h0m-3-6h0m-1 4h0m-2-3h0m-128 0h0m-2 2h0m-1 2h0m-1-8h0m0 4h0m-1 6h0m-1-6h0m0 1h0m0 2h0m-1-1h0m0 1h0m-2 2h0m-2-8h0m0 5h0m-1-1h0m-1 2h0m-1 2h0m-1-3h0m-2-5h0m-1-1h0m6 12h0m0 1h0m1-1h0m1-2h0m0 1h0m2 1h0m1 2h0m3 1h0m0 4h0m0-2h0m2 1h0m1 0h0m1-1h0m132-3h0m0 4h0m1-3h0m1 4h0m2-9h0m1 9h0m1-3h0m1-5h0m1 4h0m4 1h0m0 3h0m2-5h0m0-4h0m3 5h0m3 5h0m18-7h0m0-1h0m2 1h0m1 0h0m1-2h0m3-1h0m0 8h0m1 2h0m5-8h0m1-1h0m0 8h0m2 0h0m2-8h0m4 2h0m4 4h0m0 1h0m2-6h0m1 3h0m1-1h0m1-2h0m1 4h0m51 13h0m-1-1h0m-2-3h0m0 3h0m-3 2h0m0-7h0m0 5h0m-1-1h0m0 1h0m-2-2h0m0-1h0m0 2h0m0 2h0m-1 1h0m-4-2h0m0 2h0m-3-3h0m-2 0h0m0 0h0m-1-1h0m-4 1h0m0 0h0m-5-3h0m-3 5h0m-1-3h0m0-1h0m0 2h0m-3 2h0m0-3h0m-2-3h0m0 4h0m0-2h0m-1 3h0m-2-4h0m0 4h0m-1-2h0m0-1h0m-1 4h0m0 1h0m-2-8h0m-1 5h0m-2-1h0m0 1h0m-1-3h0m-2 2h0m0 3h0m-1 1h0m-1-4h0m-1-3h0m0-1h0m-3 4h0m-1 4h0m0-9h0m0 7h0m0-1h0m-2-2h0m-3-5h0m-3 1h0m-2 5h0m0 2h0m-1-3h0m0-1h0m-6-3h0m0 0h0m-8 6h0m-1 2h0m-3 0h0m-4-5h0m-18 4h0m-1 1h0m-7-4h0m-136-2h0m-1 4h0m0-1h0m0-4h0m-1 5h0m0-4h0m-1 6h0m-1-1h0m0-4h0m0-3h0m-1 4h0m0-5h0m-1 4h0m-1 3h0m-1-7h0m-2 3h0m-1 0h0m0 4h0m0-5h0m-1-1h0m1 11h0m1-1h0m3 7h0m1-1h0m0-6h0m0 5h0m1-4h0m2-2h0m0 6h0m1-5h0m0 5h0m1 1h0m1-1h0m0 0h0m148 0h0m9-1h0m13 3h0m2-1h0m1-1h0m16-4h0m14 7h0m0-9h0m1 7h0m1 2h0m1-8h0m1 6h0m0 1h0m0 0h0m1-6h0m0 5h0m3-5h0m1-1h0m0 4h0m1-1h0m1 0h0m2 0h0m1-2h0m0 6h0m0 2h0m1-5h0m1-5h0m1 3h0m0 2h0m1-3h0m1 7h0m0-2h0m0-3h0m0 0h0m1 3h0m1-3h0m1 4h0m0-6h0m1 1h0m2 5h0m2-1h0m0 0h0m1-3h0m0 1h0m0 4h0m1-2h0m1-3h0m0 4h0m0-1h0m0-1h0m2-1h0m0-2h0m0 4h0m0-1h0m1 2h0m0-3h0m0-1h0m1-3h0m1 7h0m0-5h0m0 3h0m2 1h0m1-3h0m0 5h0m1-6h0m0 7h0m0-3h0m0 1h0m1 0h0m0-4h0m0 1h0m2 0h0m0 4h0m0-5h0m1 3h0m0-6h0m0 5h0m1 0h0m0 0h0m0 4h0m0-4h0m1 3h0m0-7h0m1 4h0m1-3h0m1 6h0m1-6h0m0 6h0m0-8h0m1 1h0m0 3h0m2 0h0m1 4h0m0-3h0m1 4h0m1 1h0m-3 7h0m0-1h0m-1 3h0m0-4h0m-1-5h0m-2 5h0m0-5h0m0 4h0m0-4h0m0 8h0m-1-7h0m0-1h0m-1 7h0m0 0h0m-1 1h0m-1-5h0m-1-3h0m-1 3h0m-1 4h0m0 1h0m-1-3h0m0-3h0m-6 5h0m0-6h0m-1 2h0m-1-1h0m-1 2h0m-1 3h0m-1-3h0m0-2h0m-1 5h0m-2-4h0m0 3h0m-1 1h0m-2-4h0m0 4h0m-1-4h0m-1 1h0m-3-1h0m0-1h0m0 0h0m0 5h0m-2-5h0m0 6h0m0-8h0m-4 2h0m0-1h0m-2 1h0m0 0h0m-1-1h0m0 7h0m-1-6h0m-1 4h0m-1 1h0m0-1h0m-1-2h0m-3-2h0m-1 1h0m-23 4h0m-1-3h0m-4 2h0m0-2h0m-3 2h0m-3-1h0m-2 2h0m-5 1h0m-3-4h0m-1 0h0m-5 0h0m-4-3h0m-156-2h0m-1 20h0m3-7h0m2 6h0m0-7h0m3 2h0m1 6h0m2-5h0m1 2h0m0 2h0m1 1h0m154-9h0m1 2h0m0 3h0m2-2h0m1-1h0m2 4h0m1-3h0m4 5h0m1-5h0m2-3h0m0 4h0m0 2h0m3-6h0m1 1h0m2 1h0m2 6h0m0-5h0m1 2h0m23-1h0m0-3h0m1 2h0m0 4h0m1 0h0m0-8h0m2 7h0m1-1h0m1 4h0m1-2h0m1-6h0m0 4h0m2-4h0m0-1h0m1 0h0m1 6h0m2 1h0m0-7h0m2 6h0m0 1h0m1-6h0m1 6h0m0-6h0m0 1h0m1 6h0m1-9h0m0 2h0m2 0h0m1 3h0m0 4h0m2-1h0m0-5h0m0 6h0m1-2h0m1-1h0m0 3h0m0-8h0m1 3h0m1 3h0m1-3h0m0-2h0m0 7h0m1-3h0m0-1h0m0 3h0m2-7h0m1 0h0m1 2h0m1 3h0m1-5h0m3 2h0m1 3h0m0-3h0m1-2h0m3 3h0m0 0h0m0-1h0m0 3h0m1-5h0m0 6h0m1 3h0m1-8h0m0 0h0m-1 15h0m-2-4h0m0-1h0m0 0h0m-1-1h0m0 8h0m-1-9h0m-1 4h0m-2 6h0m-3 0h0m0-4h0m-1 2h0m-1-6h0m-1-2h0m0 4h0m-1-1h0m-1 5h0m0-2h0m-1-5h0m-3 1h0m-2 2h0m0 1h0m0-3h0m-1 2h0m0 0h0m0 2h0m0 0h0m-2 2h0m0-7h0m-1 4h0m0-1h0m0 4h0m-2 0h0m0-8h0m-1 6h0m0-3h0m0 2h0m-1-1h0m0 5h0m0-4h0m0-4h0m-1 4h0m-1 1h0m0-3h0m0 2h0m-1-5h0m-1 8h0m0-5h0m-1-2h0m-1 7h0m0-5h0m0-2h0m-1 9h0m-2-3h0m-3 0h0m-1-6h0m0 7h0m0 0h0m-2 1h0m-1 1h0m0 0h0m0-4h0m0-2h0m-1-3h0m-1 0h0m0 3h0m-22-2h0m-1-1h0m0 0h0m-1 0h0m-3 6h0m-1-4h0m0 0h0m0 3h0m-4-2h0m-3-4h0m0 6h0m-159 1h0m-1 0h0m0 1h0m-1-1h0m-1 1h0m-1 2h0m-3-2h0m0-4h0m0 2h0m-1 2h0m-1-7h0m0 4h0m-1 0h0m0 1h0m0-1h0m-1-2h0m0 6h0m-1-2h0m0-4h0m0 2h0m-2 0h0m0 4h0m0-6h0m-1 7h0m-1-1h0m-1-7h0m0 0h0m-1 4h0m0-2h0m0 5h0m-1-4h0m-1 0h0m-1 1h0m-1-5h0m0 1h0m-1 7h0m-3 0h0m0-2h0m0 3h0m-1-3h0m-2 0h0m-1 0h0m-4 3h0m-3-1h0m-3 10h0m1-8h0m1 1h0m0 4h0m2-3h0m2-1h0m0 1h0m1 3h0m2 0h0m2-2h0m0 1h0m0-4h0m0 7h0m1 2h0m1-1h0m1-8h0m0 3h0m1-2h0m1-1h0m1 2h0m0 4h0m0-5h0m1 7h0m0 0h0m1-4h0m2-5h0m0 10h0m1-9h0m0 2h0m1 1h0m0-3h0m0 1h0m0 1h0m0 2h0m1-3h0m0 1h0m0 5h0m0-6h0m0 2h0m1 3h0m0-5h0m1 8h0m0-3h0m1 2h0m1-5h0m0-4h0m0 4h0m2-4h0m1 4h0m1 3h0m0-3h0m0-2h0m0 7h0m1-4h0m0 1h0m1 2h0m2 0h0m1-7h0m0 7h0m0-1h0m1-7h0m0 0h0m0 5h0m0 0h0m1-1h0m2 1h0m0-2h0m0 0h0m0 5h0m0-1h0m0 1h0m0 1h0m2-8h0m0 5h0m1-1h0m0 3h0m1-2h0m0 4h0m1-1h0m1-3h0m0 2h0m162-3h0m1-3h0m14 6h0m7-3h0m1-3h0m2 0h0m2 2h0m2 0h0m2 2h0m0 0h0m1 1h0m0-3h0m2-3h0m0 1h0m1 0h0m1 3h0m1-4h0m1 2h0m0 0h0m2 6h0m0-5h0m0 3h0m1-2h0m0 2h0m4-6h0m0 4h0m0-3h0m1 4h0m0 3h0m1-3h0m2-2h0m0 5h0m1 0h0m0-8h0m1 1h0m0 5h0m3 1h0m0-2h0m1-5h0m0 8h0m0-1h0m3-3h0m1-3h0m1-1h0m3 7h0m2-7h0m2 4h0m1-5h0m0 1h0m1 1h0m1 4h0m0-1h0m-1 8h0m-2-2h0m0-1h0m0 8h0m-1-6h0m0 2h0m-1 5h0m0 0h0m0-5h0m-1-3h0m-1 2h0m-2 3h0m0 0h0m-1-1h0m0-2h0m-1 1h0m0 2h0m-1 1h0m-1-5h0m-1 6h0m0 1h0m-1 0h0m0-6h0m-1-2h0m-1 7h0m0-2h0m-3 4h0m0-6h0m-2 4h0m-1-6h0m0 8h0m0-2h0m0-5h0m0-1h0m-1 2h0m-1 1h0m0 1h0m-2 3h0m-3-5h0m-1 3h0m-4 1h0m0-4h0m-1 4h0m-1-7h0m-1 0h0m0 3h0m0 0h0m0-1h0m-1 5h0m-2-1h0m-1-3h0m-1 3h0m-1-7h0m-2 9h0m0-7h0m-1 2h0m-1 2h0m0-3h0m-3 2h0m0 4h0m0-9h0m-2 3h0m-1 2h0m-1-2h0m-1 0h0m-3 7h0m-3-2h0m-3 0h0m-2-7h0m0 2h0m-2-3h0m-1 3h0m0 2h0m-1-1h0m-3 2h0m-3-1h0m-157-4h0m-2 1h0m0-2h0m-1 3h0m-1 2h0m0-3h0m0-1h0m-1 6h0m0 0h0m0-1h0m-1 1h0m0 1h0m-1 1h0m0 0h0m0-1h0m-3-2h0m0 0h0m0-2h0m-1-2h0m-1-1h0m-1 1h0m0 5h0m-1-1h0m0-4h0m0 8h0m0-10h0m-1 7h0m-1-3h0m0 0h0m-1 3h0m0-6h0m-2 4h0m-1-1h0m0-3h0m0 6h0m0-4h0m-1 3h0m0 2h0m-1-1h0m0-2h0m-1 3h0m0-6h0m-1 4h0m0 3h0m-1 0h0m0-4h0m-1 2h0m-1-6h0m-1 7h0m0-4h0m-1-2h0m0-1h0m0 0h0m0 4h0m0 5h0m-1-8h0m0-1h0m0 2h0m-1 4h0m-1 0h0m-2-4h0m-1-2h0m-1 4h0m0 0h0m0-1h0m0 2h0m-1-1h0m-7 0h0m-2-3h0m-1 4h0m-1-1h0m-1 3h0m-1 5h0m8 2h0m5 0h0m1 2h0m0-1h0m3-5h0m0-1h0m1 6h0m0-4h0m0 0h0m3 1h0m0 0h0m1 3h0m5-3h0m1-3h0m1 0h0m3 1h0m4 1h0m0 0h0m1-1h0m1 1h0m171 1h0m5-1h0m1-1h0m7 0h0m3-1h0m1 2h0m2 3h0m0-3h0m4 0h0m0-1h0m1 3h0m1-3h0m4 0h0m1 3h0m2 5h0m0-6h0m0 2h0m3-3h0m2 3h0m0 3h0m0-3h0m0-3h0m3 1h0m0 0h0m3 0h0m3 6h0m1-9h0m0 0h0m0 0h0m0 6h0m0 1h0m1-4h0m1 3h0m1-3h0m1-2h0m0 0h0m1 8h0m0-9h0m1 10h0m3-4h0m1-1h0m0-2h0m0 1h0m0 0h0m1 1h0m1 4h0m0-2h0m0 1h0m2-5h0m3-3h0m1 10h0m2-1h0m2-3h0m0-2h0m0-4h0m1 2h0m1-1h0m1 1h0m0 0h0m-3 9h0m0 1h0m-3-1h0m-1 2h0m0-2h0m-1 0h0m0 2h0m0 4h0m-1-5h0m0-1h0m0-1h0m0 5h0m-1 0h0m0 1h0m-2-3h0m0 6h0m-1-6h0m-1 3h0m0 3h0m-1-9h0m0 6h0m-1-4h0m-2 6h0m0-4h0m-2-2h0m-1 0h0m-1 6h0m0-7h0m-1 6h0m0-7h0m-3 2h0m0 7h0m-2-3h0m-3-3h0m-1 4h0m-1-7h0m-2 3h0m-2 7h0m-1-5h0m-2-3h0m0 2h0m8 8h0m10-1h0m2 0h0m4 0h0m0 0h0m0 0h0m-222 49h0m1-4h0m3-2h0m0 0h0m4 4h0m1-3h0m0 2h0m1-2h0m1 2h0m4 1h0m1 5h0m-1-3h0m-1 5h0m-1-1h0m0 3h0m-5-4h0m-3 1h0m0-4h0m-1 8h0m0 0h0m0-6h0m-1 0h0m0 4h0m0 2h0m-1-5h0m-1-1h0m0 0h0m-4 2h0" stroke="#D3D3D3" stroke-width="5.20" stroke-linecap="round" fill="none"/>
<path transform="scale(.5)" d="M1899 4109h0m7-1h0m11 7h0m-6-4h0m-5-1h0m-5 4h0m-9 0h0m-2 6h0m-2-2h0m-2-1h0m-3-6h0m0 12h0m2 3h0m0-3h0m5-3h0m1 10h0m2 0h0m11-7h0m2-1h0m3 0h0m1 4h0m4 1h0m0 8h0m-20 1h0m-2 0h0m0-3h0m-4 5h0m-3 11h0m11 0h0m4-7h0m6 0h0m4 3h0m1-1h0m3 2h0m2 2h0m2-6h0m4 8h0m-20 5h0m-4-4h0m-13 2h0m24 10h0m9 14h0m-4-4h0m-2 1h0m-21 2h0m-6 1h0m28 9h0m0 5h0m-3 2h0m-6 6h0m-20 1h0m15 7h0m26-4h0m1 17h0m-15-5h0m-1-1h0m-4 2h0m-6 0h0m1 10h0" stroke="#c7bfd5" stroke-width="5.20" stroke-linecap="round" fill="none"/>
<path transform="scale(.5)" d="M1929 4155h0m-16 1h0m-8-2h0m-2 2h0m-6 2h0m-11 8h0m3 0h0m11 0h0m22 0h0m3 2h0m0-3h0m10 14h0m-14-1h0m-12-2h0m-20 2h0m-3-5h0m-4 1h0m8 6h0m23 9h0m12-1h0m1 0h0m-39 10h0m11 4h0m15 4h0m5 11h0m-5 1h0m-2 0h0m-3-1h0m-1-6h0m-13 2h0m-9 5h0m6 6h0m1-1h0m3 1h0m1 5h0m8 9h0m-1-4h0m-3 3h0m7 4h0" stroke="#bbaed4" stroke-width="5.20" stroke-linecap="round" fill="none"/>
<path transform="scale(.5)" d="M1909 4152h0m-6 6h0m-12 1h0m17 3h0m13 3h0m5-2h0m10 12h0m-8 4h0m-28-9h0m-3 2h0m-1 5h0m0 2h0m-38-4h0m-3 4h0m0-4h0m-4 5h0m-7-4h0m-5 0h0m-6 1h0m7 3h0m1 2h0m0 0h0m3 6h0m0-4h0m3-2h0m1 6h0m0-7h0m2 1h0m1 2h0m0-2h0m1 4h0m1-2h0m0-4h0m2 2h0m2 1h0m1 2h0m0 0h0m1-4h0m33 5h0m9 2h0m4-3h0m3 4h0m22-1h0m0 2h0m-11 3h0m-7 4h0m-26-4h0m-28-3h0m-1 8h0m-5 1h0m-1-7h0m-1-1h0m-1 1h0m-1 1h0m0 0h0m12 13h0m2-2h0m28-1h0m1-2h0m17 9h0m14 0h0m-1 2h0m-4-2h0m-5 6h0m-6-2h0m-5 1h0m-2 0h0m-13 0h0m12 10h0m5-4h0m3 1h0m3 1h0m13 6h0m2-8h0m-21 17h0m-10-6h0m5 10h0" stroke="#ae9dcb" stroke-width="5.20" stroke-linecap="round" fill="none"/>
<path transform="scale(.5)" d="M1875 4136h0m-3 3h0m-3 0h0m-1 1h0m0-6h0m0 3h0m-3 2h0m-1-3h0m-5-2h0m-1 0h0m-3 5h0m-2-2h0m0 0h0m-1-3h0m-4 5h0m-1 3h0m1-1h0m3 6h0m3-2h0m0-3h0m4 1h0m1 6h0m2 0h0m1-2h0m1-1h0m3 1h0m2-6h0m9 1h0m0 1h0m1 1h0m-1 14h0m-6 1h0m1 3h0m3-1h0m2 1h0m0-1h0m0 0h0m9 1h0m27-1h0m3 1h0m10 14h0m-25-4h0m-13 8h0m-6-9h0m40 12h0m6 1h0m-26 10h0m-1 4h0m0-5h0m-246 5h0m-12 10h0m4-2h0m1-1h0m1 3h0m8-1h0m1 0h0m1-5h0m0 0h0m213 6h0m49-7h0m-20 17h0m-6 0h0m-12-2h0m-3-1h0m-1-4h0m-2 2h0m-2 6h0m0-5h0m-1 0h0m0 5h0m-6-5h0m-1 2h0m-1 1h0m-9-2h0m0 5h0m-2-5h0m-2 2h0m-194 3h0m-1-2h0m-3-6h0m-2 3h0m0 2h0m-3-5h0m-2 4h0m0 3h0m-4-4h0m0-3h0m-1 3h0m-1-1h0m0 0h0m12 11h0m4-4h0m0-1h0m196 5h0m16-5h0m2 2h0m1 2h0m4-1h0m2-2h0m1 1h0m2 2h0m2-3h0m22 2h0m3 17h0m-4-8h0m-5 9h0m-211 44h0m15 2h0" stroke="#9f8bc1" stroke-width="5.20" stroke-linecap="round" fill="none"/>
<path transform="scale(.5)" d="M1885 4058h0m-6 1h0m-16 10h0m3 0h0m5-5h0m2 5h0m6-6h0m5 2h0m3 14h0m-6-2h0m-2-5h0m-2-1h0m-2 7h0m-6-3h0m0-1h0m-2 2h0m-9-2h0m-1 1h0m8 14h0m5-6h0m4 5h0m1-1h0m0-2h0m9-4h0m1 7h0m2-5h0m2 0h0m2 17h0m0 0h0m-7-9h0m-10 3h0m-3 5h0m12 4h0m11 0h0m1 6h0m5-2h0m8 6h0m-3-2h0m-1 1h0m-10 3h0m-6-4h0m0-1h0m-5 3h0m-78 16h0m78-2h0m6 2h0m12-1h0m1-6h0m0 3h0m15-1h0m-3 8h0m-9-1h0m-4 0h0m-1 3h0m-1 4h0m-4-6h0m-2 0h0m-8 4h0m-1-3h0m-50 5h0m-2 0h0m-1-4h0m-8-1h0m-9 3h0m-5-3h0m6 9h0m2-2h0m4 3h0m2 3h0m2-3h0m1 3h0m4 2h0m4-4h0m0 1h0m4 3h0m6 2h0m38-2h0m3-3h0m2-2h0m2 3h0m1 2h0m7-5h0m7-2h0m3 8h0m1-2h0m2-3h0m2-3h0m4 3h0m1 4h0m-17 2h0m-11 1h0m-4-1h0m-40 6h0m-5-6h0m-9 8h0m-1-5h0m-10-2h0m-1 6h0m-1-4h0m-1 5h0m3 4h0m3-2h0m3 0h0m5 6h0m13 1h0m4 3h0m1-8h0m6 7h0m-16 5h0m-5-2h0m-191 38h0m10-6h0m1 1h0m0-2h0m1 6h0m0-3h0m2 2h0m1-2h0m0 0h0m1 2h0m-1 11h0m-2 1h0m0-8h0m-2 7h0m0-4h0m-4-5h0m-2 9h0m-2-4h0m-5 2h0m7 4h0m3 2h0m2 4h0m3-1h0m2-3h0" stroke="#8c76b6" stroke-width="5.20" stroke-linecap="round" fill="none"/>
<path transform="scale(.5)" d="M1863 4070h0m4-4h0m1-2h0m0-2h0m7 7h0m3 1h0m1-9h0m2 6h0m2-1h0m9 10h0m-3 4h0m-1-1h0m-2-5h0m0-1h0m-3 1h0m-4-4h0m-5 7h0m-2-7h0m-1 6h0m-8 3h0m-2-4h0m-2-2h0m-1 1h0m-4 12h0m1-2h0m2 1h0m1-2h0m5 6h0m7-3h0m9-4h0m3 2h0m6 1h0m6 15h0m-3-3h0m-1 1h0m-1 0h0m0-2h0m-3-3h0m-3 4h0m-3-6h0m-3 5h0m-4-2h0m-3-4h0m0 2h0m-4 3h0m-1 0h0m-3 0h0m0-1h0m-1 0h0m-2-1h0m12 11h0m11-2h0m3 1h0m1 6h0m1-6h0m4 3h0m0-2h0m1-1h0m26 16h0m-4-5h0m-7 3h0m0 2h0m-1-8h0m-5 3h0m-9-1h0m-1 4h0m-8-7h0m-77 16h0m6 3h0m70-2h0m2-7h0m0 3h0m12-1h0m2 4h0m1-2h0m5 5h0m2-9h0m8 2h0m6-1h0m-10 18h0m-1 1h0m-2 0h0m-2-6h0m-5 2h0m-10-5h0m-4 7h0m-50 0h0m-6-4h0m-2 2h0m0-5h0m-1 7h0m0-6h0m-5-1h0m-3 8h0m0-6h0m-1 1h0m0 5h0m-2-3h0m0-5h0m-2 6h0m-5-4h0m0 13h0m1-5h0m12 4h0m2 2h0m2-5h0m5 0h0m11 3h0m41-3h0m3 3h0m10-2h0m5 0h0m0-1h0m6 2h0m8-2h0m1 7h0m1-8h0m0 1h0m2-2h0m1 8h0m-7 2h0m-6 1h0m-6 0h0m-51 8h0m-8-6h0m-4 4h0m-1-1h0m-2 3h0m-7-8h0m0 2h0m-4 8h0m7 6h0m5-5h0m2 0h0m1 5h0m1-7h0m2 3h0m16 10h0m-2-2h0m-9 1h0m0 0h0m-4 1h0m-4-2h0m-7 1h0m-6-2h0m-179 37h0m5 0h0m2 2h0m1-5h0m0 4h0m4 2h0m-1 9h0m-2-3h0m0-2h0m-1 2h0m0-3h0m-1 2h0m-1 3h0m-3-4h0m-2 0h0m-1 6h0m0-10h0m-1 5h0m0 8h0m4-1h0m2 1h0m7-1h0m0 0h0" stroke="#7867b0" stroke-width="5.20" stroke-linecap="round" fill="none"/>
<path transform="scale(.5)" d="M1880 4059h0m-3 1h0m-8-1h0m-5 9h0m7-1h0m1-2h0m3 4h0m0 1h0m7-9h0m3 3h0m2 6h0m4-1h0m0 8h0m-3-6h0m-3 0h0m-5 6h0m-1-3h0m-6 3h0m-1-3h0m0-2h0m-5 5h0m-5 1h0m0-2h0m-4 3h0m-3 5h0m4 0h0m3 2h0m8 0h0m4 2h0m3-6h0m1 5h0m0 0h0m1 0h0m3 1h0m1-6h0m7-1h0m6 18h0m-5-1h0m-1-7h0m0 7h0m-7-1h0m0 1h0m-4 0h0m-5-5h0m-2-2h0m0-1h0m-4 1h0m-4 3h0m8 6h0m9 1h0m3 6h0m10-2h0m13 3h0m5 0h0m0-1h0m0 11h0m-4 0h0m-9 2h0m-1-8h0m-3 2h0m0 5h0m-4-5h0m-4 5h0m0-7h0m-1 7h0m-82 5h0m6 0h0m8 4h0m64-1h0m9 0h0m2 0h0m3-7h0m0 2h0m0 5h0m0-7h0m4 2h0m1 2h0m5 6h0m13-9h0m-2 14h0m-5-4h0m-10 0h0m-2 1h0m-1 4h0m-1-5h0m-2 3h0m-9-2h0m-4 2h0m-46 5h0m-6-4h0m-3-4h0m-3 6h0m-1-6h0m-11 5h0m-3 1h0m-5-4h0m1 7h0m5 10h0m10-4h0m6-1h0m0 4h0m6 0h0m1-3h0m52 3h0m4-4h0m3 5h0m6-5h0m1-5h0m10 9h0m1 0h0m2-8h0m8 9h0m4 0h0m0 1h0m-32 0h0m-43 3h0m-3 6h0m-2-6h0m0 5h0m-1 1h0m-2-10h0m-5 4h0m-2 4h0m-8 0h0m-3-2h0m0 0h0m-1 0h0m0 3h0m-1-9h0m-10 1h0m13 10h0m5 4h0m0 0h0m2-2h0m3-2h0m2 4h0m8-2h0m7-2h0m6 11h0m-10-1h0m-2 2h0" stroke="#655aab" stroke-width="5.20" stroke-linecap="round" fill="none"/>
<path transform="scale(.5)" d="M1867 4060h0m1 5h0m4-1h0m8 5h0m0-8h0m4 5h0m0 0h0m2 1h0m4 2h0m-4 2h0m-3 7h0m-5 0h0m-8-5h0m-1-2h0m-6 2h0m-2 6h0m-1-3h0m-1 0h0m-4 8h0m0-3h0m3 2h0m4 4h0m2 3h0m4-9h0m2 8h0m2-6h0m9 4h0m3-4h0m3 1h0m1 2h0m1-1h0m3 0h0m0 5h0m8 9h0m-7-7h0m-7 0h0m-2-1h0m0 0h0m-1 7h0m-1-4h0m-1 2h0m-2-1h0m0 1h0m-3 3h0m0-5h0m-1 4h0m-1-8h0m-1 8h0m-5-3h0m-2-2h0m5 9h0m13 1h0m2 6h0m1-7h0m2 7h0m1-2h0m4-1h0m2-5h0m2 4h0m10 3h0m2-1h0m3 3h0m4 9h0m0 1h0m0-3h0m-3-1h0m-7 0h0m-1-5h0m-4 4h0m-2 2h0m-1 1h0m-15-3h0m-1 0h0m-79 10h0m3 0h0m1-2h0m5 1h0m2 2h0m4 1h0m2 2h0m62-6h0m1 6h0m1-5h0m1 2h0m1 2h0m5-2h0m1-2h0m1 4h0m8 1h0m6-8h0m4 3h0m4 12h0m-10-2h0m-1 2h0m-5 3h0m-4-6h0m-6 3h0m-5-4h0m-49 3h0m-1-1h0m-1 4h0m-6-1h0m-2-6h0m-1 7h0m-6 0h0m-1-6h0m-2-1h0m0 1h0m-8 4h0m-3 2h0m-1-4h0m-1-3h0m9 12h0m0-2h0m5 6h0m3-1h0m2-3h0m3 7h0m0-2h0m2-3h0m0 0h0m58-3h0m4 2h0m4-2h0m2-1h0m3 0h0m0 2h0m9-1h0m19 10h0m-4 0h0m-13-1h0m-13 0h0m-5 0h0m-7 0h0m-1-1h0m-35 6h0m-2-3h0m-2-3h0m-1 2h0m0-1h0m-5 2h0m-23-3h0m7 13h0m3 3h0m4 1h0m7 0h0m3-2h0m2 3h0m0-4h0m9-1h0m3 0h0m1 10h0m-2-3h0m-7 3h0m-4-1h0m-11-2h0m-3 1h0" stroke="#5450a6" stroke-width="5.20" stroke-linecap="round" fill="none"/>
<path transform="scale(.5)" d="M1883 4058h0m-9 8h0m0 2h0m3 1h0m0-6h0m8 6h0m1 0h0m1-1h0m4 0h0m1 7h0m-4-5h0m-5 2h0m-2-1h0m-9 1h0m0-2h0m-3 3h0m-1 2h0m-2-2h0m-5 1h0m-5 6h0m3 6h0m1-3h0m3 1h0m12 0h0m2-1h0m7-1h0m1-1h0m2 4h0m1 4h0m1-7h0m1 1h0m6 16h0m-1-1h0m-1-1h0m-1-1h0m-6-2h0m-1 5h0m-1-7h0m-5 5h0m-2-4h0m-1 2h0m-2 2h0m-1-5h0m-1 8h0m-1-4h0m0-1h0m-2-3h0m-3 7h0m-1 1h0m-2 0h0m-1-5h0m16 11h0m3-6h0m2 9h0m0-8h0m3 3h0m2-3h0m2 0h0m1 5h0m17 1h0m7 4h0m0 3h0m-8-3h0m0 0h0m-1 5h0m-1 4h0m-2-5h0m-5-1h0m-1 4h0m-6-2h0m0 2h0m-2-2h0m-1-3h0m-1 2h0m-4-3h0m-80 16h0m6 2h0m3-7h0m4 4h0m0 0h0m1-1h0m4 3h0m63 0h0m2 1h0m4-8h0m9 6h0m3-6h0m4 8h0m6-9h0m7 2h0m-6 12h0m0 3h0m-27-8h0m-1 2h0m-3 7h0m-58-8h0m-3 4h0m0 2h0m-2-1h0m-1 1h0m-8-5h0m-3 7h0m-3-7h0m5 12h0m0-2h0m3 2h0m6 2h0m1 1h0m26 1h0m38-7h0m1 6h0m4-5h0m1 2h0m4 0h0m0 3h0m0-1h0m3-5h0m1 2h0m7 1h0m5 1h0m1-3h0m0 2h0m2-3h0m9 11h0m-5 0h0m-21-1h0m-1-1h0m-47 6h0m-8-1h0m-6 1h0m-2 1h0m-2-1h0m-1 13h0m1 1h0m0-8h0m1 3h0m1-3h0m2 8h0m2-4h0m5-3h0m3 2h0m2 5h0m-7 3h0m-8-2h0m-3 1h0" stroke="#3d489f" stroke-width="5.20" stroke-linecap="round" fill="none"/>
<line x1="809.1" y1="2160.0" x2="809.1" y2="2018.1" stroke="#000" stroke-width="3"/>
<line x1="807.6" y1="2158.6" x2="984.1" y2="2158.6" stroke="#000" stroke-width="3"/>
<line x1="803.1" y1="2032.5" x2="809.1" y2="2032.5" stroke="#000" stroke-width="2.6"/>
<text x="794.8" y="2041.1" font-family="'Liberation Sans', Arial, sans-serif" font-size="25" text-anchor="end" fill="#1A1A1A">10</text>
<line x1="803.1" y1="2058.5" x2="809.1" y2="2058.5" stroke="#000" stroke-width="2.6"/>
<text x="794.8" y="2067.1" font-family="'Liberation Sans', Arial, sans-serif" font-size="25" text-anchor="end" fill="#1A1A1A">5</text>
<line x1="803.1" y1="2084.5" x2="809.1" y2="2084.5" stroke="#000" stroke-width="2.6"/>
<text x="794.8" y="2093.1" font-family="'Liberation Sans', Arial, sans-serif" font-size="25" text-anchor="end" fill="#1A1A1A">0</text>
<line x1="803.1" y1="2110.5" x2="809.1" y2="2110.5" stroke="#000" stroke-width="2.6"/>
<text x="794.8" y="2119.1" font-family="'Liberation Sans', Arial, sans-serif" font-size="25" text-anchor="end" fill="#1A1A1A">-5</text>
<line x1="803.1" y1="2136.5" x2="809.1" y2="2136.5" stroke="#000" stroke-width="2.6"/>
<text x="794.8" y="2145.1" font-family="'Liberation Sans', Arial, sans-serif" font-size="25" text-anchor="end" fill="#1A1A1A">-10</text>
<line x1="809.1" y1="2158.6" x2="809.1" y2="2165.1" stroke="#000" stroke-width="2.6"/>
<text x="809.1" y="2190.1" font-family="'Liberation Sans', Arial, sans-serif" font-size="25" text-anchor="middle" fill="#1A1A1A">-15</text>
<line x1="844.9" y1="2158.6" x2="844.9" y2="2165.1" stroke="#000" stroke-width="2.6"/>
<text x="844.9" y="2190.1" font-family="'Liberation Sans', Arial, sans-serif" font-size="25" text-anchor="middle" fill="#1A1A1A">-10</text>
<line x1="880.6" y1="2158.6" x2="880.6" y2="2165.1" stroke="#000" stroke-width="2.6"/>
<text x="880.6" y="2190.1" font-family="'Liberation Sans', Arial, sans-serif" font-size="25" text-anchor="middle" fill="#1A1A1A">-5</text>
<line x1="916.4" y1="2158.6" x2="916.4" y2="2165.1" stroke="#000" stroke-width="2.6"/>
<text x="916.4" y="2190.1" font-family="'Liberation Sans', Arial, sans-serif" font-size="25" text-anchor="middle" fill="#1A1A1A">0</text>
<line x1="952.1" y1="2158.6" x2="952.1" y2="2165.1" stroke="#000" stroke-width="2.6"/>
<text x="952.1" y="2190.1" font-family="'Liberation Sans', Arial, sans-serif" font-size="25" text-anchor="middle" fill="#1A1A1A">5</text>
<text x="894.7" y="2223.1" font-family="'Liberation Sans', Arial, sans-serif" font-size="28" text-anchor="middle" fill="#1A1A1A" textLength="95.9" lengthAdjust="spacingAndGlyphs">umap_1</text>
<text x="747.3" y="2089.1" font-family="'Liberation Sans', Arial, sans-serif" font-size="28" text-anchor="middle" fill="#1A1A1A" textLength="99.0" lengthAdjust="spacingAndGlyphs" transform="rotate(-90 747.3 2089.1)">umap_2</text>
<rect x="1009.2" y="2012.0" width="30.9" height="153.5" fill="url(#gradH)"/>
<line x1="1009.2" y1="2028.0" x2="1015.2" y2="2028.0" stroke="#FFFFFF" stroke-width="1.2" stroke-opacity="0.7"/>
<line x1="1034.1" y1="2028.0" x2="1040.1" y2="2028.0" stroke="#FFFFFF" stroke-width="1.2" stroke-opacity="0.7"/>
<text x="1053.6" y="2036.6" font-family="'Liberation Sans', Arial, sans-serif" font-size="25" fill="#1A1A1A">5</text>
<line x1="1009.2" y1="2061.0" x2="1015.2" y2="2061.0" stroke="#FFFFFF" stroke-width="1.2" stroke-opacity="0.7"/>
<line x1="1034.1" y1="2061.0" x2="1040.1" y2="2061.0" stroke="#FFFFFF" stroke-width="1.2" stroke-opacity="0.7"/>
<text x="1053.6" y="2069.6" font-family="'Liberation Sans', Arial, sans-serif" font-size="25" fill="#1A1A1A">4</text>
<line x1="1009.2" y1="2094.0" x2="1015.2" y2="2094.0" stroke="#FFFFFF" stroke-width="1.2" stroke-opacity="0.7"/>
<line x1="1034.1" y1="2094.0" x2="1040.1" y2="2094.0" stroke="#FFFFFF" stroke-width="1.2" stroke-opacity="0.7"/>
<text x="1053.6" y="2102.6" font-family="'Liberation Sans', Arial, sans-serif" font-size="25" fill="#1A1A1A">3</text>
<line x1="1009.2" y1="2127.0" x2="1015.2" y2="2127.0" stroke="#FFFFFF" stroke-width="1.2" stroke-opacity="0.7"/>
<line x1="1034.1" y1="2127.0" x2="1040.1" y2="2127.0" stroke="#FFFFFF" stroke-width="1.2" stroke-opacity="0.7"/>
<text x="1053.6" y="2135.6" font-family="'Liberation Sans', Arial, sans-serif" font-size="25" fill="#1A1A1A">2</text>
<line x1="1009.2" y1="2159.0" x2="1015.2" y2="2159.0" stroke="#FFFFFF" stroke-width="1.2" stroke-opacity="0.7"/>
<line x1="1034.1" y1="2159.0" x2="1040.1" y2="2159.0" stroke="#FFFFFF" stroke-width="1.2" stroke-opacity="0.7"/>
<text x="1053.6" y="2167.6" font-family="'Liberation Sans', Arial, sans-serif" font-size="25" fill="#1A1A1A">1</text>
<text x="195.5" y="2257.3" font-family="'Liberation Sans', Arial, sans-serif" font-size="30" font-weight="bold" text-anchor="middle" textLength="102.5" lengthAdjust="spacingAndGlyphs">ACTA2</text>
<path d="M234.9 2287.6 L243.4 2287.0 L245.8 2290.0 L248.6 2297.2 L248.6 2303.3 L251.9 2308.7 L247.1 2312.9 L242.2 2314.1 L239.2 2310.5 L234.9 2310.5 L231.3 2305.7 L228.2 2302.1 L228.8 2297.9 L232.5 2291.8 Z" fill="#d1d0d2" stroke="#d1d0d2" stroke-width="1.5" stroke-linejoin="round"/>
<path d="M242.2 2314.1 L249.5 2310.5 L255.6 2311.1 L260.4 2314.1 L261.6 2320.1 L259.2 2324.9 L261.6 2331.0 L267.7 2338.2 L270.1 2344.2 L268.9 2350.2 L266.5 2359.2 L265.9 2368.3 L263.5 2374.3 L258.6 2379.1 L249.5 2380.3 L245.2 2377.9 L243.4 2371.3 L242.2 2362.3 L244.0 2353.2 L242.2 2344.2 L241.0 2338.2 L242.2 2332.2 L242.2 2326.1 Z" fill="#d0cfd2" stroke="#d0cfd2" stroke-width="1.5" stroke-linejoin="round"/>
<path d="M203.3 2320.1 L208.8 2319.5 L214.3 2323.7 L219.1 2324.9 L220.3 2329.8 L225.2 2332.2 L227.6 2338.2 L230.7 2344.2 L232.5 2351.4 L233.1 2359.2 L231.3 2362.3 L227.6 2359.2 L222.8 2353.2 L217.9 2347.2 L211.8 2341.2 L207.0 2335.2 L203.9 2329.2 L202.7 2323.1 Z" fill="#d0cfd2" stroke="#d0cfd2" stroke-width="1.5" stroke-linejoin="round"/>
<path d="M224.6 2324.9 L236.1 2324.9 L241.6 2326.1 L242.2 2332.2 L240.4 2338.2 L238.6 2341.2 L236.1 2340.0 L231.3 2335.8 L227.6 2333.4 L224.6 2329.8 Z" fill="#d3d2d3" stroke="#d3d2d3" stroke-width="1.5" stroke-linejoin="round"/>
<path d="M227.6 2365.9 L231.3 2362.3 L240.4 2362.3 L243.4 2365.9 L243.4 2371.3 L240.4 2371.3 L233.7 2370.7 L228.8 2371.9 L227.0 2369.5 Z" fill="#d0cfd2" stroke="#d0cfd2" stroke-width="1.5" stroke-linejoin="round"/>
<path d="M162.2 2304.7 L159.8 2303.1 L154.3 2305.5 L149.6 2308.6 L146.5 2312.5 L143.3 2314.0 L137.0 2313.2 L130.7 2315.6 L127.6 2319.5 L129.2 2323.4 L133.1 2326.5 L135.4 2331.1 L134.7 2335.8 L136.2 2342.0 L138.6 2344.4 L141.0 2342.0 L141.3 2335.8 L141.7 2331.1 L141.0 2326.5 L142.5 2321.8 L146.5 2318.7 L152.7 2315.6 L158.2 2310.1 L162.2 2307.0 Z" fill="#8581b7" stroke="#8581b7" stroke-width="1.5" stroke-linejoin="round"/>
<path d="M139.4 2348.7 L143.3 2351.4 L147.2 2357.6 L151.2 2360.7 L150.4 2365.4 L144.9 2369.3 L137.0 2371.6 L130.7 2373.2 L125.2 2371.6 L122.1 2367.0 L122.9 2362.3 L129.2 2357.6 L135.4 2353.0 L137.8 2349.8 Z" fill="#bfbccc" stroke="#bfbccc" stroke-width="1.5" stroke-linejoin="round"/>
<path d="M155.1 2404.3 L154.3 2406.6 L152.3 2408.2 L149.6 2408.8 L146.9 2408.2 L144.9 2406.6 L144.2 2404.3 L144.9 2402.1 L146.9 2400.4 L149.6 2399.8 L152.3 2400.4 L154.3 2402.1 Z" fill="#d3d3d3" stroke="#d3d3d3" stroke-width="1.5" stroke-linejoin="round"/>
<path transform="scale(.5)" d="M487 4575h0m-1 0h0m-2 3h0m-1 0h0m0-1h0m-1 2h0m0-2h0m-3 0h0m-8-1h0m0 4h0m-2-3h0m-7 13h0m4-4h0m0 1h0m1-2h0m1 1h0m1 4h0m1-7h0m0-2h0m1 1h0m0 6h0m2 2h0m1-5h0m0-4h0m0 7h0m0 1h0m0-2h0m1 2h0m0-8h0m0 5h0m1-3h0m1 2h0m0 2h0m1-1h0m2 2h0m0-2h0m0-6h0m0 7h0m2 2h0m0-2h0m1-1h0m1-2h0m0 4h0m2-5h0m0 6h0m0-6h0m0-1h0m1 1h0m0 5h0m1-7h0m0 6h0m1-3h0m0 2h0m0 2h0m1-1h0m0-2h0m1 3h0m0-1h0m2-2h0m1 2h0m1 7h0m-1-2h0m-1 2h0m-1 4h0m0-1h0m0 3h0m0-1h0m-3-3h0m0-5h0m0-1h0m-2 8h0m0 0h0m0 2h0m-1 0h0m0-9h0m0 9h0m-1-4h0m-1-2h0m-1 0h0m-1-2h0m0 7h0m-2 0h0m-3-4h0m-1-1h0m-1-3h0m-1 2h0m-2-1h0m0-1h0m-1 0h0m0 1h0m-1 6h0m0-3h0m-1-2h0m-4 3h0m-1-1h0m0-2h0m0-1h0m0 4h0m0-5h0m-1 2h0m-1 7h0m0-7h0m-1-2h0m0 1h0m-1 4h0m0-4h0m-1 6h0m-1 0h0m-144 11h0m143-5h0m0-3h0m1 0h0m0 0h0m2 1h0m0-2h0m1 1h0m1 1h0m0 8h0m0-7h0m2 1h0m1-1h0m1-2h0m0 5h0m1 1h0m4 1h0m1 1h0m0 0h0m1-9h0m0 6h0m0 1h0m0-4h0m0 0h0m2-3h0m0 7h0m0 1h0m1-3h0m1 4h0m0-3h0m0 1h0m0-6h0m1 3h0m0-2h0m2 2h0m1 0h0m0 6h0m0-6h0m2 4h0m1-4h0m0 2h0m1-4h0m2 6h0m0 0h0m0 0h0m1 2h0m0-4h0m1 3h0m0-9h0m1 2h0m0-1h0m1 2h0m0 3h0m0-4h0m0 1h0m1 5h0m1-8h0m2 2h0m0 5h0m1 3h0m6 6h0m-3 3h0m0-3h0m0 0h0m-2-1h0m0-1h0m0 6h0m-2-7h0m-1 7h0m0-5h0m0 4h0m0-2h0m-1-3h0m0 3h0m0-2h0m-1 0h0m0 0h0m-1-1h0m0 4h0m-1 2h0m0-1h0m0-8h0m-1 0h0m0 5h0m-3 2h0m0-3h0m0 5h0m0-6h0m-1 0h0m0 1h0m0-3h0m0 7h0m-1-1h0m0-4h0m0 4h0m-1-3h0m-1-3h0m0 3h0m-1-1h0m-1-1h0m0 0h0m-1 3h0m-1-4h0m0 3h0m-1 0h0m0-4h0m-1 0h0m0 4h0m-1 2h0m0-4h0m0 4h0m-1-5h0m0 7h0m-1-2h0m-2-5h0m-1 4h0m-1 1h0m0-7h0m-1 2h0m0 0h0m-1 5h0m0-6h0m-1 1h0m-1 1h0m-1-2h0m0 0h0m-150 8h0m-3-5h0m0 4h0m-2-2h0m-3-1h0m-2 3h0m-2-1h0m-4 2h0m-24 11h0m3 0h0m23-5h0m0 1h0m2 0h0m9-4h0m163-1h0m8 2h0m4 5h0m0-1h0m0 2h0m0-3h0m0-2h0m1-4h0m1 1h0m0 5h0m1 0h0m1 3h0m0-8h0m1 6h0m0 1h0m0-2h0m1 4h0m1-6h0m0-1h0m1-2h0m1 2h0m2-1h0m0 1h0m0 4h0m3-5h0m1 7h0m1-3h0m0-2h0m5 5h0m0-1h0m1-1h0m0 1h0m0 0h0m2-3h0m0 3h0m0 2h0m1-5h0m0 3h0m1-4h0m1 0h0m1 4h0m0-3h0m1 0h0m1 2h0m3 1h0m3 10h0m-1 0h0m0-2h0m-1 1h0m0-3h0m-2-2h0m-2 2h0m0-3h0m0 9h0m0-2h0m-2-3h0m-2 4h0m-2-1h0m0-3h0m0-2h0m-1 4h0m0-4h0m0 4h0m-1 2h0m0-2h0m-2-5h0m0 7h0m-2 0h0m0-6h0m0-1h0m0-1h0m-1 9h0m0-6h0m-1 2h0m0-5h0m0 6h0m-1-2h0m-2 4h0m0-2h0m0 2h0m-1-1h0m0-7h0m0 5h0m-1-4h0m-2 1h0m0-3h0m0 1h0m-1 4h0m0-1h0m0 6h0m0-9h0m-1 6h0m-1 0h0m0-4h0m-1-1h0m0 3h0m-1 2h0m-1-3h0m0 2h0m-2 4h0m-1-2h0m0-5h0m-1-2h0m-191-1h0m-6 2h0m-1-2h0m-12 9h0m-1-6h0m-2-3h0m-5 1h0m0 5h0m-2-6h0m-6 7h0m-1 9h0m3-6h0m3 7h0m4-6h0m2 2h0m9-1h0m2 2h0m1-3h0m124 7h0m0-3h0m1-3h0m0-1h0m0 8h0m1-3h0m0 4h0m1-7h0m1-1h0m1-1h0m1 9h0m0 0h0m1-3h0m1 2h0m0-3h0m2-6h0m0 2h0m2 1h0m1 6h0m0-1h0m1-4h0m0 0h0m1 2h0m0-3h0m0 6h0m0-5h0m2 2h0m1 0h0m0 2h0m2 2h0m0-2h0m2 0h0m0 0h0m2 2h0m0-2h0m1 0h0m0 1h0m53-5h0m1 1h0m0-1h0m1-4h0m0 10h0m0-4h0m2 0h0m0-5h0m0 8h0m0-6h0m0-3h0m0 3h0m1 6h0m0-4h0m0 2h0m0 0h0m1 2h0m2-3h0m1 2h0m1-1h0m0-3h0m0 6h0m1-7h0m1-2h0m0 6h0m0-3h0m0 6h0m1-5h0m1 4h0m1-5h0m2 0h0m0 5h0m1-7h0m1 7h0m0-4h0m1 0h0m0-4h0m0 7h0m0-2h0m1 3h0m0-6h0m1 4h0m1-7h0m0 8h0m1-1h0m1 0h0m3-3h0m2 4h0m1-7h0m1 8h0m1-4h0m3-3h0m3-1h0m-2 16h0m-1 2h0m-1 0h0m-1-6h0m0 6h0m-1-7h0m0 0h0m0 3h0m-1 3h0m0 1h0m-1-1h0m-2 1h0m0-3h0m-2 1h0m-1 0h0m0 2h0m-1-8h0m0 8h0m-1-7h0m-1 1h0m0 5h0m-3 2h0m-1-7h0m0 4h0m0 2h0m0-8h0m-2 2h0m0 7h0m-1-2h0m-1 1h0m0-9h0m0 2h0m-2 6h0m0-5h0m-2 7h0m0-7h0m-2 1h0m-1 5h0m-2-4h0m-1 1h0m-1-3h0m-1 6h0m-1-1h0m0-2h0m0 3h0m-1-8h0m-2 8h0m0-2h0m-2-5h0m-1 8h0m0-1h0m0-6h0m-1 7h0m0-4h0m-1-2h0m0-1h0m-1 2h0m-2 1h0m-2-1h0m-1 1h0m-1 1h0m0-6h0m0 8h0m-1-4h0m-1 3h0m0-5h0m-1 3h0m-1-3h0m-2 5h0m-1 1h0m-2-5h0m0-1h0m-1-2h0m0 0h0m-3 7h0m-1-1h0m0 2h0m-1-1h0m-1-4h0m0 0h0m0-3h0m0 9h0m-1-4h0m0-4h0m-2-1h0m-1 8h0m0-6h0m0 3h0m0 2h0m-1 1h0m-10-3h0m-1-1h0m0-3h0m-1-1h0m-1 5h0m-2-1h0m-1 4h0m0-8h0m-1 1h0m-1-1h0m-1 2h0m0 1h0m-1 1h0m-1 5h0m-1-4h0m0 2h0m0-4h0m-3-2h0m0 2h0m-1 6h0m-1-7h0m-1-1h0m0 5h0m0-7h0m0 4h0m0 1h0m-1-3h0m0 4h0m-1 2h0m-1 0h0m0-5h0m-1 5h0m0 1h0m-1-5h0m0 0h0m-1 2h0m-1-3h0m0 6h0m-2 1h0m0-2h0m0-8h0m0 5h0m-1-1h0m-1 2h0m-1-4h0m-1 6h0m-1-3h0m-1-3h0m-125-1h0m-3 5h0m-2 1h0m-1-2h0m-1-2h0m-2 6h0m-1-1h0m-1-5h0m0 7h0m-1-1h0m-1-5h0m-1 2h0m2 12h0m1 1h0m4-2h0m0-6h0m2 6h0m1 1h0m0-1h0m1-3h0m4 0h0m128-1h0m2-2h0m0 0h0m1 6h0m0-2h0m0-3h0m1 6h0m0-8h0m1 1h0m0 6h0m2 0h0m1-1h0m1-2h0m0-1h0m2 0h0m0 0h0m1 1h0m1-1h0m0-3h0m1 7h0m0-5h0m1 1h0m0 0h0m0 3h0m1-2h0m1-3h0m0 0h0m0 6h0m0-1h0m0-3h0m2 0h0m0 4h0m0-5h0m1 6h0m0-5h0m2 2h0m1 2h0m1-1h0m1-4h0m1 0h0m0 1h0m4 7h0m0-5h0m1 2h0m3 0h0m0-4h0m1 5h0m0 1h0m0-2h0m1 0h0m2 3h0m0-5h0m2-5h0m3 0h0m0 4h0m3-1h0m2 2h0m0 3h0m1 0h0m0-1h0m0-7h0m2 6h0m2 0h0m0-2h0m2-1h0m0 3h0m2 1h0m1 1h0m0-4h0m3 3h0m2-7h0m3 8h0m0-3h0m1 1h0m2 3h0m0-7h0m1-1h0m1 0h0m1 2h0m2 3h0m1 2h0m1 0h0m0-4h0m0-2h0m1 6h0m0 2h0m0-4h0m1-4h0m0-1h0m1 9h0m1-7h0m0 5h0m1-7h0m0 1h0m1-1h0m0 4h0m1 3h0m1 1h0m0-2h0m1-6h0m0 3h0m1 0h0m1 3h0m0 1h0m1 0h0m0-2h0m1-6h0m1 8h0m0-7h0m1 1h0m1 6h0m0-8h0m1 9h0m3-8h0m2 0h0m1 5h0m0 2h0m0-4h0m2 5h0m0 1h0m0-4h0m0-4h0m0 1h0m2-2h0m0 0h0m0 5h0m1 1h0m1-3h0m3 2h0m0-5h0m0 5h0m1 3h0m0-4h0m2 1h0m1 1h0m1 2h0m0 0h0m1-2h0m2 1h0m1-1h0m0 2h0m1 1h0m6 6h0m-1 3h0m0-1h0m-1-3h0m-1-3h0m0 0h0m-1 3h0m0 5h0m-1-1h0m-1-2h0m-1-1h0m0 2h0m-1-4h0m0 1h0m-1-3h0m0 2h0m-1 2h0m-1 1h0m0 3h0m-4-5h0m0 2h0m-1 3h0m0-2h0m0 1h0m-1-5h0m-2 1h0m0-2h0m0 5h0m0-4h0m-2-1h0m-3 6h0m-1-5h0m0 0h0m-2-3h0m-1 8h0m-2-4h0m0-2h0m-1-1h0m-1 4h0m0 4h0m-1-7h0m0-1h0m-1 8h0m0-6h0m-1 4h0m-1-3h0m0 1h0m0 3h0m-1-6h0m-2-3h0m0 5h0m0-2h0m-2 3h0m0-1h0m-1 4h0m0-5h0m-1 5h0m0-6h0m0 3h0m-1 1h0m-1 2h0m-1-4h0m-1 4h0m0-1h0m-1-5h0m0 1h0m-2-2h0m0 5h0m-1-4h0m-1 3h0m0 1h0m-2-3h0m0-4h0m-1 5h0m0 3h0m-1 0h0m0 1h0m-1-6h0m-1 5h0m0-1h0m0-2h0m-1-1h0m-1 5h0m0-6h0m-2 3h0m-2 3h0m-4-6h0m-1-1h0m0-1h0m-10 9h0m-1-2h0m-2-6h0m0 4h0m-1 4h0m0-6h0m0 5h0m-1-6h0m-1 0h0m0 4h0m-2-1h0m0-4h0m0 4h0m0-3h0m-1 7h0m0-3h0m-2-7h0m0 10h0m-1-9h0m-1 1h0m-1 5h0m-1 2h0m-1-4h0m0-2h0m-1-1h0m0 8h0m-1-5h0m0 1h0m-1 2h0m0-5h0m-2 1h0m0 5h0m-1-3h0m-1 3h0m0-6h0m0-3h0m-3 0h0m0 5h0m-1 3h0m-1 0h0m-1-5h0m0 5h0m-1-5h0m0 0h0m0 3h0m-1 1h0m0 0h0m0-1h0m-1 4h0m-2-6h0m-1-3h0m-2 5h0m-1-4h0m-136-2h0m0 5h0m-1-2h0m-1 5h0m0-4h0m-1 4h0m0-3h0m-1-3h0m0 0h0m-2 6h0m-1-4h0m-3 4h0m0-8h0m0 9h0m-1-8h0m4 14h0m1-1h0m0 3h0m1-4h0m3 0h0m0 0h0m1 1h0m1-1h0m0 0h0m146 0h0m1 5h0m1 0h0m0-5h0m1 6h0m1-5h0m0 3h0m0 2h0m0-2h0m0 0h0m1-4h0m0-1h0m1 2h0m0-1h0m0 5h0m1-7h0m0 8h0m2 0h0m0-2h0m1-3h0m1-1h0m0-1h0m0 0h0m3 2h0m0-2h0m0 6h0m1-8h0m1 9h0m0-3h0m3-1h0m0-3h0m2 6h0m1 1h0m0 0h0m0-2h0m0 1h0m4-4h0m1 3h0m4 1h0m2 1h0m0 1h0m23-4h0m0 2h0m2-4h0m1 2h0m1-2h0m0 1h0m1-2h0m0 2h0m1 0h0m1-1h0m3 5h0m1 1h0m0-8h0m0 8h0m2-1h0m1-8h0m1 4h0m0 2h0m1-5h0m0 7h0m0-1h0m1-6h0m1 1h0m1 4h0m0-1h0m0-1h0m1 4h0m0-8h0m0 0h0m1 3h0m1-3h0m0 4h0m1-5h0m3 5h0m1 0h0m1-1h0m0-4h0m0 1h0m0 1h0m0 4h0m2-2h0m0-3h0m0 4h0m1-2h0m1-1h0m1-1h0m0 3h0m0-1h0m0 7h0m0-5h0m0-3h0m1 7h0m1-4h0m1-1h0m1 0h0m1 2h0m2 1h0m0-2h0m0-2h0m0 2h0m0-2h0m0 3h0m0-5h0m1 9h0m0-8h0m1 1h0m0 3h0m1-5h0m0 3h0m0 2h0m1 2h0m0-6h0m0 1h0m0 0h0m0 0h0m0-2h0m1 6h0m0-3h0m1 2h0m0-3h0m1 5h0m1 2h0m0-2h0m1-2h0m0 2h0m0-8h0m1 6h0m1 2h0m0-6h0m1 0h0m1 5h0m1-4h0m1 4h0m0 1h0m-1 5h0m-1 3h0m0-1h0m-1 0h0m0 2h0m0 3h0m0-7h0m-1 6h0m-2-6h0m-1-1h0m0 4h0m-2-1h0m0 0h0m0 2h0m0 1h0m-1-5h0m-1-2h0m0 9h0m-1-9h0m-1 5h0m0 0h0m-1-3h0m-1 2h0m-3 3h0m0 1h0m-1-4h0m-1 0h0m-2-4h0m0 0h0m-2 4h0m-1-4h0m0 7h0m0-6h0m-1-1h0m-1 4h0m-1-2h0m0-1h0m0 2h0m-1 1h0m-1 4h0m-1-8h0m0 8h0m0-4h0m-1 2h0m-1-6h0m0 8h0m-1-6h0m0 7h0m-2-9h0m0 0h0m0 0h0m-1 4h0m0 3h0m-2-8h0m0 6h0m-1 2h0m-1-4h0m0 2h0m0 2h0m-1 1h0m0-9h0m-2 9h0m-2-3h0m0-6h0m-1 7h0m0-3h0m0 1h0m-1 0h0m0-1h0m-1 3h0m-1-7h0m-1 5h0m0 5h0m-1-10h0m-2 1h0m0 0h0m-22 4h0m-1 3h0m-1-5h0m0-1h0m-2 7h0m0-1h0m-1-2h0m0-1h0m0-2h0m-1-1h0m0 7h0m0-9h0m-1 8h0m-1 1h0m0-5h0m-1 3h0m0 2h0m-1 0h0m-2-6h0m0 6h0m-1-4h0m0 4h0m-1-8h0m-2-1h0m-1 3h0m0-2h0m-1 5h0m-1 3h0m0 0h0m-2-2h0m0-6h0m0 1h0m0 1h0m-1-2h0m0 7h0m0-6h0m-5 2h0m0-2h0m-155 7h0m-9 10h0m1-1h0m2-1h0m2 2h0m1 1h0m2 0h0m0-3h0m2 3h0m1-8h0m2 5h0m1 2h0m0-6h0m1 1h0m2 3h0m154-6h0m0 2h0m2-2h0m1-1h0m1 5h0m0-4h0m2 0h0m2 5h0m1 3h0m0 0h0m1-3h0m0-5h0m0 8h0m1-8h0m1 2h0m1-1h0m0 0h0m0 2h0m3-3h0m1 9h0m1-3h0m0-7h0m2 8h0m1-2h0m0-5h0m0 3h0m1 4h0m0 1h0m22-7h0m1 6h0m0 0h0m0-6h0m1 8h0m0-5h0m1 0h0m2-1h0m1-1h0m0 5h0m0-1h0m1-2h0m0-1h0m2-1h0m3 6h0m0-5h0m3 1h0m1 2h0m0-3h0m0 1h0m1 5h0m0-5h0m1 3h0m0-3h0m1-5h0m0 6h0m1 1h0m3-5h0m1 4h0m0 1h0m0 1h0m2-8h0m0 10h0m0-4h0m0-2h0m0 6h0m1-7h0m0 3h0m1 1h0m0 1h0m0-7h0m1 2h0m1 1h0m0-3h0m1 6h0m0-4h0m0 5h0m1-5h0m0 2h0m3 2h0m0-7h0m1 9h0m1-5h0m1-4h0m2 5h0m1-5h0m0 3h0m0 2h0m3 2h0m0-6h0m1 8h0m0 0h0m0-4h0m0 5h0m0-9h0m0 0h0m1 9h0m0-10h0m0 4h0m0 3h0m1-3h0m0 3h0m0 7h0m-2 5h0m-1-2h0m0 0h0m-2-6h0m-1 6h0m-3 0h0m-1-3h0m0 1h0m-1 3h0m-1 0h0m0-8h0m0 1h0m-1 8h0m0-9h0m-1 5h0m0-2h0m-6 1h0m-1-3h0m0 8h0m0-7h0m0 0h0m0 0h0m0 1h0m-1 5h0m0-5h0m-1 2h0m-1-3h0m0-1h0m-1 4h0m-1 4h0m0-3h0m-1 2h0m0-5h0m0-3h0m-1 6h0m0-4h0m0-1h0m-1 5h0m0-3h0m-1-2h0m0 1h0m0 4h0m0-3h0m-1-2h0m0 1h0m-1 3h0m-1-5h0m0 10h0m-1 0h0m0-5h0m0-4h0m0 7h0m-2-1h0m0 2h0m-1-1h0m-1-4h0m-2 0h0m-1 4h0m0-3h0m-2 1h0m-1 1h0m0 0h0m-1-4h0m0 2h0m0-4h0m-1 8h0m-1-7h0m0 5h0m-1 3h0m-22 0h0m-3-6h0m-1-4h0m0 6h0m0-3h0m-4-2h0m-1 5h0m-2-3h0m-3-3h0m0 0h0m-156 4h0m-1 0h0m0 2h0m0-2h0m-1 3h0m0 0h0m0-2h0m-5 0h0m0-4h0m0 2h0m-1 2h0m0 4h0m-1-7h0m-1 0h0m0 1h0m0-3h0m-1 6h0m0-1h0m-1-3h0m0 6h0m-1-5h0m-1 4h0m0 0h0m0 3h0m-2-3h0m0 2h0m0 0h0m-1 0h0m0 0h0m0-6h0m-1 5h0m0-2h0m-1-4h0m0 5h0m-3 2h0m-1 1h0m0-4h0m-1 2h0m-1 1h0m0-3h0m0-2h0m0 3h0m-1 1h0m-1-4h0m-2 5h0m0-5h0m-1 0h0m-6 6h0m-2-1h0m-9 7h0m0 1h0m0 2h0m3-2h0m0-3h0m1-2h0m2 7h0m0 0h0m1-3h0m1-1h0m2-2h0m0 0h0m0 3h0m1-5h0m0 8h0m2-4h0m2-2h0m0 0h0m0 2h0m1-2h0m1 5h0m1-6h0m0 0h0m0 3h0m1 2h0m1-1h0m2-5h0m0 9h0m0-2h0m1 1h0m0-1h0m0 0h0m0 1h0m1-5h0m1 2h0m0 0h0m1-4h0m2 5h0m1 3h0m0-9h0m1 0h0m1-1h0m0 0h0m0 5h0m0-4h0m1 9h0m0-2h0m0-4h0m1 3h0m0-2h0m2 3h0m0-7h0m1 1h0m2 6h0m0-6h0m1 3h0m0-3h0m1 7h0m0-3h0m0 2h0m0-6h0m1 1h0m0 6h0m2-4h0m1 0h0m1-1h0m0-2h0m0 1h0m3 6h0m0-7h0m0-1h0m0 4h0m0-1h0m0 1h0m1 1h0m1 1h0m0 3h0m1-6h0m0-2h0m1 2h0m0 4h0m0-1h0m2-1h0m0-3h0m0 2h0m161-3h0m1 1h0m1 4h0m0-6h0m10 5h0m3-1h0m1 5h0m3-3h0m1 1h0m2 2h0m1-8h0m1 7h0m3-1h0m0-7h0m3 0h0m0-1h0m2 3h0m0 1h0m0 6h0m0-5h0m1-4h0m0 7h0m0 1h0m4-6h0m1-3h0m2 4h0m0 3h0m1-6h0m0 4h0m1-2h0m0 1h0m4-2h0m1 1h0m0 4h0m1 2h0m0-6h0m0 5h0m0-1h0m1-5h0m1 4h0m0 1h0m2-2h0m1-1h0m1 1h0m0 3h0m1-5h0m0 4h0m1-2h0m1 4h0m1-2h0m4 2h0m0-2h0m1-2h0m1 5h0m1-2h0m1-8h0m1 9h0m0-7h0m1 5h0m0 2h0m2-6h0m0-1h0m0 8h0m-2 9h0m-1 0h0m0-4h0m0-4h0m0 6h0m-1-1h0m-1 3h0m0-8h0m0 7h0m0 0h0m-3-5h0m-1 0h0m0 0h0m-1-3h0m0 1h0m-1 3h0m0 3h0m0-3h0m-1 0h0m-1 6h0m0-5h0m0 2h0m-2-1h0m-1-1h0m-1 0h0m0-2h0m-1 7h0m0-7h0m0-1h0m-2-1h0m0 0h0m0 9h0m-2-6h0m0 1h0m0 3h0m0-1h0m0-1h0m0-6h0m-1 10h0m0-9h0m0 1h0m0 6h0m0-5h0m-1 5h0m0 1h0m0 1h0m0-8h0m-1 1h0m-1 3h0m-2 1h0m0 1h0m0 0h0m0-6h0m-1-1h0m0 2h0m-1 2h0m-1-3h0m-3 4h0m0-5h0m-1 4h0m0-5h0m0 5h0m-2 4h0m0-8h0m-1 0h0m-1 8h0m-2-5h0m-1-2h0m0 2h0m-2-2h0m0 3h0m-2 4h0m0-5h0m0-2h0m-2 1h0m-1-1h0m0 8h0m0-2h0m-1-6h0m0 4h0m0 2h0m-1 0h0m-1 1h0m0-9h0m0 0h0m0 10h0m-2-8h0m0 4h0m0-5h0m-1 8h0m0-7h0m-1 5h0m-1 3h0m0-1h0m-1-2h0m-1 0h0m-1 0h0m-1-6h0m0 4h0m-1 4h0m-1-5h0m0 0h0m-1 1h0m-2-4h0m-2 8h0m-1-9h0m0 9h0m-1-7h0m-1-1h0m-1 1h0m0 5h0m-1-3h0m-1-2h0m-2 0h0m0 2h0m-160-4h0m-1 3h0m-1 1h0m0-1h0m0 1h0m-1 2h0m0 0h0m-1 0h0m0-1h0m-2-2h0m-1 0h0m0-2h0m-2 8h0m-1-5h0m0 4h0m0 1h0m0-5h0m-1 3h0m-2-6h0m0 0h0m-2 8h0m-1-7h0m0-1h0m-1 3h0m0 3h0m-1-4h0m0 2h0m0-1h0m-1-2h0m0 5h0m-1-2h0m0 5h0m-1-7h0m-1 3h0m0-3h0m-1 1h0m-1 2h0m-1-5h0m-1 1h0m-2 3h0m0 4h0m0 0h0m-2-2h0m0 1h0m-1-8h0m-2 2h0m0 0h0m0-1h0m0 2h0m0-1h0m-1 7h0m0 0h0m-1 1h0m0-4h0m-4 0h0m0-4h0m0 0h0m0 3h0m-3 4h0m-2-3h0m-1 2h0m0-1h0m-2-5h0m-3-1h0m-2 3h0m5 6h0m7 1h0m0 3h0m1-2h0m0 0h0m3 1h0m3-1h0m0 3h0m1-2h0m3 1h0m3-4h0m1 0h0m0 3h0m187-2h0m18 1h0m1 0h0m5-1h0m3 0h0m2 0h0m3 6h0m0 2h0m0-9h0m0 2h0m4-1h0m0 1h0m1-1h0m0 4h0m0-3h0m0 8h0m0-1h0m1-1h0m1-8h0m1 1h0m0 1h0m0 5h0m2-5h0m1-2h0m2 6h0m1-3h0m0 6h0m1-6h0m1 0h0m0 4h0m1 1h0m1 1h0m2 0h0m0-3h0m1 1h0m2-4h0m0 6h0m1-7h0m1 5h0m0-6h0m0 0h0m0 1h0m1 4h0m0-2h0m1 2h0m3 2h0m1 0h0m0 1h0m1 1h0m0-2h0m0 1h0m1-1h0m1-2h0m2 3h0m0-6h0m1 5h0m-4 2h0m-2 4h0m-1-2h0m0 0h0m-1 1h0m-1-3h0m-1 7h0m-1-7h0m0 3h0m-1 3h0m-1-3h0m0 6h0m0-1h0m-1 1h0m-1-2h0m-1-2h0m0-4h0m-1 7h0m-1 0h0m-1-3h0m-1 3h0m0-3h0m-1-1h0m0-3h0m0 4h0m-3 3h0m0-4h0m-1-1h0m-1 6h0m-2-9h0m-1 9h0m0-5h0m-6 3h0m0-5h0m-3 0h0m-197 55h0m0-4h0m1 6h0m0 0h0m1-5h0m1 5h0m1 0h0m0-8h0m1 1h0m0 6h0m3-2h0m1-4h0m0 2h0m1-2h0m1 3h0m4 0h0m0 2h0m0-2h0m1 5h0m-2 2h0m-1 0h0m0 2h0m-5-4h0m-2 2h0m-1 3h0m-1 0h0m-1-2h0m0 2h0m-1-4h0m-5 0h0" stroke="#D3D3D3" stroke-width="5.20" stroke-linecap="round" fill="none"/>
<path transform="scale(.5)" d="M475 4582h0m7-2h0m11 6h0m-3 10h0m-9-1h0m-13 12h0m12-6h0m29 24h0m10 7h0m-32 0h0m-68 16h0m83 7h0m-65 0h0m-26-2h0m12 15h0m64-2h0m25-5h0m-6 10h0m-10 5h0m-29-1h0m-44 5h0m29 6h0m3-3h0m67-2h0m8 15h0m-13 3h0m-27-2h0m-211 3h0m8 6h0m160-2h0m6 3h0m12 1h0m42-6h0m6 3h0m18 13h0m-4 0h0m-10 0h0m-25-3h0m-194 3h0m-3 2h0m-4-1h0m-1-2h0m-6 1h0m0-6h0m-7 0h0m-3 0h0m-1 1h0m0 16h0m5-7h0m3 4h0m5 3h0m2-3h0m5-5h0m2 8h0m3-3h0m212 3h0m19 9h0m-2-1h0m-14-2h0m0 2h0m-19-2h0m-8 3h0m-192-3h0m-9 4h0m0-5h0m-3 0h0m-7 3h0m-5 0h0m-2-3h0m189 8h0m48 2h0m20 2h0" stroke="#ae9dcb" stroke-width="5.20" stroke-linecap="round" fill="none"/>
<path transform="scale(.5)" d="M478 4587h0m0 8h0m-13-5h0m31 27h0m-19-7h0m43 27h0m-10-3h0m-97 7h0m72-1h0m36 20h0m-2-8h0m-17 4h0m-65-4h0m-15 12h0m8-2h0m68-2h0m28 13h0m-32-2h0m-44 6h0m-16 6h0m10-2h0m14 6h0m36-5h0m2-1h0m19 3h0m3-2h0m16 16h0m-10 1h0m-9-7h0m-21 1h0m-5-1h0m-28 11h0m0 0h0m40 5h0m15 1h0m-19 10h0m-31 9h0m11 2h0m44-8h0m-4 8h0m-11 8h0m-3-2h0m-16 1h0m18 3h0m4 9h0m13-2h0m5-6h0m-23 15h0" stroke="#9f8bc1" stroke-width="5.20" stroke-linecap="round" fill="none"/>
<path transform="scale(.5)" d="M275 4659h0m-2-3h0m-2 4h0m7 3h0m2 2h0m1 0h0m0 4h0m-1 2h0m0 5h0m-2 3h0m-2-8h0m-5 4h0m-10 45h0m-8 7h0m3-6h0m4 3h0m-1 9h0m0-1h0m-3 2h0m-5-3h0m-1 1h0m-4 1h0" stroke="#8c76b6" stroke-width="5.20" stroke-linecap="round" fill="none"/>
<path transform="scale(.5)" d="M323 4614h0m-5 4h0m-1 0h0m-8 2h0m-3-4h0m-3 13h0m1-6h0m3-1h0m2 3h0m3-2h0m-10 8h0m-16 5h0m-2-1h0m0 0h0m-4-2h0m0-2h0m-1-1h0m-7 3h0m-6 4h0m-6 9h0m10 1h0m11-4h0m1-2h0m1 5h0m4-5h0m-11 11h0m-9 2h0m-16 69h0m7 3h0m1 3h0m3-6h0m-6 9h0m-2-1h0m-1 2h0m-2-1h0m0 4h0m-4-3h0" stroke="#7867b0" stroke-width="5.20" stroke-linecap="round" fill="none"/>
<path transform="scale(.5)" d="M319 4607h0m1 0h0m-3 12h0m-2-4h0m-3-2h0m0 7h0m-2-4h0m-10 1h0m-11 13h0m1-1h0m7 1h0m1-4h0m5-3h0m2 6h0m3-2h0m-9 5h0m-3-1h0m-5 3h0m-2 4h0m-1-6h0m-1 4h0m-5 1h0m-2-1h0m-2-3h0m-4 5h0m-4-4h0m0 1h0m-1 2h0m-4 12h0m2-3h0m0-3h0m5 5h0m13-8h0m-5 13h0m-23 63h0m4 9h0m0 13h0m0-3h0m-10-2h0m-2 7h0m-3-9h0" stroke="#655aab" stroke-width="5.20" stroke-linecap="round" fill="none"/>
<path transform="scale(.5)" d="M318 4615h0m0-5h0m-1 9h0m0 0h0m-1-7h0m-2 8h0m-4-8h0m-6 2h0m-1 6h0m-3-1h0m-31 10h0m20-2h0m3 1h0m1-1h0m4 2h0m1-1h0m4-5h0m1 6h0m4-6h0m5-1h0m-9 8h0m-8 2h0m-7 8h0m-6-9h0m-4 2h0m-2-1h0m-4 1h0m-1 7h0m-3-4h0m0-4h0m-3 2h0m-5 4h0m-2-2h0m0 7h0m4 4h0m2-6h0m2 4h0m3-3h0m9 6h0m4-4h0m0 2h0m1 0h0m1 0h0m-6 5h0m-2 1h0m-1 2h0m-12 65h0m-3 0h0m-4-1h0m-4 7h0m6 5h0m5-2h0m0 9h0m-2 0h0m0-1h0m-2 1h0m-1-4h0m-8 3h0" stroke="#5450a6" stroke-width="5.20" stroke-linecap="round" fill="none"/>
<path transform="scale(.5)" d="M322 4615h0m-3 0h0m0-3h0m-1 0h0m0-1h0m-1 8h0m-1-9h0m-5 6h0m-2-5h0m0 1h0m-2 7h0m-35 9h0m22 0h0m2 1h0m3-6h0m6-2h0m0 8h0m1-8h0m2 0h0m-6 10h0m-15 2h0m-1 0h0m-2 6h0m-6 0h0m-1-3h0m-4-1h0m-3-1h0m-15 5h0m6 7h0m5 0h0m10 0h0m5-4h0m-11 10h0m-8 67h0m-2-2h0m-1-2h0m-1 9h0m0-3h0m0 4h0m-2 7h0m-2 8h0" stroke="#3d489f" stroke-width="5.20" stroke-linecap="round" fill="none"/>
<line x1="110.8" y1="2417.9" x2="110.8" y2="2276.0" stroke="#000" stroke-width="3"/>
<line x1="109.3" y1="2416.5" x2="285.8" y2="2416.5" stroke="#000" stroke-width="3"/>
<line x1="104.8" y1="2291.1" x2="110.8" y2="2291.1" stroke="#000" stroke-width="2.6"/>
<text x="96.5" y="2299.7" font-family="'Liberation Sans', Arial, sans-serif" font-size="25" text-anchor="end" fill="#1A1A1A">10</text>
<line x1="104.8" y1="2317.1" x2="110.8" y2="2317.1" stroke="#000" stroke-width="2.6"/>
<text x="96.5" y="2325.7" font-family="'Liberation Sans', Arial, sans-serif" font-size="25" text-anchor="end" fill="#1A1A1A">5</text>
<line x1="104.8" y1="2343.1" x2="110.8" y2="2343.1" stroke="#000" stroke-width="2.6"/>
<text x="96.5" y="2351.7" font-family="'Liberation Sans', Arial, sans-serif" font-size="25" text-anchor="end" fill="#1A1A1A">0</text>
<line x1="104.8" y1="2369.1" x2="110.8" y2="2369.1" stroke="#000" stroke-width="2.6"/>
<text x="96.5" y="2377.7" font-family="'Liberation Sans', Arial, sans-serif" font-size="25" text-anchor="end" fill="#1A1A1A">-5</text>
<line x1="104.8" y1="2395.1" x2="110.8" y2="2395.1" stroke="#000" stroke-width="2.6"/>
<text x="96.5" y="2403.7" font-family="'Liberation Sans', Arial, sans-serif" font-size="25" text-anchor="end" fill="#1A1A1A">-10</text>
<line x1="110.8" y1="2416.5" x2="110.8" y2="2423.0" stroke="#000" stroke-width="2.6"/>
<text x="110.8" y="2448.0" font-family="'Liberation Sans', Arial, sans-serif" font-size="25" text-anchor="middle" fill="#1A1A1A">-15</text>
<line x1="146.4" y1="2416.5" x2="146.4" y2="2423.0" stroke="#000" stroke-width="2.6"/>
<text x="146.4" y="2448.0" font-family="'Liberation Sans', Arial, sans-serif" font-size="25" text-anchor="middle" fill="#1A1A1A">-10</text>
<line x1="182.1" y1="2416.5" x2="182.1" y2="2423.0" stroke="#000" stroke-width="2.6"/>
<text x="182.1" y="2448.0" font-family="'Liberation Sans', Arial, sans-serif" font-size="25" text-anchor="middle" fill="#1A1A1A">-5</text>
<line x1="217.8" y1="2416.5" x2="217.8" y2="2423.0" stroke="#000" stroke-width="2.6"/>
<text x="217.8" y="2448.0" font-family="'Liberation Sans', Arial, sans-serif" font-size="25" text-anchor="middle" fill="#1A1A1A">0</text>
<line x1="253.4" y1="2416.5" x2="253.4" y2="2423.0" stroke="#000" stroke-width="2.6"/>
<text x="253.4" y="2448.0" font-family="'Liberation Sans', Arial, sans-serif" font-size="25" text-anchor="middle" fill="#1A1A1A">5</text>
<text x="196.4" y="2481.0" font-family="'Liberation Sans', Arial, sans-serif" font-size="28" text-anchor="middle" fill="#1A1A1A" textLength="95.9" lengthAdjust="spacingAndGlyphs">umap_1</text>
<text x="49.0" y="2347.0" font-family="'Liberation Sans', Arial, sans-serif" font-size="28" text-anchor="middle" fill="#1A1A1A" textLength="99.0" lengthAdjust="spacingAndGlyphs" transform="rotate(-90 49.0 2347.0)">umap_2</text>
<rect x="309.2" y="2271.5" width="29.6" height="153.3" fill="url(#gradH)"/>
<line x1="309.2" y1="2284.4" x2="315.2" y2="2284.4" stroke="#FFFFFF" stroke-width="1.2" stroke-opacity="0.7"/>
<line x1="332.8" y1="2284.4" x2="338.8" y2="2284.4" stroke="#FFFFFF" stroke-width="1.2" stroke-opacity="0.7"/>
<text x="352.3" y="2293.0" font-family="'Liberation Sans', Arial, sans-serif" font-size="25" fill="#1A1A1A">5</text>
<line x1="309.2" y1="2316.0" x2="315.2" y2="2316.0" stroke="#FFFFFF" stroke-width="1.2" stroke-opacity="0.7"/>
<line x1="332.8" y1="2316.0" x2="338.8" y2="2316.0" stroke="#FFFFFF" stroke-width="1.2" stroke-opacity="0.7"/>
<text x="352.3" y="2324.6" font-family="'Liberation Sans', Arial, sans-serif" font-size="25" fill="#1A1A1A">4</text>
<line x1="309.2" y1="2346.2" x2="315.2" y2="2346.2" stroke="#FFFFFF" stroke-width="1.2" stroke-opacity="0.7"/>
<line x1="332.8" y1="2346.2" x2="338.8" y2="2346.2" stroke="#FFFFFF" stroke-width="1.2" stroke-opacity="0.7"/>
<text x="352.3" y="2354.8" font-family="'Liberation Sans', Arial, sans-serif" font-size="25" fill="#1A1A1A">3</text>
<line x1="309.2" y1="2377.1" x2="315.2" y2="2377.1" stroke="#FFFFFF" stroke-width="1.2" stroke-opacity="0.7"/>
<line x1="332.8" y1="2377.1" x2="338.8" y2="2377.1" stroke="#FFFFFF" stroke-width="1.2" stroke-opacity="0.7"/>
<text x="352.3" y="2385.7" font-family="'Liberation Sans', Arial, sans-serif" font-size="25" fill="#1A1A1A">2</text>
<line x1="309.2" y1="2408.0" x2="315.2" y2="2408.0" stroke="#FFFFFF" stroke-width="1.2" stroke-opacity="0.7"/>
<line x1="332.8" y1="2408.0" x2="338.8" y2="2408.0" stroke="#FFFFFF" stroke-width="1.2" stroke-opacity="0.7"/>
<text x="352.3" y="2416.6" font-family="'Liberation Sans', Arial, sans-serif" font-size="25" fill="#1A1A1A">1</text>
<text x="541.6" y="2258.7" font-family="'Liberation Sans', Arial, sans-serif" font-size="30" font-weight="bold" text-anchor="middle" textLength="107.3" lengthAdjust="spacingAndGlyphs">TAGLN</text>
<path d="M580.2 2289.3 L588.7 2288.6 L591.1 2291.7 L593.9 2299.1 L593.9 2305.2 L597.2 2310.7 L592.3 2315.0 L587.5 2316.2 L584.4 2312.6 L580.2 2312.6 L576.5 2307.7 L573.5 2304.0 L574.1 2299.7 L577.7 2293.5 Z" fill="#d2d1d3" stroke="#d2d1d3" stroke-width="1.5" stroke-linejoin="round"/>
<path d="M587.5 2316.2 L594.8 2312.6 L600.9 2313.2 L605.7 2316.2 L607.0 2322.4 L604.5 2327.3 L607.0 2333.4 L613.1 2340.8 L615.5 2346.9 L614.3 2353.1 L611.8 2362.3 L611.2 2371.5 L608.8 2377.6 L603.9 2382.5 L594.8 2383.7 L590.5 2381.3 L588.7 2374.5 L587.5 2365.3 L589.3 2356.1 L587.5 2346.9 L586.2 2340.8 L587.5 2334.6 L587.5 2328.5 Z" fill="#d2d1d3" stroke="#d2d1d3" stroke-width="1.5" stroke-linejoin="round"/>
<path d="M548.5 2322.4 L554.0 2321.8 L559.4 2326.1 L564.3 2327.3 L565.5 2332.2 L570.4 2334.6 L572.8 2340.8 L575.9 2346.9 L577.7 2354.3 L578.3 2362.3 L576.5 2365.3 L572.8 2362.3 L568.0 2356.1 L563.1 2350.0 L557.0 2343.9 L552.1 2337.7 L549.1 2331.6 L547.9 2325.4 Z" fill="#d0cfd2" stroke="#d0cfd2" stroke-width="1.5" stroke-linejoin="round"/>
<path d="M569.8 2327.3 L581.4 2327.3 L586.9 2328.5 L587.5 2334.6 L585.6 2340.8 L583.8 2343.9 L581.4 2342.6 L576.5 2338.3 L572.8 2335.9 L569.8 2332.2 Z" fill="#d1d0d3" stroke="#d1d0d3" stroke-width="1.5" stroke-linejoin="round"/>
<path d="M572.8 2369.0 L576.5 2365.3 L585.6 2365.3 L588.7 2369.0 L588.7 2374.5 L585.6 2374.5 L578.9 2373.9 L574.1 2375.1 L572.2 2372.7 Z" fill="#d2d1d3" stroke="#d2d1d3" stroke-width="1.5" stroke-linejoin="round"/>
<path d="M507.2 2306.6 L504.8 2305.0 L499.3 2307.4 L494.6 2310.6 L491.5 2314.6 L488.3 2316.2 L482.0 2315.4 L475.7 2317.7 L472.5 2321.7 L474.1 2325.7 L478.1 2328.9 L480.4 2333.6 L479.6 2338.4 L481.2 2344.7 L483.6 2347.1 L485.9 2344.7 L486.3 2338.4 L486.7 2333.6 L485.9 2328.9 L487.5 2324.1 L491.5 2320.9 L497.8 2317.7 L503.3 2312.2 L507.2 2309.0 Z" fill="#6761ad" stroke="#6761ad" stroke-width="1.5" stroke-linejoin="round"/>
<path d="M484.4 2351.5 L488.3 2354.3 L492.2 2360.6 L496.2 2363.8 L495.4 2368.5 L489.9 2372.5 L482.0 2374.9 L475.7 2376.5 L470.2 2374.9 L467.0 2370.1 L467.8 2365.4 L474.1 2360.6 L480.4 2355.8 L482.8 2352.7 Z" fill="#ada6c6" stroke="#ada6c6" stroke-width="1.5" stroke-linejoin="round"/>
<path d="M500.1 2408.2 L499.4 2410.5 L497.4 2412.2 L494.6 2412.8 L491.9 2412.2 L489.9 2410.5 L489.2 2408.2 L489.9 2405.9 L491.9 2404.2 L494.6 2403.6 L497.4 2404.2 L499.4 2405.9 Z" fill="#d3d3d3" stroke="#d3d3d3" stroke-width="1.5" stroke-linejoin="round"/>
<path transform="scale(.5)" d="M1178 4578h0m-2 0h0m-3 2h0m-1 0h0m-10 0h0m-6 10h0m1-1h0m2 0h0m1-8h0m0 6h0m1-3h0m0-1h0m1 2h0m2 3h0m0-3h0m1 0h0m0 0h0m1 5h0m1-3h0m0 1h0m2 1h0m1-9h0m0 9h0m1-5h0m1 0h0m1-2h0m0 8h0m0-8h0m1 5h0m1-6h0m1 6h0m1 0h0m0-2h0m1 1h0m0-2h0m1 4h0m0 1h0m1 0h0m3 1h0m1-1h0m2 8h0m-1-1h0m0-6h0m-1 8h0m-2-7h0m-1 1h0m-1-1h0m0 4h0m-1-1h0m0-2h0m0-2h0m-1 1h0m-1 1h0m0 3h0m-1 4h0m-1-8h0m-1 6h0m-1 0h0m0-2h0m-1-4h0m0 2h0m-1 6h0m0-9h0m-1 2h0m-1-2h0m-1 9h0m0-9h0m-1 8h0m-1-1h0m-1-3h0m0-2h0m0-1h0m0 2h0m0-2h0m-1 5h0m-1-3h0m-1 2h0m0-1h0m0-2h0m0 2h0m-1 2h0m-1 2h0m0-1h0m-1-4h0m-2-2h0m-1 9h0m0-6h0m-1 5h0m0-3h0m0 0h0m-1 4h0m0-6h0m-2 3h0m0-4h0m-1 1h0m0 1h0m0 5h0m-1-4h0m-3 11h0m1-5h0m1 3h0m0 0h0m0-4h0m1 5h0m1-2h0m0 0h0m1 1h0m0 2h0m1-3h0m2 4h0m0-1h0m1-2h0m5-3h0m3 5h0m0 0h0m1-3h0m2 5h0m1-4h0m0 3h0m1-2h0m1-2h0m1-1h0m0 5h0m0 0h0m1 0h0m0-5h0m2 5h0m1 1h0m0-4h0m1-2h0m1 0h0m0 1h0m1-2h0m0 0h0m0 7h0m2-5h0m0-4h0m0 6h0m1-1h0m0-5h0m0 7h0m0-1h0m1 0h0m0-3h0m0 1h0m1-2h0m1 2h0m1 2h0m4 14h0m-1-1h0m0-1h0m-1-4h0m-1 3h0m0-6h0m-1 8h0m-1-1h0m0 1h0m-1-7h0m0 7h0m-1 0h0m0-1h0m-1-8h0m-2 5h0m0-2h0m0 7h0m-1-7h0m-1-1h0m0 0h0m0 0h0m0 7h0m-1-1h0m0 0h0m0 1h0m-1-3h0m0 2h0m-2-6h0m-1 4h0m0 3h0m0-1h0m0-4h0m-1 3h0m-1 0h0m-1 3h0m0-4h0m-1 3h0m0 0h0m0-8h0m-1 3h0m0 1h0m0-2h0m-1 2h0m0 4h0m0-1h0m-1-6h0m0-1h0m0 5h0m-1-5h0m-1-1h0m0 3h0m0 0h0m-1 3h0m-1-4h0m-2 2h0m0 2h0m0 0h0m-1-6h0m-1 5h0m0 1h0m-1-6h0m-1 7h0m0-2h0m-1 0h0m-2-1h0m6 7h0m2 0h0m0 0h0m4 0h0m1 2h0m0 2h0m0-3h0m1-1h0m6 6h0m2-5h0m1 0h0m0 1h0m2 1h0m0-2h0m0 7h0m1-5h0m1 1h0m0 5h0m1-7h0m0 1h0m1 2h0m1-4h0m1 7h0m1-8h0m0 6h0m0-6h0m0 4h0m1-2h0m0 1h0m0 3h0m2-6h0m0 5h0m0-2h0m1 3h0m1-7h0m0 3h0m2 3h0m2-6h0m0 9h0m7 1h0m0 0h0m1-1h0m1-1h0m2 0h0m1 2h0m0-1h0m5 9h0m0-1h0m-1-5h0m0 4h0m-2 2h0m0-3h0m-1-4h0m-1 8h0m-1-7h0m-3 0h0m0 8h0m0-6h0m0-2h0m-1 5h0m0 1h0m-1-6h0m0 0h0m0 0h0m-1 0h0m0 1h0m-1 4h0m-2 0h0m0-1h0m-1-1h0m-1 3h0m0 2h0m-1-5h0m0-4h0m-1 3h0m0 6h0m-2-5h0m-1-4h0m-1 5h0m-2 1h0m0-2h0m0 0h0m0 4h0m-1-1h0m0-3h0m-1 2h0m-1-3h0m0-3h0m0 1h0m-1 0h0m0 5h0m0 2h0m-1-5h0m-1 4h0m0-7h0m-2 5h0m0-6h0m0 3h0m-1 4h0m0-6h0m0 1h0m0 3h0m-79 15h0m0-3h0m0-1h0m3 2h0m1-3h0m2 0h0m3 0h0m0 1h0m2 2h0m2 0h0m0 1h0m1-1h0m1 1h0m63 0h0m0 0h0m1-4h0m0 4h0m0-4h0m1-3h0m0 2h0m1 2h0m1 2h0m0-3h0m0 2h0m0-6h0m1 9h0m0-9h0m3 0h0m0 1h0m1 2h0m1 3h0m1-1h0m0 2h0m2-7h0m1 1h0m0 1h0m0 6h0m0-7h0m1 2h0m1 4h0m1-2h0m1 4h0m0-6h0m1 6h0m1-5h0m0-1h0m0 3h0m1-3h0m1 1h0m2-3h0m0 2h0m0-3h0m1 0h0m1 2h0m1 1h0m1 4h0m2-2h0m1-3h0m1 1h0m0 5h0m3-3h0m0-4h0m1-1h0m0 0h0m1 1h0m2 3h0m-4 12h0m-1 1h0m-2-1h0m0 0h0m0 3h0m0-6h0m-2-2h0m-5 0h0m-1 4h0m0-4h0m-1 4h0m0-3h0m0 5h0m-1-7h0m-2 2h0m0-2h0m0 2h0m-2 5h0m0-2h0m0-2h0m0 6h0m-1-2h0m-1-5h0m-1 2h0m-1 1h0m-1-2h0m-1 4h0m0-8h0m0 4h0m-1-2h0m0 6h0m-1-3h0m-2 3h0m0-6h0m0-1h0m-2 9h0m-1-6h0m0-2h0m0-1h0m-1 3h0m0 0h0m-1 4h0m-1-7h0m0 4h0m-1 1h0m-5 1h0m-1 1h0m-1 0h0m-8-2h0m0 3h0m-2-1h0m-2 0h0m-4 1h0m-1-2h0m0-1h0m0-1h0m-6 4h0m0 0h0m-1-3h0m0 1h0m-2-1h0m-2 1h0m-12 0h0m0-1h0m-2 1h0m0 3h0m-2 0h0m-1-5h0m0 2h0m-2-4h0m0 5h0m-1 1h0m0-6h0m0 0h0m-1 7h0m0-6h0m-1-1h0m0 0h0m-1 6h0m-1-6h0m-1 2h0m-1 2h0m0-4h0m0-2h0m-1 0h0m0 7h0m-1-1h0m-1 2h0m0 1h0m0-7h0m-1-3h0m-2 8h0m0-5h0m0 0h0m0 0h0m-2 5h0m0 0h0m-1 0h0m-1-7h0m-2 4h0m0-3h0m0 7h0m-1-5h0m0 5h0m0-5h0m0 4h0m-2-2h0m-2-1h0m0-4h0m0 3h0m-1 2h0m0-3h0m1 7h0m1 3h0m2-2h0m1 7h0m1-2h0m0-3h0m0 1h0m1 2h0m1 1h0m0-2h0m0-1h0m1 2h0m1-5h0m1 1h0m2 0h0m0 7h0m1-1h0m0-5h0m0-2h0m1 8h0m1-7h0m0 6h0m1 1h0m0-1h0m0-3h0m1 2h0m1 1h0m0 0h0m1 1h0m1-3h0m0-4h0m0-2h0m0 6h0m1 2h0m1-4h0m0 3h0m0 1h0m0-1h0m1 1h0m3-4h0m3 3h0m0 0h0m0-7h0m1 8h0m1-8h0m1 1h0m1 9h0m5-2h0m4-4h0m1-1h0m0-2h0m1 4h0m0-1h0m2 1h0m1 4h0m0-4h0m1-2h0m1 5h0m1-4h0m0-3h0m1 2h0m6 1h0m0 5h0m1-6h0m0 5h0m2-7h0m2 8h0m0-6h0m1 0h0m0-1h0m1-1h0m2-1h0m1 5h0m0-4h0m2-1h0m1 10h0m1-9h0m1 4h0m0-1h0m1 1h0m0 2h0m1-1h0m0 0h0m2-5h0m0 3h0m0 4h0m2-4h0m1-3h0m0 2h0m1 1h0m0 5h0m0-2h0m1-7h0m1 7h0m0-1h0m2 2h0m0-2h0m1-2h0m0 3h0m0-1h0m3-2h0m1 2h0m0 3h0m0-1h0m1-5h0m1 2h0m1-1h0m1 1h0m0-2h0m0 3h0m1-1h0m1 2h0m0-3h0m0-2h0m1 3h0m3-2h0m1 3h0m1-2h0m1 2h0m0-2h0m1-2h0m1 0h0m1 5h0m0 1h0m0-2h0m0-5h0m1 3h0m0 2h0m1-3h0m1 1h0m1-1h0m0 6h0m1-5h0m1 2h0m1-3h0m0 1h0m0 6h0m1-6h0m1-2h0m10 15h0m0 0h0m-3-2h0m0-1h0m-1-1h0m0 0h0m0 6h0m-2-1h0m0-1h0m0 2h0m0-7h0m-1 2h0m0 0h0m-1-2h0m-1-1h0m-3 3h0m-1-3h0m0 0h0m-1 8h0m-2 1h0m0-2h0m0 1h0m0-7h0m-1 6h0m0-7h0m-2 0h0m-1 4h0m0-1h0m-1 6h0m0-1h0m0-6h0m0-2h0m-2 5h0m-3 1h0m0 3h0m0-1h0m-1-2h0m-1-3h0m-1-1h0m0 5h0m-1-1h0m0 2h0m-1-6h0m-2-2h0m0 2h0m0 6h0m0-6h0m-1-1h0m-1 3h0m0 5h0m0-2h0m-1-6h0m0 2h0m-1 2h0m-1-3h0m0-3h0m0 9h0m-1-1h0m-1-5h0m-2 2h0m-1 5h0m0-9h0m0 4h0m-1-2h0m0-2h0m0 7h0m-1-5h0m0 6h0m-1-6h0m0 4h0m0-6h0m-2 7h0m-2 1h0m-1-5h0m-3 5h0m0-8h0m-1 3h0m0 6h0m-2-2h0m-2-6h0m-4 1h0m0-1h0m-1 7h0m-1-2h0m-1-6h0m0 5h0m-2-5h0m-2 0h0m-2 1h0m0 1h0m0 0h0m0-3h0m-6 7h0m-2 2h0m-1-1h0m-2-8h0m0 5h0m0 2h0m-1 2h0m0-6h0m-2 1h0m0-1h0m0 3h0m-1-4h0m-1 4h0m-1 1h0m0-5h0m-2 3h0m0 5h0m-1-2h0m0-1h0m-3 1h0m-1-7h0m-1 8h0m0-7h0m-2 6h0m0-3h0m0-5h0m-2 3h0m0 2h0m-1-3h0m-1-1h0m-1 1h0m0 6h0m-1 0h0m0-7h0m0 7h0m-4-5h0m-1 6h0m0-3h0m-3-5h0m-1 2h0m-2-1h0m-1 1h0m-1-3h0m0 2h0m6 9h0m3 4h0m2 0h0m1-4h0m0 1h0m0 1h0m0-2h0m1 3h0m1 4h0m0-5h0m2 0h0m0-3h0m0 8h0m2 2h0m1-2h0m1-3h0m0 2h0m0 2h0m0-1h0m0-7h0m0 7h0m1-2h0m3-3h0m0-2h0m1-1h0m0 9h0m0-4h0m1 4h0m0-1h0m2 1h0m0-1h0m1-6h0m1 3h0m1 2h0m0-2h0m2 2h0m1-5h0m0 3h0m0-4h0m1 0h0m1 1h0m1 0h0m1 2h0m1 1h0m0-4h0m2 2h0m1 2h0m11-5h0m7 1h0m1 3h0m2-4h0m1 2h0m0 1h0m2 1h0m0 0h0m0-1h0m1-3h0m2 2h0m1-1h0m1 2h0m1 7h0m2-7h0m1 6h0m0-5h0m0 5h0m1-4h0m1 5h0m1-1h0m0-7h0m0 0h0m1 2h0m1 0h0m0 3h0m0-6h0m1 1h0m0 5h0m1-1h0m1-5h0m1 6h0m1-3h0m0-3h0m1-1h0m0 7h0m1-4h0m1 2h0m0 2h0m1 1h0m0-3h0m0-3h0m1 8h0m0-3h0m1-1h0m0 3h0m1-2h0m2-2h0m0 1h0m3-2h0m1 6h0m0 0h0m0-5h0m1 2h0m0 0h0m1 3h0m1-3h0m0 2h0m0 0h0m1-6h0m1 4h0m0-1h0m1 3h0m0 0h0m0-1h0m0-1h0m1-3h0m1 0h0m0 1h0m0 4h0m1-7h0m0-2h0m1 10h0m1-3h0m1-2h0m1 3h0m0 0h0m0-6h0m0 5h0m0 1h0m1-7h0m1 7h0m0-2h0m1-6h0m0 10h0m0-6h0m1 3h0m0 1h0m0 0h0m0 1h0m0-3h0m0-5h0m1 8h0m0-7h0m1 2h0m0 5h0m1-4h0m0-5h0m2 6h0m0-5h0m1 3h0m0 1h0m0-4h0m1 6h0m1 1h0m1 0h0m2 6h0m0-2h0m-1 6h0m-1-6h0m-2 7h0m-1-5h0m-1-2h0m0 7h0m-1-6h0m0-1h0m0 6h0m0-5h0m0 2h0m-1-1h0m-2-3h0m-1 2h0m0 5h0m0-2h0m0-3h0m-1-2h0m-1 0h0m-2 8h0m0-4h0m0-4h0m0-1h0m-1 0h0m0 2h0m-1 0h0m-3-2h0m-1 5h0m-1-5h0m0 7h0m0-2h0m0 1h0m-2 1h0m-1-1h0m0-5h0m-1 7h0m0-2h0m-1-4h0m-1 7h0m0-2h0m-1 2h0m-1-9h0m-2 6h0m-1-5h0m0 6h0m-1 1h0m-2-4h0m0-2h0m0 5h0m-1-1h0m0-3h0m0 3h0m-2 0h0m0-3h0m0 1h0m-1-2h0m-1-2h0m0 10h0m-2-4h0m0-2h0m-1 1h0m-1 0h0m-1 3h0m0-4h0m-1 2h0m-1 3h0m0 1h0m-2-2h0m-1-2h0m0-5h0m-2 0h0m0 5h0m-1 1h0m0 0h0m-1-3h0m0-3h0m-23 7h0m0-1h0m-1-2h0m0 0h0m-1-1h0m-1-2h0m-1 6h0m0 0h0m0-2h0m-2-3h0m-1 7h0m-3-1h0m-1-5h0m0-2h0m0 3h0m-1 0h0m-1-2h0m0 3h0m-1 0h0m-1-6h0m0 9h0m-3-8h0m0 3h0m-1-1h0m0 3h0m-1 2h0m0 1h0m0-3h0m-1 2h0m-4-6h0m0 3h0m-1 5h0m0-2h0m-1-3h0m-1-1h0m-1-1h0m0 0h0m0 1h0m-1-2h0m-1 3h0m-1-1h0m0-1h0m-151 13h0m2-1h0m2 2h0m3 1h0m156-4h0m1-1h0m0 3h0m1 3h0m1-4h0m0 0h0m0-3h0m2 4h0m1 1h0m0 3h0m1-3h0m1-2h0m2-1h0m2 1h0m0 2h0m0 0h0m0-2h0m0-2h0m1 6h0m1-5h0m0 3h0m0 1h0m1-5h0m0 7h0m1-5h0m0-5h0m0 2h0m1 2h0m1 1h0m0 1h0m1 2h0m0 0h0m1-2h0m0-2h0m1-3h0m2 6h0m0 2h0m23-1h0m0-3h0m0-5h0m1 7h0m2-4h0m0 0h0m1-2h0m0 0h0m1 9h0m0-7h0m0 6h0m1-7h0m1 7h0m1-4h0m0 4h0m3-6h0m0-1h0m1 1h0m1-1h0m1 1h0m1-2h0m2 4h0m1 0h0m2 3h0m0-5h0m0-2h0m0 4h0m2 0h0m0-4h0m1 7h0m2-7h0m0 5h0m2 3h0m0-5h0m1 3h0m0 2h0m2-2h0m0-3h0m1 5h0m0-1h0m0-7h0m2-1h0m1 4h0m0 0h0m1 2h0m1 3h0m1-5h0m1 2h0m0-4h0m0-1h0m3 5h0m0 3h0m0-4h0m1-1h0m1-2h0m0 0h0m0-1h0m0 0h0m2 0h0m0 6h0m0 0h0m0-1h0m0 3h0m1-5h0m1 6h0m1-5h0m0 0h0m0-3h0m1-2h0m0 1h0m1 1h0m-3 11h0m0 7h0m-1-7h0m-1 3h0m0-5h0m0 4h0m0-1h0m-2-1h0m-1 4h0m-1-6h0m-1-1h0m-3 10h0m-2-5h0m0 1h0m-1-3h0m0 4h0m0-1h0m-2 3h0m-1-8h0m0 3h0m-1-2h0m0-2h0m-2 5h0m0-1h0m0-2h0m-1 8h0m0-8h0m-1 5h0m0 1h0m0-3h0m0-5h0m0 7h0m-1-5h0m0 4h0m0-5h0m0 6h0m0 2h0m0 0h0m-2-5h0m0-2h0m0 0h0m-1 6h0m0-1h0m-2-4h0m-1 6h0m0-3h0m0-4h0m0 6h0m0-1h0m-1-6h0m0 8h0m0-5h0m-1 3h0m0 1h0m-1-7h0m0 5h0m0 3h0m0-3h0m0-5h0m0-1h0m0 8h0m-1-5h0m-1-2h0m0 5h0m-1-2h0m-1 3h0m0-7h0m0 4h0m-3 6h0m-2-9h0m0 9h0m-1-7h0m0 1h0m-4-3h0m0 8h0m0-2h0m-1-6h0m0 5h0m0-2h0m-1 0h0m0 3h0m-22-2h0m-1-1h0m0 0h0m-1-3h0m0 3h0m-3-1h0m0 3h0m-1 3h0m-4-2h0m-2-2h0m-1-2h0m0 6h0m0-5h0m0 1h0m-1-4h0m-1 5h0m0 0h0m-4-5h0m-158 2h0m-2-1h0m0 5h0m0 2h0m-1-4h0m-1-2h0m-1 5h0m0-2h0m-2 0h0m0 2h0m-2-2h0m-3-1h0m0 3h0m-2 0h0m-1 0h0m-2-3h0m-21 13h0m5 1h0m1 0h0m5 0h0m0-4h0m6-1h0m1 1h0m2-3h0m0 4h0m0 4h0m0-5h0m2 3h0m3-6h0m0 2h0m0 3h0m1-2h0m0 0h0m0 1h0m1 2h0m0-3h0m0 1h0m0-1h0m0-2h0m2 0h0m2 4h0m0-3h0m1-3h0m1 3h0m2 4h0m0-7h0m4 2h0m1-2h0m1 2h0m0 5h0m1-1h0m2 1h0m0-1h0m3 3h0m0-1h0m158-7h0m5 0h0m1-2h0m1 8h0m0 1h0m2-3h0m0 1h0m21 1h0m0-2h0m2-3h0m0 2h0m2 2h0m0-6h0m0 2h0m1 0h0m0-1h0m1 5h0m1-1h0m0-5h0m0 0h0m1 8h0m0 1h0m1-3h0m2-3h0m0 1h0m1 0h0m1-2h0m1 6h0m0-5h0m1-3h0m0 5h0m0 0h0m1 0h0m0 4h0m1-9h0m0 6h0m1 2h0m0-8h0m2 1h0m1 0h0m1 2h0m1-2h0m0 7h0m0-4h0m0 4h0m1-8h0m0 8h0m2-8h0m0 7h0m1-4h0m1 1h0m2 5h0m1-1h0m1-5h0m2-3h0m2 7h0m0-3h0m1-1h0m1 0h0m1-3h0m0 2h0m3 1h0m0-1h0m0 4h0m2 1h0m1-5h0m0 1h0m1-1h0m0 2h0m1 4h0m0-1h0m0 8h0m-3-1h0m0-1h0m0 4h0m-2 0h0m-1-4h0m0 2h0m-1-5h0m-1 2h0m0 3h0m-1 4h0m0 0h0m-1-1h0m-1-2h0m0 3h0m-2-7h0m0 2h0m-1-3h0m-1 1h0m0 4h0m-1-3h0m0-3h0m-1 9h0m-1-1h0m0-1h0m-1-7h0m-1 2h0m0 5h0m0 0h0m0-6h0m-2 1h0m0 2h0m0 0h0m-1 2h0m0-1h0m0-3h0m-1 4h0m0 1h0m0 1h0m-1 0h0m0 0h0m-4 0h0m0-2h0m0-6h0m-1 8h0m0-6h0m-1 5h0m-4-1h0m0-1h0m-2-1h0m-1-1h0m0 3h0m0-6h0m0 6h0m0-1h0m-4 2h0m-2-4h0m0 4h0m-2-3h0m-1 5h0m0-2h0m-1 1h0m0-3h0m-1 3h0m-1-4h0m-1 3h0m0-4h0m-1 2h0m-1 0h0m-1 2h0m0-2h0m-1 2h0m0-7h0m-1 5h0m0 2h0m-2-6h0m-4 6h0m-1 2h0m-3-5h0m-1 2h0m-1-3h0m-2 2h0m0 3h0m-1-2h0m-1 1h0m-1 2h0m-2-1h0m-2-1h0m-157-5h0m0 1h0m-3 2h0m0-4h0m-1 7h0m0-8h0m0 4h0m0-5h0m0 5h0m-1 4h0m-3-7h0m-2 5h0m-1-5h0m0 4h0m-1-3h0m0 2h0m-1-4h0m0 9h0m-1-6h0m-2 3h0m0 0h0m-1-3h0m-2-3h0m0 8h0m0-2h0m-1-3h0m-1 6h0m0-9h0m-1 8h0m-1-3h0m-1-3h0m0 6h0m-1 0h0m-1-4h0m-1-3h0m-1 5h0m-1-1h0m0 2h0m-1-2h0m-3-3h0m-1 3h0m-5-4h0m-2-1h0m-1 7h0m0 1h0m-3-1h0m-1-2h0m-2 1h0m-1-4h0m-1 5h0m-2-3h0m2 12h0m2-4h0m5-3h0m1 2h0m0 6h0m0-6h0m2 1h0m0 6h0m2-6h0m0 3h0m0-1h0m1 0h0m0 0h0m0-2h0m6-3h0m0 5h0m2-2h0m1 4h0m0 3h0m2-9h0m1 2h0m2 3h0m0-5h0m1 3h0m2 0h0m2 1h0m1-5h0m3 0h0m0 3h0m1-2h0m1 4h0m5-3h0m0 0h0m1 1h0m0-1h0m1-1h0m0-1h0m0 1h0m163 7h0m1-1h0m2-4h0m3 3h0m1-1h0m5-5h0m2 5h0m0-4h0m2 3h0m1 0h0m0-1h0m1 3h0m0 0h0m1 2h0m1-5h0m0 5h0m1-2h0m1-3h0m1 3h0m1 0h0m0-1h0m1 0h0m0-2h0m0 5h0m1-4h0m1 2h0m2 1h0m1-2h0m0 0h0m1-2h0m0 4h0m0-6h0m2 6h0m1 1h0m2-2h0m1 1h0m1-5h0m0 7h0m0-2h0m0 2h0m1-3h0m1-5h0m1 6h0m0-5h0m0 5h0m0 1h0m0-6h0m3 6h0m0-1h0m2-6h0m1 1h0m0 8h0m1-6h0m0 0h0m0 0h0m0 6h0m1-3h0m1-4h0m0 6h0m2-3h0m0 0h0m0-1h0m0-1h0m0 2h0m1-4h0m0 1h0m1 1h0m0-3h0m0 0h0m2 5h0m0-3h0m1 7h0m0-8h0m1 7h0m0-3h0m0 1h0m1 0h0m0 2h0m1-8h0m1 2h0m1 0h0m0-2h0m1 5h0m1-5h0m0-1h0m1 4h0m5 6h0m0-3h0m1-3h0m0 0h0m0-1h0m0 3h0m0-4h0m1 1h0m1 2h0m0-3h0m0 3h0m0 0h0m-3 10h0m0 1h0m-2-3h0m0 0h0m-2 4h0m0-2h0m0-2h0m0 2h0m0 1h0m-1 0h0m-1-2h0m0 4h0m-1 1h0m-1-2h0m-2-5h0m0-1h0m0 1h0m-1 7h0m-1-5h0m0 6h0m-1-4h0m-2 1h0m-1-3h0m-1-1h0m0 3h0m0-1h0m-2 1h0m0-1h0m-2 3h0m0-8h0m-1 6h0m-1-4h0m-1 8h0m-4-3h0m0-4h0m-2 1h0m-1 2h0m0 0h0m-1-5h0m-2 7h0m-3-3h0m0-2h0m0 5h0m-227-7h0m-7 0h0m237 13h0m5-3h0m0 5h0m3 0h0m2-5h0m1 2h0m2-1h0m1-1h0m0 1h0m1 3h0m1-3h0m1 3h0m0 0h0m2-3h0m0 2h0m2 1h0m0 0h0m0 0h0m2-2h0m2 0h0m2-3h0m2 1h0m-226 48h0m1 0h0m4 0h0m1 1h0m6 8h0m-1-5h0m0 2h0m0-3h0m-1 8h0m-1-1h0m-2-7h0m-2-1h0m-1 2h0m0 5h0m-2 1h0m-1-4h0m-1 2h0m-1 0h0m-1 1h0m0-7h0m-1 6h0m0 0h0m-1-7h0m0 5h0m-3 4h0m6 4h0m0-2h0m1 2h0m1 0h0m8-1h0" stroke="#D3D3D3" stroke-width="5.20" stroke-linecap="round" fill="none"/>
<path transform="scale(.5)" d="M1013 4618h0m-4 1h0m-7-1h0m-1 2h0m-2-4h0m-3 3h0m-3 5h0m2 2h0m7 1h0m6-5h0m-28 12h0m-2 2h0m-8 0h0m-8 2h0m-2 2h0m-1-7h0m-8 12h0m3 1h0m15 1h0m3-1h0m2-3h0m1 2h0m-3 11h0m-7 3h0m-6-7h0m2 13h0m1-3h0m7-1h0m-4 11h0m5 54h0m3-4h0m6 17h0m-2-5h0m-1 11h0" stroke="#bbaed4" stroke-width="5.20" stroke-linecap="round" fill="none"/>
<path transform="scale(.5)" d="M1153 4596h0m-5 9h0m15-1h0m4 5h0m16-8h0m-3 14h0m-7 4h0m-16-8h0m43 27h0m-99 9h0m84 2h0m7-8h0m21 2h0m-29 8h0m-6-1h0m-10 8h0m-45-2h0m-8 3h0m-3-4h0m0 1h0m-8-2h0m4 10h0m4 3h0m3-2h0m30-4h0m6 4h0m42-4h0m1 3h0m7 5h0m3-3h0m-33 9h0m-30 3h0m-4-6h0m-22 0h0m-7 5h0m17 8h0m5 2h0m1-2h0m13 5h0m1-2h0m16-4h0m56 13h0m-37-7h0m-38 1h0m-6 5h0m0 11h0m4-6h0m48 4h0m8 1h0m10-5h0m8 0h0m7 5h0m2 9h0m-73 1h0m-7-4h0m-160 8h0m-13-8h0m-2 3h0m-1 4h0m-2-6h0m-2 6h0m4 9h0m6 0h0m2 0h0m1-3h0m7-3h0m1-2h0m200 4h0m36 12h0m-7 0h0m-19-6h0m-203 1h0m-4 5h0m0-2h0m-6-3h0m-1 0h0m0 8h0m-4-4h0m-6-2h0m-1-3h0m0 6h0m-8 6h0m4 1h0m10 2h0m1 0h0m170-5h0m12 1h0m22-1h0m2 0h0m14 5h0m10-3h0m8 13h0m-3-1h0m-4 3h0m-10-3h0m-4 11h0" stroke="#ae9dcb" stroke-width="5.20" stroke-linecap="round" fill="none"/>
<path transform="scale(.5)" d="M975 4718h0m-1 0h0m-3 0h0m-8-4h0m-9 6h0m-5 1h0m1 2h0m9 4h0m0-5h0m9 5h0m9-6h0m1 8h0m4-6h0m0 6h0m1-9h0m2 6h0m3-2h0m1 6h0m2 0h0m0 2h0m-3 0h0m-3-1h0m-14 1h0m-9 0h0m-9 5h0m-2-6h0m-3 5h0m-6 3h0m2 7h0m24-6h0m0 1h0" stroke="#9f8bc1" stroke-width="5.20" stroke-linecap="round" fill="none"/>
<path transform="scale(.5)" d="M977 4710h0m-3 9h0m-17 1h0m-5 9h0m3-9h0m10 3h0m5 0h0m7 6h0m4-4h0m-21 9h0m0 1h0m-7 3h0m-1-4h0m-3 4h0m-1-2h0m-3 2h0m0-7h0m-8 8h0m-1 0h0m5 6h0m0-3h0m4 5h0m6-4h0m2 6h0m3-5h0m2 2h0m0-5h0m2 6h0m9-6h0" stroke="#8c76b6" stroke-width="5.20" stroke-linecap="round" fill="none"/>
<path transform="scale(.5)" d="M1010 4611h0m-2 8h0m-2-3h0m-16 7h0m4 4h0m3-4h0m1 2h0m1-5h0m0 9h0m-1 3h0m-6 3h0m0 0h0m-5-1h0m-1 1h0m-1 1h0m-1-3h0m-1-2h0m-1 1h0m-3 2h0m-5 6h0m-2-4h0m-15 0h0m0-1h0m-2-1h0m2 7h0m2 0h0m1 7h0m11 0h0m2 3h0m0-1h0m-5 6h0m-2 1h0m0 2h0m-5-1h0m-6-5h0m-3-1h0m10 12h0m11 5h0m-6 3h0m-1 4h0m-5-2h0m-1-1h0m6 17h0m0-7h0m4 5h0m2 1h0m-7 1h0m-18 32h0m1 5h0m2-2h0m2 4h0m3-1h0m0-3h0m4-2h0m1 11h0m-1 1h0m-4-4h0m-1 4h0m-1 3h0m-1-7h0m-3 4h0m-1-3h0m-5 3h0m0-1h0m-7-2h0m20 12h0" stroke="#7867b0" stroke-width="5.20" stroke-linecap="round" fill="none"/>
<path transform="scale(.5)" d="M1008 4616h0m-2-2h0m-2-1h0m-5 2h0m-5 3h0m-6 5h0m6-1h0m2 3h0m1 1h0m5 1h0m5-3h0m-14 11h0m0-2h0m-9 2h0m-6 1h0m-1 2h0m-1-1h0m-9-3h0m-3 4h0m-2-1h0m0-2h0m-2 3h0m-15 5h0m3 5h0m8 1h0m2-4h0m7-2h0m2-3h0m3 1h0m6-1h0m1 6h0m2-4h0m-7 8h0m-4 2h0m-11-2h0m3 14h0m3-3h0m2 3h0m2-2h0m2 7h0m3 11h0m-1-2h0m0-4h0m0-4h0m-1 6h0m-2-4h0m-6 4h0m-1 0h0m10 13h0m-5 4h0m-25 36h0m5-5h0m1 2h0m1 4h0m0-3h0m3-1h0m2 3h0m2-1h0m5-4h0m-7 15h0m0 0h0m-3-9h0m-2 9h0m-8-8h0m0 11h0m11 2h0m2 5h0m4 1h0" stroke="#655aab" stroke-width="5.20" stroke-linecap="round" fill="none"/>
<path transform="scale(.5)" d="M1012 4619h0m-4-4h0m-3 4h0m-15 11h0m0 0h0m2-9h0m1 6h0m8-5h0m3 2h0m3-1h0m0-1h0m0 1h0m-12 11h0m-6 3h0m-1-5h0m-1 1h0m-1 0h0m-5 5h0m-4-3h0m-9 2h0m-2 0h0m-2-3h0m-1 6h0m-2-8h0m-1 6h0m-5 0h0m-6 4h0m8 6h0m1-7h0m3 3h0m7 0h0m2 2h0m1 1h0m1 2h0m0-4h0m5-5h0m1 4h0m-12 6h0m-5 2h0m-1 5h0m-3 1h0m-1-7h0m-2 1h0m-4-1h0m-2-1h0m20 18h0m2 2h0m0 9h0m-3-1h0m-2 1h0m-3 6h0m0-2h0m5 6h0m3-6h0m0 5h0m-24 39h0m0-2h0m6 0h0m7-5h0m-2 12h0m-8 7h0m-2-7h0m-1 7h0m-2-7h0m-2-1h0m-1 7h0m0 1h0m-2-1h0m-2-5h0m-1 4h0m-1 0h0m-1 3h0m5 6h0m2-3h0m2 3h0m4 2h0m4-6h0" stroke="#5450a6" stroke-width="5.20" stroke-linecap="round" fill="none"/>
<path transform="scale(.5)" d="M1009 4611h0m0 5h0m-1-2h0m-6 3h0m-2 3h0m0-4h0m-4 4h0m-7 7h0m1-6h0m2 6h0m5 0h0m2-3h0m2 2h0m1-2h0m2-1h0m3 0h0m-12 10h0m-2 0h0m-1-3h0m-4 0h0m-9 2h0m-6 7h0m-3-2h0m-1-2h0m-1 3h0m-20 3h0m1 2h0m7-2h0m3 5h0m5-4h0m8-1h0m1 10h0m-3 7h0m-4-2h0m-1 2h0m-6 1h0m-8-8h0m7 10h0m3 4h0m4 1h0m7 9h0m-4 2h0m0-4h0m-7 7h0m6 4h0m2-4h0m0 3h0m1-1h0m2 6h0" stroke="#3d489f" stroke-width="5.20" stroke-linecap="round" fill="none"/>
<line x1="455.7" y1="2420.9" x2="455.7" y2="2279.0" stroke="#000" stroke-width="3"/>
<line x1="454.2" y1="2419.5" x2="630.7" y2="2419.5" stroke="#000" stroke-width="3"/>
<line x1="449.7" y1="2292.8" x2="455.7" y2="2292.8" stroke="#000" stroke-width="2.6"/>
<text x="441.4" y="2301.4" font-family="'Liberation Sans', Arial, sans-serif" font-size="25" text-anchor="end" fill="#1A1A1A">10</text>
<line x1="449.7" y1="2319.3" x2="455.7" y2="2319.3" stroke="#000" stroke-width="2.6"/>
<text x="441.4" y="2327.9" font-family="'Liberation Sans', Arial, sans-serif" font-size="25" text-anchor="end" fill="#1A1A1A">5</text>
<line x1="449.7" y1="2345.8" x2="455.7" y2="2345.8" stroke="#000" stroke-width="2.6"/>
<text x="441.4" y="2354.4" font-family="'Liberation Sans', Arial, sans-serif" font-size="25" text-anchor="end" fill="#1A1A1A">0</text>
<line x1="449.7" y1="2372.3" x2="455.7" y2="2372.3" stroke="#000" stroke-width="2.6"/>
<text x="441.4" y="2380.9" font-family="'Liberation Sans', Arial, sans-serif" font-size="25" text-anchor="end" fill="#1A1A1A">-5</text>
<line x1="449.7" y1="2398.8" x2="455.7" y2="2398.8" stroke="#000" stroke-width="2.6"/>
<text x="441.4" y="2407.4" font-family="'Liberation Sans', Arial, sans-serif" font-size="25" text-anchor="end" fill="#1A1A1A">-10</text>
<line x1="455.7" y1="2419.5" x2="455.7" y2="2426.0" stroke="#000" stroke-width="2.6"/>
<text x="455.7" y="2451.0" font-family="'Liberation Sans', Arial, sans-serif" font-size="25" text-anchor="middle" fill="#1A1A1A">-15</text>
<line x1="491.4" y1="2419.5" x2="491.4" y2="2426.0" stroke="#000" stroke-width="2.6"/>
<text x="491.4" y="2451.0" font-family="'Liberation Sans', Arial, sans-serif" font-size="25" text-anchor="middle" fill="#1A1A1A">-10</text>
<line x1="527.2" y1="2419.5" x2="527.2" y2="2426.0" stroke="#000" stroke-width="2.6"/>
<text x="527.2" y="2451.0" font-family="'Liberation Sans', Arial, sans-serif" font-size="25" text-anchor="middle" fill="#1A1A1A">-5</text>
<line x1="563.0" y1="2419.5" x2="563.0" y2="2426.0" stroke="#000" stroke-width="2.6"/>
<text x="563.0" y="2451.0" font-family="'Liberation Sans', Arial, sans-serif" font-size="25" text-anchor="middle" fill="#1A1A1A">0</text>
<line x1="598.7" y1="2419.5" x2="598.7" y2="2426.0" stroke="#000" stroke-width="2.6"/>
<text x="598.7" y="2451.0" font-family="'Liberation Sans', Arial, sans-serif" font-size="25" text-anchor="middle" fill="#1A1A1A">5</text>
<text x="541.3" y="2484.0" font-family="'Liberation Sans', Arial, sans-serif" font-size="28" text-anchor="middle" fill="#1A1A1A" textLength="95.9" lengthAdjust="spacingAndGlyphs">umap_1</text>
<text x="393.9" y="2350.0" font-family="'Liberation Sans', Arial, sans-serif" font-size="28" text-anchor="middle" fill="#1A1A1A" textLength="99.0" lengthAdjust="spacingAndGlyphs" transform="rotate(-90 393.9 2350.0)">umap_2</text>
<rect x="654.9" y="2272.9" width="30.9" height="154.6" fill="url(#gradH)"/>
<line x1="654.9" y1="2283.9" x2="660.9" y2="2283.9" stroke="#FFFFFF" stroke-width="1.2" stroke-opacity="0.7"/>
<line x1="679.8" y1="2283.9" x2="685.8" y2="2283.9" stroke="#FFFFFF" stroke-width="1.2" stroke-opacity="0.7"/>
<text x="699.3" y="2292.5" font-family="'Liberation Sans', Arial, sans-serif" font-size="25" fill="#1A1A1A">6</text>
<line x1="654.9" y1="2336.9" x2="660.9" y2="2336.9" stroke="#FFFFFF" stroke-width="1.2" stroke-opacity="0.7"/>
<line x1="679.8" y1="2336.9" x2="685.8" y2="2336.9" stroke="#FFFFFF" stroke-width="1.2" stroke-opacity="0.7"/>
<text x="699.3" y="2345.5" font-family="'Liberation Sans', Arial, sans-serif" font-size="25" fill="#1A1A1A">4</text>
<line x1="654.9" y1="2389.9" x2="660.9" y2="2389.9" stroke="#FFFFFF" stroke-width="1.2" stroke-opacity="0.7"/>
<line x1="679.8" y1="2389.9" x2="685.8" y2="2389.9" stroke="#FFFFFF" stroke-width="1.2" stroke-opacity="0.7"/>
<text x="699.3" y="2398.5" font-family="'Liberation Sans', Arial, sans-serif" font-size="25" fill="#1A1A1A">2</text>
<text x="893.9" y="2258.7" font-family="'Liberation Sans', Arial, sans-serif" font-size="30" font-weight="bold" text-anchor="middle" textLength="122.8" lengthAdjust="spacingAndGlyphs">CTHRC1</text>
<path d="M934.0 2290.0 L942.5 2289.3 L944.9 2292.4 L947.6 2299.8 L947.6 2305.9 L950.9 2311.4 L946.1 2315.7 L941.2 2316.9 L938.2 2313.3 L934.0 2313.3 L930.4 2308.4 L927.3 2304.7 L927.9 2300.4 L931.6 2294.2 Z" fill="#d2d2d3" stroke="#d2d2d3" stroke-width="1.5" stroke-linejoin="round"/>
<path d="M941.2 2316.9 L948.5 2313.3 L954.6 2313.9 L959.4 2316.9 L960.6 2323.1 L958.2 2328.0 L960.6 2334.1 L966.7 2341.5 L969.1 2347.6 L967.9 2353.8 L965.4 2363.0 L964.8 2372.2 L962.4 2378.3 L957.6 2383.2 L948.5 2384.4 L944.3 2382.0 L942.5 2375.2 L941.2 2366.0 L943.1 2356.8 L941.2 2347.6 L940.0 2341.5 L941.2 2335.3 L941.2 2329.2 Z" fill="#d1d0d2" stroke="#d1d0d2" stroke-width="1.5" stroke-linejoin="round"/>
<path d="M902.5 2323.1 L908.0 2322.5 L913.4 2326.8 L918.3 2328.0 L919.5 2332.9 L924.3 2335.3 L926.7 2341.5 L929.8 2347.6 L931.6 2355.0 L932.2 2363.0 L930.4 2366.0 L926.7 2363.0 L921.9 2356.8 L917.0 2350.7 L911.0 2344.6 L906.2 2338.4 L903.1 2332.3 L901.9 2326.1 Z" fill="#d1d1d2" stroke="#d1d1d2" stroke-width="1.5" stroke-linejoin="round"/>
<path d="M923.7 2328.0 L935.2 2328.0 L940.6 2329.2 L941.2 2335.3 L939.4 2341.5 L937.6 2344.6 L935.2 2343.3 L930.4 2339.0 L926.7 2336.6 L923.7 2332.9 Z" fill="#c3c0cd" stroke="#c3c0cd" stroke-width="1.5" stroke-linejoin="round"/>
<path d="M926.7 2369.7 L930.4 2366.0 L939.4 2366.0 L942.5 2369.7 L942.5 2375.2 L939.4 2375.2 L932.8 2374.6 L927.9 2375.8 L926.1 2373.4 Z" fill="#d3d3d3" stroke="#d3d3d3" stroke-width="1.5" stroke-linejoin="round"/>
<path d="M861.6 2307.3 L859.2 2305.7 L853.7 2308.1 L849.0 2311.3 L845.9 2315.3 L842.8 2316.9 L836.5 2316.1 L830.2 2318.4 L827.1 2322.4 L828.7 2326.4 L832.6 2329.6 L834.9 2334.3 L834.2 2339.1 L835.7 2345.4 L838.1 2347.8 L840.4 2345.4 L840.8 2339.1 L841.2 2334.3 L840.4 2329.6 L842.0 2324.8 L845.9 2321.6 L852.2 2318.4 L857.6 2312.9 L861.6 2309.7 Z" fill="#cdcdd1" stroke="#cdcdd1" stroke-width="1.5" stroke-linejoin="round"/>
<path d="M838.9 2352.2 L842.8 2355.0 L846.7 2361.3 L850.6 2364.5 L849.8 2369.2 L844.3 2373.2 L836.5 2375.6 L830.2 2377.2 L824.8 2375.6 L821.6 2370.8 L822.4 2366.1 L828.7 2361.3 L834.9 2356.5 L837.3 2353.4 Z" fill="#7272b2" stroke="#7272b2" stroke-width="1.5" stroke-linejoin="round"/>
<path d="M854.5 2408.9 L853.8 2411.2 L851.8 2412.9 L849.1 2413.5 L846.3 2412.9 L844.4 2411.2 L843.6 2408.9 L844.4 2406.6 L846.3 2404.9 L849.1 2404.3 L851.8 2404.9 L853.8 2406.6 Z" fill="#d3d3d3" stroke="#d3d3d3" stroke-width="1.5" stroke-linejoin="round"/>
<path transform="scale(.5)" d="M1886 4580h0m-2 0h0m-17 2h0m1 6h0m1-2h0m0-2h0m0 2h0m0-5h0m3 8h0m0-3h0m1 0h0m0 1h0m1 1h0m1 2h0m2-8h0m1 3h0m2-4h0m0 4h0m0-2h0m1-2h0m0 2h0m1 6h0m0-7h0m2 6h0m0 0h0m1-1h0m0 1h0m1-2h0m1 3h0m6 10h0m-1-2h0m0-6h0m-1-1h0m0 9h0m0-8h0m-2 1h0m0 1h0m-1-3h0m0 2h0m-1 4h0m0-1h0m0-4h0m-1 0h0m-1 2h0m-1 1h0m0 2h0m-2-3h0m0 6h0m-1 0h0m0-8h0m-1 6h0m0-5h0m0 2h0m-2-2h0m0-1h0m0 2h0m-2-1h0m0-1h0m0 9h0m0-9h0m-1 9h0m-1-1h0m0-8h0m-1 5h0m0-2h0m-1-2h0m0 2h0m0-1h0m0 5h0m-1-3h0m-1 2h0m0-2h0m-1-2h0m0 3h0m0 1h0m-1 3h0m-1-2h0m0-3h0m0-4h0m-2-1h0m-1 2h0m0-1h0m-1 4h0m0 3h0m-1-1h0m0-1h0m-1 2h0m-1 0h0m0-3h0m-1 1h0m0 1h0m-1 0h0m-3 12h0m1-3h0m0-3h0m0 3h0m0 0h0m1-3h0m1 4h0m1-6h0m0 4h0m0 1h0m1 1h0m0 1h0m0-3h0m2-4h0m1 8h0m0-8h0m0 7h0m1-7h0m0 5h0m5-3h0m2 2h0m0 3h0m0 0h0m2-2h0m3 0h0m0 3h0m0-2h0m2-1h0m0-2h0m0 5h0m1 0h0m0-9h0m0 10h0m1-6h0m2 5h0m1-2h0m0-6h0m1 4h0m0 0h0m1 0h0m0-2h0m0 1h0m2 1h0m1-3h0m0 5h0m0-1h0m0-4h0m1 6h0m0 0h0m0 0h0m1-4h0m0 1h0m0-3h0m1 3h0m2 2h0m2 13h0m-1-5h0m-1 4h0m0-7h0m-2 8h0m-1-6h0m-1 5h0m0-7h0m-1 4h0m-1 0h0m0-1h0m-1-4h0m0 4h0m-1-2h0m0 1h0m0-1h0m-1 7h0m0 0h0m-1-3h0m-1-6h0m0 8h0m-1-6h0m0 7h0m-1-3h0m-1 2h0m0-4h0m-1 3h0m0 0h0m-2-1h0m-1-4h0m0 2h0m0-4h0m0 6h0m0-3h0m0-3h0m-1 6h0m-1 2h0m0-6h0m0 0h0m-1 5h0m-1-5h0m0-1h0m-1 2h0m0 1h0m-1 2h0m0-4h0m-2 3h0m0 1h0m-1 1h0m0-6h0m-1 0h0m0 5h0m-1 0h0m0-5h0m-1 6h0m-1-1h0m0-1h0m-2-1h0m-138 4h0m-3-7h0m-2 0h0m0 6h0m0-1h0m0-1h0m-1 0h0m-1 0h0m0 2h0m-2-3h0m-2 4h0m-1 0h0m-1-1h0m-1-1h0m0 0h0m-5 3h0m-6 4h0m1 5h0m0-6h0m1 2h0m2-3h0m0 6h0m1-3h0m0 4h0m1-5h0m1 3h0m1-7h0m0 7h0m0-6h0m1 6h0m0-3h0m0 4h0m0-2h0m1-5h0m1 4h0m1-4h0m0 7h0m1-4h0m0-3h0m0 7h0m0-3h0m1 3h0m2-3h0m0 0h0m1-5h0m1 5h0m0 0h0m1-1h0m0 0h0m0 1h0m1-2h0m0-3h0m1 0h0m3 1h0m144 1h0m2 1h0m1-1h0m4 0h0m0 2h0m0 2h0m1-3h0m0-1h0m1-1h0m1-1h0m1 1h0m1 0h0m3 8h0m0-9h0m2 4h0m0-1h0m1 2h0m0-5h0m1 5h0m0-4h0m0 3h0m1 6h0m0-4h0m1 0h0m1-5h0m1 4h0m0 0h0m0 2h0m1-3h0m1-3h0m0 0h0m1 9h0m0-10h0m0 2h0m0 7h0m1-7h0m0 5h0m0-3h0m0-4h0m1 5h0m0 4h0m1-6h0m1 5h0m0-3h0m0 4h0m0-9h0m2 2h0m0-1h0m0 3h0m1 4h0m2-6h0m10 8h0m1 0h0m7 10h0m-1-2h0m0-4h0m-1 3h0m-2 2h0m0-2h0m0-5h0m-1-2h0m-1 1h0m0 3h0m-3 0h0m-1-3h0m0 4h0m0-2h0m0 5h0m0 2h0m0-9h0m-1 8h0m0-8h0m-1 3h0m0-1h0m0 0h0m-1 1h0m0 1h0m-1 3h0m-2 0h0m0-1h0m0 0h0m-1 3h0m-1-10h0m0 7h0m0-5h0m-1 3h0m-3 2h0m-1-5h0m0 6h0m-2 1h0m0-3h0m-1 4h0m0-4h0m-2 3h0m-1-7h0m0 1h0m0 5h0m-1-3h0m-1-4h0m0 9h0m0-8h0m-2 6h0m-1-6h0m0 6h0m0-5h0m0 1h0m-1 2h0m-175-6h0m-1 3h0m-3 2h0m-2-1h0m0 2h0m0-2h0m-1-2h0m0 4h0m0 1h0m-2-6h0m0 0h0m-2 1h0m0 1h0m-1 2h0m0 0h0m-1 1h0m-1-1h0m-1 3h0m0-4h0m0 2h0m-1-3h0m-1 0h0m-1 7h0m-1-5h0m-1 0h0m0-2h0m-1 5h0m-1-1h0m0 2h0m0-3h0m-1 2h0m-4-1h0m-2 1h0m0-1h0m-1-1h0m-1 2h0m0 1h0m-1-4h0m-1 3h0m-2-3h0m0 4h0m-2-1h0m0 1h0m0-3h0m0-2h0m-2 5h0m0 1h0m-1-5h0m-1 3h0m-1-1h0m-2 3h0m0-4h0m-10 9h0m3-3h0m1 1h0m1 1h0m1 2h0m3 1h0m2-4h0m1-1h0m0 7h0m1-2h0m0-5h0m1 0h0m0 6h0m1-7h0m1 5h0m2-5h0m2 4h0m2-3h0m1 3h0m1 3h0m1-6h0m0 6h0m1 2h0m0-1h0m1-2h0m0-5h0m0 4h0m1-5h0m1 4h0m0-4h0m1 5h0m1-5h0m1 1h0m0 5h0m0-1h0m2-3h0m117 5h0m0-1h0m3 2h0m1-1h0m0-1h0m2 0h0m3-1h0m0 2h0m2 1h0m2 1h0m1-1h0m65-3h0m0 0h0m0-3h0m1 3h0m1 1h0m0 2h0m0-3h0m1-4h0m1 0h0m1-1h0m2 2h0m0 0h0m1 2h0m0-4h0m1 8h0m1-2h0m0 3h0m2-8h0m0 2h0m1 1h0m0-2h0m0 2h0m2-4h0m0 9h0m1-7h0m0 4h0m0-6h0m1 4h0m1 2h0m0-2h0m1 4h0m1-4h0m1 1h0m1-3h0m0 2h0m1-2h0m0-1h0m1-1h0m0 3h0m2 1h0m0 5h0m2-9h0m1 6h0m1-3h0m0 2h0m4 2h0m0-5h0m0-1h0m1 0h0m0 2h0m1 0h0m1 3h0m-4 11h0m-1 2h0m-1-9h0m0 7h0m0 1h0m-1-4h0m-2-1h0m-5-1h0m0 4h0m-1 1h0m-1-3h0m0 4h0m-1-6h0m-1 2h0m-1-3h0m0 3h0m0-4h0m-1 8h0m0-8h0m0 6h0m0-2h0m-2 4h0m0-4h0m-2 2h0m0-7h0m0 8h0m-1-3h0m-1 4h0m-1-3h0m0-3h0m-2 3h0m0-6h0m0 3h0m-1 7h0m0-6h0m-3 2h0m0-3h0m-1-2h0m0 5h0m-1-1h0m-1-3h0m-1 4h0m0-6h0m-1 8h0m0-7h0m-4 7h0m-1 1h0m-2 1h0m0-1h0m-7-2h0m-2 2h0m-2 0h0m-6-1h0m0-1h0m-6 0h0m0 1h0m-3-1h0m-13 1h0m-1-1h0m-1 1h0m-3-1h0m0 2h0m-1-2h0m-1-2h0m-1 4h0m0-4h0m0-1h0m-1 2h0m-1-2h0m0 1h0m-1 5h0m-1-6h0m-1 2h0m-1 2h0m0-4h0m0-1h0m-1 0h0m0 7h0m-1-2h0m-1-2h0m0-6h0m0 5h0m0 3h0m-1-6h0m-1-2h0m-1 9h0m0-5h0m0 1h0m-2 5h0m0 0h0m-1-1h0m-1-7h0m-1 3h0m-1 1h0m0-3h0m0 3h0m-1 0h0m0 4h0m-2-2h0m-2-2h0m0-4h0m0 3h0m-1-4h0m0 3h0m-123-2h0m0 0h0m0 0h0m-1 0h0m0-2h0m0 7h0m-2 2h0m-2-5h0m-2 4h0m0-6h0m-1 8h0m0 0h0m-3-6h0m-1 5h0m-1 0h0m0-6h0m-3-1h0m0 0h0m-1-1h0m-1 4h0m-1-2h0m-2 0h0m-1-1h0m-1 0h0m-2 0h0m10 10h0m1-2h0m1 6h0m1 1h0m0-1h0m1-2h0m1 1h0m0-3h0m2 3h0m0 2h0m1-6h0m1 2h0m1 6h0m1-7h0m128-1h0m1 3h0m3-2h0m0 8h0m0-10h0m1 1h0m0 6h0m0-2h0m0 1h0m1 2h0m1 1h0m0-2h0m0-2h0m1 2h0m1-5h0m1 4h0m0-2h0m2 0h0m1 5h0m0-5h0m0-2h0m1 7h0m0-8h0m0 9h0m0-10h0m1 3h0m0 7h0m1-1h0m0-2h0m1-1h0m0-6h0m0 9h0m1 0h0m0 1h0m2-3h0m0-3h0m0-2h0m0 5h0m1 2h0m1-3h0m0 2h0m0-7h0m0 8h0m0-1h0m1 1h0m0-8h0m3 4h0m1-4h0m2 7h0m0 1h0m0-8h0m0 1h0m1 7h0m1-8h0m1 1h0m5 7h0m5-4h0m1-1h0m0-2h0m1 5h0m0-1h0m2 1h0m1-4h0m1-3h0m0 5h0m1 4h0m0-3h0m2-2h0m2 2h0m2-5h0m1 5h0m2 4h0m2-8h0m2 3h0m0-4h0m1 4h0m0-2h0m1-1h0m1 0h0m1 4h0m1-4h0m2 0h0m2 0h0m0 4h0m1 0h0m1 2h0m0-1h0m1 0h0m1-4h0m0 2h0m0 5h0m3-5h0m0-3h0m0 2h0m1 2h0m0 2h0m2-6h0m0 6h0m0-1h0m1-6h0m1 8h0m1-2h0m0-2h0m0 3h0m1-1h0m2-1h0m1 2h0m1 2h0m0-6h0m1 3h0m1-2h0m1 1h0m0-2h0m1 3h0m0-1h0m1 3h0m0-8h0m0 1h0m1 3h0m0-1h0m0 3h0m1-1h0m3-2h0m0 3h0m2-1h0m0 1h0m0-2h0m1-2h0m1 0h0m1 6h0m0 0h0m0-2h0m1-5h0m0 4h0m1 1h0m0 1h0m1-3h0m1 0h0m0 0h0m0 5h0m1-9h0m1 5h0m1 1h0m0-2h0m1 0h0m1 1h0m0-2h0m11 15h0m0 0h0m-3-3h0m-1 0h0m-1-2h0m0 1h0m-1 5h0m0-2h0m-1-4h0m-1 2h0m0-1h0m-1-1h0m-1-2h0m-2-1h0m0 5h0m-1-4h0m0 0h0m-3 7h0m-1-5h0m-1 6h0m0-7h0m-2 0h0m0 3h0m0-1h0m-2-5h0m0 4h0m0-1h0m-2 5h0m-2 0h0m-2 0h0m0-3h0m-1-1h0m-1 6h0m0-1h0m-1-4h0m-2-3h0m0 2h0m-1 6h0m0-5h0m0-1h0m-1 3h0m0-7h0m-1 9h0m-1-6h0m0 2h0m-1 2h0m0-3h0m-1-3h0m-2 3h0m-1 2h0m-2-3h0m0 3h0m0-2h0m-1-3h0m0 2h0m0 6h0m0-5h0m-1 0h0m0 4h0m-1-6h0m-1 7h0m-3-2h0m-1-2h0m-2 5h0m0-9h0m-1 4h0m-5-1h0m-3 0h0m-1-1h0m-1 7h0m-1-1h0m0-2h0m-2-7h0m0 2h0m-2 0h0m-3 3h0m-5-4h0m-1 7h0m-2 1h0m0 0h0m-2-7h0m0 4h0m-1 2h0m0 2h0m-1-6h0m0-1h0m-1 2h0m0-1h0m-1 3h0m0-3h0m-1 3h0m-1 2h0m0-5h0m-2-3h0m0 5h0m-1 3h0m0-1h0m-3 1h0m-1-7h0m-2 1h0m-1 7h0m0-3h0m0-5h0m-2 3h0m0 2h0m-1-4h0m-1-1h0m-1 1h0m0 7h0m-1-10h0m0 10h0m0-8h0m0 8h0m-2-6h0m-1-4h0m-1 4h0m-1 3h0m-2-7h0m-1 2h0m-1 2h0m0 5h0m-2-6h0m-1 2h0m-1-3h0m0 1h0m-130-2h0m-1 6h0m-1-2h0m0-3h0m-1 5h0m0-6h0m-1 0h0m-1 2h0m0 5h0m0-3h0m-1 4h0m0-5h0m-1 4h0m-1-4h0m-3 3h0m-1 0h0m0-2h0m-1-1h0m1 7h0m1 5h0m0-1h0m3-5h0m1 4h0m1 2h0m2-4h0m0 2h0m1-1h0m0 6h0m0-8h0m0 4h0m0 5h0m2-9h0m0 9h0m137-8h0m2-2h0m1 6h0m2 0h0m1-3h0m0 0h0m0 1h0m0-2h0m2 8h0m0-5h0m2-1h0m0-3h0m0 9h0m3-1h0m0-3h0m1 3h0m0 1h0m0-8h0m0 7h0m1-2h0m0-1h0m0-5h0m3 4h0m0-3h0m1-1h0m0 5h0m0 4h0m1-1h0m0 0h0m1-8h0m0 5h0m1 3h0m1-5h0m1 3h0m1 1h0m0-2h0m2 3h0m0-5h0m1 3h0m0-4h0m0 0h0m2 1h0m1-1h0m1 3h0m0-5h0m1 6h0m0-4h0m2 2h0m0 5h0m1-3h0m11-5h0m6 0h0m2 4h0m1-5h0m1 1h0m0 1h0m1 2h0m1 1h0m1-1h0m0-1h0m0-2h0m2-2h0m1 4h0m0-2h0m2 2h0m2-4h0m1 4h0m1 1h0m0-4h0m1 5h0m1-3h0m1 0h0m1 2h0m0-5h0m0 5h0m1 4h0m0-7h0m0 1h0m1 5h0m1 0h0m0-6h0m0-1h0m2 7h0m1-2h0m0-3h0m0-2h0m1 7h0m0-4h0m1-4h0m0 7h0m0 1h0m1 2h0m1-4h0m0-3h0m1 5h0m0 0h0m1-8h0m0 1h0m1 7h0m1-2h0m0 1h0m3-6h0m0 0h0m1 5h0m1 1h0m0 1h0m0 1h0m2-1h0m2-7h0m0 4h0m0-4h0m0 7h0m1-1h0m0 2h0m1-8h0m0 7h0m1-3h0m0 0h0m0 2h0m1-4h0m0-1h0m2 6h0m1-2h0m1 3h0m0 1h0m0-6h0m0 4h0m1 1h0m0-7h0m1-1h0m0 8h0m1-1h0m0-6h0m0-1h0m1 4h0m0 4h0m0 1h0m0 0h0m0-3h0m0-5h0m1 1h0m1 3h0m0 4h0m1-3h0m0-5h0m2 5h0m0-5h0m1 3h0m0 1h0m1-4h0m0 7h0m1 0h0m1 1h0m2 5h0m0-1h0m-1 6h0m-1-7h0m-2 2h0m-1-2h0m-1 2h0m-1-2h0m0 6h0m0-4h0m0 2h0m-1-2h0m-1-2h0m-1-3h0m0 4h0m0 6h0m-1-10h0m0 5h0m-1-3h0m0-1h0m0 7h0m-1-5h0m-2 4h0m0-5h0m0 0h0m0-1h0m0 3h0m-2-1h0m-1-2h0m-2-1h0m0 2h0m-1 4h0m-1-4h0m0 6h0m0-1h0m0-7h0m0 7h0m0-6h0m-2 8h0m0-8h0m-1 7h0m0-6h0m0-1h0m0 8h0m-1-2h0m-1-4h0m0-2h0m-1 0h0m0 8h0m-1-7h0m-2 6h0m-2-6h0m0 6h0m-1 2h0m0-9h0m-1 5h0m-1-5h0m0 2h0m0 5h0m0-1h0m0-3h0m0 4h0m-3-1h0m0-2h0m0 1h0m-1-2h0m0-2h0m-2 5h0m0-1h0m-2 1h0m0 0h0m-1 3h0m0-4h0m-1 1h0m-2-7h0m-1 1h0m-1 8h0m0-7h0m0 5h0m-1-5h0m0-1h0m-1 2h0m0 4h0m-1-6h0m-1 7h0m0 0h0m0-3h0m-1-2h0m-22 6h0m-1 0h0m0-2h0m0-1h0m-2-1h0m-1-2h0m0 7h0m0-1h0m-1-2h0m-2-3h0m-1-3h0m-2 1h0m-1 3h0m0-1h0m-1 2h0m0 0h0m-1-2h0m0 3h0m-1 0h0m-1-6h0m-1 7h0m-2-6h0m0 4h0m-2-1h0m0 3h0m0 1h0m0-8h0m0 9h0m0-2h0m-1 1h0m-2-8h0m-2 5h0m-1 3h0m-1-3h0m-1-1h0m0-4h0m-1 3h0m0 0h0m-1 2h0m0-3h0m0-2h0m-1 5h0m-1-1h0m0-1h0m-147-4h0m-1 0h0m-4 0h0m-1 4h0m0-3h0m-1 1h0m11 18h0m149-9h0m6 4h0m1-1h0m0 4h0m1-2h0m1 1h0m0-4h0m1 5h0m0-1h0m1-7h0m0 8h0m2 0h0m1-1h0m0-5h0m1 4h0m1-6h0m1 6h0m0 2h0m1 0h0m0-2h0m0-2h0m1-3h0m1 5h0m0 3h0m0 0h0m0-4h0m2 1h0m0-4h0m0 1h0m1 2h0m0 1h0m0 2h0m2 2h0m0 0h0m0-3h0m1-2h0m1-3h0m1 6h0m23 1h0m1-2h0m0-5h0m1 7h0m1-5h0m0 0h0m1-3h0m0 1h0m1 0h0m0-1h0m0 3h0m1 6h0m0-7h0m2 3h0m2 0h0m1-1h0m0-2h0m0-2h0m1 4h0m1-2h0m2 2h0m0-3h0m3 5h0m1 1h0m1 1h0m0-5h0m0-2h0m1 4h0m2-4h0m0 7h0m1-8h0m0-1h0m1 2h0m1 5h0m1-2h0m1-3h0m0 6h0m2 0h0m0-2h0m1 4h0m1-8h0m1 0h0m1 4h0m0-1h0m1 3h0m1-6h0m1 4h0m1-6h0m0 7h0m1-4h0m0 0h0m2 4h0m0 3h0m0-3h0m2-2h0m0-2h0m0 1h0m0-2h0m1 6h0m1-5h0m0 5h0m0 0h0m1-1h0m0-7h0m1 5h0m1 1h0m0-6h0m1 7h0m0-3h0m0-2h0m1 0h0m0 1h0m-3 11h0m0-3h0m-1 4h0m0-4h0m-1 6h0m0 0h0m0-5h0m0 4h0m0 0h0m-1-2h0m-2 4h0m-1-6h0m-1 0h0m-4-1h0m0 6h0m-1 1h0m0-4h0m0 4h0m-1-1h0m-2-5h0m-1 4h0m0-6h0m0 4h0m-1-2h0m-1 5h0m0-7h0m-1 6h0m0-2h0m-1-1h0m0-3h0m-1 9h0m0 1h0m0-3h0m0-6h0m0 8h0m0-5h0m0 3h0m0-5h0m0 7h0m-2-4h0m0-1h0m0-1h0m-1 7h0m0-1h0m-3-4h0m0 2h0m-1-4h0m0 7h0m0-2h0m-1-5h0m0 7h0m0-5h0m-1 3h0m0 1h0m0-6h0m0 4h0m-1 1h0m0-6h0m0 0h0m0 3h0m-1-3h0m-1 6h0m0-3h0m-1 3h0m-1-7h0m0 5h0m-3-6h0m-2 1h0m0 1h0m-1 2h0m0 1h0m-1-4h0m-2 2h0m-1 6h0m0-7h0m0 5h0m-1-2h0m0 0h0m-1 4h0m-22-3h0m0 0h0m0-5h0m-1 2h0m0 2h0m-3-1h0m-1 3h0m0 0h0m-4-6h0m0 7h0m-1-8h0m-1 7h0m-1-4h0m0 3h0m-1 0h0m-1-3h0m0 4h0m0 0h0m-3-6h0m-1 1h0m-4-2h0m-153 4h0m-2 5h0m-2-3h0m0 4h0m-1 0h0m0-3h0m-1 12h0m3-2h0m0-5h0m1-2h0m0 10h0m4-4h0m0-4h0m1 3h0m0 5h0m1-9h0m0 7h0m1-6h0m1 7h0m3 1h0m154-9h0m2 2h0m5-3h0m0 3h0m1-1h0m3 5h0m0 1h0m21 2h0m1-3h0m1-2h0m1 2h0m1 1h0m0-6h0m1-2h0m0 4h0m0 0h0m1-1h0m1 6h0m0-1h0m0-5h0m1 0h0m1 2h0m0-4h0m1 8h0m1-8h0m1 5h0m0 1h0m1-1h0m0-2h0m2 2h0m0-4h0m0 6h0m0-1h0m1 0h0m1-5h0m1 7h0m1-8h0m0 2h0m1 1h0m1 0h0m1-4h0m0 5h0m1-2h0m0 7h0m0-3h0m1-5h0m2 1h0m0 6h0m1-8h0m0 4h0m1-4h0m0 5h0m1-5h0m3 4h0m2-5h0m1 3h0m1 6h0m0-3h0m1-1h0m1 1h0m1-4h0m0-1h0m1 3h0m2 1h0m0-1h0m1 4h0m1 1h0m2-4h0m0 1h0m0-2h0m1 2h0m0 3h0m2-8h0m-2 10h0m0 7h0m-2-2h0m-1-1h0m0 2h0m0 2h0m-2 0h0m0-3h0m-1 2h0m-1-6h0m-1 3h0m0 2h0m-2 1h0m0 1h0m-2-4h0m-1 2h0m-1-4h0m-1 1h0m0 4h0m-1-7h0m0 5h0m0-3h0m-1-2h0m-1 9h0m0-8h0m-2 2h0m0 5h0m0 0h0m0-6h0m-2 2h0m0 1h0m0 0h0m0-6h0m0 8h0m0-1h0m-1-3h0m0 5h0m0 0h0m0-8h0m-5 1h0m0-2h0m-1 9h0m0-7h0m-1 2h0m0-3h0m0 9h0m-3-10h0m-1 8h0m-1 0h0m-2-2h0m0-1h0m0 4h0m-1-7h0m0 7h0m0-1h0m0-7h0m0 0h0m-4 8h0m-1-4h0m-1 5h0m-2-3h0m0 2h0m-2-2h0m-1 3h0m-1-4h0m0 4h0m-1-5h0m-1 3h0m0 0h0m-2 2h0m0-2h0m0 1h0m0-7h0m-1 5h0m0 2h0m-3-6h0m-3 6h0m-5-3h0m0 2h0m-2-3h0m-1 3h0m0-8h0m-1 10h0m0-1h0m-2 0h0m-4 1h0m-154-9h0m0 3h0m-2 0h0m0 2h0m-1-3h0m-1-2h0m0 4h0m-1 3h0m0-4h0m-1-2h0m0 1h0m-3-3h0m-1 2h0m0 1h0m-1 0h0m-2 4h0m0-6h0m-1 5h0m0-2h0m0 3h0m-1-5h0m0 4h0m-3 2h0m0 1h0m2 2h0m0 6h0m0-2h0m1-4h0m0 6h0m0-1h0m0-4h0m3-2h0m3 3h0m0 1h0m0 0h0m1-1h0m1-1h0m0 0h0m161 0h0m1 8h0m1-1h0m0-9h0m1 1h0m1 4h0m3 2h0m1-1h0m4-3h0m1-1h0m1-1h0m1 5h0m0-3h0m2 2h0m1 0h0m0 0h0m1 2h0m0 0h0m1 2h0m1-5h0m0 6h0m0-3h0m1-3h0m2 4h0m0-1h0m1-1h0m1 0h0m0-2h0m0 5h0m1-3h0m0 1h0m2-6h0m0 8h0m1-8h0m0 5h0m0 0h0m1-2h0m0 5h0m1-6h0m2 5h0m0-6h0m0 8h0m2-8h0m1 5h0m1 2h0m0-6h0m1 5h0m0-1h0m2-4h0m0 5h0m0-5h0m1 5h0m0 1h0m0-6h0m2 7h0m1-2h0m1-6h0m1-1h0m0 2h0m1-3h0m0 5h0m0 0h0m1 3h0m1-2h0m0-2h0m1-4h0m1 0h0m0 8h0m0-1h0m0-1h0m1-5h0m0 5h0m0 2h0m1-5h0m0 2h0m0 0h0m0-2h0m0-1h0m2 6h0m1-3h0m0-2h0m1 7h0m0-10h0m0 8h0m0 1h0m1 0h0m0-8h0m0 2h0m1 0h0m1 1h0m2 0h0m0-1h0m0 5h0m1-6h0m1 0h0m0 3h0m0-4h0m2 0h0m1 0h0m3 8h0m0-3h0m0-1h0m0-1h0m0 3h0m1-3h0m1 1h0m0 1h0m0-3h0m0 4h0m0 0h0m-2 9h0m-1-5h0m0 6h0m-1-3h0m-1 0h0m-1 2h0m-1 2h0m0-1h0m0-2h0m0 1h0m0 2h0m-1-1h0m0-1h0m-1 0h0m0 4h0m-2-2h0m-1-4h0m-1 4h0m0-6h0m0 2h0m-1-4h0m-1 5h0m-1 2h0m0-6h0m-2 8h0m0-4h0m-1-1h0m0 3h0m-1 0h0m-1 0h0m-1-1h0m-1-1h0m0-4h0m0 9h0m-1-8h0m0-1h0m-1 6h0m0-6h0m-1 3h0m-4 4h0m-1-3h0m-2 1h0m-1 1h0m0 1h0m0-8h0m0 3h0m-1-3h0m-2 10h0m-2-3h0m0-3h0m0 6h0m2 5h0m6-3h0m0 5h0m3 1h0m1-7h0m1 1h0m0 4h0m1-1h0m2-1h0m0-2h0m1 1h0m0 3h0m1-3h0m1 3h0m1 0h0m1-3h0m1 2h0m1 2h0m1-1h0m0 1h0m0-6h0m1 4h0m1-4h0m1 4h0m2-4h0m1-1h0m1 2h0m-212 57h0m-1-5h0m0 3h0m0-3h0m-4 0h0m-1-3h0m-1 2h0m0-2h0m-1 4h0m0 4h0m-3-2h0m-1-6h0m0-1h0m0 8h0m-1 0h0m-1 2h0m-1-7h0m0 5h0m0 0h0m-1-6h0m0 4h0m-3 4h0m6 5h0m0-2h0m1 1h0m0 0h0m1-3h0m8 3h0m0-3h0m1 0h0" stroke="#D3D3D3" stroke-width="5.20" stroke-linecap="round" fill="none"/>
<path transform="scale(.5)" d="M1681 4717h0m-5 0h0m-19 11h0m9-7h0m-4 10h0m-1 0h0m-6 9h0m-5-9h0m-1 12h0m8-2h0m10 6h0" stroke="#ae9dcb" stroke-width="5.20" stroke-linecap="round" fill="none"/>
<path transform="scale(.5)" d="M1682 4709h0m4 4h0m0-2h0m-2 3h0m-1 5h0m-1 3h0m0 2h0m1-4h0m0 5h0m1 4h0m1 0h0m1-7h0m3 3h0m2 0h0m1-2h0m0-1h0m2 6h0m0-1h0m2-2h0m4 7h0m-2-1h0m-2 6h0m-2-1h0m0-5h0m0 5h0m-6 3h0m-1-6h0m-3 2h0m2 12h0m2-6h0m5 0h0m0 1h0m1-2h0" stroke="#9f8bc1" stroke-width="5.20" stroke-linecap="round" fill="none"/>
<path transform="scale(.5)" d="M1887 4593h0m4 10h0m2 33h0m13 17h0m-11-2h0m-46 8h0m-32-5h0m-12 4h0m49 2h0m36 19h0m-14-7h0m-51 13h0m88 5h0m13 8h0m-39-8h0m-52 4h0m69 13h0m3-1h0m21-4h0m-27 17h0m-38-3h0m-12-1h0m9 15h0m42 15h0m18-5h0" stroke="#8c76b6" stroke-width="5.20" stroke-linecap="round" fill="none"/>
<path transform="scale(.5)" d="M1890 4652h0m-4 0h0m-26 7h0m-4 4h0m11 8h0m-3 1h0m5 13h0" stroke="#7867b0" stroke-width="5.20" stroke-linecap="round" fill="none"/>
<path transform="scale(.5)" d="M1890 4636h0m-1-2h0m-5 1h0m2 14h0m1 4h0m-1 6h0m-3-9h0m-19 14h0m14 2h0m-5 13h0m-15-6h0m0 1h0m-1-2h0m-177 34h0m0 14h0m-6-6h0m-2 1h0m-13 9h0m1 3h0m2 0h0m1-6h0m1 9h0m0-8h0m5 4h0m1 1h0m7 1h0m-8 7h0m-7 4h0m0 1h0m-6-6h0m0 6h0m-1 0h0m-6 0h0m-3-6h0m-3 7h0m6 7h0m1-4h0m3 3h0m3 3h0m4-2h0m9-3h0m1 3h0m2-6h0m1-2h0m0 4h0m-3 7h0m-7 0h0" stroke="#655aab" stroke-width="5.20" stroke-linecap="round" fill="none"/>
<path transform="scale(.5)" d="M1702 4629h0m2 5h0m-6 4h0m-41 11h0m12 0h0m4-5h0m220 15h0m-216-2h0m-2 1h0m-9 2h0m187 6h0m-173 13h0m-2 28h0m1 10h0m-3 2h0m-2 1h0m-1-1h0m-18 10h0m2-2h0m0 1h0m2-1h0m5-1h0m4-2h0m0 5h0m0-6h0m0 4h0m2-4h0m5 1h0m0 1h0m0 3h0m1 1h0m1-3h0m0 1h0m0 2h0m0-5h0m2 1h0m2 4h0m0-4h0m-1 8h0m-1-1h0m0 2h0m0 5h0m-1-4h0m-1-3h0m-5 4h0m-1-2h0m-2 3h0m0 2h0m0-2h0m-7 3h0m-1-9h0m-2 2h0m0-1h0m-1 7h0m-1-2h0m0-5h0m0 2h0m-1-4h0m-3 6h0m-1-1h0m-1-3h0m-1 7h0m-1-7h0m0 3h0m-4 3h0m0 1h0m5 7h0m1-3h0m1-2h0m3 8h0m1 1h0m2-5h0m2-1h0m0 0h0m1 3h0m1-7h0m5 2h0m0 0h0m2 6h0m5-4h0m0-3h0m2 4h0m1-2h0m1 2h0m-19 6h0m-4 1h0" stroke="#5450a6" stroke-width="5.20" stroke-linecap="round" fill="none"/>
<path transform="scale(.5)" d="M1679 4714h0m-2 3h0m-6-1h0m-16 11h0m1-3h0m2-2h0m3 5h0m3 2h0m4-8h0m4-1h0m2 5h0m2-4h0m0 5h0m0 1h0m1 3h0m0-2h0m2-1h0m0-3h0m0 16h0m-1-8h0m0 5h0m-3 0h0m-1-2h0m-5 1h0m-1 0h0m0 2h0m-3-3h0m-1 3h0m-1-2h0m-1-1h0m-1-3h0m0-2h0m-1 2h0m-2 4h0m-1 2h0m-1 2h0m0-9h0m-2 1h0m-1 2h0m-1 3h0m-2 2h0m-4-2h0m-1 3h0m3 8h0m2-7h0m3 7h0m2-6h0m1 1h0m0 0h0m2-3h0m2 3h0m0 3h0m2 4h0m3-4h0m0-1h0m2 2h0m8 1h0m2-6h0m1 0h0m2 4h0m-18 7h0" stroke="#3d489f" stroke-width="5.20" stroke-linecap="round" fill="none"/>
<path transform="scale(.5)" d="M1681 4719h0m-31 10h0m5-3h0m12-1h0m4 2h0m1 3h0m9 5h0m-5 5h0m-5-6h0m-1-3h0m0 8h0m-4-5h0m-1-2h0m-8-1h0m-4 8h0m-4 1h0m-3-7h0m1 7h0m3 5h0m10 0h0m1 2h0m1-2h0m0-4h0m9 2h0m4-1h0m2-1h0m4 1h0m-15 10h0" stroke="#2a4a9e" stroke-width="5.20" stroke-linecap="round" fill="none"/>
<line x1="810.4" y1="2420.9" x2="810.4" y2="2279.0" stroke="#000" stroke-width="3"/>
<line x1="808.9" y1="2419.5" x2="985.4" y2="2419.5" stroke="#000" stroke-width="3"/>
<line x1="804.4" y1="2293.5" x2="810.4" y2="2293.5" stroke="#000" stroke-width="2.6"/>
<text x="796.1" y="2302.1" font-family="'Liberation Sans', Arial, sans-serif" font-size="25" text-anchor="end" fill="#1A1A1A">10</text>
<line x1="804.4" y1="2320.0" x2="810.4" y2="2320.0" stroke="#000" stroke-width="2.6"/>
<text x="796.1" y="2328.6" font-family="'Liberation Sans', Arial, sans-serif" font-size="25" text-anchor="end" fill="#1A1A1A">5</text>
<line x1="804.4" y1="2346.5" x2="810.4" y2="2346.5" stroke="#000" stroke-width="2.6"/>
<text x="796.1" y="2355.1" font-family="'Liberation Sans', Arial, sans-serif" font-size="25" text-anchor="end" fill="#1A1A1A">0</text>
<line x1="804.4" y1="2373.0" x2="810.4" y2="2373.0" stroke="#000" stroke-width="2.6"/>
<text x="796.1" y="2381.6" font-family="'Liberation Sans', Arial, sans-serif" font-size="25" text-anchor="end" fill="#1A1A1A">-5</text>
<line x1="804.4" y1="2399.5" x2="810.4" y2="2399.5" stroke="#000" stroke-width="2.6"/>
<text x="796.1" y="2408.1" font-family="'Liberation Sans', Arial, sans-serif" font-size="25" text-anchor="end" fill="#1A1A1A">-10</text>
<line x1="810.4" y1="2419.5" x2="810.4" y2="2426.0" stroke="#000" stroke-width="2.6"/>
<text x="810.4" y="2451.0" font-family="'Liberation Sans', Arial, sans-serif" font-size="25" text-anchor="middle" fill="#1A1A1A">-15</text>
<line x1="845.9" y1="2419.5" x2="845.9" y2="2426.0" stroke="#000" stroke-width="2.6"/>
<text x="845.9" y="2451.0" font-family="'Liberation Sans', Arial, sans-serif" font-size="25" text-anchor="middle" fill="#1A1A1A">-10</text>
<line x1="881.4" y1="2419.5" x2="881.4" y2="2426.0" stroke="#000" stroke-width="2.6"/>
<text x="881.4" y="2451.0" font-family="'Liberation Sans', Arial, sans-serif" font-size="25" text-anchor="middle" fill="#1A1A1A">-5</text>
<line x1="916.9" y1="2419.5" x2="916.9" y2="2426.0" stroke="#000" stroke-width="2.6"/>
<text x="916.9" y="2451.0" font-family="'Liberation Sans', Arial, sans-serif" font-size="25" text-anchor="middle" fill="#1A1A1A">0</text>
<line x1="952.4" y1="2419.5" x2="952.4" y2="2426.0" stroke="#000" stroke-width="2.6"/>
<text x="952.4" y="2451.0" font-family="'Liberation Sans', Arial, sans-serif" font-size="25" text-anchor="middle" fill="#1A1A1A">5</text>
<text x="896.0" y="2484.0" font-family="'Liberation Sans', Arial, sans-serif" font-size="28" text-anchor="middle" fill="#1A1A1A" textLength="95.9" lengthAdjust="spacingAndGlyphs">umap_1</text>
<text x="748.6" y="2350.0" font-family="'Liberation Sans', Arial, sans-serif" font-size="28" text-anchor="middle" fill="#1A1A1A" textLength="99.0" lengthAdjust="spacingAndGlyphs" transform="rotate(-90 748.6 2350.0)">umap_2</text>
<rect x="1007.8" y="2274.0" width="30.1" height="154.0" fill="url(#gradH)"/>
<line x1="1007.8" y1="2315.7" x2="1013.8" y2="2315.7" stroke="#FFFFFF" stroke-width="1.2" stroke-opacity="0.7"/>
<line x1="1031.9" y1="2315.7" x2="1037.9" y2="2315.7" stroke="#FFFFFF" stroke-width="1.2" stroke-opacity="0.7"/>
<text x="1051.4" y="2324.3" font-family="'Liberation Sans', Arial, sans-serif" font-size="25" fill="#1A1A1A">3</text>
<line x1="1007.8" y1="2361.2" x2="1013.8" y2="2361.2" stroke="#FFFFFF" stroke-width="1.2" stroke-opacity="0.7"/>
<line x1="1031.9" y1="2361.2" x2="1037.9" y2="2361.2" stroke="#FFFFFF" stroke-width="1.2" stroke-opacity="0.7"/>
<text x="1051.4" y="2369.8" font-family="'Liberation Sans', Arial, sans-serif" font-size="25" fill="#1A1A1A">2</text>
<line x1="1007.8" y1="2405.4" x2="1013.8" y2="2405.4" stroke="#FFFFFF" stroke-width="1.2" stroke-opacity="0.7"/>
<line x1="1031.9" y1="2405.4" x2="1037.9" y2="2405.4" stroke="#FFFFFF" stroke-width="1.2" stroke-opacity="0.7"/>
<text x="1051.4" y="2414.0" font-family="'Liberation Sans', Arial, sans-serif" font-size="25" fill="#1A1A1A">1</text>
<text x="1219.8" y="1974.1" font-family="'Liberation Sans', Arial, sans-serif" font-size="14" font-weight="bold" text-anchor="middle" textLength="60.6" lengthAdjust="spacingAndGlyphs">COL1A1</text>
<path d="M1215.4 2077.0 L1213.6 2076.2 L1195.1 2075.0 L1196.0 2072.7 L1196.9 2070.3 L1196.9 2068.1 L1196.9 2065.9 L1196.9 2063.7 L1196.4 2061.4 L1195.5 2059.2 L1195.1 2057.0 L1194.4 2054.8 L1193.1 2052.5 L1192.5 2050.3 L1191.7 2048.1 L1190.3 2045.8 L1189.5 2043.6 L1189.0 2041.4 L1188.1 2039.2 L1187.7 2037.0 L1187.5 2034.7 L1187.0 2032.5 L1186.4 2030.3 L1185.7 2028.0 L1185.3 2025.8 L1185.1 2023.6 L1184.8 2021.4 L1184.3 2019.2 L1183.6 2016.9 L1182.9 2014.7 L1182.3 2012.5 L1182.1 2010.2 L1181.8 2008.2 L1181.2 2006.2 L1180.5 2004.2 L1180.2 2002.2 L1180.0 1999.9 L1179.3 1997.6 L1178.7 1995.2 L1178.4 1992.9 L1178.4 1992.9 L1178.1 1995.2 L1177.5 1997.6 L1176.8 1999.9 L1176.6 2002.2 L1176.3 2004.2 L1175.6 2006.2 L1175.0 2008.2 L1174.7 2010.2 L1174.5 2012.5 L1173.9 2014.7 L1173.2 2016.9 L1172.5 2019.2 L1172.0 2021.4 L1171.7 2023.6 L1171.5 2025.8 L1171.1 2028.0 L1170.4 2030.3 L1169.8 2032.5 L1169.3 2034.7 L1169.2 2037.0 L1168.7 2039.2 L1167.8 2041.4 L1167.3 2043.6 L1166.5 2045.8 L1165.1 2048.1 L1164.3 2050.3 L1163.7 2052.5 L1162.4 2054.8 L1161.8 2057.0 L1161.3 2059.2 L1160.4 2061.4 L1159.9 2063.7 L1159.9 2065.9 L1159.9 2068.1 L1159.9 2070.3 L1160.8 2072.7 L1161.8 2075.0 L1143.2 2076.2 L1141.4 2077.0 Z" fill="#F0756C" stroke="#111" stroke-width="0.8"/>
<path d="M1299.8 2077.0 L1297.0 2075.0 L1294.2 2073.0 L1290.9 2070.8 L1284.7 2068.5 L1281.3 2066.3 L1280.0 2064.0 L1277.0 2061.6 L1274.1 2059.3 L1272.8 2057.0 L1272.4 2054.8 L1271.5 2052.7 L1270.4 2050.6 L1269.5 2048.4 L1269.1 2046.3 L1269.4 2044.0 L1270.0 2041.6 L1270.7 2039.3 L1270.9 2037.0 L1272.3 2034.9 L1275.2 2032.9 L1278.1 2030.9 L1279.5 2028.9 L1281.2 2026.9 L1285.0 2024.9 L1288.8 2022.9 L1290.5 2020.9 L1291.1 2018.8 L1292.5 2016.7 L1294.1 2014.5 L1295.5 2012.4 L1296.1 2010.2 L1294.9 2008.2 L1292.4 2006.2 L1289.9 2004.2 L1288.7 2002.2 L1287.3 2000.2 L1284.1 1998.2 L1280.9 1996.2 L1279.5 1994.2 L1276.7 1991.9 L1273.9 1989.6 L1262.8 1988.9 L1262.8 1988.9 L1251.7 1989.6 L1248.9 1991.9 L1246.1 1994.2 L1244.7 1996.2 L1241.5 1998.2 L1238.3 2000.2 L1236.9 2002.2 L1235.7 2004.2 L1233.2 2006.2 L1230.7 2008.2 L1229.5 2010.2 L1230.1 2012.4 L1231.5 2014.5 L1233.1 2016.7 L1234.5 2018.8 L1235.0 2020.9 L1236.8 2022.9 L1240.6 2024.9 L1244.4 2026.9 L1246.1 2028.9 L1247.5 2030.9 L1250.4 2032.9 L1253.3 2034.9 L1254.7 2037.0 L1254.9 2039.3 L1255.6 2041.6 L1256.2 2044.0 L1256.5 2046.3 L1256.1 2048.4 L1255.2 2050.6 L1254.1 2052.7 L1253.2 2054.8 L1252.8 2057.0 L1251.5 2059.3 L1248.6 2061.6 L1245.6 2064.0 L1244.3 2066.3 L1240.9 2068.5 L1234.7 2070.8 L1231.3 2073.0 L1228.6 2075.0 L1225.8 2077.0 Z" fill="#1FBCC1" stroke="#111" stroke-width="0.8"/>
<path transform="scale(.5)" d="M2591 3979h0m-24-1h0m-30 0h0m0 1h0m-29-1h0m-10 0h0m-22 0h0m-188 10h0m13 2h0m5-4h0m26 1h0m27 0h0m7 0h0m37 0h0m5-1h0m8 3h0m8-2h0m32 1h0m3-3h0m1-4h0m1 3h0m5 5h0m3 0h0m6-7h0m1-2h0m2 7h0m1 2h0m13-1h0m9-7h0m0 8h0m1 0h0m5-6h0m5 1h0m0-4h0m7 6h0m8 2h0m12-1h0m2 3h0m2-4h0m0-5h0m3 6h0m4-6h0m3 3h0m4 5h0m1-3h0m1 3h0m7-3h0m3 0h0m8-2h0m2 3h0m1-1h0m2-1h0m9 0h0m0 1h0m1 4h0m3 10h0m-3 0h0m-1-5h0m-2 3h0m-1 2h0m-5-7h0m-4 4h0m-1-2h0m0 4h0m-5-1h0m-23-7h0m-1 7h0m0-7h0m-7 9h0m-5-3h0m-8 3h0m-5-1h0m-5-2h0m-2 1h0m-5 2h0m-1-3h0m0-4h0m-1 1h0m-3-2h0m0-2h0m-4 6h0m-3 2h0m0 1h0m0-7h0m-5-1h0m-1 7h0m-1 1h0m-4-5h0m-4 5h0m-1 0h0m-5 1h0m-1-2h0m-3-1h0m-5-6h0m-1 7h0m-1-7h0m-1 5h0m-6-3h0m0 7h0m-2-7h0m0 3h0m-37 2h0m-4-6h0m-5 6h0m-9-2h0m-5-4h0m-15 5h0m-7 2h0m-5-4h0m0-3h0m-3 5h0m-9 2h0m-9-7h0m-6-2h0m-5 5h0m-3-3h0m-1 1h0m-2 2h0m0 3h0m-1 1h0m-19-1h0m0-7h0m-1 2h0m-2 2h0m-3 3h0m-2-2h0m-6 3h0m-4-6h0m0 7h0m-7-3h0m0 6h0m12-1h0m1 8h0m3-5h0m5 3h0m4 1h0m5 1h0m2-3h0m2-4h0m1 4h0m2-2h0m8 3h0m2 2h0m1 0h0m0-9h0m0 3h0m3 3h0m2-3h0m1-3h0m7 6h0m2-3h0m2 5h0m0-3h0m6 4h0m1-5h0m4-1h0m0 6h0m1-2h0m1 1h0m1 0h0m4 0h0m1-3h0m7 3h0m2-1h0m9 1h0m11-8h0m4 9h0m1-7h0m11 5h0m3-3h0m3 4h0m33-5h0m0-3h0m3 6h0m2-2h0m4-1h0m1 5h0m7 0h0m3-1h0m0-1h0m3-3h0m1-2h0m0 2h0m3-2h0m3 4h0m1 1h0m3-3h0m2 1h0m3-4h0m2 8h0m1 0h0m3 0h0m8-7h0m2-2h0m13 9h0m2-7h0m2 2h0m10-2h0m4-1h0m2 2h0m2-3h0m2 5h0m6 1h0m4 1h0m4 2h0m1-6h0m11 4h0m4-3h0m3 1h0m0 3h0m2-2h0m3-1h0m6 2h0m-1 9h0m-1-3h0m-1 1h0m-2-4h0m-1 5h0m0 0h0m-8 4h0m-5-4h0m-4-3h0m-5-2h0m-5 9h0m0-5h0m-13-1h0m-3-2h0m-2 2h0m-6-1h0m-2 0h0m-10 8h0m-3-1h0m-4-6h0m-9 7h0m-11-1h0m-2-3h0m-1 4h0m0-7h0m-5 5h0m-7-1h0m-6-3h0m-14-3h0m-1 6h0m0-4h0m-5 4h0m-31-2h0m0 3h0m0-7h0m-1 7h0m-2-3h0m-1-1h0m-4 3h0m0-5h0m-6 4h0m-4-2h0m0 2h0m0-1h0m-1-5h0m0 5h0m-1 0h0m-2 2h0m-1 2h0m-4-4h0m-3-3h0m-4 1h0m-2 6h0m0-4h0m-2-4h0m-3 1h0m0-1h0m-3 5h0m0-4h0m-1 7h0m-1-3h0m-1-6h0m-1 8h0m-2 0h0m0-3h0m-3 3h0m0-2h0m-1-5h0m0 7h0m-1-6h0m0 3h0m-1 0h0m-2 4h0m0-5h0m-1 2h0m-1-6h0m-1 7h0m0 1h0m-1-7h0m-5 3h0m-1 2h0m-1 0h0m0-5h0m-1 7h0m-2 2h0m-1-3h0m-4-7h0m0 6h0m0-6h0m-2 9h0m0-8h0m-1 6h0m-3-4h0m0 2h0m-1-2h0m-5 3h0m0-3h0m-2 7h0m-2 0h0m0-4h0m0 1h0m0-1h0m-1-3h0m0-3h0m0 2h0m0 2h0m-3 4h0m-3-4h0m-3-3h0m-2 6h0m-1-3h0m0 5h0m-3-3h0m-3 1h0m-1 2h0m-2-1h0m-2 1h0m-5-9h0m0 0h0m-7 6h0m-3 3h0m-4-9h0m-1 6h0m-1 12h0m2-5h0m3 5h0m1-8h0m1 2h0m0 2h0m3-1h0m2 6h0m2 1h0m1-4h0m0-4h0m0 6h0m1 2h0m0-10h0m3 8h0m0-5h0m2-1h0m1 1h0m3-2h0m1 6h0m3-3h0m2-1h0m3 4h0m0-5h0m1 0h0m2-1h0m1 4h0m0 2h0m3 0h0m1 2h0m0-7h0m2 6h0m1-1h0m1-2h0m2-2h0m1-1h0m2 2h0m3 1h0m6-4h0m1 7h0m0-1h0m0-2h0m1-2h0m1-1h0m2 7h0m3-1h0m1-7h0m0 1h0m1-1h0m3 4h0m1-3h0m0 5h0m1-2h0m3 0h0m2 0h0m0-2h0m1 0h0m2-1h0m2 4h0m1-2h0m0 6h0m0-9h0m4 5h0m4-6h0m3 3h0m4 6h0m2-6h0m1 1h0m0-1h0m1-3h0m0 4h0m1-2h0m2 5h0m0-7h0m2 2h0m0-1h0m0 1h0m3 0h0m0 0h0m1 5h0m2-2h0m1 1h0m1 1h0m1-2h0m2-2h0m1-1h0m1 7h0m1-8h0m0 7h0m6 0h0m0-5h0m1 0h0m4-1h0m2 0h0m2 1h0m34-2h0m9-1h0m1 4h0m13-3h0m15 0h0m2 1h0m1 5h0m0-2h0m3 3h0m3 1h0m3-4h0m0 4h0m6-7h0m2-1h0m1 2h0m4-2h0m1 2h0m15-1h0m3-1h0m6 0h0m5 3h0m2 3h0m1 3h0m4-10h0m5 4h0m4 5h0m1-3h0m1-2h0m2-1h0m8 1h0m3 3h0m8 11h0m-1 2h0m-1-8h0m-5 3h0m-2 2h0m-3-2h0m-4 1h0m-1 1h0m-8-4h0m-4 1h0m-2 4h0m-7-6h0m-7 2h0m-4-2h0m-10 0h0m-3 6h0m-1 0h0m-3-2h0m0-2h0m-9 5h0m-5-7h0m0 3h0m-5-4h0m-1 8h0m-1 1h0m0-2h0m-5-3h0m-6-1h0m-1 3h0m-4-7h0m0 8h0m-3 1h0m-2-5h0m0 1h0m-2-4h0m-3 2h0m-1-1h0m-1 0h0m-8 3h0m-1 1h0m-7-3h0m-2 3h0m-32-3h0m-2-2h0m0 0h0m-1 8h0m0-4h0m-2 3h0m0-4h0m-1-2h0m-1 7h0m-1-1h0m-1-2h0m-2 2h0m-1-7h0m0 8h0m-2 0h0m-1 0h0m-9-6h0m-1 4h0m-1-1h0m-2 1h0m-1 0h0m0-1h0m-1-1h0m-1 1h0m0-1h0m-1-1h0m0 4h0m-2-1h0m-1 1h0m0-6h0m-2-1h0m-1 5h0m-3 4h0m-2-6h0m-1-1h0m-1 3h0m-2-3h0m-1 4h0m-1 0h0m0-7h0m-1 7h0m-1 1h0m-3 1h0m-1-2h0m-1-1h0m-1 0h0m-3 3h0m0-4h0m-1-5h0m0 2h0m-1 0h0m0 2h0m-3 5h0m-1-9h0m0 3h0m0-1h0m-1 3h0m0 4h0m-2-6h0m-5 6h0m-3-6h0m-1 1h0m0 3h0m-1-3h0m-3 0h0m-2-3h0m0 8h0m-4-8h0m0 3h0m0 2h0m-1 1h0m-1 1h0m0 1h0m-1-5h0m-2 2h0m-2 2h0m-1 0h0m0-2h0m-1-2h0m0 4h0m-3-5h0m-3 6h0m-2-8h0m-1 5h0m-2 2h0m0-4h0m-1-3h0m-1 7h0m-4-2h0m0 1h0m-2-5h0m0 8h0m-2-10h0m-1 7h0m-2-2h0m-1 4h0m-1-6h0m-1-1h0m0 1h0m-2-2h0m0 5h0m-1 0h0m0-5h0m-2 5h0m0 2h0m0-3h0m-3 0h0m0 3h0m-7-6h0m-1-1h0m2 18h0m5-7h0m3 6h0m2 0h0m0-2h0m2-5h0m0 8h0m0 1h0m3-1h0m2-6h0m1 4h0m1-4h0m0 3h0m0-4h0m0-1h0m2 0h0m0 9h0m0-1h0m3-4h0m5 0h0m2 1h0m1-6h0m2 3h0m2 4h0m1-7h0m2 2h0m1 6h0m1-2h0m1-1h0m6 2h0m1-2h0m1 2h0m2-5h0m1 6h0m3-7h0m0 4h0m1-4h0m0 2h0m2 6h0m0-9h0m0 8h0m0-5h0m2-3h0m3 2h0m1 4h0m1 3h0m2 0h0m1 0h0m0-1h0m2-7h0m2 8h0m2-2h0m0-1h0m1-4h0m0 6h0m0-1h0m1-6h0m3 6h0m1 1h0m1-5h0m7 0h0m2-2h0m0-1h0m0 0h0m1 10h0m1-6h0m3 0h0m4-2h0m1-2h0m7 4h0m0 2h0m1 1h0m1 1h0m8 1h0m1 0h0m1 0h0m1-8h0m3 1h0m1 1h0m1 5h0m1-3h0m1-2h0m2 3h0m1 1h0m4-1h0m1 0h0m2-5h0m30 8h0m2-5h0m9-3h0m22 5h0m4-2h0m1-4h0m1 1h0m0 2h0m2 2h0m7 0h0m2 1h0m2-5h0m0 4h0m5 4h0m1-6h0m5 4h0m8-5h0m7 2h0m4 1h0m7-4h0m2 3h0m8 3h0m2 0h0m1-4h0m14-2h0m1 1h0m7 7h0m7 6h0m-14 1h0m-8 3h0m-11-5h0m-2-1h0m-2 1h0m-12-3h0m-2 7h0m-1-2h0m-4 4h0m-7-8h0m-3 6h0m-30 1h0m-1-7h0m-20 3h0m-9 1h0m-5-6h0m-31 1h0m-1 7h0m-3-3h0m-3-5h0m-1 9h0m-1-4h0m-1-4h0m-1-1h0m0 10h0m-1-9h0m-1 8h0m-1 0h0m-1-4h0m-1-2h0m-1 5h0m0-2h0m-2-2h0m-1-1h0m-1 2h0m-7 2h0m-3-7h0m-2 3h0m0 4h0m-3 1h0m-3-1h0m0 1h0m-1-8h0m-1 9h0m-1-7h0m-1-2h0m0 9h0m0-7h0m-1 0h0m-1 2h0m-1 0h0m0 3h0m-2 1h0m0 1h0m-1-3h0m0 2h0m-1-6h0m-1 5h0m0-1h0m-1 0h0m0-5h0m0-1h0m-1 9h0m0-6h0m-2 5h0m-2-3h0m0-4h0m-2 4h0m-1-2h0m-1-1h0m-1 2h0m-1-2h0m-3 3h0m-1-5h0m0 3h0m-3-1h0m-2-2h0m-3 4h0m-1-3h0m0 6h0m0 1h0m0-7h0m0 2h0m-3 1h0m-1 5h0m-2-8h0m-2 3h0m-2-2h0m-2 5h0m-5 1h0m-1-5h0m-2 0h0m-1-1h0m-1 4h0m-1-6h0m-2 1h0m0 5h0m-1-5h0m-1 7h0m-1-7h0m0 0h0m-3 6h0m-6 1h0m-1-7h0m-2 3h0m-6-3h0m-1 0h0m0 8h0m0-7h0m-1 4h0m0-4h0m-1-2h0m-1 1h0m-1 6h0m-1-6h0m-1 7h0m-1-6h0m-4 1h0m-1-1h0m-1 1h0m-3-2h0m0 16h0m1-3h0m0-2h0m3 7h0m1-6h0m1-2h0m2 1h0m1 3h0m2 3h0m2-5h0m1 5h0m0-7h0m0 1h0m1 6h0m2 1h0m1-5h0m2 1h0m1 5h0m3-9h0m5 2h0m2 5h0m0-8h0m3 8h0m1-3h0m1 4h0m0-3h0m0 2h0m1 2h0m4-3h0m4-2h0m0-2h0m2 2h0m2-5h0m2 1h0m0 7h0m5-2h0m1-5h0m0 0h0m2 2h0m2-1h0m0 1h0m1 7h0m1-8h0m1 6h0m0-7h0m2 4h0m0 0h0m3-5h0m3 8h0m5-8h0m1 8h0m1-5h0m0 5h0m4-2h0m0-4h0m1 6h0m1-7h0m0 2h0m0 0h0m2 3h0m1-1h0m6 3h0m1-6h0m3 0h0m0-1h0m0 1h0m1 6h0m2-5h0m1-1h0m2 6h0m2 1h0m1-6h0m0-3h0m1 7h0m2 0h0m5-5h0m0 5h0m1-5h0m0 7h0m4-2h0m1-1h0m0-3h0m1 4h0m4-4h0m0 2h0m1-2h0m0 1h0m2 5h0m3-6h0m0 0h0m1 1h0m1 3h0m1-4h0m1 5h0m3-5h0m0 6h0m34-8h0m9 1h0m3 3h0m1 4h0m1-7h0m7-1h0m11 2h0m15 3h0m9-5h0m1 4h0m13 3h0m6-5h0m22 5h0m16-2h0m19 4h0m-13 1h0m-9 7h0m-6-2h0m-27-4h0m-5 3h0m-6 3h0m-5-4h0m-22-4h0m-15 9h0m0-7h0m-1 4h0m0 1h0m-25 2h0m-35-3h0m-1-4h0m0 3h0m-1 3h0m0-1h0m-1 1h0m0-4h0m0 2h0m-2-2h0m-2-4h0m-2 8h0m-1-8h0m-1 8h0m-1 2h0m0-7h0m-2 3h0m-3-4h0m-1 2h0m0 6h0m-1-9h0m-2 0h0m-3 6h0m-1 2h0m-3-3h0m-1 0h0m-1-2h0m0 5h0m0-1h0m-2-5h0m-2-2h0m0 1h0m-1 4h0m0-6h0m-1 6h0m-1-4h0m-1 7h0m-1-5h0m-2 0h0m0-4h0m-1 4h0m-1 3h0m0-2h0m-1-3h0m-1 1h0m-3 3h0m-1 0h0m-4 2h0m-1-2h0m0-4h0m-2 7h0m-2 0h0m-3-6h0m-2 1h0m0 1h0m-1-4h0m0 9h0m-3-2h0m-2-1h0m0-3h0m-1 3h0m0 1h0m-1 1h0m-3-7h0m0 7h0m0-1h0m-2-2h0m-1 0h0m0-2h0m-2 2h0m-1 3h0m-1-4h0m0 0h0m0-4h0m-1 9h0m-4-2h0m-1-6h0m-4-1h0m-2 0h0m0 5h0m0 1h0m-2-4h0m-2-1h0m-1 2h0m-1-1h0m-4 4h0m0-4h0m-1 0h0m0 4h0m-1-7h0m-3 2h0m0-2h0m0 1h0m-2 1h0m-3 5h0m0-6h0m0 6h0m0-6h0m-1 7h0m-4-1h0m-1 1h0m-3-7h0m0 0h0m0 1h0m-1 1h0m-1 5h0m-1-1h0m0-3h0m-1 1h0m-2-4h0m-5 2h0m-3 4h0m-1 10h0m1-2h0m0-3h0m0 1h0m0 4h0m1-2h0m1-4h0m2 1h0m2-2h0m1 9h0m0-1h0m1-7h0m0 4h0m0 3h0m1 0h0m0-8h0m0 5h0m1 5h0m1-10h0m2 4h0m0-2h0m3 2h0m1-1h0m6 5h0m1-3h0m0-2h0m1 1h0m4 4h0m3-4h0m2-3h0m0 5h0m3-1h0m3-3h0m1 4h0m1 3h0m1-3h0m0-3h0m0 2h0m1-1h0m1 2h0m2-1h0m1-3h0m0 6h0m6-5h0m6-2h0m5 0h0m0 7h0m3-3h0m3 2h0m2 0h0m1-6h0m0 3h0m2-1h0m4 1h0m4 0h0m1-1h0m1 4h0m0 2h0m5-6h0m2 1h0m0 1h0m1-1h0m2 0h0m1 1h0m0 5h0m1-2h0m1-2h0m0 3h0m2-2h0m1 3h0m1-2h0m1 0h0m1-8h0m0 3h0m0 6h0m1-2h0m1-4h0m3 0h0m2-1h0m4 4h0m3-3h0m1 1h0m4 2h0m1-4h0m0 3h0m0 5h0m1-4h0m1 2h0m1 0h0m0 1h0m4-1h0m1 0h0m1-6h0m3 3h0m1 4h0m1-5h0m34-1h0m15-3h0m5 0h0m10 1h0m4 4h0m3-3h0m4 4h0m7-4h0m1 7h0m15-3h0m16-2h0m1 6h0m3-2h0m3 0h0m23-1h0m11-6h0m6 1h0m4 14h0m-8-6h0m-9 6h0m-23-5h0m-1 8h0m-1-4h0m-9-2h0m-32 6h0m-5-1h0m-11-7h0m-25 2h0m-2 3h0m-39 1h0m0-1h0m-4 0h0m0-2h0m-1 4h0m-1-1h0m0-4h0m-1 1h0m0 3h0m-1 2h0m-1-2h0m-2-6h0m-4 8h0m-2-2h0m-1-4h0m-1 5h0m-2-3h0m-2 5h0m0-8h0m-1 1h0m-1 4h0m0-3h0m0 3h0m0-6h0m-1 2h0m-1 3h0m0 2h0m-3-2h0m0-1h0m0 3h0m0-2h0m-1 4h0m0-2h0m-2-8h0m0 7h0m-1-2h0m0 4h0m-3-3h0m0-5h0m-1 3h0m-1 1h0m0 1h0m-1-1h0m-1 1h0m0 3h0m-3-3h0m-2 2h0m-1 1h0m-2 0h0m0-9h0m-1 8h0m0-2h0m-4-5h0m-1 0h0m-1 2h0m-1 2h0m-1 2h0m0 1h0m0-3h0m-2 4h0m-1-3h0m-2 3h0m0-6h0m0 7h0m-2-7h0m-2 5h0m-1 2h0m-2-10h0m0 5h0m-3 0h0m-2 4h0m-5-6h0m-1-1h0m0 3h0m-1 1h0m-1-5h0m-2 8h0m-2 1h0m-1-4h0m0 1h0m-1 1h0m-3-4h0m-1 4h0m-2-1h0m0-1h0m0 0h0m-1 4h0m0-7h0m0 3h0m0 3h0m-1-1h0m-2-4h0m-3 0h0m0 0h0m-1 2h0m-1 3h0m-1-8h0m-1 8h0m0-2h0m0 1h0m-1-6h0m0-1h0m0 4h0m-1 2h0m-3-2h0m0 4h0m-2-4h0m-1 3h0m0-2h0m-1-5h0m0 5h0m-2-5h0m-1 1h0m-1 2h0m0 3h0m-1 3h0m-1-2h0m0-2h0m0-3h0m-1-1h0m0 8h0m-1-4h0m0-5h0m0 7h0m0 2h0m-1-2h0m-1-3h0m-1 1h0m0 3h0m0-2h0m-1 2h0m0 1h0m-1-3h0m-1-2h0m-2-5h0m0 8h0m-1 1h0m0-1h0m-1-3h0m-1 4h0m0-3h0m-3 3h0m-1 0h0m-2-6h0m1 11h0m1-2h0m0 3h0m0 5h0m1-4h0m0 3h0m3-4h0m3-2h0m0-1h0m1 7h0m1-7h0m2 8h0m3-4h0m0 2h0m1 2h0m2-9h0m2 5h0m0 2h0m1-7h0m0 6h0m0-2h0m1-1h0m2 5h0m1-3h0m1-4h0m2 3h0m1 0h0m0 1h0m1 0h0m1 0h0m0-3h0m1-1h0m1 1h0m0 1h0m0 2h0m1-1h0m1-3h0m2 6h0m0-6h0m0 5h0m0 3h0m0-4h0m1 2h0m0 2h0m0-5h0m0-4h0m0 0h0m1 7h0m0-4h0m0-3h0m0 0h0m1-1h0m1 1h0m1 1h0m1 4h0m0 2h0m1-4h0m2-2h0m0 5h0m2 1h0m2-4h0m1 5h0m1-5h0m1-3h0m0 7h0m0-7h0m2 9h0m0-6h0m0-4h0m0 8h0m2-7h0m0 3h0m2 2h0m0-3h0m1-2h0m0 1h0m0 5h0m2-4h0m0 1h0m2 4h0m1 2h0m0-9h0m1 4h0m0 0h0m0-5h0m1 8h0m0 1h0m0-6h0m1 1h0m2 5h0m0-6h0m1 4h0m1 2h0m2-1h0m0-1h0m1-4h0m0 1h0m1-3h0m0 1h0m1-1h0m0 5h0m0 4h0m1-2h0m0 0h0m1-7h0m1 4h0m3 5h0m1-10h0m2 1h0m0 6h0m1-6h0m0 6h0m1-1h0m1-3h0m1 4h0m0-5h0m2 7h0m0-4h0m0-4h0m1 4h0m0 2h0m1-5h0m0 5h0m0 0h0m0-6h0m2 2h0m1 5h0m0-3h0m0-4h0m2 8h0m0-9h0m0 6h0m0-5h0m2-1h0m2 7h0m0 1h0m0-2h0m1 1h0m0-3h0m1-1h0m0 2h0m3 2h0m0 2h0m1-6h0m0 5h0m2-3h0m0 2h0m0-4h0m1 3h0m0 0h0m1 0h0m1-4h0m1 3h0m1-4h0m0-1h0m1 2h0m0-1h0m0 3h0m1 2h0m1-3h0m0 4h0m1 2h0m2-7h0m1 7h0m0-7h0m1 0h0m0-2h0m0 1h0m1 0h0m0 7h0m0-3h0m0 0h0m0 4h0m1 1h0m0-8h0m3 1h0m0 0h0m0 3h0m1 1h0m0-1h0m0-6h0m2 2h0m1 3h0m1 2h0m0-6h0m0 1h0m1 7h0m1 1h0m0-3h0m1-5h0m0 1h0m32 6h0m7-7h0m8 2h0m7-2h0m3 1h0m13 2h0m3-4h0m23-1h0m9 3h0m22 1h0m11 4h0m2-6h0m1 4h0m2 1h0m17-2h0m7 0h0m2 7h0m-1 5h0m-9-6h0m-2 5h0m-29-2h0m-11 5h0m-15-8h0m-26 3h0m-3 3h0m-1-1h0m-17 4h0m-19-3h0m-1 2h0m-4 0h0m-29 1h0m0-6h0m-1 1h0m0 1h0m-1-6h0m0 3h0m-1 2h0m0 0h0m-1 3h0m0-2h0m0-3h0m0 0h0m-1 4h0m0 1h0m-1-7h0m0 5h0m-1-1h0m-1 0h0m0 0h0m-2-4h0m-1 1h0m-1-2h0m0 2h0m-2 4h0m-1 3h0m-1-2h0m-1-1h0m-2 0h0m0 1h0m-2 0h0m-1-6h0m0 7h0m-1-5h0m0 7h0m0 0h0m-1-3h0m0-2h0m0 0h0m-1-3h0m-3 7h0m-1-3h0m0-4h0m-1-1h0m-2 0h0m0 1h0m-1 3h0m-2-1h0m0 5h0m0-7h0m-1 5h0m0 1h0m-2-3h0m-1-4h0m-5 1h0m-1 6h0m0 2h0m-2-9h0m0 9h0m0-1h0m-1-5h0m0-3h0m0 4h0m-1-5h0m-1 4h0m0 2h0m0-3h0m0-2h0m-1 3h0m-4-1h0m0 1h0m-1 4h0m0-5h0m0 2h0m-1 0h0m0 4h0m-1-7h0m-3-2h0m-1 0h0m0 6h0m-1 1h0m0 1h0m-1 1h0m0 0h0m-1-2h0m-1 2h0m0-2h0m-1-3h0m0-2h0m-1 5h0m0-1h0m0 0h0m-3-4h0m0 2h0m-1-1h0m0 2h0m0-4h0m-1 3h0m-1 5h0m0-8h0m-1 1h0m0 1h0m-1 1h0m-1-1h0m-1-2h0m0 2h0m-4 6h0m-1-3h0m0 3h0m0-9h0m-1 7h0m-1 0h0m-1-6h0m0 3h0m0 1h0m0 0h0m-2 4h0m0-5h0m0 5h0m-2 0h0m-1-2h0m-1-5h0m0 6h0m-1 2h0m0 0h0m-1-3h0m0-3h0m0 0h0m-1 5h0m-1-4h0m0-4h0m-1 9h0m0-1h0m-1-9h0m0 6h0m-1 1h0m0-2h0m0-2h0m-1-1h0m0 3h0m0 3h0m-1-4h0m-1-1h0m-2 6h0m0-8h0m0 5h0m0 0h0m0 0h0m-3-3h0m-1 4h0m0-2h0m0-2h0m-2 1h0m0 5h0m-1 1h0m0-3h0m0-6h0m-1 0h0m0 3h0m-2 1h0m0 1h0m-3-2h0m0-2h0m0 2h0m-1 3h0m-1-2h0m-1 3h0m0-2h0m0 0h0m-2-4h0m-1 2h0m-1-1h0m-1-3h0m-1 3h0m-1 0h0m0 2h0m0 0h0m-1 5h0m0-7h0m0 4h0m0 3h0m-2-5h0m-1 4h0m0-1h0m-4-1h0m-1-2h0m-1-1h0m0 1h0m-2-1h0m-1-2h0m0 6h0m0 0h0m0-1h0m1 9h0m1-5h0m1 7h0m0-3h0m0-2h0m1-2h0m1 7h0m0-7h0m2 2h0m1 2h0m1 3h0m0-1h0m0 0h0m1-5h0m0 7h0m1-5h0m0 1h0m2-4h0m0 7h0m0-5h0m0 3h0m0 0h0m0-5h0m1 0h0m0 7h0m0-5h0m1 3h0m1 2h0m0 0h0m0-1h0m0-4h0m2 4h0m0-6h0m0 1h0m1 2h0m1 4h0m0-2h0m1-2h0m1 1h0m0 2h0m1-6h0m3 6h0m0 1h0m0-7h0m1 8h0m0-8h0m2 6h0m0-7h0m0 4h0m0-3h0m0 2h0m0 6h0m1-3h0m0-2h0m1 4h0m2-4h0m0 4h0m0-1h0m0-2h0m1-2h0m1 2h0m0 4h0m1-5h0m1-2h0m0 6h0m0-6h0m2 2h0m0 5h0m1-9h0m1 0h0m0 3h0m0 6h0m1-7h0m2 7h0m3-8h0m0 3h0m1 5h0m0-1h0m0 1h0m1-6h0m0-2h0m0 8h0m2-1h0m0-4h0m1 2h0m0 2h0m0 0h0m0 0h0m1-5h0m0 6h0m1-6h0m1 1h0m0-3h0m1 2h0m0 1h0m0 1h0m5 4h0m2-2h0m0-5h0m1 6h0m1-5h0m0 5h0m0-1h0m0-3h0m1 4h0m1 1h0m2-4h0m1-5h0m0 4h0m2 0h0m0 1h0m2-2h0m1-3h0m1 6h0m1-6h0m1 6h0m0-1h0m3 4h0m0-3h0m0-2h0m2 3h0m0 1h0m1-7h0m1 5h0m0-3h0m0-1h0m1-1h0m0 2h0m0 0h0m1 2h0m1-2h0m1 1h0m2-2h0m0 2h0m0 1h0m0 3h0m2 0h0m0-5h0m1 0h0m1 1h0m1 6h0m0-2h0m1-1h0m0-1h0m1-1h0m0-2h0m3 5h0m0-3h0m0-2h0m1 3h0m1-3h0m0 6h0m3-3h0m2 0h0m1 2h0m0 1h0m1-6h0m2 6h0m0-9h0m1 1h0m0 6h0m1-3h0m1 5h0m0-1h0m1-3h0m0-1h0m0-2h0m1 0h0m0 3h0m1 2h0m0 1h0m0-1h0m1-5h0m1 1h0m1 1h0m1-3h0m0 5h0m1 3h0m0 1h0m1-1h0m0-4h0m0-1h0m0 2h0m1-3h0m0 0h0m2 4h0m0-3h0m1 0h0m0-3h0m1 5h0m0 3h0m0-5h0m1 4h0m1-2h0m1 4h0m3-5h0m0 3h0m0-8h0m0 3h0m0-3h0m2 0h0m0 3h0m0-1h0m1 4h0m1 4h0m0-7h0m31-2h0m2 6h0m13-6h0m1 2h0m6 3h0m14-1h0m3-1h0m4 5h0m4 0h0m33-4h0m4 1h0m11 2h0m23 1h0m9 4h0m-11-2h0m-3 7h0m-10 2h0m-8-5h0m-20-3h0m-14 4h0m-15-2h0m-15 5h0m-17 0h0m-5-4h0m-1-1h0m-4 3h0m-35 2h0m0-8h0m-2 5h0m0 4h0m0-1h0m0-5h0m-1 1h0m0 2h0m-1 1h0m-1-5h0m-1 3h0m-1 0h0m0-4h0m0-1h0m0 6h0m-1-6h0m0 0h0m-1 2h0m0 1h0m0-1h0m-2 0h0m-1 2h0m-1-2h0m-1 6h0m0-2h0m-1 3h0m-1-2h0m-1 1h0m0 0h0m0-6h0m0 2h0m0-3h0m-1 7h0m-1-3h0m0 0h0m0-3h0m-1-2h0m0 6h0m-1-7h0m-1 6h0m0-6h0m-2 8h0m-1-1h0m-1 3h0m-1-5h0m0 0h0m0 0h0m-1 2h0m-1-6h0m0 2h0m0 6h0m-1-4h0m-2 3h0m-1-1h0m-1 3h0m-1-2h0m0 0h0m0-4h0m-1-3h0m0 4h0m-1 2h0m0 2h0m-2-5h0m0-1h0m-1-2h0m0 0h0m0 1h0m-2 0h0m0 2h0m0-4h0m-1 4h0m-1-1h0m0-1h0m-1 3h0m-1 0h0m-1-3h0m-1 4h0m0-4h0m-1-1h0m0 3h0m0 1h0m-1-2h0m0 5h0m-1 1h0m-1 1h0m0-4h0m0 2h0m-1 2h0m0-2h0m0-6h0m0 4h0m0 3h0m-1 0h0m0-2h0m-2-1h0m0-1h0m0-3h0m-2 6h0m0-2h0m0 4h0m-1-7h0m-1 3h0m-1-2h0m-1 0h0m-4 6h0m0-2h0m0-3h0m-3 4h0m-1-6h0m0 5h0m0 1h0m-1-5h0m0-3h0m-2 1h0m0-1h0m0 1h0m-1 3h0m0-4h0m-1 2h0m0-1h0m0 1h0m-1 5h0m0-4h0m-2 1h0m0 3h0m0-1h0m-1-4h0m0-1h0m0 8h0m-1 0h0m0-1h0m0-3h0m0 3h0m-1 0h0m-1-2h0m0 1h0m-3-5h0m-1 4h0m-1-6h0m0 5h0m-1-2h0m0 1h0m-1 3h0m-1-6h0m0-2h0m0 3h0m-1 4h0m0 0h0m-1 2h0m-1 1h0m-1 0h0m-1-4h0m-1-1h0m-1-4h0m-1 3h0m0-3h0m-1 7h0m-1-6h0m0 3h0m-1 2h0m0 1h0m0-4h0m0 1h0m-1-3h0m0 3h0m-3 4h0m0-7h0m-1 8h0m0-7h0m0-3h0m-1 0h0m0 2h0m-1 5h0m-1-1h0m0 3h0m-1-5h0m0 5h0m0-3h0m0 2h0m0-4h0m0 5h0m-1-5h0m-1 5h0m0-8h0m-1 1h0m-2 7h0m-1-4h0m0 0h0m0 1h0m0 1h0m0-3h0m-2 1h0m-1-2h0m0-2h0m-1 5h0m-1 0h0m0-3h0m0 7h0m0-1h0m-2 0h0m0-3h0m-1-4h0m-1 8h0m0-5h0m-1 2h0m0-7h0m-2 1h0m-1 7h0m0-4h0m-1 4h0m0-7h0m0 4h0m-1 4h0m-1-9h0m-2 1h0m-1 1h0m-1 6h0m0-3h0m-1 4h0m-1-5h0m-1-4h0m0 4h0m0 9h0m2 7h0m0-10h0m1 6h0m1-4h0m2 7h0m0-5h0m0-2h0m0 1h0m1 5h0m0-7h0m0 2h0m0-3h0m1 6h0m0 4h0m0-8h0m1 0h0m1 2h0m0-3h0m1 6h0m0-6h0m0 1h0m1 0h0m0 0h0m2 7h0m2-7h0m3 5h0m2-6h0m0 2h0m0 7h0m0-9h0m0 0h0m1 2h0m0 4h0m1-5h0m0 4h0m0-1h0m0 0h0m1 2h0m1-3h0m0-3h0m1 2h0m0 4h0m1 2h0m1 1h0m0-7h0m1 0h0m0-3h0m0 1h0m2 8h0m1-1h0m0-2h0m0-2h0m1-4h0m0 6h0m1 2h0m2-7h0m2 4h0m1-1h0m1 0h0m0-3h0m1 1h0m0 0h0m0 5h0m1 1h0m1-4h0m1-2h0m1 8h0m0-7h0m1 6h0m0-7h0m1 7h0m1-1h0m1-1h0m0 1h0m0 0h0m2 1h0m0-1h0m0-5h0m0-2h0m1 5h0m0 1h0m1-2h0m2 0h0m3 1h0m1 2h0m1-7h0m0 8h0m1 0h0m1-8h0m0 0h0m1 7h0m1-7h0m1 2h0m1 5h0m0-5h0m0 3h0m0-1h0m2 4h0m0-9h0m1 3h0m3 4h0m0-2h0m0-5h0m1 6h0m0 2h0m1-2h0m0 1h0m0 2h0m1-1h0m0-4h0m0-2h0m2 5h0m1-1h0m0-6h0m1 4h0m0 4h0m0-5h0m1 0h0m1 5h0m0-3h0m0 2h0m1-3h0m1 3h0m0-3h0m1 5h0m1-4h0m0-4h0m1-1h0m0 10h0m2-2h0m1-8h0m1 2h0m0-2h0m0 3h0m2 3h0m0 3h0m0 0h0m0-3h0m1-5h0m0 1h0m0 2h0m0-2h0m1 3h0m0-1h0m1-1h0m1-2h0m1 2h0m1 4h0m0-3h0m1-3h0m1 0h0m0 5h0m1-4h0m1-2h0m0 5h0m1 2h0m1-3h0m1 5h0m1-2h0m1-4h0m0 4h0m1-4h0m0-2h0m1 9h0m3-6h0m0 1h0m1-3h0m1 2h0m1 1h0m2-1h0m1 2h0m0-3h0m1-1h0m3 0h0m2 8h0m1-7h0m1 2h0m0-2h0m4-3h0m0 6h0m0 3h0m0-8h0m0 6h0m2-6h0m0 6h0m1-1h0m1-4h0m0 4h0m0 2h0m1 1h0m2-1h0m1-7h0m0 7h0m0-4h0m1 5h0m0-2h0m1 2h0m36-3h0m15 1h0m35 3h0m7-1h0m3-7h0m4 0h0m4 1h0m2 3h0m5 0h0m0 3h0m20-1h0m2-2h0m2 3h0m1-1h0m2 2h0m2-9h0m18 0h0m7-1h0m3 0h0m-39 14h0m-13-3h0m-28 3h0m-11-2h0m-20 1h0m-27 1h0m-30-1h0m-8-1h0m-3 2h0m0-2h0m-6 1h0m-1 1h0m-2-2h0m-1-1h0m-2 3h0m0-3h0m0-1h0m0 3h0m-2 0h0m0-2h0m-1 1h0m0 0h0m-1 1h0m0-2h0m-3 0h0m-1 0h0m-4 2h0m-1-2h0m-2-1h0m-4 1h0m-2-1h0m-1 1h0m0 3h0m-1-1h0m0-2h0m-5-1h0m-1 1h0m-2 1h0m-5 1h0m0 0h0m-5-3h0m-3 2h0m0 0h0m-1 0h0m0 1h0m-3-2h0m-1 1h0m-1 0h0m0-2h0m-2 4h0m-4 0h0m-2-1h0m-4-1h0m-1-2h0m-4 2h0m0 0h0m-1-1h0m-2 1h0m-1 1h0m-3-3h0m-1 2h0m-4 1h0m0 0h0m-1-2h0m-2 2h0m-1-2h0m-1 2h0m0-2h0m-5 0h0m-5 2h0m-2 1h0m-2-3h0m-1 1h0m-1 2h0m-1-1h0m-4-2h0m-2 0h0m-7-1h0m-1 2h0m0-2h0m-1 3h0m-1-3h0" stroke="#000" stroke-width="3.20" stroke-linecap="round" fill="none"/>
<line x1="1128.0" y1="2080.9" x2="1128.0" y2="1984.1" stroke="#000" stroke-width="1.4"/>
<line x1="1127.3" y1="2080.9" x2="1313.4" y2="2080.9" stroke="#000" stroke-width="1.4"/>
<line x1="1124.5" y1="2077.0" x2="1128.0" y2="2077.0" stroke="#000" stroke-width="1"/>
<text x="1122.5" y="2080.8" font-family="'Liberation Sans', Arial, sans-serif" font-size="10.8" text-anchor="end" fill="#4D4D4D">0</text>
<line x1="1124.5" y1="2050.3" x2="1128.0" y2="2050.3" stroke="#000" stroke-width="1"/>
<text x="1122.5" y="2054.1" font-family="'Liberation Sans', Arial, sans-serif" font-size="10.8" text-anchor="end" fill="#4D4D4D">2</text>
<line x1="1124.5" y1="2023.6" x2="1128.0" y2="2023.6" stroke="#000" stroke-width="1"/>
<text x="1122.5" y="2027.4" font-family="'Liberation Sans', Arial, sans-serif" font-size="10.8" text-anchor="end" fill="#4D4D4D">4</text>
<line x1="1124.5" y1="1996.9" x2="1128.0" y2="1996.9" stroke="#000" stroke-width="1"/>
<text x="1122.5" y="2000.7" font-family="'Liberation Sans', Arial, sans-serif" font-size="10.8" text-anchor="end" fill="#4D4D4D">6</text>
<line x1="1178.4" y1="2080.9" x2="1178.4" y2="2084.4" stroke="#000" stroke-width="1"/>
<text x="1181.9" y="2090.4" font-family="'Liberation Sans', Arial, sans-serif" font-size="12.3" text-anchor="end" fill="#4D4D4D" transform="rotate(-45 1181.9 2090.4)">NFs</text>
<line x1="1262.8" y1="2080.9" x2="1262.8" y2="2084.4" stroke="#000" stroke-width="1"/>
<text x="1266.3" y="2090.4" font-family="'Liberation Sans', Arial, sans-serif" font-size="12.3" text-anchor="end" fill="#4D4D4D" transform="rotate(-45 1266.3 2090.4)">CAFs</text>
<text x="1221.7" y="2129.5" font-family="'Liberation Sans', Arial, sans-serif" font-size="12.5" text-anchor="middle" fill="#4D4D4D" textLength="44.3" lengthAdjust="spacingAndGlyphs">Identity</text>
<text x="1106.5" y="2032.5" font-family="'Liberation Sans', Arial, sans-serif" font-size="12.5" text-anchor="middle" fill="#4D4D4D" textLength="100.0" lengthAdjust="spacingAndGlyphs" transform="rotate(-90 1106.5 2032.5)">Expression Level</text>
<text x="1460.0" y="1974.1" font-family="'Liberation Sans', Arial, sans-serif" font-size="14" font-weight="bold" text-anchor="middle" textLength="60.6" lengthAdjust="spacingAndGlyphs">COL3A1</text>
<path d="M1455.3 2077.1 L1451.6 2075.6 L1446.0 2072.7 L1448.8 2069.8 L1451.6 2066.8 L1452.5 2063.9 L1453.5 2061.0 L1448.8 2058.0 L1444.2 2055.1 L1441.5 2052.6 L1436.5 2050.2 L1433.8 2047.7 L1433.6 2045.6 L1433.0 2043.5 L1432.1 2041.4 L1431.1 2039.4 L1430.3 2037.3 L1429.6 2035.2 L1429.4 2033.1 L1429.2 2031.0 L1428.8 2028.9 L1428.2 2026.8 L1427.6 2024.7 L1427.0 2022.6 L1426.6 2020.5 L1426.4 2018.4 L1426.2 2016.3 L1425.7 2014.2 L1425.0 2012.1 L1424.2 2010.0 L1423.5 2007.9 L1422.9 2005.8 L1422.7 2003.7 L1422.0 2001.5 L1420.5 1999.3 L1419.0 1997.1 L1418.3 1994.9 L1418.3 1994.9 L1417.6 1997.1 L1416.1 1999.3 L1414.6 2001.5 L1413.9 2003.7 L1413.7 2005.8 L1413.1 2007.9 L1412.4 2010.0 L1411.6 2012.1 L1410.9 2014.2 L1410.4 2016.3 L1410.2 2018.4 L1410.0 2020.5 L1409.6 2022.6 L1409.0 2024.7 L1408.4 2026.8 L1407.8 2028.9 L1407.4 2031.0 L1407.2 2033.1 L1407.0 2035.2 L1406.3 2037.3 L1405.5 2039.4 L1404.5 2041.4 L1403.6 2043.5 L1403.0 2045.6 L1402.8 2047.7 L1400.1 2050.2 L1395.1 2052.6 L1392.4 2055.1 L1387.8 2058.0 L1383.1 2061.0 L1384.1 2063.9 L1385.0 2066.8 L1387.8 2069.8 L1390.5 2072.7 L1385.0 2075.6 L1381.3 2077.1 Z" fill="#F0756C" stroke="#111" stroke-width="0.8"/>
<path d="M1539.0 2077.1 L1537.2 2074.9 L1535.3 2072.7 L1534.0 2070.6 L1530.7 2068.6 L1526.9 2066.5 L1523.7 2064.5 L1522.3 2062.4 L1521.8 2060.3 L1520.5 2058.2 L1518.7 2056.1 L1516.7 2054.0 L1514.9 2051.9 L1513.6 2049.8 L1513.1 2047.7 L1512.9 2045.3 L1512.6 2042.8 L1512.4 2040.4 L1513.0 2038.3 L1514.6 2036.3 L1516.4 2034.2 L1518.0 2032.2 L1518.7 2030.1 L1520.2 2027.8 L1523.9 2025.4 L1528.2 2023.1 L1531.9 2020.7 L1533.5 2018.4 L1534.0 2016.0 L1535.4 2013.7 L1537.0 2011.3 L1538.4 2009.0 L1539.0 2006.6 L1538.2 2004.6 L1536.4 2002.5 L1534.2 2000.5 L1532.4 1998.4 L1531.6 1996.4 L1527.8 1993.9 L1520.6 1991.5 L1516.8 1989.0 L1502.0 1988.3 L1502.0 1988.3 L1487.2 1989.0 L1483.4 1991.5 L1476.2 1993.9 L1472.4 1996.4 L1471.6 1998.4 L1469.8 2000.5 L1467.6 2002.5 L1465.8 2004.6 L1465.0 2006.6 L1465.6 2009.0 L1467.0 2011.3 L1468.6 2013.7 L1470.0 2016.0 L1470.5 2018.4 L1472.1 2020.7 L1475.8 2023.1 L1480.1 2025.4 L1483.8 2027.8 L1485.3 2030.1 L1486.0 2032.2 L1487.6 2034.2 L1489.4 2036.3 L1491.0 2038.3 L1491.6 2040.4 L1491.4 2042.8 L1491.1 2045.3 L1490.9 2047.7 L1490.4 2049.8 L1489.1 2051.9 L1487.3 2054.0 L1485.3 2056.1 L1483.5 2058.2 L1482.2 2060.3 L1481.7 2062.4 L1480.3 2064.5 L1477.1 2066.5 L1473.3 2068.6 L1470.0 2070.6 L1468.7 2072.7 L1466.8 2074.9 L1465.0 2077.1 Z" fill="#1FBCC1" stroke="#111" stroke-width="0.8"/>
<path transform="scale(.5)" d="M3071 3980h0m-23-1h0m-17-1h0m-20 1h0m-8 1h0m-4-1h0m-17-1h0m-29 2h0m-8-1h0m-9 9h0m6 0h0m7-1h0m2-3h0m0 0h0m5 4h0m4-3h0m4 4h0m7-3h0m0 2h0m6 1h0m2 0h0m9-1h0m1-8h0m4 2h0m10 6h0m6 1h0m1-5h0m0 5h0m3-4h0m4-2h0m1 2h0m7 2h0m11-7h0m2 4h0m7-3h0m12 1h0m1 0h0m1 1h0m4-1h0m1 12h0m-3 5h0m-1-5h0m-3 2h0m0-1h0m-4-1h0m-2 3h0m-11 1h0m-1-3h0m-2-5h0m-6 7h0m-1-3h0m-6 0h0m-1 0h0m-11 3h0m-5-2h0m-9-2h0m-4 0h0m-11 0h0m-8-1h0m-5 2h0m-3 6h0m0-9h0m-2 1h0m-2 5h0m-22 0h0m-1 1h0m-5-4h0m-29-1h0m-2 4h0m-3 1h0m0-3h0m0 1h0m0 0h0m-4 0h0m-2 2h0m-2 1h0m-1-5h0m-2 0h0m0 3h0m0 0h0m-1 3h0m-4-3h0m-1-4h0m0 3h0m-2 3h0m0-6h0m-1 5h0m-2 1h0m0-5h0m-2 1h0m0 2h0m-7 0h0m-1 0h0m-7 3h0m-4-5h0m-1 1h0m0-1h0m-5-1h0m-1 0h0m-2 2h0m-1 0h0m-4-3h0m0 0h0m-1 4h0m-2 2h0m-4-1h0m0 1h0m-4 0h0m-2-3h0m-2-2h0m0 3h0m-4-1h0m-1 3h0m-2-5h0m-5 6h0m0-1h0m-6-1h0m-1-1h0m0-4h0m0 3h0m-2-3h0m-2 2h0m-2 4h0m-1-5h0m-1 4h0m-1-5h0m-1 6h0m-1-2h0m-1-3h0m-1 3h0m0-3h0m-1-1h0m-1 2h0m-1 1h0m-2 2h0m-9-4h0m0 3h0m-1 1h0m-1 0h0m0-5h0m-1 3h0m-1-1h0m-4-1h0m-3 0h0m0 4h0m0 0h0m-4-5h0m0 2h0m-2 1h0m1 10h0m0-1h0m1 1h0m0-1h0m0-4h0m1 0h0m2 5h0m0 4h0m7-2h0m1-4h0m0 3h0m0 2h0m1-5h0m1 1h0m0 1h0m0-5h0m0 4h0m2 3h0m1-5h0m0 5h0m1-3h0m2 0h0m4 1h0m1-2h0m0 2h0m1 3h0m2-5h0m0 5h0m2-2h0m5-1h0m0-6h0m2 2h0m1 4h0m1-5h0m1 0h0m1 6h0m0-4h0m2-1h0m4 1h0m2 2h0m1-2h0m3-2h0m1 6h0m1-5h0m0 0h0m0 4h0m3-5h0m0 8h0m1-2h0m0 1h0m2-7h0m0 4h0m1-5h0m1 6h0m1-3h0m0 2h0m3 4h0m0-8h0m3 0h0m2 0h0m1 4h0m1-2h0m0 5h0m2-3h0m1-4h0m2 6h0m2-2h0m0 4h0m3-4h0m2 5h0m0-5h0m2-2h0m0-1h0m1 4h0m2 0h0m2-1h0m1-5h0m1 7h0m1-6h0m1 7h0m4-6h0m3 6h0m1-5h0m1-2h0m1-1h0m1 3h0m0 3h0m3 2h0m2-3h0m4 0h0m2 1h0m0 1h0m1 1h0m1-2h0m0-1h0m0 4h0m0-3h0m1-4h0m0 6h0m1-5h0m0-2h0m1 1h0m0 4h0m2 3h0m2-2h0m1-4h0m3 3h0m0-2h0m8-1h0m28 2h0m2 3h0m3-7h0m0 7h0m8 2h0m16-4h0m4-5h0m8 4h0m3-2h0m3 5h0m8-1h0m1 2h0m10-6h0m2-1h0m6 2h0m10 3h0m6 2h0m3-6h0m1 7h0m9-4h0m3-3h0m1 2h0m17 1h0m2-1h0m7-1h0m4 3h0m1 9h0m-1 4h0m-5-6h0m-4-2h0m-1 7h0m-13-1h0m-2-5h0m-2 2h0m-7 5h0m-1 0h0m-10-6h0m-5-4h0m-2 10h0m-1-2h0m0 2h0m-2-2h0m-3-3h0m-3 2h0m-11-6h0m-1 8h0m-2-1h0m-4 1h0m-2-8h0m-1 5h0m-2-6h0m-9 2h0m-3 0h0m-1 4h0m-1 0h0m-6-5h0m-17 0h0m-1 7h0m-2 1h0m-2-1h0m-5-5h0m-34 7h0m-1-8h0m-1 3h0m0 4h0m-1-2h0m0-5h0m-2 4h0m-1-6h0m0 4h0m-1-3h0m-2 6h0m0-3h0m-1-3h0m-1 1h0m-1 5h0m0-5h0m0 4h0m-1-4h0m-1 2h0m-1 0h0m-1 1h0m0-4h0m0-1h0m-1 5h0m-2 0h0m0 4h0m0-1h0m0 1h0m-3-4h0m-2-4h0m0 9h0m0-8h0m-1 5h0m0-2h0m-2-2h0m-1 5h0m-1-3h0m-1 3h0m0-5h0m-4 1h0m-1 5h0m-1-2h0m0-2h0m0 3h0m0-7h0m-1 2h0m-1-1h0m-5 5h0m0-3h0m0-2h0m-2 7h0m0-6h0m-1-1h0m-1 0h0m0 3h0m-3-2h0m-1 5h0m-2-5h0m-1-2h0m-4 5h0m0-3h0m0-2h0m-3 6h0m0 1h0m-3 0h0m0 0h0m-1-2h0m-2 2h0m0-4h0m-1 2h0m-1 0h0m-3 2h0m-2-2h0m0-4h0m-2 2h0m0-2h0m-1 7h0m-3-5h0m0 2h0m-2-3h0m0 4h0m-3-3h0m-2 5h0m-1-3h0m-2-1h0m-3 1h0m0 3h0m-2 0h0m-1-6h0m0 5h0m-1-7h0m0 5h0m-1-3h0m0-2h0m-1 7h0m-1-2h0m-1 0h0m0-5h0m-2 4h0m0-3h0m-2 3h0m0-5h0m-5 9h0m-1-7h0m0 2h0m-1 1h0m-2-3h0m-1 4h0m0-2h0m-3-1h0m-2 1h0m-2 0h0m0 1h0m-2 5h0m-1 0h0m0-4h0m-2-5h0m0 9h0m-3-8h0m-2-1h0m-3 7h0m0 1h0m-3 0h0m-1-8h0m-1 5h0m-1 12h0m1-8h0m2 0h0m0 6h0m2-5h0m1 3h0m1 3h0m0-6h0m1 2h0m1 5h0m2-5h0m2 1h0m0-2h0m1 7h0m1-1h0m1-5h0m0-1h0m3 1h0m1 2h0m0-3h0m0 7h0m0 0h0m1-1h0m3 2h0m3-8h0m1 3h0m1-3h0m0 6h0m1-2h0m0-1h0m0-2h0m1 7h0m0-5h0m4 1h0m1-6h0m2 5h0m4 4h0m0-6h0m1 6h0m1-1h0m1-6h0m0-2h0m1 6h0m3-3h0m2 7h0m1-3h0m1 1h0m1 2h0m2-5h0m0-4h0m0 2h0m0 0h0m3 1h0m0 3h0m1-5h0m0 5h0m1-5h0m1 6h0m3-5h0m1 5h0m1-1h0m0 1h0m2-6h0m0 3h0m1-3h0m1-1h0m2 4h0m2-1h0m2 4h0m3-3h0m0-5h0m1 6h0m1-3h0m1-1h0m1-2h0m1 9h0m0-8h0m1 7h0m0-4h0m0 5h0m2-9h0m1 2h0m1 6h0m2-7h0m0 6h0m1-3h0m1 0h0m3 6h0m1-9h0m0 3h0m2 5h0m1-4h0m0-4h0m1 3h0m0-1h0m1 6h0m1-6h0m0 5h0m1-8h0m1 1h0m3 0h0m1 2h0m1 7h0m3-7h0m0 5h0m1-7h0m0 7h0m0-3h0m0-2h0m0 6h0m2-1h0m0-8h0m0 7h0m2-1h0m0 3h0m1-4h0m0 0h0m2 0h0m1 0h0m0 2h0m0-3h0m1 4h0m0-5h0m1 0h0m1 6h0m1-6h0m1 7h0m1-8h0m0 7h0m0-5h0m0 4h0m2-5h0m0 5h0m1-7h0m1 8h0m0-8h0m1 3h0m1 5h0m4-7h0m34-1h0m8 2h0m4 6h0m2-1h0m1 1h0m3-8h0m2-1h0m6 4h0m0 0h0m4 5h0m5-7h0m9 8h0m7-9h0m1 3h0m8 3h0m1 0h0m1 0h0m3-2h0m0-4h0m3 5h0m0-5h0m8 7h0m1 0h0m1-2h0m2-1h0m0 5h0m9-10h0m2 5h0m1 2h0m1 2h0m2-3h0m2 3h0m6-8h0m5 4h0m1-3h0m0 6h0m3-2h0m4-3h0m2 3h0m8-4h0m2-1h0m0 9h0m4-9h0m-5 11h0m0 2h0m-2 2h0m-10-3h0m-3 0h0m0-2h0m-5 2h0m-10 4h0m-3-2h0m0 2h0m-1-6h0m-14 8h0m0-6h0m-1 2h0m-7-2h0m-7 4h0m-8 0h0m0 2h0m-2-3h0m-9 0h0m-1-5h0m-2 1h0m-7 1h0m-1-1h0m-7 6h0m-3-4h0m-7 1h0m-2 1h0m-1 0h0m-15-6h0m-33 2h0m-1 0h0m0-2h0m-1 1h0m-1 0h0m0 9h0m-1-6h0m-4-1h0m-1 0h0m0 0h0m-1-3h0m-2 6h0m0-4h0m0 7h0m0 0h0m-2-6h0m0 6h0m0-3h0m-1 1h0m-1-5h0m-1 2h0m-1 0h0m-2 0h0m0 6h0m0-5h0m-1-2h0m-1 3h0m-1-4h0m-1 6h0m0-8h0m-1 7h0m-2-7h0m-3 2h0m-5 6h0m-2-3h0m-1 1h0m-1-1h0m-1 3h0m-1-1h0m-3-3h0m-2 4h0m-1-5h0m-1 7h0m0-5h0m-1 1h0m-1-2h0m-1 0h0m0 2h0m-1-2h0m-2 5h0m0-4h0m0-1h0m-1 1h0m0-3h0m-1 5h0m-2-3h0m0 6h0m-2-7h0m0-2h0m0 5h0m0 0h0m-1-3h0m0-1h0m-1-1h0m-1 4h0m-4 4h0m-2-3h0m0-5h0m-2 5h0m0 2h0m0-1h0m-2 0h0m-1-1h0m0-2h0m-1 5h0m0-8h0m-1 1h0m0 5h0m-1 1h0m0-8h0m-3 6h0m0 0h0m-1 0h0m0 0h0m-3 0h0m0-5h0m-2 3h0m0 3h0m-1-6h0m-1 3h0m0 1h0m-2 0h0m-2-4h0m-1-1h0m-2 6h0m-1 1h0m-1-3h0m0-4h0m-1 6h0m0-1h0m0-5h0m-1 9h0m0-5h0m-1 3h0m-2 2h0m-1-6h0m0 4h0m-1-3h0m0 2h0m-3-3h0m-3 4h0m-1-1h0m0 1h0m-5 2h0m0-4h0m-6 0h0m-1 3h0m-1-7h0m-1 1h0m-5-1h0m0 6h0m-1-6h0m0 4h0m-2 4h0m0 1h0m-1-1h0m0-7h0m-1 7h0m0-7h0m-2 3h0m0 3h0m1 3h0m1 6h0m1-5h0m1 5h0m1-5h0m2-1h0m5 6h0m3-2h0m1-1h0m0 3h0m1 1h0m2-2h0m0-1h0m1 2h0m1-1h0m2-6h0m0 7h0m1-4h0m0 3h0m1-2h0m0-3h0m2 9h0m0-7h0m1 6h0m0-7h0m0 5h0m1 1h0m1-6h0m0 2h0m0 2h0m2 2h0m2-4h0m1 3h0m1 2h0m0-5h0m0-2h0m0-1h0m2 7h0m0-4h0m1 2h0m1 2h0m1-3h0m0 0h0m2-4h0m2 5h0m2 1h0m0-3h0m1-1h0m1-1h0m1 8h0m1-4h0m1-1h0m0-1h0m1-2h0m1 0h0m0 7h0m2-2h0m3-6h0m0 6h0m2 2h0m1-2h0m0-5h0m1 8h0m0-5h0m0-3h0m1-2h0m1 5h0m1 0h0m2-4h0m0 8h0m0-1h0m2-4h0m1-4h0m0 1h0m1 4h0m2 4h0m1-9h0m1 9h0m0-9h0m3 9h0m1-3h0m0 1h0m1 0h0m1-6h0m3 3h0m1 0h0m1 6h0m2-1h0m1-1h0m4-2h0m0 1h0m1 3h0m1-5h0m0 4h0m1-6h0m1 1h0m1 2h0m0 0h0m1 3h0m0-7h0m2-2h0m0 4h0m1 5h0m0-3h0m1-4h0m1 1h0m2 4h0m1-2h0m3 5h0m2-9h0m1-1h0m4 1h0m0 4h0m1-2h0m0 2h0m1 1h0m2 2h0m0-2h0m2 4h0m3-2h0m1-3h0m0 1h0m1-2h0m2 2h0m0-4h0m1 0h0m1 4h0m2-4h0m1 8h0m0-10h0m1 5h0m2-2h0m63 4h0m4-4h0m10 7h0m8-6h0m7-4h0m1 7h0m32-2h0m8-4h0m10 2h0m4 3h0m2 1h0m14 3h0m-29 3h0m-37 4h0m-7 0h0m-6-3h0m-21-4h0m-24 8h0m-9-3h0m-33 1h0m0 2h0m0-1h0m-2-1h0m0 1h0m-1-6h0m0 5h0m0-2h0m-1-3h0m0 5h0m-2 3h0m0-2h0m-2 2h0m-1-6h0m-2-2h0m0 3h0m-1 2h0m0 3h0m-6-6h0m-2-2h0m0 2h0m-1 3h0m0-1h0m-1 2h0m0-3h0m0 3h0m-1-7h0m-1 0h0m-1 1h0m-1 0h0m-1 0h0m-1-1h0m0 3h0m-3 7h0m-1-8h0m-1 4h0m-1 1h0m-1 1h0m0 1h0m-1-6h0m-1 4h0m0-5h0m-1 1h0m-1 7h0m0-1h0m-1-3h0m-6-1h0m-2 1h0m-3-5h0m-1 1h0m-2 2h0m0-2h0m-2 0h0m-1 3h0m-2-3h0m0 2h0m-2 1h0m-2-4h0m-1 4h0m-1 3h0m-1 2h0m-2-5h0m-3 0h0m0 1h0m-1 0h0m0 3h0m-5-4h0m-1 2h0m-1-4h0m-1-1h0m0 1h0m-1 0h0m-2 4h0m0-6h0m0 3h0m0 3h0m-1 0h0m-3-3h0m0 2h0m-1 0h0m-2 2h0m-1-5h0m0 3h0m-1-3h0m-1 3h0m0 3h0m-1-1h0m0-8h0m-1 3h0m-1 1h0m-1 5h0m-2-8h0m0 1h0m-1-2h0m-3 2h0m0 2h0m-2 1h0m-2-3h0m-3 3h0m0 1h0m-1-1h0m0 3h0m0-5h0m-3 2h0m-1-2h0m-1 1h0m-3 5h0m-4-5h0m0 3h0m0 1h0m-2-6h0m-1-1h0m0 5h0m0-2h0m0 3h0m-1-1h0m0-5h0m-1 6h0m-2-7h0m-2 4h0m0 3h0m-1-4h0m0-2h0m-1 0h0m-2 6h0m-1-5h0m0 11h0m0-1h0m0 7h0m3-4h0m1 4h0m0-9h0m3 8h0m0-2h0m1 3h0m0-1h0m3-7h0m1 2h0m0-2h0m2 0h0m0 9h0m1-3h0m0 2h0m2 0h0m0-6h0m1 6h0m1-5h0m3-1h0m2-1h0m2 6h0m3-1h0m2 2h0m1-1h0m1-3h0m0 4h0m1 0h0m3 1h0m2-3h0m1-6h0m0 2h0m1 2h0m2 3h0m1-3h0m0 1h0m0 2h0m1-5h0m0 4h0m3 1h0m1-7h0m1 6h0m1-5h0m0 7h0m0 0h0m2-3h0m0-3h0m4 0h0m0 6h0m1-5h0m1 3h0m2 2h0m1-9h0m1 6h0m1 2h0m1-5h0m1-2h0m3 1h0m2 7h0m4 0h0m1-6h0m2-1h0m1 5h0m1 1h0m1-4h0m0 3h0m1-2h0m1-2h0m1 5h0m1-1h0m1-5h0m1 8h0m2-2h0m0-1h0m1-1h0m1-4h0m0-1h0m2 9h0m1 0h0m2-7h0m0-1h0m0 5h0m1-3h0m0 5h0m1-1h0m2-1h0m0-5h0m3 5h0m1-2h0m2 4h0m1-2h0m1-3h0m0-3h0m0 4h0m2-2h0m1 4h0m0-1h0m0-4h0m0 0h0m2-1h0m0 1h0m1-2h0m0 9h0m0-8h0m1 8h0m4-8h0m1 3h0m0 2h0m0-4h0m2 6h0m1-5h0m1 6h0m0-2h0m1-3h0m1-1h0m0-2h0m2 5h0m1 0h0m3-3h0m1 1h0m2 6h0m0-3h0m0-2h0m1 5h0m1-5h0m2-2h0m0 0h0m1 1h0m30 4h0m25-1h0m6 0h0m2-5h0m33 3h0m13-5h0m4 0h0m4 6h0m1-1h0m2-3h0m13-1h0m6 2h0m14 7h0m9 6h0m-7-5h0m-24 2h0m-2-3h0m-3 5h0m-3 2h0m-2-2h0m-5 0h0m-7 3h0m-12-7h0m-4 4h0m-2-1h0m-5 0h0m-6 5h0m-9-5h0m-12 0h0m-3-2h0m0-1h0m-17-1h0m-40 1h0m-1 4h0m0 4h0m-1-6h0m-1 2h0m-2-4h0m-1 3h0m0-4h0m-2 9h0m0-8h0m-1-1h0m0 4h0m0 1h0m-1 2h0m-3 2h0m0-7h0m-2 7h0m0 1h0m-2-7h0m-1 0h0m0 4h0m-1 2h0m-1-7h0m0 8h0m-4-1h0m-1-1h0m-1-2h0m0 3h0m0-7h0m-1 7h0m-1-8h0m0 7h0m-1-5h0m0 1h0m0 0h0m-1-1h0m0 2h0m0-4h0m-1 4h0m-1-4h0m-2 0h0m-3 0h0m0 7h0m-3-1h0m0-1h0m0 2h0m-1-2h0m0 4h0m-1-7h0m-1-3h0m-2 2h0m0 2h0m-2-1h0m-1-3h0m0 7h0m-2-1h0m-2-4h0m0 1h0m-2-2h0m0 6h0m0-6h0m-3 6h0m0-7h0m-2 6h0m0-2h0m-2 0h0m-1 5h0m-1 0h0m0-4h0m-1 4h0m0-4h0m-2 1h0m0 0h0m0-2h0m-4 1h0m0 5h0m0 0h0m-1-7h0m-1 3h0m-1 4h0m-1 0h0m-1-2h0m0-6h0m-1 3h0m-1-5h0m0 7h0m-2-2h0m-1 1h0m-1 0h0m0-3h0m0 1h0m-1 6h0m-2-1h0m-1-6h0m-3 3h0m0 1h0m-1-5h0m-2 0h0m-1 0h0m0 2h0m-1 4h0m-1-2h0m-1 3h0m0 1h0m-1-8h0m-3 1h0m0 0h0m-1-1h0m0 3h0m0-3h0m-6 8h0m-1-2h0m0-6h0m-2 2h0m-3 3h0m0-4h0m-3 2h0m-3-4h0m-1 0h0m-3 1h0m0 4h0m-2-2h0m-1-1h0m-2 1h0m-1 3h0m-1 2h0m-2-8h0m0 9h0m0-6h0m-1 2h0m0 0h0m-1 4h0m-1-4h0m0 1h0m-1 1h0m-1-4h0m0 5h0m-1-1h0m-1 1h0m0-4h0m-2 8h0m1 6h0m0-3h0m0-3h0m0 3h0m0 3h0m3-4h0m3 0h0m1-4h0m0 7h0m3-3h0m1-4h0m1 2h0m1 5h0m2 1h0m1-6h0m2 7h0m0-2h0m0-3h0m1-2h0m1 4h0m0-6h0m3 6h0m1 2h0m1-9h0m0 7h0m0 0h0m1-5h0m0 4h0m0-4h0m2 5h0m0 1h0m1-7h0m0 0h0m0 8h0m1-9h0m0 9h0m2-2h0m0 2h0m0-3h0m1-5h0m1 1h0m1 4h0m0 3h0m1 0h0m2-3h0m0 2h0m0-6h0m2 4h0m1-2h0m0-1h0m1 5h0m0 2h0m0 0h0m1-3h0m0 2h0m0 0h0m0-7h0m1 4h0m0-1h0m0 5h0m1-10h0m1 4h0m0-1h0m2 6h0m1-2h0m0 0h0m0 1h0m1 1h0m1-4h0m0 0h0m0 3h0m0-4h0m1-2h0m0 1h0m1 1h0m2-4h0m1 4h0m0 1h0m1 0h0m0 2h0m0 2h0m1-2h0m2-2h0m0-1h0m1-2h0m2 1h0m0 2h0m1-4h0m0 7h0m0-6h0m1 6h0m1-1h0m0-1h0m1-4h0m1 3h0m1 0h0m0 4h0m1-5h0m1 4h0m0-6h0m1 1h0m1 5h0m2-7h0m2 5h0m3-5h0m0 1h0m1 7h0m0-6h0m1-1h0m0 1h0m1-2h0m1 6h0m1-5h0m1-2h0m2 7h0m1-7h0m0 5h0m1 0h0m1-5h0m1 0h0m1 4h0m1 5h0m1-5h0m1 3h0m1-6h0m0 2h0m1 7h0m2-6h0m3-1h0m0 4h0m1 0h0m1-3h0m0 0h0m1 5h0m0 0h0m0-1h0m0 0h0m1 0h0m0-1h0m0-6h0m1 7h0m2-2h0m1-1h0m2-4h0m1 5h0m2-1h0m0 5h0m1-9h0m1 8h0m1-1h0m0-6h0m2 6h0m0-4h0m0 4h0m0-3h0m3 1h0m0-3h0m3-2h0m2 8h0m1-5h0m2 0h0m1 5h0m4-2h0m1-3h0m0-2h0m0-1h0m29 6h0m2-3h0m14 1h0m0-1h0m2 1h0m6 5h0m5-7h0m21 3h0m12-4h0m31 6h0m4-7h0m2 8h0m2 1h0m26-9h0m1 8h0m1-3h0m-2 9h0m-18 1h0m-20 0h0m-5-4h0m-29 1h0m-3 6h0m-3-2h0m-4-7h0m-9 7h0m-4-5h0m-3 1h0m-56 4h0m0 0h0m-2-2h0m-3-4h0m0 9h0m-1-5h0m0-3h0m0 0h0m-1 4h0m0 1h0m-1 3h0m0-9h0m-2 3h0m0 1h0m0-3h0m0 5h0m-1-1h0m0 0h0m-3-2h0m0 1h0m-2-1h0m-1-1h0m0 1h0m-1 0h0m-1 2h0m-1 4h0m0-5h0m0 4h0m-1 1h0m-1-7h0m-2-1h0m0 6h0m-1-5h0m-1 2h0m0-4h0m-1 7h0m-1-4h0m0 0h0m0 0h0m-2-1h0m0 5h0m-1-3h0m0 2h0m0-3h0m0-4h0m0 3h0m-1 4h0m-1-1h0m0 4h0m0-1h0m-1-1h0m0-6h0m0 7h0m0-6h0m0 1h0m-1 5h0m-2-3h0m-2 3h0m0-3h0m-1-4h0m-1 7h0m-3-5h0m-1-2h0m-1 5h0m0 0h0m0-6h0m-1 8h0m0-4h0m-1-2h0m0 3h0m-1-3h0m0 7h0m0-1h0m-1-7h0m-1 4h0m0-1h0m0 0h0m-2 5h0m0-9h0m-1 8h0m0-3h0m-1 1h0m0-6h0m0 7h0m-1 0h0m-1 1h0m0 0h0m-1-6h0m0 0h0m-1-1h0m-1 7h0m0-5h0m-4-2h0m-2 7h0m-1-6h0m0-2h0m-1 4h0m0-1h0m-2-1h0m0 2h0m-3 2h0m-1-1h0m-1-1h0m0-4h0m-2 7h0m0-7h0m-1 8h0m0 1h0m-2-3h0m0 1h0m-1 0h0m0-4h0m-1-2h0m0-1h0m-1 7h0m-1-4h0m0-2h0m0 6h0m0 0h0m-1-4h0m0 0h0m0 4h0m-3-4h0m0-2h0m0-1h0m0 5h0m0-6h0m-2 1h0m-1 0h0m0 5h0m-1 3h0m0-3h0m-1 0h0m0-1h0m0-5h0m-1 8h0m0-7h0m-1 8h0m-1-9h0m-2 2h0m-2 4h0m-2-5h0m-1 8h0m-1-7h0m-1 7h0m-2-8h0m0-1h0m0 1h0m-1 2h0m-1 2h0m-1-3h0m-3-1h0m0 4h0m0-1h0m0 3h0m-1 0h0m-1-6h0m-1 4h0m0 0h0m0-5h0m-2 10h0m0-7h0m-1 6h0m0-6h0m-1-1h0m0 3h0m-1 1h0m-3-5h0m0 8h0m-1 0h0m0-5h0m-1 4h0m-1-3h0m0 3h0m-2-7h0m0 5h0m-2-2h0m0-1h0m0-1h0m0 1h0m-1-2h0m-1 2h0m-1 3h0m-1-2h0m0-3h0m0 4h0m-1 3h0m-1 0h0m-1-4h0m0 4h0m0-1h0m-1-1h0m0-1h0m0 1h0m0 6h0m4 6h0m0 0h0m0 0h0m1-3h0m0 1h0m1 0h0m0 2h0m1-7h0m0 6h0m2-7h0m0 5h0m1 3h0m0 0h0m1-3h0m1-1h0m0-1h0m0 7h0m0-6h0m1 6h0m0-3h0m1-1h0m0-1h0m0-2h0m1-2h0m0 7h0m1-1h0m0 0h0m1-5h0m0 5h0m0-3h0m1 0h0m0-3h0m2 2h0m0 3h0m1 1h0m0-3h0m0-4h0m1 1h0m1-1h0m0 8h0m1 0h0m0-7h0m0 8h0m0-8h0m0 5h0m4 4h0m1-7h0m0 4h0m0-5h0m1 6h0m1 0h0m2 0h0m1-6h0m1 0h0m2 3h0m0-3h0m1 5h0m1-7h0m0 6h0m0-6h0m2 5h0m0 3h0m1-4h0m0-1h0m0-3h0m2 3h0m2 7h0m0-4h0m1-2h0m1 5h0m1-1h0m2-8h0m0 5h0m3 0h0m1-4h0m0 4h0m1 2h0m0 0h0m0-3h0m1 3h0m0-1h0m1 2h0m0 1h0m1-1h0m0-1h0m2-6h0m0 4h0m1-3h0m0 7h0m1 0h0m0-3h0m1-6h0m1 5h0m0-4h0m1 7h0m1-2h0m0-4h0m1 6h0m1-7h0m1 2h0m0 2h0m1-4h0m1 7h0m0 1h0m0-2h0m1-3h0m1-1h0m0 4h0m0-5h0m0 5h0m1 1h0m1-2h0m0-2h0m1 4h0m0-8h0m1 3h0m1 4h0m0-5h0m1 6h0m1-6h0m0 0h0m0 5h0m1-1h0m0 1h0m0 1h0m1-1h0m0-5h0m1 5h0m1 2h0m0-2h0m1-4h0m3 3h0m1-3h0m3 2h0m0 3h0m0-6h0m1 4h0m0 1h0m1 1h0m0 2h0m2-7h0m0 3h0m1-2h0m0 1h0m1-1h0m0-1h0m1 1h0m2 1h0m1-4h0m2 6h0m1-5h0m1 8h0m1-6h0m1 5h0m1 0h0m1 0h0m1-2h0m2 0h0m2-2h0m1-2h0m0 4h0m1-6h0m0 8h0m0-3h0m0 0h0m1 0h0m0-4h0m1 3h0m0-4h0m1 5h0m0-6h0m1 3h0m2 6h0m0-5h0m2 4h0m1 1h0m0-8h0m1 8h0m1-3h0m0 0h0m1-2h0m1 5h0m1 0h0m0-9h0m1 3h0m0-1h0m1 6h0m0-3h0m0 0h0m1 1h0m2-6h0m0 1h0m0-1h0m39 9h0m2-8h0m11 8h0m16-5h0m26-2h0m18 6h0m1-1h0m26 0h0m3-6h0m4 4h0m12 4h0m6 0h0m4 9h0m-2-8h0m-2 5h0m-3-1h0m-3 5h0m-17 0h0m-17-9h0m-24 6h0m-12-3h0m-9 4h0m-34-3h0m-7 2h0m-37 3h0m-1 1h0m-1-8h0m-1 1h0m-1 4h0m-1-2h0m-1 1h0m-1-2h0m0 5h0m-1 0h0m-1-1h0m-1-4h0m-1-3h0m-1 4h0m0 3h0m0-7h0m-1 0h0m-1 7h0m0-1h0m0-6h0m0 6h0m-1-5h0m0 0h0m0 5h0m-2 2h0m-1-2h0m0-5h0m-1 5h0m0-3h0m-1 1h0m-1-3h0m-1 0h0m0 7h0m-1 0h0m-1-6h0m0 6h0m0-1h0m-1-3h0m0-4h0m-2 5h0m0-3h0m-1 6h0m0-5h0m-1 4h0m0-2h0m-1-2h0m-1-3h0m0 5h0m-2-6h0m-1 6h0m-1-2h0m-1 2h0m-2-1h0m0-5h0m0 9h0m0-7h0m-1 4h0m-2 4h0m-1-4h0m-3-4h0m0 7h0m-1-2h0m-1 0h0m-1-1h0m0 4h0m0-9h0m0 2h0m0 6h0m-1-3h0m-2-5h0m-1 0h0m-1 2h0m-2 3h0m0-3h0m-1 1h0m0 0h0m-4 3h0m-2-1h0m0-1h0m0-4h0m-1 1h0m-1 6h0m0-5h0m0 5h0m-1 0h0m0 1h0m-1-8h0m-2 7h0m-1-2h0m-1 0h0m-2-5h0m0 1h0m0-1h0m-1 1h0m0 4h0m-1 2h0m0 1h0m0 1h0m-1-8h0m-1 4h0m0 2h0m0 0h0m-1 0h0m-3 1h0m0-9h0m-2 7h0m0 0h0m-1-4h0m0 6h0m0 0h0m0 0h0m0-2h0m0 2h0m0-1h0m-3-3h0m-1 2h0m0-5h0m-1 4h0m-1 0h0m0-2h0m-1 1h0m-1 2h0m0-6h0m0 7h0m-2-6h0m-1 0h0m-1 2h0m0-3h0m0 6h0m0-5h0m-2 4h0m0 0h0m-1 1h0m0 0h0m-1 2h0m0-6h0m-1 5h0m0 2h0m-1-5h0m0 2h0m-2 2h0m-1-8h0m0 7h0m-1-4h0m-1-1h0m0-1h0m0-1h0m-1 2h0m-2 4h0m0-5h0m0 4h0m0-4h0m0-1h0m0 5h0m-1 2h0m-1 1h0m-1-1h0m-1 0h0m-3-3h0m-1 3h0m0 0h0m0-6h0m-1 8h0m0-8h0m0 7h0m0-4h0m0-4h0m-1 1h0m0 8h0m-1-2h0m-2-1h0m0-1h0m0-3h0m-1 1h0m0 4h0m-1-6h0m-1 4h0m-1-6h0m0 3h0m-1-1h0m-2 3h0m-1 3h0m-1-3h0m-1-2h0m0 4h0m-1 1h0m0-2h0m-1 0h0m0 0h0m-2-6h0m0 2h0m0 4h0m-1-4h0m-1 1h0m0 5h0m0-3h0m0-4h0m-1 5h0m0 0h0m0 7h0m0-2h0m1 2h0m0 4h0m1 2h0m1 0h0m1-2h0m0-2h0m1-4h0m1 5h0m0-1h0m0-4h0m2 5h0m1 3h0m1-6h0m1-3h0m1 5h0m0-3h0m0 4h0m1 3h0m0-1h0m1-2h0m1 3h0m1-4h0m1-3h0m1 6h0m0 2h0m0-2h0m1-7h0m1 8h0m0-2h0m0-1h0m1-1h0m0 4h0m1-2h0m1-6h0m0 5h0m0 2h0m1-2h0m0-2h0m1 4h0m4-4h0m0 1h0m2 2h0m2-1h0m0 3h0m0-7h0m2 1h0m0-3h0m1 4h0m2-2h0m0 0h0m1 5h0m1-3h0m0-4h0m1 1h0m0-1h0m0 1h0m1 2h0m0 5h0m0-7h0m0 7h0m0 2h0m1-10h0m0 6h0m1-2h0m0 3h0m0-2h0m0-2h0m0-3h0m1 9h0m1-7h0m1-2h0m0 1h0m1 0h0m1 3h0m2-4h0m1 8h0m5-3h0m0-1h0m0-2h0m0 2h0m0 0h0m1-1h0m0-1h0m2 6h0m1 0h0m0-2h0m0-5h0m3 3h0m1 4h0m2 1h0m0-6h0m0 3h0m1-3h0m2 4h0m0-2h0m0 0h0m0 1h0m1 2h0m0-6h0m0-2h0m0 6h0m0-2h0m1-4h0m0 5h0m3 4h0m0 1h0m0-2h0m1-2h0m2-6h0m1 3h0m0-3h0m1 5h0m1-1h0m1 2h0m0-5h0m0 7h0m3-2h0m1 0h0m0-5h0m0 4h0m0 1h0m1 3h0m3-8h0m0 7h0m1 0h0m0-6h0m0 6h0m3-1h0m2 0h0m0-6h0m2 0h0m0 1h0m0 4h0m0 4h0m1-3h0m1-4h0m0 7h0m0-6h0m2 2h0m0 3h0m2-7h0m0 2h0m1 6h0m1-1h0m0 0h0m1-7h0m0 0h0m2 2h0m0 3h0m1-6h0m1-1h0m0 1h0m0 7h0m0-6h0m1 7h0m1-5h0m0 5h0m2-4h0m1-2h0m1 4h0m1 2h0m2-4h0m1-5h0m1 3h0m0 1h0m0-1h0m1 2h0m1 4h0m1-8h0m0 8h0m0-6h0m1 6h0m0-8h0m0 6h0m1-5h0m2 2h0m0 2h0m0 0h0m1 1h0m0-1h0m0-4h0m1 5h0m0-1h0m0-3h0m0 0h0m1 5h0m1 2h0m0-2h0m1-3h0m0 4h0m0-4h0m0-3h0m0 3h0m3 3h0m0-8h0m1 8h0m2-5h0m35-3h0m4 4h0m1-3h0m35 3h0m7 0h0m18-2h0m23 4h0m11 3h0m9-1h0m5 1h0m4 0h0m3-9h0m5 0h0m5 11h0m-12 2h0m-6-1h0m-25 3h0m-10 1h0m-4 0h0m-11 1h0m-1 0h0m-4-3h0m-2-1h0m-56 4h0m-2-2h0m-1 0h0m-31 1h0m-1-1h0m0 1h0m0-5h0m-1 2h0m-1 2h0m-7 2h0m-1-5h0m0 3h0m0-2h0m-3 4h0m-2 3h0m0-1h0m0-8h0m0 0h0m-1 0h0m0 2h0m-1 3h0m0 4h0m-1-1h0m-1 0h0m0-6h0m0 5h0m0-1h0m-2-5h0m0-1h0m-3 2h0m0 1h0m-1-1h0m0 7h0m-1-9h0m-1 0h0m-1 0h0m0 4h0m-1 3h0m0 2h0m-1-4h0m-4-2h0m-1-4h0m-1 3h0m-1 0h0m-3 7h0m-1-5h0m0 3h0m0-1h0m0-6h0m-3 0h0m0 5h0m0 0h0m0 3h0m-1-3h0m-1-5h0m0 1h0m0 8h0m-1-1h0m-1-3h0m-1-5h0m-1 7h0m-1 0h0m0 1h0m0-2h0m-3 2h0m-1-8h0m-2 3h0m-2-3h0m0 1h0m-1 7h0m0-8h0m-1 7h0m0-7h0m-2 2h0m-1 2h0m-2 4h0m-1-8h0m0 6h0m-1-2h0m-1 3h0m-1-3h0m-1-5h0m0 5h0m-1-1h0m-3-3h0m0 8h0m0-3h0m-2 0h0m0 3h0m-1-7h0m-3 3h0m0-3h0m-2 4h0m-2 2h0m0-5h0m-1 1h0m-1-4h0m-1 4h0m-1 0h0m0 2h0m0-3h0m-1 0h0m0 3h0m-1-1h0m0-1h0m0 2h0m0-3h0m-1 4h0m-5-2h0m-1 2h0m0-4h0m0 5h0m0-6h0m-1 1h0m0 3h0m-1-2h0m0 6h0m-1-8h0m0 1h0m-1 7h0m0-7h0m0 7h0m-1-8h0m0 2h0m-1 5h0m0-5h0m-1-2h0m0 5h0m-2-4h0m0 3h0m0-5h0m-1 4h0m0-2h0m-2-3h0m-2 7h0m-2-5h0m0 0h0m0 6h0m0-7h0m-2 5h0m-2-4h0m0 6h0m0-7h0m-1 6h0m0-7h0m-1 7h0m-1-3h0m-1-3h0m0 6h0m0-7h0m-1 1h0m0-1h0m-1 7h0m-1 2h0m0 0h0m-1-2h0m-1-2h0m-1 0h0m0 4h0m0-6h0m-1 2h0m-2-2h0m-1 5h0m-1-6h0m0 2h0m0 4h0m-1-5h0m0 7h0m0-9h0m-1 0h0m-2 3h0m0-2h0m-2 3h0m0 6h0m0 0h0m1 7h0m3 0h0m1-2h0m1 0h0m1-4h0m1 6h0m1-3h0m1-3h0m0 7h0m1 1h0m1-5h0m1-4h0m1 8h0m0-8h0m0 0h0m0 5h0m1-5h0m0-1h0m2 3h0m2 2h0m0-3h0m1 0h0m3 6h0m1-6h0m2 6h0m3-7h0m1 2h0m2 3h0m1 1h0m1-1h0m1 2h0m0-7h0m1 5h0m1-4h0m0 6h0m0-6h0m0 6h0m0-1h0m1-2h0m0-4h0m1 0h0m0 8h0m1-1h0m2-6h0m0 3h0m0-4h0m1 0h0m2 7h0m2-5h0m0 5h0m1-8h0m0 6h0m2-3h0m0 6h0m0-2h0m1 0h0m0 2h0m2-2h0m0-1h0m1-1h0m0-3h0m1 8h0m1-4h0m1-3h0m0 4h0m2-3h0m1 2h0m1 2h0m0-5h0m1-2h0m0 0h0m1 0h0m1 7h0m1-1h0m0 1h0m1-5h0m0 6h0m0-2h0m0 3h0m0-1h0m2-5h0m1 6h0m0-10h0m0 10h0m1-8h0m0 1h0m1 4h0m0-3h0m0 3h0m0-3h0m1 0h0m0-1h0m1 1h0m0 5h0m0-4h0m2 3h0m1-7h0m1 3h0m1 0h0m0-3h0m1 7h0m1-4h0m1 1h0m0 4h0m1-7h0m0 2h0m0 0h0m1 3h0m1-6h0m3 5h0m1-1h0m1 3h0m1-2h0m0-1h0m0 4h0m2-1h0m1 1h0m0 0h0m1-3h0m0-5h0m1 8h0m0-3h0m1 1h0m0-4h0m1-1h0m1 1h0m1 6h0m1-2h0m0-2h0m0 3h0m2 1h0m1-1h0m1-1h0m0-6h0m2 8h0m1-1h0m0 0h0m0-3h0m2 1h0m3-2h0m0-2h0m0 4h0m0-1h0m1 0h0m0 1h0m0-3h0m1-1h0m0 2h0m1 3h0m0 0h0m2-3h0m0 1h0m2-3h0m0 7h0m0-3h0m1-2h0m1 1h0m0 1h0m0-4h0m1 2h0m1 5h0m0-7h0m3 2h0m2 0h0m1 2h0m0-5h0m1 7h0m0-7h0m2 8h0m1-2h0m0 0h0m2 3h0m0-7h0m1-2h0m1 1h0m1 1h0m1-2h0m1 2h0m34 0h0m2 2h0m4 3h0m1 2h0m8-3h0m9-6h0m23 4h0m17 3h0m1-6h0m22 0h0m3 6h0m22-2h0m2-4h0m1 1h0m4-3h0m3 9h0m5 0h0m-54 4h0m-6-3h0m-29 3h0m-17-1h0m-56 0h0m0-2h0m-3 1h0m0 3h0m-2-4h0m-1 2h0m-1-1h0m-1 0h0m0 1h0m-1 2h0m-1-3h0m0 2h0m0-2h0m0 0h0m-1 1h0m-1 1h0m0 0h0m-4-1h0m-1 0h0m0 0h0m-4 1h0m-1-3h0m-10 2h0m0 2h0m-1-2h0m-7 1h0m0 1h0m-6-2h0m0-1h0m-1 0h0m-3 0h0m-2 0h0m0 2h0m0-2h0m-4 1h0m-5 0h0m-2-1h0m-5 0h0m-3 1h0m-1-1h0m-1-1h0m0 0h0m-2 2h0m0-2h0m-3 3h0m0-1h0m-1-1h0m-3 2h0m-1-2h0m0 2h0m0-1h0m-1 1h0m-1-2h0m-2-1h0m-4 2h0m0 1h0m0-1h0m-1-1h0m-2 3h0m-4 0h0m-2-2h0m-1-1h0m0 0h0m-2 2h0m-1-2h0m0 3h0m-4-3h0m0 1h0m-1-2h0m0 1h0m-4-1h0m0 3h0m-1-1h0m-3-2h0m-3 2h0m-1-2h0m-1 2h0m-7 1h0m-1-1h0m-4-2h0m-2 4h0m0-1h0m-1-2h0" stroke="#000" stroke-width="3.20" stroke-linecap="round" fill="none"/>
<line x1="1367.6" y1="2079.7" x2="1367.6" y2="1984.1" stroke="#000" stroke-width="1.4"/>
<line x1="1366.9" y1="2079.7" x2="1560.6" y2="2079.7" stroke="#000" stroke-width="1.4"/>
<line x1="1364.1" y1="2077.1" x2="1367.6" y2="2077.1" stroke="#000" stroke-width="1"/>
<text x="1362.1" y="2080.9" font-family="'Liberation Sans', Arial, sans-serif" font-size="10.8" text-anchor="end" fill="#4D4D4D">0</text>
<line x1="1364.1" y1="2047.7" x2="1367.6" y2="2047.7" stroke="#000" stroke-width="1"/>
<text x="1362.1" y="2051.5" font-family="'Liberation Sans', Arial, sans-serif" font-size="10.8" text-anchor="end" fill="#4D4D4D">2</text>
<line x1="1364.1" y1="2018.4" x2="1367.6" y2="2018.4" stroke="#000" stroke-width="1"/>
<text x="1362.1" y="2022.2" font-family="'Liberation Sans', Arial, sans-serif" font-size="10.8" text-anchor="end" fill="#4D4D4D">4</text>
<line x1="1364.1" y1="1989.0" x2="1367.6" y2="1989.0" stroke="#000" stroke-width="1"/>
<text x="1362.1" y="1992.8" font-family="'Liberation Sans', Arial, sans-serif" font-size="10.8" text-anchor="end" fill="#4D4D4D">6</text>
<line x1="1418.3" y1="2079.7" x2="1418.3" y2="2083.2" stroke="#000" stroke-width="1"/>
<text x="1421.8" y="2089.2" font-family="'Liberation Sans', Arial, sans-serif" font-size="12.3" text-anchor="end" fill="#4D4D4D" transform="rotate(-45 1421.8 2089.2)">NFs</text>
<line x1="1502.0" y1="2079.7" x2="1502.0" y2="2083.2" stroke="#000" stroke-width="1"/>
<text x="1505.5" y="2089.2" font-family="'Liberation Sans', Arial, sans-serif" font-size="12.3" text-anchor="end" fill="#4D4D4D" transform="rotate(-45 1505.5 2089.2)">CAFs</text>
<text x="1465.1" y="2128.3" font-family="'Liberation Sans', Arial, sans-serif" font-size="12.5" text-anchor="middle" fill="#4D4D4D" textLength="44.3" lengthAdjust="spacingAndGlyphs">Identity</text>
<text x="1346.1" y="2031.9" font-family="'Liberation Sans', Arial, sans-serif" font-size="12.5" text-anchor="middle" fill="#4D4D4D" textLength="100.0" lengthAdjust="spacingAndGlyphs" transform="rotate(-90 1346.1 2031.9)">Expression Level</text>
<text x="1689.9" y="1974.1" font-family="'Liberation Sans', Arial, sans-serif" font-size="14" font-weight="bold" text-anchor="middle" textLength="60.6" lengthAdjust="spacingAndGlyphs">COL4A1</text>
<path d="M1686.5 2077.1 L1682.8 2076.2 L1660.6 2074.3 L1659.2 2072.2 L1656.5 2070.0 L1655.0 2067.9 L1655.0 2065.5 L1654.9 2063.2 L1654.7 2060.9 L1654.7 2058.6 L1654.4 2056.3 L1653.9 2054.0 L1653.4 2051.7 L1653.2 2049.4 L1653.1 2047.2 L1652.8 2045.1 L1652.5 2042.9 L1652.1 2040.8 L1651.8 2038.6 L1651.7 2036.4 L1651.6 2034.3 L1651.1 2032.1 L1650.6 2030.0 L1650.1 2027.8 L1649.7 2025.7 L1649.5 2023.5 L1649.5 2023.5 L1649.3 2025.7 L1648.9 2027.8 L1648.4 2030.0 L1647.9 2032.1 L1647.4 2034.3 L1647.3 2036.4 L1647.2 2038.6 L1646.9 2040.8 L1646.5 2042.9 L1646.2 2045.1 L1645.9 2047.2 L1645.8 2049.4 L1645.6 2051.7 L1645.1 2054.0 L1644.6 2056.3 L1644.3 2058.6 L1644.3 2060.9 L1644.1 2063.2 L1644.0 2065.5 L1644.0 2067.9 L1642.5 2070.0 L1639.8 2072.2 L1638.4 2074.3 L1616.2 2076.2 L1612.5 2077.1 Z" fill="#F0756C" stroke="#111" stroke-width="0.8"/>
<path d="M1770.3 2077.1 L1761.0 2074.3 L1754.9 2072.0 L1748.8 2069.7 L1748.3 2067.5 L1747.0 2065.3 L1745.5 2063.1 L1744.2 2060.8 L1743.7 2058.6 L1743.4 2056.3 L1742.9 2054.0 L1742.4 2051.7 L1742.2 2049.4 L1741.7 2047.1 L1740.7 2044.8 L1739.7 2042.4 L1739.2 2040.1 L1739.1 2038.1 L1738.9 2036.0 L1738.5 2034.0 L1738.1 2031.9 L1737.7 2029.9 L1737.3 2027.8 L1737.0 2025.8 L1736.7 2023.7 L1736.6 2021.7 L1736.6 2019.6 L1736.4 2017.6 L1736.2 2015.5 L1736.0 2013.4 L1735.8 2011.4 L1735.5 2009.3 L1735.3 2007.3 L1735.2 2005.2 L1735.1 2003.2 L1735.0 2001.1 L1734.8 1999.0 L1734.4 1996.8 L1734.0 1994.7 L1733.7 1992.6 L1733.4 1990.5 L1733.3 1988.4 L1733.3 1988.4 L1733.2 1990.5 L1732.9 1992.6 L1732.6 1994.7 L1732.2 1996.8 L1731.8 1999.0 L1731.6 2001.1 L1731.5 2003.2 L1731.4 2005.2 L1731.3 2007.3 L1731.1 2009.3 L1730.8 2011.4 L1730.6 2013.4 L1730.4 2015.5 L1730.2 2017.6 L1730.0 2019.6 L1730.0 2021.7 L1729.9 2023.7 L1729.6 2025.8 L1729.3 2027.8 L1728.9 2029.9 L1728.5 2031.9 L1728.1 2034.0 L1727.7 2036.0 L1727.5 2038.1 L1727.4 2040.1 L1726.9 2042.4 L1725.9 2044.8 L1724.9 2047.1 L1724.4 2049.4 L1724.2 2051.7 L1723.7 2054.0 L1723.2 2056.3 L1722.9 2058.6 L1722.4 2060.8 L1721.1 2063.1 L1719.6 2065.3 L1718.3 2067.5 L1717.8 2069.7 L1711.7 2072.0 L1705.5 2074.3 L1696.3 2077.1 Z" fill="#1FBCC1" stroke="#111" stroke-width="0.8"/>
<path transform="scale(.5)" d="M3405 3988h0m19 0h0m25 0h0m85 6h0m-4 5h0m-7-8h0m-3 0h0m-4 7h0m-3-4h0m-5 5h0m-14-3h0m-19 1h0m-17-3h0m-30-2h0m-31 9h0m1 0h0m11 0h0m3 3h0m7 4h0m12-5h0m19 2h0m3-1h0m1-3h0m15 8h0m6 1h0m1-3h0m4-4h0m8 2h0m10 4h0m1-9h0m8 3h0m3 5h0m1-1h0m2 0h0m16-5h0m5-1h0m1 5h0m-5 13h0m0-5h0m-6 4h0m-23-6h0m-1 1h0m-15 4h0m-3 1h0m-4-4h0m-26 0h0m-20-4h0m-20 8h0m-1-6h0m-13 3h0m1 13h0m10-2h0m1-5h0m28 0h0m3 3h0m9-3h0m14 9h0m3-9h0m12 3h0m6 6h0m3-9h0m23 2h0m6 4h0m11-6h0m2 5h0m1-2h0m-5 13h0m-4 3h0m-1-5h0m0 3h0m-69-2h0m0-2h0m-15 4h0m-4-2h0m-10-1h0m-8-1h0m-5-1h0m-2 3h0m-4 0h0m-169 11h0m2 3h0m0 0h0m5-2h0m6 0h0m13 0h0m26 2h0m17-2h0m10 1h0m3-2h0m0 0h0m2 1h0m2 2h0m8-2h0m4 1h0m1-2h0m2 2h0m2-1h0m4 1h0m2 0h0m5-1h0m8 0h0m40-5h0m11 6h0m13-1h0m9-3h0m29-1h0m8 3h0m31 2h0m13 0h0m2-6h0m14 14h0m-1-5h0m-10 5h0m-2 3h0m-1-10h0m-1 4h0m-7 0h0m-8 6h0m-6-5h0m-1 4h0m-27-6h0m-1 1h0m-12 5h0m-9 0h0m-30 0h0m-6-5h0m-2 1h0m-34 5h0m0-10h0m-2 0h0m-1 6h0m-1 0h0m0 0h0m-2-6h0m0 9h0m-2-7h0m-3 0h0m-1 6h0m-1-7h0m0 2h0m-2 1h0m0-3h0m-5 3h0m-5 2h0m0-5h0m-5 6h0m-1-6h0m-3 9h0m0-1h0m-4-4h0m0-2h0m-4 2h0m0-3h0m-1 1h0m-1 3h0m-2-1h0m-1 3h0m-1-1h0m-2 3h0m-4-4h0m-1-2h0m-1 1h0m0 1h0m0 2h0m-2-4h0m-3 6h0m-2-3h0m-1-2h0m-3 4h0m0-1h0m-1-2h0m-2 1h0m-4-3h0m0-1h0m-3-1h0m-4 1h0m-7 2h0m-2-4h0m0 4h0m0-4h0m-1 4h0m-1 0h0m0-3h0m-2 1h0m-9 0h0m-1 4h0m0-2h0m-4 3h0m0-3h0m-3 0h0m0-2h0m-1 2h0m-1 1h0m-2 3h0m-2 1h0m0-4h0m-2 2h0m-1 1h0m-1 1h0m-1-6h0m-3 2h0m-1-5h0m-2 4h0m-2 1h0m0 2h0m-1-3h0m-2-2h0m-4-2h0m-2 2h0m0 16h0m11-7h0m1 8h0m4 0h0m0-1h0m3-5h0m0-4h0m0 6h0m5 0h0m3-5h0m5 6h0m6-5h0m0 7h0m3-5h0m0-3h0m3 0h0m1-1h0m6 3h0m1 3h0m0-5h0m1 6h0m2-5h0m7-2h0m6 6h0m0-3h0m0-3h0m2 3h0m5 6h0m0-2h0m1-6h0m3 9h0m2-4h0m2-2h0m0 2h0m2 0h0m3-5h0m2 1h0m5 5h0m2-4h0m2-3h0m1 7h0m2-5h0m2-1h0m1 5h0m2 0h0m1-1h0m10-3h0m5 7h0m3-9h0m0 6h0m3 0h0m0-4h0m2-1h0m4 8h0m1-8h0m38 1h0m20 8h0m0-1h0m9-2h0m5-7h0m8 3h0m15-2h0m20 0h0m6-1h0m3 4h0m7 4h0m0-1h0m11-6h0m2 7h0m3-7h0m20 13h0m-4-1h0m-1 5h0m-6-8h0m-3 6h0m-5 2h0m-1-2h0m-7-2h0m-7 3h0m-5-5h0m-1 1h0m-1 1h0m-12 5h0m-5 1h0m-34-8h0m-2 0h0m-1 7h0m-1-7h0m-1 5h0m-2-2h0m-6 0h0m0 1h0m-5 4h0m-19-3h0m-6-5h0m-29 6h0m-2-6h0m-1 3h0m-1 0h0m0 1h0m-13 3h0m-5-2h0m-2-6h0m-2 6h0m-1-2h0m-2-2h0m-2 0h0m-2 1h0m-2 0h0m0 0h0m0 1h0m-1-2h0m-1 6h0m-3-8h0m-1 6h0m0-5h0m-2 6h0m-3 1h0m-1-8h0m-2 6h0m-2 1h0m-5-4h0m-3-1h0m-2 5h0m-6-2h0m-2-2h0m-1 3h0m-6 2h0m-2-5h0m-6-1h0m-2 4h0m0 2h0m-1-1h0m-3-6h0m0 7h0m0 0h0m-1-5h0m-1 1h0m-10-4h0m-2 4h0m-2-5h0m-2 8h0m0-4h0m-10 0h0m-1 4h0m0-7h0m-1 2h0m-3-2h0m-3 7h0m-2-3h0m-3-2h0m-5 6h0m-1 1h0m0-4h0m0-4h0m-1-1h0m-1 18h0m1-7h0m3 0h0m1 3h0m0 1h0m1 2h0m0 0h0m2-2h0m2 3h0m4-3h0m0-5h0m2 8h0m0-5h0m1 6h0m1-2h0m6-5h0m1 7h0m1-1h0m0-4h0m0 4h0m2-8h0m1 8h0m3-1h0m1 1h0m2-3h0m0 2h0m1-5h0m1 7h0m1-2h0m0 0h0m1-3h0m0 1h0m1 2h0m2 1h0m1 0h0m3-4h0m1 4h0m0-1h0m3-6h0m1 7h0m6-5h0m2 2h0m0 2h0m1-6h0m0 7h0m1-1h0m0 1h0m1-8h0m2 3h0m0 4h0m1-3h0m1-1h0m0 6h0m0-3h0m2-2h0m1 3h0m0-2h0m1-6h0m0 9h0m0-1h0m2 2h0m0-2h0m0 2h0m2-10h0m0 1h0m0 6h0m1 2h0m2-3h0m0-2h0m4 2h0m1 3h0m0-2h0m1 2h0m0-1h0m3-2h0m1-5h0m1 2h0m0 7h0m1-9h0m1 7h0m2 0h0m1 0h0m0 2h0m0-6h0m0 3h0m1-2h0m0 3h0m3-5h0m1 2h0m3-2h0m1-2h0m1 3h0m1 5h0m0-7h0m0 7h0m1-6h0m0-1h0m0 5h0m1 1h0m0-5h0m1 7h0m1-1h0m0-1h0m1-7h0m1 8h0m2 1h0m1-9h0m1 4h0m0 3h0m1 1h0m1-2h0m1 2h0m1-1h0m1-3h0m3 1h0m1-5h0m0 7h0m0-6h0m3 2h0m0 5h0m2-8h0m3 9h0m1-8h0m2 6h0m1-3h0m0 3h0m0-6h0m3-1h0m0 7h0m29-3h0m6-5h0m5 9h0m13-5h0m11-3h0m0 2h0m6 1h0m10-2h0m6 6h0m10-4h0m2-1h0m2-3h0m10 1h0m7 2h0m11-1h0m15 0h0m14-1h0m1 1h0m1 8h0m6-3h0m-8 9h0m-7 2h0m-1-4h0m-5 5h0m-4-4h0m-5 5h0m-2-8h0m-3 6h0m-2 0h0m-9-6h0m-6 7h0m-1-9h0m-5 0h0m0 3h0m-9 7h0m0-10h0m-4 8h0m-6-7h0m-7 0h0m-2 6h0m-23-3h0m-2 3h0m-1 2h0m-2-5h0m-4-3h0m-1 5h0m-13-5h0m-1 3h0m-32-1h0m-1 3h0m0 4h0m-1-6h0m0 0h0m0 2h0m-1-3h0m0 6h0m0-4h0m0 2h0m0-5h0m-1-2h0m0 6h0m0-3h0m-1 0h0m-1 4h0m-1-3h0m-1-3h0m0 2h0m-1 0h0m0 0h0m0-2h0m-1 0h0m-1 8h0m-1 1h0m0-1h0m0-5h0m0 1h0m-2-3h0m0 1h0m-1 2h0m-1-2h0m0 1h0m0 5h0m-1-1h0m0-7h0m-1 4h0m0 2h0m-1-3h0m-1 4h0m-2 0h0m0-5h0m0 3h0m-1 1h0m-1 2h0m0-5h0m0 0h0m0-3h0m-1 1h0m0 0h0m0-2h0m0 8h0m-1-7h0m0 3h0m-1 0h0m0 1h0m0-1h0m-1 1h0m0-1h0m0 1h0m-1-1h0m0 6h0m0-4h0m0 3h0m-2 0h0m-1-8h0m0 5h0m0 2h0m0 1h0m-1-4h0m0 0h0m-1 3h0m0-5h0m0 1h0m0 0h0m-1-2h0m0 7h0m-1-6h0m0 4h0m0-1h0m0-2h0m-1-1h0m0 0h0m-1 5h0m0-6h0m-1 7h0m0-4h0m-2 2h0m0-7h0m-1 6h0m0 1h0m0-4h0m-2 6h0m0-3h0m-1-3h0m-1-2h0m-1 8h0m0-3h0m-1 0h0m0-1h0m-1 3h0m-1-6h0m0 6h0m-1-4h0m-1-3h0m0 7h0m-1-2h0m-1 3h0m0-8h0m-1 0h0m0-1h0m-1 0h0m0 2h0m-1 2h0m-1 4h0m0-5h0m0 2h0m0 3h0m-1-2h0m0 2h0m0-4h0m-1 5h0m0 0h0m-1-2h0m0 2h0m0-3h0m-1 3h0m0-8h0m0 7h0m-1-4h0m0 2h0m0 4h0m0-5h0m0 3h0m-1 1h0m0-2h0m-1-4h0m0 0h0m-1 6h0m0-3h0m-2 1h0m0-6h0m0 8h0m-2-1h0m0 0h0m-1-3h0m0 0h0m0-1h0m0 0h0m-1 3h0m0-4h0m0 6h0m0-7h0m-3 3h0m0-4h0m0 1h0m0 1h0m-1 1h0m0 4h0m0-1h0m-1-4h0m0 5h0m-2-7h0m0 0h0m-1 0h0m0 7h0m0 2h0m0-6h0m-1 2h0m0 0h0m0-6h0m-1 3h0m0 2h0m-1-3h0m0 7h0m0-9h0m-1 2h0m-1 6h0m0-5h0m0 1h0m-1-4h0m0 7h0m-1-2h0m0-5h0m0 1h0m-1 9h0m0-4h0m-3 1h0m-1 0h0m-1 0h0m0-5h0m0 8h0m-1-3h0m-1-4h0m-1 3h0m0-2h0m-1-2h0m0 7h0m0-7h0m-1 6h0m0-2h0m-1-1h0m0-5h0m-1 6h0m0-3h0m0 0h0m0 5h0m-1-4h0m0-4h0m-1 8h0m0-5h0m-1-2h0m-1 7h0m0-7h0m-1 7h0m-1-2h0m-2-1h0m-2 0h0m-1-2h0m-1 4h0m0 2h0m0-5h0m-1 2h0m0-6h0m0 5h0m0 2h0m0-6h0m0 3h0m-3 3h0m0-7h0m-1 10h0m0-5h0m-1 3h0m0-2h0m0 0h0m-2 4h0m0-1h0m-1 0h0m-1-2h0m0 0h0m0-1h0m0-5h0m0 9h0m-1-3h0m0-6h0m0 0h0m0 4h0m-1 2h0m-2 1h0m-1-8h0m0 6h0m0-4h0m-3-1h0m-1 1h0m0 3h0m0 2h0m0-7h0m-1 1h0m-2 3h0m0 4h0m0-5h0m-1 3h0m-1-6h0m-2 1h0m-1 5h0m0 8h0m1-2h0m0-1h0m0 4h0m0 1h0m3-4h0m1 8h0m1-3h0m0 2h0m0-3h0m1 3h0m0-2h0m2 2h0m0-7h0m0-2h0m0 9h0m1-7h0m2 5h0m1 3h0m1-8h0m1 4h0m1 1h0m1 1h0m1 2h0m0-4h0m1-6h0m0 8h0m0-8h0m0 9h0m1-6h0m1 1h0m0 0h0m1 4h0m0-7h0m0 8h0m1-3h0m1 3h0m1-8h0m0-1h0m0 5h0m0-5h0m0 4h0m1 2h0m1-4h0m1 1h0m0 5h0m1 1h0m1-6h0m0-1h0m0 2h0m1 4h0m0 2h0m0-1h0m1-2h0m0-5h0m0 3h0m1-4h0m0 1h0m0 2h0m1 3h0m0 0h0m2 2h0m0-5h0m0-1h0m1 2h0m0 0h0m0 3h0m1 0h0m1 2h0m0-4h0m1 0h0m0 1h0m1 0h0m1-6h0m1 6h0m0 2h0m0-6h0m0 0h0m1 6h0m1-2h0m0-3h0m0 4h0m1-3h0m1-1h0m0-3h0m1 8h0m0 0h0m0-1h0m0-2h0m0 3h0m1-6h0m1 4h0m1-2h0m0-3h0m1 8h0m0-4h0m0-1h0m0 1h0m0-4h0m1-1h0m1 3h0m0 4h0m1-7h0m0 1h0m0 3h0m1 3h0m0-8h0m0 3h0m1 4h0m0 0h0m0 2h0m1 0h0m0-2h0m0-5h0m1 3h0m0 1h0m2-3h0m0 7h0m1-4h0m0-2h0m0-3h0m1 9h0m0-2h0m0 0h0m0-4h0m1 4h0m0-4h0m0 4h0m0-2h0m1 1h0m1 2h0m3-5h0m1 6h0m0-1h0m0-1h0m1-7h0m1 4h0m1 0h0m0-1h0m0 0h0m1 4h0m0-3h0m0-4h0m0 0h0m0 1h0m1-1h0m0 5h0m1-4h0m0 7h0m1 1h0m0-10h0m1 9h0m0 0h0m1-2h0m1-7h0m1 5h0m0-2h0m0 1h0m0 5h0m1-5h0m0 1h0m1 4h0m0-7h0m1 5h0m0 1h0m1 0h0m0-2h0m1 0h0m0 4h0m0-5h0m1-4h0m0 6h0m0-5h0m0 8h0m0-10h0m1 4h0m0-4h0m0 3h0m1-2h0m1 5h0m0 2h0m0 1h0m0-8h0m1 4h0m0 4h0m0-3h0m0 0h0m2-4h0m0 1h0m0 1h0m1 2h0m0 3h0m0-8h0m1 1h0m0 6h0m1-8h0m1 10h0m0-4h0m0-5h0m1 9h0m1-8h0m0 0h0m0 1h0m0-1h0m2 5h0m0 0h0m1-2h0m1 1h0m0 3h0m0 0h0m0-9h0m1 1h0m0 0h0m0 7h0m1 1h0m1 0h0m1-5h0m0 1h0m0-1h0m1 2h0m0 0h0m2-6h0m0 10h0m0-9h0m1 1h0m0 0h0m3 5h0m0-4h0m0 5h0m0-6h0m0 6h0m0-5h0m0-3h0m0 3h0m1 0h0m1 7h0m0-8h0m0 6h0m0 0h0m0 1h0m1-4h0m0 0h0m1 1h0m0-3h0m1 2h0m0 0h0m0 4h0m1-1h0m0 2h0m0-7h0m1 4h0m0 1h0m1-5h0m1 6h0m0-6h0m1 6h0m0-2h0m3-7h0m0 7h0m0-4h0m0 4h0m1-4h0m0 1h0m0 3h0m0 2h0m0-9h0m1 9h0m3-2h0m1-4h0m0 0h0m1 2h0m2 1h0m0 0h0m0-3h0m0 4h0m1-4h0m0 6h0m1-9h0m1 1h0m0 0h0m1 6h0m31 2h0m2-4h0m5-1h0m0 2h0m1-2h0m8 1h0m12 4h0m4-2h0m1-4h0m1-2h0m4 5h0m20-4h0m18 2h0m5-4h0m15 2h0m2 5h0m10 1h0m1-7h0m6-1h0m0 4h0m5 0h0m4-2h0m5 7h0m5 7h0m-3-4h0m-1-1h0m-3 0h0m-5 8h0m-5-5h0m-3-1h0m0 3h0m-4 2h0m-5-7h0m-3 4h0m0-3h0m-1 2h0m0 2h0m0 0h0m-12 3h0m-6-8h0m-3-1h0m-5 5h0m-5 4h0m-12-3h0m-13 1h0m-9 2h0m-1 0h0m-2-2h0m-5-6h0m-11 5h0m-2 2h0m-7-1h0m-3 2h0m-3-1h0m-3-1h0m-2 2h0m-28-2h0m0-4h0m0 6h0m-1-7h0m-1 2h0m0 4h0m0-2h0m-1-1h0m-1 1h0m0 0h0m-1 1h0m0-6h0m-1 4h0m0-3h0m0-1h0m-2 3h0m0 1h0m-1 2h0m0-6h0m-1 7h0m0-8h0m-2 2h0m0 1h0m0 1h0m-2 6h0m-1-7h0m0 7h0m0-6h0m-1 0h0m0 2h0m-2 4h0m0-10h0m-1 9h0m-3-7h0m0 6h0m-2-5h0m-1 2h0m0 5h0m0-7h0m0 4h0m-1 1h0m0 0h0m-1 0h0m-1-3h0m-1 4h0m0 0h0m0-2h0m0-2h0m-1 4h0m0-1h0m-1-6h0m-1 8h0m0-4h0m-1 2h0m0-2h0m-1 0h0m-1 1h0m-1-1h0m-1-5h0m0 2h0m-1 3h0m0-5h0m-1 8h0m-1-5h0m-1 5h0m0 1h0m0-4h0m0 0h0m-2 4h0m0-4h0m-1-4h0m-1 4h0m0-1h0m0-5h0m-2 4h0m0 5h0m0-3h0m0 0h0m-1-1h0m-1 4h0m0-7h0m0 5h0m0-5h0m0 7h0m0-3h0m-2 2h0m-1-1h0m-1-1h0m0-3h0m0 0h0m-1 4h0m-2-4h0m0 0h0m0-1h0m0 8h0m-2-1h0m0 1h0m-1-5h0m0 4h0m0-1h0m-1 0h0m-1-6h0m-1 2h0m0 4h0m0-7h0m0 3h0m0-3h0m-1 2h0m-1 6h0m-1-2h0m0-5h0m0 0h0m-1 2h0m0 3h0m0 0h0m0 2h0m-1-5h0m-2 1h0m0-5h0m-1 3h0m0 2h0m-2 1h0m0 2h0m-1-6h0m-1 5h0m0 0h0m-1-3h0m-1 0h0m0 4h0m-1 1h0m-1-1h0m0-2h0m0-3h0m0 1h0m-1-2h0m0 2h0m0 5h0m0-1h0m-1-1h0m0-7h0m0 4h0m-2 6h0m-1-6h0m-1-1h0m0-1h0m-3 5h0m-1-4h0m0-1h0m0 7h0m0-7h0m-1 1h0m0 5h0m0-3h0m0 1h0m-1 1h0m0 0h0m-1-3h0m0 4h0m0-4h0m0 0h0m0-1h0m-1 0h0m0 2h0m0 3h0m0 1h0m-1 0h0m0-7h0m0 3h0m0 0h0m0 0h0m-1-1h0m-1-3h0m-1 5h0m0 0h0m0 0h0m-1 2h0m-1-4h0m0 5h0m0-5h0m0-1h0m0 3h0m-1-2h0m-1 5h0m-1-2h0m-1-7h0m-2 7h0m0 2h0m0-6h0m-1 1h0m0 0h0m0-2h0m-1 5h0m0-3h0m0 0h0m-1 0h0m0-3h0m0 9h0m-1-8h0m-1 5h0m0-3h0m-2 1h0m0-4h0m0 2h0m-1 0h0m-1-3h0m0 10h0m0-3h0m-1-2h0m0-2h0m-1-2h0m0 6h0m-1 1h0m0-6h0m0 5h0m-1 3h0m-1-6h0m0-4h0m0 6h0m-1-1h0m0-5h0m0 0h0m-1 5h0m0-1h0m0 0h0m0-2h0m-1 6h0m0-1h0m0-2h0m-1-1h0m0-4h0m-1 1h0m-1 9h0m0-5h0m0 1h0m0 3h0m-1-5h0m0 5h0m-2 0h0m-1-2h0m0-2h0m-1-1h0m0-2h0m-1 6h0m-3-1h0m0-4h0m-1 3h0m0-5h0m0 6h0m-1-1h0m0-1h0m-1 4h0m0-5h0m0 4h0m0-6h0m0 3h0m0-4h0m-1 6h0m0 0h0m-1 0h0m0-2h0m-1 0h0m0 0h0m0-3h0m-1-1h0m0 6h0m0-6h0m0 16h0m0-5h0m1 5h0m0-2h0m0 3h0m1 2h0m2-4h0m0 0h0m1-4h0m0 4h0m0-1h0m1-4h0m0 0h0m1 4h0m0 0h0m1 4h0m0-5h0m1 4h0m0-8h0m1 3h0m0 3h0m1-1h0m0 5h0m0-4h0m0 1h0m0-5h0m0 6h0m0-1h0m1-1h0m1-4h0m0 2h0m0 2h0m1-6h0m1 0h0m0 6h0m1-3h0m0 1h0m1 2h0m1-1h0m0-3h0m0 2h0m1 6h0m0-2h0m1-3h0m0 4h0m0-2h0m0-4h0m1 5h0m1-1h0m0 2h0m1-4h0m0 3h0m0-5h0m1-2h0m1 8h0m0-9h0m1 1h0m1 3h0m0-3h0m1 7h0m0-2h0m1-5h0m1 6h0m2-3h0m0 3h0m1-5h0m1 7h0m1-8h0m4 1h0m0 3h0m1 0h0m1 5h0m0-9h0m2 2h0m1 4h0m0 0h0m0-2h0m0 0h0m2 4h0m0-2h0m1-4h0m1 6h0m0 0h0m0-4h0m0 2h0m1-1h0m0-2h0m1 1h0m1 1h0m0-4h0m0 5h0m1-3h0m0-1h0m1 2h0m0-4h0m2 6h0m0 1h0m0-2h0m1 3h0m1-3h0m0 4h0m0-10h0m1 9h0m0-5h0m0-3h0m0 5h0m2-3h0m0 5h0m1-4h0m0-3h0m0 0h0m1 2h0m0 3h0m0-4h0m1 4h0m1 2h0m1-7h0m0 9h0m1-5h0m0-5h0m0 2h0m1 2h0m3-3h0m1 0h0m3 1h0m0 4h0m0-5h0m1 6h0m0 0h0m0-1h0m0-6h0m1 9h0m0-4h0m0-1h0m0 1h0m1-2h0m0 5h0m1-3h0m2-3h0m0 1h0m1-1h0m1 2h0m2-2h0m1 2h0m0 1h0m1 2h0m1-1h0m1 3h0m1 0h0m0-3h0m0 4h0m2-7h0m0 5h0m0-2h0m0 2h0m1-7h0m2 4h0m0 3h0m1-1h0m1 2h0m0-6h0m3 4h0m1 2h0m0-8h0m1 2h0m0 6h0m1-8h0m1 8h0m0 0h0m1-4h0m0 0h0m1 5h0m1-7h0m0 7h0m0-1h0m1-5h0m1-2h0m1 1h0m0 4h0m0-2h0m1-4h0m0-1h0m2 8h0m0-1h0m1 1h0m0-2h0m1-4h0m0 3h0m1 4h0m0-7h0m0 7h0m1-7h0m0 5h0m0 2h0m0-9h0m1 2h0m0 3h0m1-1h0m1 2h0m0-5h0m0-1h0m1 1h0m0 6h0m0-1h0m1 3h0m1-6h0m2 7h0m3-5h0m1 3h0m0-2h0m1 1h0m1 2h0m2 1h0m0-2h0m0-1h0m2-4h0m0 7h0m1-9h0m1 4h0m0-2h0m0-2h0m0 2h0m1 6h0m1-7h0m1 5h0m0-3h0m0 4h0m1 1h0m31-7h0m5 7h0m0-7h0m14 1h0m6-2h0m10 0h0m9 7h0m0 1h0m3-1h0m13-5h0m5 4h0m4 1h0m8 0h0m2-6h0m5 7h0m2-5h0m1 1h0m7 4h0m4-7h0m8 1h0m2-3h0m4 6h0m4-3h0m1 2h0m1-4h0m17 1h0m-2 11h0m-11-2h0m-1 0h0m-13 5h0m-7-1h0m-4 1h0m-17 3h0m-7-1h0m-2-1h0m-10-5h0m0 8h0m-5-4h0m0-2h0m-4 3h0m-28-3h0m-1-1h0m-7 4h0m-5-5h0m-13 4h0m-29 1h0m0-4h0m0-3h0m-1 5h0m-1 3h0m-2-1h0m-1-1h0m0 4h0m-2-9h0m-1 8h0m0 0h0m-1-9h0m0 4h0m-1 3h0m0 3h0m-2-4h0m-1 3h0m0-7h0m-1 7h0m-1-9h0m0 5h0m-1 1h0m0 3h0m0-5h0m-1 3h0m0-6h0m0 8h0m-1-2h0m0-5h0m0 0h0m-1 7h0m0-3h0m-1 1h0m-1 1h0m-1 0h0m-1-2h0m-1-2h0m0-2h0m-1 6h0m0 2h0m-1-5h0m0-1h0m-2-2h0m-1 1h0m-1 3h0m-1 2h0m0-7h0m-1 0h0m-1 3h0m0 3h0m-1 3h0m-1-7h0m-1-2h0m0 5h0m-1 1h0m-2 1h0m-1-5h0m0 4h0m0-3h0m-1-3h0m-1 6h0m0 2h0m0-6h0m-1 1h0m-1-2h0m0 6h0m-1-5h0m-1 7h0m0-8h0m-1-1h0m0-1h0m0 3h0m-4 3h0m-1-2h0m0 1h0m-2-4h0m0-1h0m-1 6h0m0-2h0m0 3h0m0-3h0m-1 0h0m0-1h0m0 4h0m-1 3h0m0-7h0m-1 0h0m0-2h0m-1 0h0m0 7h0m-1-6h0m-1 4h0m0 2h0m-1-6h0m0 0h0m-1 2h0m-1-3h0m0 1h0m0 1h0m-1 5h0m-1-2h0m0 3h0m-1-7h0m0 4h0m-1 3h0m-1-7h0m-1 2h0m-1 3h0m-1-6h0m-1 1h0m0 0h0m0 8h0m0-9h0m-1 3h0m0 3h0m-1-3h0m0 2h0m-1 3h0m0-8h0m0 7h0m0-3h0m-2 3h0m-1 1h0m0-1h0m0-7h0m-1 8h0m-1-9h0m0 7h0m-1-5h0m-1 7h0m-1 0h0m0 0h0m-1 0h0m0-7h0m-1 6h0m0-5h0m-1 1h0m0 3h0m-3-4h0m0-1h0m-2 5h0m0-3h0m-1 3h0m-1 0h0m0-6h0m0 3h0m-1-1h0m0 2h0m0-1h0m0 2h0m-1 0h0m0-1h0m-2 5h0m0-8h0m-1-1h0m0 8h0m-1-7h0m0 1h0m-1 1h0m-1 0h0m0-3h0m-1 0h0m0 3h0m0 2h0m0-3h0m-2 5h0m0 0h0m-1 1h0m0-1h0m-1 0h0m-1-5h0m0 3h0m-1-4h0m0 6h0m-1-1h0m-1-7h0m-2 6h0m-1-4h0m0-1h0m0 6h0m-1-6h0m-1 3h0m0 4h0m-2-3h0m0-2h0m-1 2h0m-1 1h0m-1-1h0m0-2h0m-1-1h0m0 7h0m0-3h0m0 1h0m0-6h0m-1 1h0m0 4h0m-1-1h0m0-4h0m0 3h0m0-2h0m-1 4h0m-1-4h0m0 3h0m0 0h0m-1-1h0m0-2h0m0 7h0m0-3h0m-4-3h0m0 2h0m0 2h0m0-6h0m-1 2h0m0-2h0m-1 1h0m0 0h0m-1-1h0m0 1h0m0 8h0m0-4h0m0-1h0m-1 0h0m-1 4h0m0-1h0m0-6h0m-1 6h0m0-7h0m0 4h0m0 4h0m-1-1h0m-1-6h0m0 6h0m-1-4h0m0 13h0m0-2h0m2-2h0m1 3h0m1 0h0m0-3h0m1 4h0m0-1h0m0-2h0m0 2h0m1-5h0m0-1h0m0 0h0m1 5h0m0-5h0m5 4h0m1-2h0m0 5h0m0-4h0m0 1h0m4 1h0m1-4h0m1 1h0m0 2h0m1 2h0m1-1h0m1-1h0m1 2h0m0 0h0m0-2h0m2-1h0m1 2h0m1 1h0m0 0h0m2-6h0m0 2h0m1 0h0m0 2h0m1-2h0m2 3h0m0-5h0m0 0h0m1 0h0m0 3h0m0-3h0m1 0h0m0 5h0m0 0h0m1-2h0m0 3h0m0-3h0m1-3h0m0 2h0m0 4h0m1-4h0m3 1h0m0 2h0m0 2h0m0-2h0m0-2h0m0 4h0m1-2h0m0-4h0m0 4h0m2-1h0m1 0h0m0-3h0m5 1h0m1-1h0m1 3h0m2 0h0m0 2h0m1-4h0m3 4h0m1-4h0m1 4h0m0-1h0m1 1h0m2-3h0m1-1h0m1 1h0m0-1h0m1 0h0m0 2h0m1-2h0m1 4h0m1-5h0m0-1h0m0 5h0m3-3h0m0 4h0m1-4h0m0 1h0m1 0h0m1-2h0m0 2h0m0 2h0m1-1h0m0-3h0m1 4h0m1 0h0m2-4h0m3 4h0m1-4h0m0 0h0m1 1h0m0 4h0m1-4h0m1-1h0m0 4h0m1 0h0m2-1h0m2-2h0m0 3h0m1-5h0m1 2h0m1 2h0m2-4h0m1 0h0m0 4h0m1 3h0m0-6h0m3 2h0m0-2h0m1-1h0m0 5h0m2-4h0m1 5h0m0-6h0m1 3h0m0 1h0m2 0h0m0 0h0m0-1h0m1-1h0m0 3h0m0-1h0m0 2h0m1-4h0m1 4h0m1 0h0m0-3h0m0-1h0m1 0h0m0 4h0m1-3h0m0 0h0m1-1h0m1 4h0m0-6h0m1 3h0m0 2h0m1-4h0m2-1h0m0 2h0m1 3h0m0 1h0m1-4h0m0 5h0m0-2h0m1-1h0m1 2h0m2-6h0m1 2h0m1 0h0m1 4h0m1-2h0m0-1h0m2 1h0m0 1h0m0-1h0m2-2h0m2-1h0m1-1h0m0 3h0m1 0h0m1 1h0m0-2h0m46-1h0m0 0h0m50 0h0m26 0h0m22-1h0m17 3h0" stroke="#000" stroke-width="3.20" stroke-linecap="round" fill="none"/>
<line x1="1584.5" y1="2079.7" x2="1584.5" y2="1984.1" stroke="#000" stroke-width="1.4"/>
<line x1="1583.8" y1="2079.7" x2="1784.0" y2="2079.7" stroke="#000" stroke-width="1.4"/>
<line x1="1581.0" y1="2077.1" x2="1584.5" y2="2077.1" stroke="#000" stroke-width="1"/>
<text x="1579.0" y="2080.9" font-family="'Liberation Sans', Arial, sans-serif" font-size="10.8" text-anchor="end" fill="#4D4D4D">0</text>
<line x1="1581.0" y1="2058.6" x2="1584.5" y2="2058.6" stroke="#000" stroke-width="1"/>
<text x="1579.0" y="2062.4" font-family="'Liberation Sans', Arial, sans-serif" font-size="10.8" text-anchor="end" fill="#4D4D4D">1</text>
<line x1="1581.0" y1="2040.1" x2="1584.5" y2="2040.1" stroke="#000" stroke-width="1"/>
<text x="1579.0" y="2043.9" font-family="'Liberation Sans', Arial, sans-serif" font-size="10.8" text-anchor="end" fill="#4D4D4D">2</text>
<line x1="1581.0" y1="2021.7" x2="1584.5" y2="2021.7" stroke="#000" stroke-width="1"/>
<text x="1579.0" y="2025.5" font-family="'Liberation Sans', Arial, sans-serif" font-size="10.8" text-anchor="end" fill="#4D4D4D">3</text>
<line x1="1581.0" y1="2003.2" x2="1584.5" y2="2003.2" stroke="#000" stroke-width="1"/>
<text x="1579.0" y="2007.0" font-family="'Liberation Sans', Arial, sans-serif" font-size="10.8" text-anchor="end" fill="#4D4D4D">4</text>
<line x1="1581.0" y1="1984.7" x2="1584.5" y2="1984.7" stroke="#000" stroke-width="1"/>
<text x="1579.0" y="1988.5" font-family="'Liberation Sans', Arial, sans-serif" font-size="10.8" text-anchor="end" fill="#4D4D4D">5</text>
<line x1="1649.5" y1="2079.7" x2="1649.5" y2="2083.2" stroke="#000" stroke-width="1"/>
<text x="1653.0" y="2089.2" font-family="'Liberation Sans', Arial, sans-serif" font-size="12.3" text-anchor="end" fill="#4D4D4D" transform="rotate(-45 1653.0 2089.2)">NFs</text>
<line x1="1733.3" y1="2079.7" x2="1733.3" y2="2083.2" stroke="#000" stroke-width="1"/>
<text x="1736.8" y="2089.2" font-family="'Liberation Sans', Arial, sans-serif" font-size="12.3" text-anchor="end" fill="#4D4D4D" transform="rotate(-45 1736.8 2089.2)">CAFs</text>
<text x="1685.2" y="2128.3" font-family="'Liberation Sans', Arial, sans-serif" font-size="12.5" text-anchor="middle" fill="#4D4D4D" textLength="44.3" lengthAdjust="spacingAndGlyphs">Identity</text>
<text x="1563.0" y="2031.9" font-family="'Liberation Sans', Arial, sans-serif" font-size="12.5" text-anchor="middle" fill="#4D4D4D" textLength="100.0" lengthAdjust="spacingAndGlyphs" transform="rotate(-90 1563.0 2031.9)">Expression Level</text>
<text x="1220.0" y="2156.5" font-family="'Liberation Sans', Arial, sans-serif" font-size="14" font-weight="bold" text-anchor="middle" textLength="68.5" lengthAdjust="spacingAndGlyphs">COL10A1</text>
<line x1="1141.9" y1="2259.3" x2="1215.9" y2="2259.3" stroke="#333" stroke-width="1.4"/>
<path d="M1299.6 2259.3 L1288.5 2256.0 L1281.1 2253.9 L1273.7 2251.7 L1272.0 2249.1 L1268.8 2246.6 L1267.0 2244.0 L1267.0 2241.9 L1266.9 2239.7 L1266.8 2237.5 L1266.7 2235.3 L1266.5 2233.1 L1266.4 2231.0 L1266.3 2228.8 L1266.3 2226.6 L1266.3 2224.4 L1266.3 2222.2 L1266.3 2220.1 L1266.3 2217.9 L1266.3 2215.7 L1266.3 2213.5 L1266.3 2211.3 L1266.3 2209.2 L1266.3 2207.0 L1266.3 2204.8 L1266.2 2202.6 L1266.1 2200.4 L1265.8 2198.3 L1265.6 2196.1 L1265.3 2193.9 L1265.1 2191.7 L1264.9 2189.5 L1264.8 2187.4 L1264.7 2185.3 L1264.5 2183.3 L1264.1 2181.2 L1263.7 2179.2 L1263.3 2177.1 L1262.9 2175.1 L1262.7 2173.1 L1262.6 2171.0 L1262.6 2171.0 L1262.5 2173.1 L1262.3 2175.1 L1261.9 2177.1 L1261.5 2179.2 L1261.1 2181.2 L1260.7 2183.3 L1260.5 2185.3 L1260.4 2187.4 L1260.3 2189.5 L1260.1 2191.7 L1259.9 2193.9 L1259.6 2196.1 L1259.4 2198.3 L1259.1 2200.4 L1259.0 2202.6 L1258.9 2204.8 L1258.9 2207.0 L1258.9 2209.2 L1258.9 2211.3 L1258.9 2213.5 L1258.9 2215.7 L1258.9 2217.9 L1258.9 2220.1 L1258.9 2222.2 L1258.9 2224.4 L1258.9 2226.6 L1258.9 2228.8 L1258.8 2231.0 L1258.7 2233.1 L1258.5 2235.3 L1258.4 2237.5 L1258.3 2239.7 L1258.2 2241.9 L1258.2 2244.0 L1256.4 2246.6 L1253.2 2249.1 L1251.5 2251.7 L1244.1 2253.9 L1236.7 2256.0 L1225.6 2259.3 Z" fill="#1FBCC1" stroke="#111" stroke-width="0.8"/>
<path transform="scale(.5)" d="M2467 4365h0m40 4h0m12-5h0m1 2h0m9 2h0m2-5h0m3-1h0m12 2h0m1-1h0m8 2h0m2 4h0m2-7h0m1 1h0m11 0h0m1 4h0m21-3h0m1 7h0m-6 4h0m-1-4h0m-1 7h0m-6-8h0m-4 8h0m-1-2h0m-18-5h0m-5-1h0m-14 9h0m-13-6h0m-3-1h0m-3 4h0m-7-3h0m-4 2h0m-3-4h0m-9 2h0m-5 0h0m-5 1h0m-4 0h0m-26-2h0m4 16h0m3-4h0m11 3h0m7-2h0m9-1h0m8 5h0m14-4h0m14-3h0m28 4h0m20 1h0m2-2h0m4 2h0m5-7h0m1 15h0m-4 2h0m-6-5h0m-3 0h0m0-1h0m-6 9h0m-15-9h0m-8 5h0m-21-1h0m-4 4h0m-5-9h0m0 9h0m-4-9h0m-7 3h0m-9-1h0m-4 0h0m0 4h0m-34 6h0m20 2h0m3-2h0m4-2h0m11 9h0m27-7h0m2 5h0m2 2h0m1-6h0m4 2h0m9 2h0m6 2h0m3-1h0m6-8h0m1 6h0m12-1h0m2 0h0m10 3h0m3 1h0m3-1h0m2-1h0m1 12h0m-6-2h0m-15 0h0m-3 1h0m-12-4h0m-2 1h0m-3-1h0m-13 1h0m-5-1h0m-1 5h0m0-6h0m-6-3h0m-5 4h0m-13-3h0m-16 3h0m-6 3h0m-3 3h0m0-2h0m-8-4h0m-4-2h0m-4 2h0m-6 4h0m-2-5h0m7 12h0m20-4h0m7 8h0m6-2h0m13 2h0m4-9h0m12 4h0m11 1h0m5 4h0m7-2h0m2-3h0m11 3h0m8 2h0m2-4h0m1 0h0m2-2h0m4 2h0m1 3h0m1-7h0m1 3h0m12-2h0m1 6h0m2 9h0m-1-1h0m-3 3h0m-7-4h0m-2 0h0m-14 3h0m-7-2h0m-5 2h0m-4-7h0m0 2h0m-46 6h0m-6-8h0m-3 6h0m-3-1h0m-5-2h0m-7 3h0m-4-1h0m-14-1h0m-5-4h0m4 13h0m13-3h0m16 5h0m10-1h0m16-3h0m1 7h0m20-1h0m11-5h0m1-1h0m2-1h0m0 3h0m1-4h0m3 8h0m7 0h0m3-7h0m4 8h0m14 9h0m0-7h0m-3 7h0m-17-5h0m-4 6h0m-4-6h0m-13 3h0m-4 3h0m-4-6h0m-34 0h0m-34 3h0m-8-6h0m0 2h0m-4 16h0m7 0h0m5-7h0m8 2h0m1-1h0m2 2h0m1 3h0m0 2h0m5-3h0m2 4h0m11-4h0m10 1h0m2 2h0m2 0h0m2-3h0m1 1h0m3 2h0m11-4h0m3 2h0m1 0h0m24 2h0m6-8h0m1 2h0m11 3h0m5-4h0m5 6h0m3 4h0m-6 7h0m-3-8h0m-9 5h0m-2-3h0m-1 0h0m-3 6h0m-1-9h0m-6 1h0m-9 8h0m-3-8h0m-4 1h0m0-1h0m-3 6h0m-1-2h0m-13-1h0m0 0h0m0 1h0m-15 1h0m-1-3h0m-3 1h0m-5 0h0m-1 6h0m-8-5h0m-2 3h0m0-4h0m-1-4h0m-10 3h0m-3 1h0m-1-3h0m-10 0h0m-4-1h0m-5 9h0m2 2h0m3 4h0m1 0h0m8 0h0m13 5h0m1-1h0m18-3h0m24 1h0m7 0h0m0-5h0m1-2h0m7 0h0m5 3h0m3-2h0m12 0h0m2 8h0m2-5h0m17-3h0m8 8h0m1-4h0m3 0h0m-2 7h0m-20 7h0m-8-5h0m-3-3h0m-17 8h0m-4-1h0m-9-6h0m-4 0h0m-11 6h0m-3-7h0m0 3h0m-2 3h0m-18 2h0m-7-7h0m-6 4h0m-10-2h0m-7-1h0m-3 0h0m42 10h0m1 2h0m1-4h0m17 4h0m1-2h0m18-3h0m5 2h0m23 2h0m16-1h0m6-2h0m6 3h0" stroke="#000" stroke-width="3.20" stroke-linecap="round" fill="none"/>
<line x1="1128.2" y1="2262.3" x2="1128.2" y2="2166.9" stroke="#000" stroke-width="1.4"/>
<line x1="1127.5" y1="2262.3" x2="1313.4" y2="2262.3" stroke="#000" stroke-width="1.4"/>
<line x1="1124.7" y1="2259.3" x2="1128.2" y2="2259.3" stroke="#000" stroke-width="1"/>
<text x="1122.7" y="2263.1" font-family="'Liberation Sans', Arial, sans-serif" font-size="10.8" text-anchor="end" fill="#4D4D4D">0</text>
<line x1="1124.7" y1="2237.5" x2="1128.2" y2="2237.5" stroke="#000" stroke-width="1"/>
<text x="1122.7" y="2241.3" font-family="'Liberation Sans', Arial, sans-serif" font-size="10.8" text-anchor="end" fill="#4D4D4D">1</text>
<line x1="1124.7" y1="2215.7" x2="1128.2" y2="2215.7" stroke="#000" stroke-width="1"/>
<text x="1122.7" y="2219.5" font-family="'Liberation Sans', Arial, sans-serif" font-size="10.8" text-anchor="end" fill="#4D4D4D">2</text>
<line x1="1124.7" y1="2193.9" x2="1128.2" y2="2193.9" stroke="#000" stroke-width="1"/>
<text x="1122.7" y="2197.7" font-family="'Liberation Sans', Arial, sans-serif" font-size="10.8" text-anchor="end" fill="#4D4D4D">3</text>
<line x1="1124.7" y1="2172.1" x2="1128.2" y2="2172.1" stroke="#000" stroke-width="1"/>
<text x="1122.7" y="2175.9" font-family="'Liberation Sans', Arial, sans-serif" font-size="10.8" text-anchor="end" fill="#4D4D4D">4</text>
<line x1="1178.9" y1="2262.3" x2="1178.9" y2="2265.8" stroke="#000" stroke-width="1"/>
<text x="1182.4" y="2271.8" font-family="'Liberation Sans', Arial, sans-serif" font-size="12.3" text-anchor="end" fill="#4D4D4D" transform="rotate(-45 1182.4 2271.8)">NFs</text>
<line x1="1262.6" y1="2262.3" x2="1262.6" y2="2265.8" stroke="#000" stroke-width="1"/>
<text x="1266.1" y="2271.8" font-family="'Liberation Sans', Arial, sans-serif" font-size="12.3" text-anchor="end" fill="#4D4D4D" transform="rotate(-45 1266.1 2271.8)">CAFs</text>
<text x="1221.8" y="2310.9" font-family="'Liberation Sans', Arial, sans-serif" font-size="12.5" text-anchor="middle" fill="#4D4D4D" textLength="44.3" lengthAdjust="spacingAndGlyphs">Identity</text>
<text x="1106.7" y="2214.6" font-family="'Liberation Sans', Arial, sans-serif" font-size="12.5" text-anchor="middle" fill="#4D4D4D" textLength="100.0" lengthAdjust="spacingAndGlyphs" transform="rotate(-90 1106.7 2214.6)">Expression Level</text>
<text x="1460.0" y="2156.5" font-family="'Liberation Sans', Arial, sans-serif" font-size="14" font-weight="bold" text-anchor="middle" textLength="46.5" lengthAdjust="spacingAndGlyphs">MMP1</text>
<line x1="1381.3" y1="2259.3" x2="1455.3" y2="2259.3" stroke="#333" stroke-width="1.4"/>
<path d="M1539.9 2259.3 L1532.5 2258.0 L1512.2 2255.4 L1505.9 2251.6 L1505.8 2249.6 L1505.7 2247.6 L1505.6 2245.6 L1505.4 2243.6 L1505.2 2241.6 L1505.0 2239.6 L1504.9 2237.5 L1504.8 2235.5 L1504.8 2233.5 L1504.7 2231.5 L1504.7 2229.5 L1504.7 2227.4 L1504.7 2225.4 L1504.7 2223.4 L1504.7 2221.3 L1504.6 2219.3 L1504.6 2217.3 L1504.6 2215.2 L1504.6 2213.2 L1504.5 2211.2 L1504.5 2209.1 L1504.5 2207.1 L1504.4 2205.1 L1504.4 2203.0 L1504.4 2201.0 L1504.4 2199.0 L1504.4 2196.9 L1504.4 2194.9 L1504.3 2192.8 L1504.3 2190.7 L1504.1 2188.6 L1503.9 2186.5 L1503.7 2184.4 L1503.5 2182.3 L1503.3 2180.1 L1503.2 2178.0 L1503.0 2175.9 L1502.9 2173.8 L1502.9 2171.7 L1502.9 2171.7 L1502.9 2173.8 L1502.8 2175.9 L1502.6 2178.0 L1502.5 2180.1 L1502.3 2182.3 L1502.1 2184.4 L1501.9 2186.5 L1501.7 2188.6 L1501.5 2190.7 L1501.5 2192.8 L1501.4 2194.9 L1501.4 2196.9 L1501.4 2199.0 L1501.4 2201.0 L1501.4 2203.0 L1501.4 2205.1 L1501.3 2207.1 L1501.3 2209.1 L1501.3 2211.2 L1501.2 2213.2 L1501.2 2215.2 L1501.2 2217.3 L1501.2 2219.3 L1501.1 2221.3 L1501.1 2223.4 L1501.1 2225.4 L1501.1 2227.4 L1501.1 2229.5 L1501.1 2231.5 L1501.1 2233.5 L1501.0 2235.5 L1500.9 2237.5 L1500.8 2239.6 L1500.6 2241.6 L1500.4 2243.6 L1500.2 2245.6 L1500.1 2247.6 L1500.0 2249.6 L1499.9 2251.6 L1493.7 2255.4 L1473.3 2258.0 L1465.9 2259.3 Z" fill="#1FBCC1" stroke="#111" stroke-width="0.8"/>
<path transform="scale(.5)" d="M3074 4358h0m-21-2h0m-12-3h0m-13 1h0m-34 4h0m0 0h0m0-7h0m-14 4h0m-17-3h0m-26 2h0m21 7h0m2 8h0m2-2h0m1 3h0m4-3h0m6-4h0m2-2h0m1 2h0m10-3h0m19 1h0m8 1h0m7 5h0m7-4h0m3-1h0m3 6h0m6-7h0m3 3h0m18 1h0m2-4h0m9 8h0m1-6h0m-14 10h0m-1 4h0m-2-2h0m-6-5h0m-5 0h0m-1 5h0m-12 2h0m-3 3h0m-1-6h0m-17 0h0m-15-4h0m-19 3h0m-7 2h0m-11 3h0m-11-1h0m-3 0h0m-7 7h0m1 1h0m2 0h0m5 3h0m1 1h0m20 0h0m0-8h0m0 7h0m6-3h0m6 0h0m22-4h0m15 6h0m4 0h0m3-1h0m6 1h0m7-3h0m3-1h0m3-1h0m4 6h0m9-6h0m8-1h0m12 4h0m-1 7h0m0 7h0m-3-3h0m-13 1h0m-6 2h0m-8-5h0m-6 1h0m-3-5h0m-2 4h0m-3 0h0m-3-4h0m-5 7h0m-2 0h0m-2 0h0m-6 1h0m-8-4h0m-3 5h0m-3-5h0m-33 0h0m-15 2h0m-1 0h0m-9-1h0m7 7h0m2-2h0m1 3h0m5 6h0m8-6h0m6-2h0m2 0h0m14 5h0m4-1h0m4-1h0m18-2h0m1 1h0m2 3h0m6 0h0m4-3h0m4-1h0m3 6h0m4-6h0m10 0h0m13 1h0m1-2h0m15 11h0m0 3h0m-11-3h0m0-1h0m-2 1h0m-8-2h0m-2 7h0m-3-2h0m-18-1h0m-12-2h0m0 6h0m-7-8h0m-24 4h0m-1 0h0m-1 2h0m-2-2h0m-11-2h0m-2 1h0m-7-2h0m0 3h0m-2 0h0m-19 2h0m-3-5h0m1 14h0m8 0h0m8 2h0m11-4h0m2 0h0m3-1h0m4 7h0m2-8h0m3 2h0m7 5h0m1-1h0m4 1h0m4 0h0m1-3h0m5-4h0m3 2h0m11-3h0m0 4h0m2-4h0m7 8h0m10-3h0m8-1h0m11-1h0m13 6h0m4-5h0m-4 7h0m-5 8h0m-14-3h0m-4-2h0m-7-3h0m-10 5h0m-9 2h0m-11-6h0m-3 1h0m0-1h0m-6 4h0m0-3h0m-4 3h0m-2-5h0m-5 1h0m-1 4h0m-3 0h0m-11-4h0m-8 5h0m-10 3h0m-16-8h0m-1-1h0m1 16h0m5 3h0m2-5h0m0-1h0m26-4h0m3 7h0m1-5h0m6 7h0m3-4h0m6-2h0m6-1h0m10 4h0m7 3h0m3 0h0m9-7h0m0 6h0m17-6h0m12 6h0m6 1h0m3 1h0m1-5h0m1 4h0m9 7h0m-2 1h0m-15 1h0m-6-8h0m-10 6h0m-2-5h0m-13 1h0m-8 3h0m-1-3h0m0 3h0m-7-5h0m-19 8h0m-9-1h0m-3-2h0m-1 4h0m-9-1h0m-4-3h0m-7 4h0m-11-6h0m-4 2h0m7 5h0m3 0h0m4 5h0m2 4h0m1-5h0m1 2h0m9 2h0m3-4h0m0 1h0m9-2h0m16-1h0m4 4h0m3-4h0m3 7h0m7-2h0m7 1h0m2-4h0m0 2h0m7-5h0m1 5h0m22 3h0m2-5h0m3-2h0m2 7h0m1-4h0m5 0h0m4 4h0m5 2h0m-1 6h0m-2-4h0m-16-3h0m-12 1h0m-4 0h0m-17 2h0m-1 3h0m-3-2h0m-8 4h0m-8-8h0m-5 5h0m-22 4h0m-2 1h0m-9-5h0m-5 1h0m-3 2h0m-2 1h0m-6-5h0m-13 6h0m1 0h0m9 9h0m3 1h0m4-2h0m11-6h0m12-1h0m15 1h0m15 6h0m4-5h0m21 1h0m6 2h0m1-6h0m4 0h0m10 3h0m6 5h0m4-2h0m-4 11h0m-2-6h0m-8 1h0m-1 0h0m-2-1h0m-2 0h0m-1 6h0m0-2h0m-4 5h0m0-2h0m-2-6h0m-6-1h0m-2 5h0m-1-2h0m-7 3h0m-2 0h0m-3 2h0m-6-2h0m-2 3h0m-20 0h0m-2-4h0m-10-4h0m-18 2h0m-2-3h0m-15 5h0m-1 7h0m34 2h0m6-4h0m8 3h0m6-1h0m32 2h0m26-2h0m13 3h0" stroke="#000" stroke-width="3.20" stroke-linecap="round" fill="none"/>
<line x1="1367.6" y1="2262.3" x2="1367.6" y2="2166.9" stroke="#000" stroke-width="1.4"/>
<line x1="1366.9" y1="2262.3" x2="1560.6" y2="2262.3" stroke="#000" stroke-width="1.4"/>
<line x1="1364.1" y1="2259.3" x2="1367.6" y2="2259.3" stroke="#000" stroke-width="1"/>
<text x="1362.1" y="2263.1" font-family="'Liberation Sans', Arial, sans-serif" font-size="10.8" text-anchor="end" fill="#4D4D4D">0</text>
<line x1="1364.1" y1="2233.5" x2="1367.6" y2="2233.5" stroke="#000" stroke-width="1"/>
<text x="1362.1" y="2237.3" font-family="'Liberation Sans', Arial, sans-serif" font-size="10.8" text-anchor="end" fill="#4D4D4D">2</text>
<line x1="1364.1" y1="2207.8" x2="1367.6" y2="2207.8" stroke="#000" stroke-width="1"/>
<text x="1362.1" y="2211.6" font-family="'Liberation Sans', Arial, sans-serif" font-size="10.8" text-anchor="end" fill="#4D4D4D">4</text>
<line x1="1364.1" y1="2182.0" x2="1367.6" y2="2182.0" stroke="#000" stroke-width="1"/>
<text x="1362.1" y="2185.8" font-family="'Liberation Sans', Arial, sans-serif" font-size="10.8" text-anchor="end" fill="#4D4D4D">6</text>
<line x1="1418.3" y1="2262.3" x2="1418.3" y2="2265.8" stroke="#000" stroke-width="1"/>
<text x="1421.8" y="2271.8" font-family="'Liberation Sans', Arial, sans-serif" font-size="12.3" text-anchor="end" fill="#4D4D4D" transform="rotate(-45 1421.8 2271.8)">NFs</text>
<line x1="1502.9" y1="2262.3" x2="1502.9" y2="2265.8" stroke="#000" stroke-width="1"/>
<text x="1506.4" y="2271.8" font-family="'Liberation Sans', Arial, sans-serif" font-size="12.3" text-anchor="end" fill="#4D4D4D" transform="rotate(-45 1506.4 2271.8)">CAFs</text>
<text x="1465.1" y="2310.9" font-family="'Liberation Sans', Arial, sans-serif" font-size="12.5" text-anchor="middle" fill="#4D4D4D" textLength="44.3" lengthAdjust="spacingAndGlyphs">Identity</text>
<text x="1346.1" y="2214.6" font-family="'Liberation Sans', Arial, sans-serif" font-size="12.5" text-anchor="middle" fill="#4D4D4D" textLength="100.0" lengthAdjust="spacingAndGlyphs" transform="rotate(-90 1346.1 2214.6)">Expression Level</text>
<text x="1689.9" y="2156.5" font-family="'Liberation Sans', Arial, sans-serif" font-size="14" font-weight="bold" text-anchor="middle" textLength="54.5" lengthAdjust="spacingAndGlyphs">MMP11</text>
<line x1="1611.7" y1="2259.3" x2="1685.7" y2="2259.3" stroke="#333" stroke-width="1.4"/>
<path d="M1685.7 2259.3 L1649.4 2259.0 L1649.4 2256.8 L1649.4 2254.7 L1649.3 2252.6 L1649.3 2250.4 L1649.2 2248.3 L1649.2 2246.2 L1649.1 2244.0 L1649.1 2241.9 L1649.1 2239.8 L1648.7 2239.0 L1648.7 2239.0 L1648.3 2239.8 L1648.3 2241.9 L1648.3 2244.0 L1648.2 2246.2 L1648.2 2248.3 L1648.1 2250.4 L1648.1 2252.6 L1648.0 2254.7 L1648.0 2256.8 L1648.0 2259.0 L1611.7 2259.3 Z" fill="#F0756C" stroke="#111" stroke-width="0.8"/>
<path d="M1770.3 2259.3 L1761.0 2256.0 L1755.5 2253.6 L1750.0 2251.2 L1749.0 2249.1 L1746.8 2247.1 L1744.6 2245.1 L1743.7 2243.0 L1743.6 2241.0 L1743.3 2239.0 L1743.0 2236.9 L1742.5 2234.9 L1742.1 2232.8 L1741.8 2230.8 L1741.5 2228.8 L1741.4 2226.7 L1741.4 2224.7 L1741.2 2222.7 L1741.0 2220.6 L1740.7 2218.6 L1740.4 2216.6 L1740.2 2214.5 L1740.0 2212.5 L1740.0 2210.5 L1739.9 2208.4 L1739.8 2206.4 L1739.7 2204.4 L1739.6 2202.3 L1739.5 2200.3 L1739.3 2198.2 L1739.3 2196.2 L1739.2 2194.2 L1739.1 2192.0 L1738.6 2189.8 L1738.1 2187.7 L1737.6 2185.5 L1737.2 2183.3 L1737.0 2181.2 L1736.4 2179.1 L1735.1 2177.1 L1733.9 2175.1 L1733.3 2173.0 L1733.3 2173.0 L1732.7 2175.1 L1731.5 2177.1 L1730.2 2179.1 L1729.6 2181.2 L1729.4 2183.3 L1729.0 2185.5 L1728.5 2187.7 L1728.0 2189.8 L1727.5 2192.0 L1727.4 2194.2 L1727.3 2196.2 L1727.3 2198.2 L1727.1 2200.3 L1727.0 2202.3 L1726.9 2204.4 L1726.8 2206.4 L1726.7 2208.4 L1726.6 2210.5 L1726.6 2212.5 L1726.4 2214.5 L1726.2 2216.6 L1725.9 2218.6 L1725.6 2220.6 L1725.4 2222.7 L1725.2 2224.7 L1725.2 2226.7 L1725.1 2228.8 L1724.8 2230.8 L1724.5 2232.8 L1724.0 2234.9 L1723.6 2236.9 L1723.3 2239.0 L1723.0 2241.0 L1722.9 2243.0 L1722.0 2245.1 L1719.8 2247.1 L1717.6 2249.1 L1716.6 2251.2 L1711.1 2253.6 L1705.5 2256.0 L1696.3 2259.3 Z" fill="#1FBCC1" stroke="#111" stroke-width="0.8"/>
<path transform="scale(.5)" d="M3535 4358h0m-31-2h0m-10 1h0m-13 2h0m-1-3h0m-13 0h0m-1 2h0m-6 1h0m-11 0h0m-24 0h0m-24-2h0m-2 5h0m3 5h0m1 2h0m7-9h0m10 4h0m9 0h0m1 1h0m6 2h0m2 2h0m6-8h0m2 6h0m17-4h0m5 2h0m1-3h0m4 0h0m11-1h0m5 1h0m2 4h0m2 3h0m0-5h0m5 3h0m2-6h0m9 3h0m0 0h0m18-1h0m5 6h0m-3 2h0m-9 6h0m-12 2h0m-2-2h0m-1-1h0m-6 1h0m-10-1h0m-1-2h0m-2 3h0m-4-5h0m-20 5h0m-1 0h0m-2-5h0m-1 8h0m-11-7h0m-7-3h0m-2 5h0m-5 1h0m-1-3h0m-5-1h0m-1 3h0m-2 0h0m-6-4h0m-1 0h0m-11 1h0m-3-2h0m-1 6h0m-5 2h0m4 12h0m29 0h0m1-2h0m4 1h0m3-7h0m2 0h0m3-2h0m3 6h0m1-2h0m1 0h0m2 2h0m2 3h0m1-8h0m0 5h0m4-1h0m7-3h0m0 1h0m0 6h0m7-4h0m1 1h0m12 0h0m7-5h0m11 1h0m2-1h0m3 6h0m7 2h0m8-7h0m0 5h0m2-7h0m0 5h0m2-3h0m3 1h0m1-2h0m5 4h0m-1 6h0m-2 3h0m-11 2h0m-14-1h0m-5-3h0m-13 0h0m-4 3h0m-6-1h0m-6 3h0m-5 2h0m0-4h0m-10 1h0m-2 0h0m-1 2h0m-4-6h0m-2 5h0m-4-2h0m-2 5h0m-3-4h0m-11 2h0m-5-5h0m-15 6h0m-6 1h0m-4-5h0m0 9h0m4-4h0m20 7h0m1 1h0m6-2h0m11-3h0m2 4h0m2 0h0m8 0h0m6 1h0m1 0h0m1-3h0m9-3h0m3 2h0m1 6h0m1-7h0m10 3h0m1-3h0m23-1h0m1 3h0m6 0h0m2 0h0m10 4h0m1-4h0m1-4h0m0 3h0m0 6h0m-8 6h0m-8-3h0m-11 6h0m-22-7h0m-5 7h0m-1-3h0m-8-3h0m-5 2h0m-7-4h0m-1 6h0m-7-2h0m-2 5h0m-4-4h0m-5-1h0m-2 5h0m-6-6h0m-2-1h0m-1 4h0m-5-5h0m-3 5h0m-11-4h0m-9 17h0m2-3h0m9-7h0m2 9h0m2-3h0m13-3h0m1-1h0m0 7h0m6-7h0m1 7h0m9-7h0m8-1h0m0 1h0m7 0h0m13 4h0m10-1h0m2 0h0m6-1h0m4 5h0m0 1h0m1-1h0m1-3h0m7 3h0m13-4h0m1-2h0m9-2h0m0 4h0m-8 6h0m-6 9h0m-10-4h0m0 4h0m-36-1h0m-4 0h0m-1-1h0m-6 1h0m-3 0h0m-12-9h0m-2 2h0m-1 5h0m-15-1h0m-16-6h0m-3 4h0m-1-4h0m-1 17h0m9-1h0m22-2h0m8 6h0m10-2h0m1-8h0m1 3h0m3 2h0m4-2h0m0-2h0m2 3h0m1-3h0m2 5h0m9-1h0m4-2h0m9-1h0m1 3h0m2-4h0m6 9h0m6-1h0m8-6h0m8 4h0m7 0h0m0 2h0m1 0h0m3-8h0m0 5h0m3-1h0m4-1h0m-2 14h0m0-1h0m-3-1h0m-1 3h0m0-6h0m0 6h0m-1-7h0m-15 7h0m-3 0h0m0 0h0m-6-1h0m-13-6h0m-1 3h0m-5 4h0m-6 0h0m-1-5h0m-2-4h0m-5 1h0m-4 0h0m-10 1h0m-1 7h0m-24 0h0m-1-7h0m-1 5h0m-2-2h0m-12 2h0m-8 2h0m-8 7h0m3-2h0m0-1h0m8 3h0m9 1h0m1 0h0m4-4h0m6 0h0m8 1h0m9 5h0m3-1h0m3-8h0m1 3h0m4 3h0m5-6h0m4 6h0m5 4h0m4-4h0m6-5h0m0 3h0m2-2h0m2 5h0m3 2h0m3-1h0m11-1h0m3-2h0m3-5h0m28 3h0m-7 8h0m0 4h0m-4-2h0m-1 5h0m-5-8h0m-5 5h0m-5-2h0m-6 7h0m-3-1h0m-3-7h0m-1 6h0m-9-2h0m-5 1h0m-8-6h0m-1 6h0m-13-1h0m-1-1h0m-1 2h0m-4 2h0m-3-2h0m-4-6h0m-3 9h0m-9-9h0m-14 8h0m0-2h0m-3-7h0m-1 2h0m-1 0h0m-6 2h0m-2 3h0m-4-7h0m-176 17h0m7-5h0m17-1h0m7 1h0m0 1h0m23 3h0m10-5h0m24 8h0m2 1h0m34-9h0m1 6h0m3 1h0m50-5h0m15 3h0m3-1h0m8-4h0m7 1h0m13 5h0m4 2h0m5-2h0m7 1h0m7 1h0m3-7h0m2 2h0m8-2h0m2 1h0m1-1h0m5 3h0m16 1h0m1 1h0m1-1h0m0 4h0m5-4h0m3 3h0m4-7h0m3 3h0m0-3h0m2 5h0m1-2h0m0 4h0m2-6h0m1 2h0m2 14h0m-7-5h0m-4 4h0m-1-6h0m-3 1h0m-1 6h0m-21-3h0m0-5h0m-6 7h0m-5-7h0m-17 2h0m-12-2h0m-5 4h0m-1-1h0m-10 5h0m-1-7h0m0 1h0m-15 1h0m-5 0h0m-7 3h0m-2 2h0m-1-4h0m-12-3h0m-1-1h0m-2 6h0m-39 2h0m-27-4h0m-2-4h0m-3 1h0m-11 0h0m-4 3h0m-26 4h0m-2-7h0m-12 7h0m0-3h0m-9 2h0m-2 1h0m-7-3h0m-2 1h0m0 1h0m-15 1h0m2 4h0m10 1h0m4 4h0m5-1h0m7 2h0m0-5h0m5 4h0m8-7h0m41 3h0m7-2h0m2 2h0m1 1h0m20 4h0m5-4h0m3 1h0m4 1h0m6-2h0m33-3h0m0 5h0m0-2h0m3-5h0m6 0h0m1 1h0m0 9h0m7-2h0m19-4h0m3 5h0m20-4h0m1 2h0m4-2h0m21 4h0m12 0h0m1-6h0m9-1h0m1 4h0m7 0h0m2-4h0m2 5h0m8-4h0m0-2h0m6 1h0m0-1h0m1 12h0m-15-2h0m-22 6h0m-1-5h0m-3 0h0m-5 1h0m-4 3h0m-16-1h0m-7-2h0m-2-1h0m-5 4h0m0 1h0m0-5h0m-31 4h0m-1-3h0m-6-1h0m-1 6h0m-1 0h0m-6-1h0m-2-3h0m-3 3h0" stroke="#000" stroke-width="3.20" stroke-linecap="round" fill="none"/>
<line x1="1585.3" y1="2262.3" x2="1585.3" y2="2166.9" stroke="#000" stroke-width="1.4"/>
<line x1="1584.6" y1="2262.3" x2="1784.0" y2="2262.3" stroke="#000" stroke-width="1.4"/>
<line x1="1581.8" y1="2259.3" x2="1585.3" y2="2259.3" stroke="#000" stroke-width="1"/>
<text x="1579.8" y="2263.1" font-family="'Liberation Sans', Arial, sans-serif" font-size="10.8" text-anchor="end" fill="#4D4D4D">0</text>
<line x1="1581.8" y1="2226.7" x2="1585.3" y2="2226.7" stroke="#000" stroke-width="1"/>
<text x="1579.8" y="2230.5" font-family="'Liberation Sans', Arial, sans-serif" font-size="10.8" text-anchor="end" fill="#4D4D4D">2</text>
<line x1="1581.8" y1="2194.2" x2="1585.3" y2="2194.2" stroke="#000" stroke-width="1"/>
<text x="1579.8" y="2198.0" font-family="'Liberation Sans', Arial, sans-serif" font-size="10.8" text-anchor="end" fill="#4D4D4D">4</text>
<line x1="1648.7" y1="2262.3" x2="1648.7" y2="2265.8" stroke="#000" stroke-width="1"/>
<text x="1652.2" y="2271.8" font-family="'Liberation Sans', Arial, sans-serif" font-size="12.3" text-anchor="end" fill="#4D4D4D" transform="rotate(-45 1652.2 2271.8)">NFs</text>
<line x1="1733.3" y1="2262.3" x2="1733.3" y2="2265.8" stroke="#000" stroke-width="1"/>
<text x="1736.8" y="2271.8" font-family="'Liberation Sans', Arial, sans-serif" font-size="12.3" text-anchor="end" fill="#4D4D4D" transform="rotate(-45 1736.8 2271.8)">CAFs</text>
<text x="1685.7" y="2310.9" font-family="'Liberation Sans', Arial, sans-serif" font-size="12.5" text-anchor="middle" fill="#4D4D4D" textLength="44.3" lengthAdjust="spacingAndGlyphs">Identity</text>
<text x="1563.8" y="2214.6" font-family="'Liberation Sans', Arial, sans-serif" font-size="12.5" text-anchor="middle" fill="#4D4D4D" textLength="100.0" lengthAdjust="spacingAndGlyphs" transform="rotate(-90 1563.8 2214.6)">Expression Level</text>
<text x="1220.0" y="2339.5" font-family="'Liberation Sans', Arial, sans-serif" font-size="14" font-weight="bold" text-anchor="middle" textLength="54.5" lengthAdjust="spacingAndGlyphs">MMP14</text>
<path d="M1215.9 2442.7 L1210.4 2441.4 L1190.0 2439.6 L1186.7 2437.4 L1183.3 2435.1 L1183.4 2433.0 L1183.6 2430.8 L1183.9 2428.7 L1184.2 2426.6 L1184.4 2424.5 L1184.5 2422.4 L1184.3 2420.3 L1184.1 2418.3 L1183.7 2416.3 L1183.5 2414.2 L1183.3 2412.2 L1183.1 2410.1 L1182.4 2408.1 L1181.7 2406.1 L1181.0 2404.0 L1180.8 2402.0 L1180.7 2399.8 L1180.6 2397.7 L1180.5 2395.5 L1180.3 2393.3 L1180.2 2391.1 L1180.1 2388.9 L1180.0 2386.8 L1179.9 2384.6 L1179.7 2382.5 L1179.5 2380.4 L1179.2 2378.3 L1179.0 2376.2 L1178.9 2374.0 L1178.9 2374.0 L1178.8 2376.2 L1178.6 2378.3 L1178.3 2380.4 L1178.1 2382.5 L1177.9 2384.6 L1177.8 2386.8 L1177.7 2388.9 L1177.6 2391.1 L1177.5 2393.3 L1177.3 2395.5 L1177.2 2397.7 L1177.1 2399.8 L1177.1 2402.0 L1176.8 2404.0 L1176.1 2406.1 L1175.4 2408.1 L1174.7 2410.1 L1174.5 2412.2 L1174.3 2414.2 L1174.1 2416.3 L1173.7 2418.3 L1173.5 2420.3 L1173.4 2422.4 L1173.4 2424.5 L1173.6 2426.6 L1173.9 2428.7 L1174.2 2430.8 L1174.4 2433.0 L1174.5 2435.1 L1171.1 2437.4 L1167.8 2439.6 L1147.5 2441.4 L1141.9 2442.7 Z" fill="#F0756C" stroke="#111" stroke-width="0.8"/>
<path d="M1299.6 2442.7 L1293.1 2440.2 L1286.6 2437.6 L1283.8 2435.1 L1278.4 2432.5 L1275.5 2430.0 L1275.2 2427.9 L1274.3 2425.7 L1273.1 2423.6 L1272.0 2421.5 L1271.1 2419.4 L1270.7 2417.3 L1270.9 2415.2 L1271.3 2413.0 L1271.8 2410.9 L1272.4 2408.8 L1272.8 2406.7 L1273.0 2404.6 L1273.2 2402.4 L1273.6 2400.3 L1274.3 2398.2 L1274.9 2396.1 L1275.4 2394.0 L1275.5 2391.8 L1275.4 2389.7 L1274.9 2387.6 L1274.3 2385.5 L1273.6 2383.4 L1273.2 2381.2 L1273.0 2379.1 L1272.6 2377.0 L1271.7 2374.9 L1270.6 2372.8 L1269.4 2370.6 L1268.5 2368.5 L1268.1 2366.4 L1267.7 2364.3 L1266.7 2362.2 L1265.4 2360.1 L1264.0 2357.9 L1263.0 2355.8 L1262.6 2353.7 L1262.6 2353.7 L1262.2 2355.8 L1261.2 2357.9 L1259.8 2360.1 L1258.5 2362.2 L1257.5 2364.3 L1257.0 2366.4 L1256.7 2368.5 L1255.8 2370.6 L1254.6 2372.8 L1253.5 2374.9 L1252.6 2377.0 L1252.2 2379.1 L1252.0 2381.2 L1251.6 2383.4 L1250.9 2385.5 L1250.3 2387.6 L1249.8 2389.7 L1249.6 2391.8 L1249.8 2394.0 L1250.3 2396.1 L1250.9 2398.2 L1251.6 2400.3 L1252.0 2402.4 L1252.2 2404.6 L1252.4 2406.7 L1252.8 2408.8 L1253.3 2410.9 L1253.9 2413.0 L1254.3 2415.2 L1254.5 2417.3 L1254.1 2419.4 L1253.2 2421.5 L1252.1 2423.6 L1250.9 2425.7 L1250.0 2427.9 L1249.6 2430.0 L1246.8 2432.5 L1241.4 2435.1 L1238.5 2437.6 L1232.1 2440.2 L1225.6 2442.7 Z" fill="#1FBCC1" stroke="#111" stroke-width="0.8"/>
<path transform="scale(.5)" d="M2577 4720h0m-5-1h0m-91-1h0m-3 1h0m-10 0h0m-10 5h0m9 2h0m10-4h0m1 6h0m2-1h0m14 2h0m8-6h0m4 0h0m3 2h0m6 1h0m6 2h0m0-1h0m7-5h0m2 7h0m1-1h0m0-6h0m6 2h0m8-1h0m11-2h0m3 2h0m4-2h0m4 6h0m6-2h0m2 1h0m1-4h0m6 2h0m8 2h0m0 9h0m-3 0h0m-1 3h0m-3-1h0m0 0h0m-4 1h0m-5-8h0m-8 7h0m-11-2h0m-2-3h0m-5 3h0m0 4h0m-1-3h0m0 1h0m-12 1h0m-3-4h0m-2 0h0m-22-3h0m-1 2h0m-1 7h0m0-8h0m-16-1h0m-1 7h0m-3-7h0m-1 5h0m-10-3h0m-7-3h0m0 6h0m-4-4h0m-2 6h0m8 11h0m0-4h0m4 3h0m28 0h0m2 2h0m1-2h0m4-6h0m4 6h0m6-4h0m3 0h0m5-2h0m1 5h0m20 0h0m6 0h0m0-4h0m15-1h0m26-1h0m-12 12h0m-2 4h0m-22-7h0m-16 7h0m-4-4h0m-1 5h0m-9-6h0m-12 1h0m-4 4h0m-1-4h0m-5 5h0m-2 1h0m-4-6h0m-9 5h0m-1-6h0m-4 3h0m-5-4h0m-9 1h0m0 2h0m-45 4h0m-6 1h0m-17-1h0m-2 0h0m-19 1h0m-18 1h0m-6-2h0m-14 1h0m-4 0h0m-5 0h0m-4 1h0m-2 0h0m-23-1h0m-14-1h0m-4 0h0m3 10h0m1-1h0m1-1h0m5 3h0m7-4h0m6-1h0m0 3h0m1 2h0m3-2h0m2 1h0m1-4h0m4 6h0m0-10h0m2 9h0m4-8h0m2 8h0m11-8h0m3 3h0m6 3h0m4-7h0m0 2h0m0 5h0m9-1h0m0 0h0m1 3h0m3-7h0m5 5h0m1-5h0m6 1h0m5 1h0m0 2h0m1-1h0m7 4h0m1-3h0m13-6h0m2 0h0m13 1h0m1 1h0m2 7h0m1 0h0m33-3h0m4 0h0m7-3h0m0-3h0m10 9h0m4-4h0m10-1h0m1 5h0m5-6h0m11 0h0m1 1h0m36 3h0m5 3h0m4-3h0m2-5h0m8-1h0m1 5h0m14 3h0m4-5h0m7 9h0m-5 5h0m-3-3h0m-15 2h0m-7 2h0m-3-1h0m-18-5h0m-13 6h0m-3 0h0m-9 0h0m-5-1h0m-15-3h0m-1-4h0m0 6h0m-4 2h0m-2-7h0m-4 6h0m-12-4h0m-6-1h0m-2 3h0m-4 2h0m-1-6h0m-4 3h0m-30 4h0m-6-2h0m-3 2h0m-4-4h0m-1 2h0m-3-4h0m-6 6h0m-1 0h0m-3-4h0m-10-2h0m0 5h0m-4-3h0m-6 5h0m-2-6h0m0 0h0m-1 0h0m-6 3h0m-2-2h0m-4-5h0m-12 3h0m-1 2h0m-3 3h0m0 1h0m-3-9h0m-4 5h0m-12 2h0m-4 1h0m-2 0h0m-1-6h0m0 8h0m-3-8h0m-3-2h0m-4 9h0m-17-6h0m-4-1h0m-5 7h0m0 10h0m1-4h0m1 3h0m3-7h0m2 5h0m1-4h0m11-1h0m0 4h0m2 1h0m4 3h0m1 0h0m0-4h0m4 0h0m2-5h0m4 0h0m1 10h0m19-6h0m18 2h0m2-6h0m1 10h0m0-10h0m1 4h0m6 2h0m6 0h0m2 0h0m1-5h0m3 0h0m3 0h0m1 3h0m1-1h0m4-2h0m0 7h0m1-1h0m4 0h0m2 1h0m2-6h0m2 5h0m3 1h0m9-6h0m0 6h0m9-7h0m1 5h0m0-6h0m30 5h0m3 3h0m2-7h0m0 2h0m4 6h0m0-8h0m4 8h0m2-6h0m11 4h0m2-7h0m1 3h0m0 3h0m13-6h0m1 9h0m1-6h0m11-1h0m4 6h0m9-6h0m11-2h0m18 5h0m16 3h0m1-6h0m8 2h0m2 0h0m0 0h0m1-3h0m5 6h0m9 3h0m0-9h0m-5 13h0m-6 5h0m-6-7h0m-3 7h0m-13-6h0m-15 4h0m-5-2h0m-26 0h0m-1 1h0m-3 2h0m-27 0h0m0-3h0m-5 2h0m-2-4h0m-2 2h0m-8-3h0m-3 7h0m-5-1h0m0-3h0m-1 2h0m-32-4h0m-7-2h0m-1 7h0m-4-4h0m-6 2h0m-4-5h0m-1 6h0m-2-6h0m-2 7h0m-3-6h0m-9 0h0m-2 7h0m-2 0h0m0-8h0m-5 1h0m-8 6h0m0-6h0m-4 6h0m-3-6h0m-1 5h0m-1-5h0m-5 7h0m-2-1h0m-4-7h0m-1 2h0m-1 5h0m-3-3h0m-4-1h0m-4 0h0m-11 3h0m-1-6h0m-2 8h0m-15-3h0m-2-4h0m0-1h0m-2-1h0m0 6h0m-1 2h0m-4-4h0m-3 3h0m-1-6h0m-3 1h0m-2-1h0m-3 6h0m1 10h0m5 0h0m0 1h0m4-4h0m1 1h0m1 4h0m7-7h0m4 7h0m1-1h0m1-6h0m2 0h0m11 1h0m4 2h0m2-5h0m5 1h0m11 9h0m4-1h0m2 0h0m2 0h0m1-2h0m4-2h0m6 2h0m6 2h0m1 0h0m3-7h0m1 7h0m2-5h0m9-2h0m1 2h0m1 2h0m1-1h0m8-4h0m0 6h0m4 3h0m5-3h0m0-6h0m1 7h0m5 0h0m1-6h0m1 3h0m4-4h0m0 2h0m1 1h0m4-3h0m1 8h0m35-3h0m11-3h0m1 2h0m3-2h0m11-2h0m5 7h0m6 2h0m12-7h0m1 6h0m6-8h0m13 4h0m3 3h0m4 0h0m0-8h0m0 1h0m1 0h0m7 6h0m1-7h0m0 7h0m15-7h0m4 2h0m12 3h0m10-1h0m7-2h0m-13 12h0m-14-1h0m-2 1h0m-17 5h0m-12-7h0m-2-2h0m-6 4h0m-1-3h0m-17 3h0m-3 3h0m-4 1h0m-29-4h0m-6 2h0m-12-5h0m-33 4h0m-6-2h0m-4 6h0m-2-8h0m-5 4h0m0-2h0m0-1h0m-5 3h0m-2-1h0m-2 4h0m-1-7h0m0 6h0m-3-3h0m-3 6h0m-3-2h0m-1 2h0m-4 0h0m0-7h0m-8 7h0m-2-1h0m0-5h0m-1 1h0m-9 0h0m-2 3h0m-5 2h0m-15-3h0m-2 3h0m0-5h0m-5-2h0m0 6h0m-5 0h0m-3-3h0m-1 3h0m-3-4h0m-1 4h0m-2-3h0m-6 4h0m0-3h0m-7 0h0m-1 3h0m-7-4h0m-1 4h0m-3 0h0m0 0h0m-6 2h0m0 7h0m1 1h0m0-4h0m0-6h0m1 5h0m0-3h0m1 3h0m1 0h0m0 2h0m0 2h0m0 1h0m0-3h0m0-5h0m1 7h0m0-8h0m0 6h0m1 0h0m0 2h0m1-4h0m0 2h0m0 0h0m0-7h0m0 3h0m0 0h0m1 2h0m0 3h0m0 1h0m1-4h0m0-3h0m1 3h0m0-3h0m0 5h0m1 1h0m1-3h0m0 3h0m1-6h0m0 3h0m0-1h0m0 0h0m1 2h0m0-4h0m1 6h0m0-5h0m1 3h0m0-1h0m1-3h0m1 3h0m0 3h0m1-8h0m0 1h0m0 2h0m0 6h0m2-9h0m1 5h0m0 4h0m1-6h0m0 0h0m1 5h0m0-2h0m1-4h0m0-2h0m2 8h0m1-2h0m3 3h0m0-4h0m1-2h0m0-3h0m1 3h0m2 5h0m0-2h0m1 3h0m0-2h0m1-5h0m0 7h0m1-4h0m0 2h0m1-1h0m1 3h0m0 0h0m1-6h0m1 6h0m0 1h0m0-3h0m0-3h0m1 0h0m0 5h0m0-2h0m0-3h0m1-4h0m0 2h0m1 0h0m0 8h0m1-3h0m0-2h0m2-3h0m0 1h0m0 1h0m1 4h0m0-1h0m1 2h0m0-2h0m1 0h0m0-4h0m1 5h0m1-1h0m1-4h0m1 6h0m1-8h0m0 8h0m3 0h0m0-8h0m1 2h0m0 5h0m0 0h0m1-7h0m0 6h0m1-4h0m0 6h0m0 0h0m0 0h0m0-4h0m2-2h0m0-2h0m0 9h0m1-1h0m0-8h0m2 1h0m1 7h0m0 0h0m0-3h0m1-1h0m1-4h0m1 5h0m1 1h0m0 3h0m1-2h0m0-4h0m0-2h0m0 7h0m0-7h0m1 4h0m0-6h0m0 8h0m0 2h0m1-9h0m0 7h0m1-4h0m1 3h0m0-2h0m1-3h0m1 2h0m0-3h0m1 4h0m0 3h0m0 2h0m0-4h0m1 2h0m0 0h0m1 1h0m1-9h0m1 0h0m0 5h0m1-5h0m1 1h0m0 7h0m0 1h0m0-8h0m0 2h0m2 1h0m0 1h0m0-1h0m1 0h0m1-2h0m0 7h0m0-9h0m1 4h0m0-2h0m2 8h0m0-9h0m0 3h0m0-3h0m1 4h0m2-2h0m0 0h0m1-3h0m0 8h0m0 2h0m0-3h0m0-4h0m0-1h0m2 0h0m0 2h0m0 0h0m0-3h0m1 7h0m0-5h0m0 1h0m1 5h0m0-1h0m2 0h0m0 1h0m1-3h0m1 1h0m0 3h0m1-7h0m0 4h0m1 1h0m0-6h0m0 3h0m0-3h0m1 3h0m1 5h0m1-6h0m3 2h0m0-4h0m1 8h0m1-5h0m0-4h0m1 8h0m0-8h0m1 8h0m0-3h0m1 1h0m1-7h0m1 9h0m2-6h0m0-3h0m1 3h0m0 4h0m1-1h0m2 2h0m0-8h0m1 5h0m0 0h0m0-4h0m3 0h0m0 0h0m1 4h0m0 3h0m0-1h0m1-2h0m0 0h0m0 3h0m1-2h0m0-3h0m1-1h0m1 0h0m0-1h0m0 6h0m0 1h0m1-7h0m0 7h0m0-3h0m1 0h0m1 1h0m1-1h0m0 0h0m0-5h0m31 0h0m3 5h0m6 4h0m3-3h0m7-1h0m5 5h0m10-4h0m0-1h0m5-3h0m1-1h0m9 7h0m0-3h0m6 3h0m1-3h0m2 1h0m4 3h0m7-2h0m5-6h0m38 4h0m1 5h0m0-8h0m0 6h0m6-1h0m1-6h0m8 1h0m2 4h0m-3 7h0m-3 2h0m-2-3h0m-2 3h0m-1 1h0m-2 2h0m-6-7h0m-4 6h0m-4-6h0m-2 3h0m-4 2h0m-5-5h0m-11 1h0m-11 2h0m-2 5h0m-8-1h0m-5-4h0m-16-1h0m-10 3h0m-5-3h0m-2 6h0m-24-9h0m-28 9h0m-1-4h0m0 3h0m0 0h0m0-3h0m-1 4h0m-2-8h0m-3 6h0m0-2h0m0 4h0m0 1h0m-1-3h0m-1-5h0m0 2h0m0 5h0m-1-9h0m0 10h0m-1-9h0m0 9h0m-1-3h0m0-3h0m-1-4h0m-2 6h0m0 4h0m-1-8h0m0-1h0m-3 6h0m0-2h0m0-2h0m0 4h0m-1 2h0m-2-2h0m-2 1h0m0-6h0m-1-2h0m-1 4h0m0-2h0m-1-1h0m-1 9h0m-1-6h0m-2-4h0m-2 10h0m0-3h0m0-7h0m0 2h0m-2 7h0m0-8h0m-1 2h0m0-1h0m-2-1h0m-1 1h0m-1 0h0m0 4h0m-1 0h0m0 1h0m0-6h0m0 5h0m-1-3h0m-1 5h0m-1 1h0m0 0h0m-2-2h0m-1-1h0m-1 0h0m0 1h0m-1-7h0m-2 10h0m0-6h0m-1 0h0m-2-1h0m0-2h0m0 9h0m0-8h0m0 5h0m-1-1h0m0-2h0m-1 2h0m0 1h0m-2 1h0m-1-6h0m0 3h0m0-1h0m0 2h0m0 4h0m-1-4h0m-1-2h0m0-1h0m0 2h0m-1-2h0m0 0h0m0 2h0m-2-3h0m-1 6h0m-2-4h0m0 3h0m0-2h0m-2-1h0m0 0h0m0-2h0m-1 4h0m0-3h0m-1 0h0m-1 2h0m0-4h0m0 6h0m-1 1h0m0-1h0m0-5h0m-1 3h0m-1 3h0m-2 2h0m0-9h0m-1 3h0m-2 6h0m-1-6h0m0-3h0m0 0h0m-1 9h0m-1-7h0m0 7h0m0-3h0m-1-6h0m0 7h0m-1-1h0m0-2h0m-1-2h0m0 6h0m-1-4h0m-1-5h0m-2 3h0m0 4h0m0 2h0m-1-8h0m-1 5h0m-1-3h0m0 6h0m0-6h0m-1 0h0m-1 2h0m-1 1h0m0-6h0m-1 5h0m-2-3h0m-2-2h0m0 7h0m0 0h0m0-1h0m0-5h0m-2 7h0m-1-5h0m-1 6h0m0-5h0m0 1h0m-1 4h0m0-4h0m-1 4h0m-1-6h0m0 4h0m-1-4h0m0 5h0m-1-5h0m0 6h0m0-8h0m-1 4h0m0 1h0m0 0h0m-1 3h0m-1 1h0m0-6h0m0 3h0m-1-3h0m-1 0h0m-1-1h0m0-2h0m-1 0h0m-1 4h0m-1 3h0m-1-6h0m0 4h0m-1 2h0m-1-6h0m0 6h0m-1-8h0m-1 7h0m0 1h0m0-2h0m-2 1h0m0-2h0m-2 1h0m0 2h0m-1-7h0m-1 5h0m0 4h0m-1-1h0m0 0h0m-2-6h0m0-3h0m0 9h0m0-1h0m-1-3h0m0 2h0m-1-6h0m0-1h0m0 9h0m-1-3h0m-1-1h0m0 4h0m-1 0h0m-1-1h0m-1-8h0m0 8h0m0 1h0m0 7h0m1 3h0m0 1h0m1-10h0m1 4h0m1 4h0m0-3h0m0 4h0m2-8h0m0 1h0m1-1h0m3 1h0m1 1h0m2 5h0m0-3h0m1 2h0m0-6h0m2 6h0m0-6h0m1 8h0m0-6h0m0 0h0m0 4h0m1 2h0m1-4h0m1-2h0m1 0h0m0 2h0m1 4h0m0-8h0m0 7h0m1 1h0m1-2h0m1-3h0m1-2h0m2 7h0m1-4h0m0 3h0m0 0h0m0 1h0m1-6h0m0 3h0m1 1h0m1-6h0m1 0h0m0 0h0m0 4h0m1 4h0m1-6h0m0 6h0m1-5h0m0 3h0m0-5h0m1-1h0m0 7h0m1-2h0m1-1h0m0 1h0m1 1h0m1 3h0m0-7h0m1 4h0m1-7h0m0 6h0m0-3h0m0 7h0m1-2h0m1 1h0m1-3h0m1 0h0m0 2h0m0 0h0m1-3h0m0-1h0m1-2h0m0 4h0m1 1h0m0 2h0m2-8h0m1 5h0m0-1h0m0 0h0m1-4h0m0 1h0m1 0h0m0 1h0m0 1h0m1 3h0m1-2h0m1 4h0m1-3h0m0-6h0m0 4h0m1 4h0m0-1h0m0-2h0m0-1h0m2-1h0m0 1h0m1 3h0m0-7h0m1 4h0m2-2h0m0 6h0m1-7h0m0 8h0m1-7h0m1 5h0m1 1h0m0-1h0m1-2h0m1 0h0m1 2h0m0-6h0m0 1h0m1 0h0m0 3h0m1 4h0m0-4h0m1-4h0m1 4h0m0-2h0m1 4h0m0 3h0m1-10h0m0 7h0m0-3h0m1 5h0m0 0h0m0-5h0m2-1h0m0-1h0m1-1h0m3-1h0m1 3h0m0 7h0m2-3h0m0-5h0m0 5h0m2-2h0m0 2h0m2-7h0m0 3h0m1 7h0m0-4h0m1 0h0m1 0h0m0 2h0m0-7h0m1 3h0m1-4h0m1 1h0m0 4h0m0 1h0m0-3h0m1-3h0m0 8h0m0-2h0m1-6h0m0 4h0m0 3h0m1-4h0m1 0h0m2 3h0m1-1h0m0 5h0m0-7h0m1-2h0m2 0h0m0 1h0m1-1h0m0 0h0m1 7h0m1-1h0m2 0h0m1-2h0m3-1h0m0 0h0m0 0h0m1 2h0m1-1h0m1-2h0m0-1h0m1 6h0m2-8h0m0 1h0m1 7h0m0 0h0m1-8h0m0 9h0m1-7h0m0 8h0m1-2h0m0-2h0m0-5h0m0 0h0m1 0h0m0 6h0m1-1h0m1-5h0m0 1h0m1-2h0m0 6h0m1 4h0m0 0h0m0-4h0m2 1h0m2-4h0m1 2h0m1 1h0m0 0h0m0 2h0m1-6h0m37 7h0m11-6h0m17 1h0m2-2h0m0 4h0m3-3h0m19 6h0m5-3h0m0-5h0m2 6h0m3-2h0m1-2h0m0-1h0m4 2h0m3 0h0m4 6h0m0-5h0m7 2h0m0-1h0m2-2h0m4 2h0m0-5h0m0 6h0m6-5h0m1 2h0m1-1h0m9 3h0m11 2h0m4-7h0m2 1h0m1 0h0m0 5h0m4-2h0m4 4h0m-5 1h0m-3 0h0m0 3h0m-5 3h0m-12 0h0m-4-2h0m-36-2h0m-7 5h0m-4 0h0m-8-3h0m-8-2h0m-7 1h0m0 1h0m-2-4h0m-3 9h0m-7 0h0m-22-8h0m-34 1h0m-3 6h0m0-2h0m-1-5h0m0 5h0m-1 3h0m0 0h0m-1-7h0m0 2h0m-1 4h0m-2-5h0m-1 0h0m0 5h0m0-3h0m0-2h0m-1 2h0m0-3h0m-2 2h0m-1 1h0m0-2h0m0 1h0m-1-4h0m-1 4h0m0 0h0m0-1h0m0 4h0m-1 1h0m0-1h0m-1-1h0m0 3h0m-1-1h0m0 1h0m0-2h0m0-4h0m-1 1h0m0 4h0m0 2h0m-1 0h0m-2-5h0m-1 3h0m0-2h0m0-3h0m-5 2h0m0-2h0m-1 3h0m0-5h0m0 3h0m-1 3h0m-1-7h0m-1 0h0m-1 1h0m0 7h0m0-6h0m-1 2h0m0-3h0m0 1h0m-1 8h0m-2-4h0m0 0h0m-3 2h0m0 2h0m0-2h0m-2-2h0m0-6h0m0 2h0m-1 1h0m0-3h0m0 5h0m0-4h0m-2 4h0m0 5h0m0-7h0m0 4h0m0 1h0m-2-2h0m0 0h0m0-5h0m-2 7h0m0-5h0m-1 5h0m-1-7h0m0 9h0m0-9h0m-1 5h0m0-2h0m0 4h0m0-7h0m-1 7h0m-2-4h0m0-2h0m0 3h0m-2 2h0m0-5h0m0-2h0m-1 3h0m0 0h0m0 0h0m-1 7h0m0-3h0m0 0h0m-1-2h0m-2 2h0m0-4h0m-1 6h0m0-6h0m0 7h0m0 0h0m0-6h0m0-2h0m0 2h0m-1 0h0m0-2h0m-1-1h0m0 0h0m0 7h0m0-8h0m0 3h0m0 4h0m-1-4h0m0-3h0m0 7h0m-1-4h0m-1 7h0m0-3h0m-2-7h0m-2 6h0m0-4h0m-1 2h0m-1-1h0m0 0h0m-1 7h0m0-9h0m-1 5h0m0-2h0m-1 3h0m-2-6h0m0 8h0m-1-6h0m-1 4h0m-2-3h0m0 2h0m0-1h0m-1-5h0m0 3h0m0 2h0m0 3h0m-1-1h0m0 3h0m0 0h0m0-6h0m-1-3h0m-1 4h0m-2-4h0m-1-1h0m0 10h0m-1-8h0m-1 0h0m0 3h0m0-3h0m0 6h0m-1-1h0m-1-4h0m0 6h0m-1 1h0m0 0h0m0 0h0m0-5h0m0 5h0m-1-1h0m0 0h0m-1-6h0m0 6h0m-1-1h0m0-1h0m0 1h0m-1-1h0m-1-1h0m0 3h0m0-3h0m-1 1h0m0-1h0m0 0h0m-1-1h0m-1-4h0m0 3h0m0 2h0m0-1h0m-1 5h0m-2-8h0m-1-2h0m-2 2h0m-1 2h0m0-3h0m-1 4h0m-1 1h0m-1-4h0m-2 3h0m0 0h0m-1 4h0m-1-4h0m0 3h0m-2-6h0m-1 6h0m-1-8h0m0 0h0m0 2h0m-1 8h0m-1-8h0m-2 8h0m0-8h0m0 1h0m-1 2h0m0-2h0m0-1h0m-2 1h0m-1 4h0m-1-4h0m-1-1h0m-1-1h0m0 1h0m0 7h0m0-8h0m-1 1h0m0 3h0m0-3h0m0 5h0m-1-5h0m0 7h0m-1-4h0m-1 5h0m-3-5h0m0-2h0m0 11h0m0 3h0m1-5h0m1 8h0m0-10h0m0 7h0m2-6h0m1 2h0m1 0h0m0 5h0m0 1h0m2-4h0m1 3h0m0-3h0m1-4h0m1 2h0m1 3h0m1 3h0m1-5h0m0 4h0m1-2h0m0 2h0m0-1h0m0 3h0m1-10h0m0 4h0m1 5h0m1 1h0m0 0h0m2-5h0m1 0h0m0 0h0m0 4h0m1-8h0m0 1h0m1 4h0m0 1h0m0-2h0m0 1h0m1 1h0m1 2h0m1-1h0m1-2h0m1 0h0m2 1h0m3 0h0m0 2h0m1-6h0m0-2h0m0 3h0m0 6h0m1-3h0m0-2h0m0-5h0m1 8h0m0-5h0m1 6h0m1-6h0m0 6h0m1-6h0m0-2h0m0 4h0m1 1h0m1 2h0m1-7h0m0 1h0m0 8h0m0-6h0m1 5h0m1-7h0m0 3h0m1 1h0m0-1h0m0 3h0m4-8h0m1 4h0m1 2h0m1-4h0m0 2h0m1 0h0m1-1h0m2 7h0m0-5h0m3 3h0m0 0h0m1-1h0m1-1h0m0-6h0m0 10h0m1-5h0m1 0h0m1 3h0m1 1h0m1-2h0m0-4h0m0-1h0m0 7h0m0-1h0m1-7h0m0 4h0m0-2h0m0 4h0m2-1h0m0-5h0m0-1h0m1 7h0m1 2h0m2 0h0m0-6h0m1 1h0m2 4h0m1 2h0m2-8h0m0 5h0m1-6h0m1 7h0m0-7h0m0 0h0m1 1h0m0 6h0m0 2h0m0-6h0m0-2h0m2 7h0m0-4h0m1 3h0m0 0h0m1-3h0m0-3h0m0 5h0m1-6h0m1 3h0m1 3h0m0-3h0m0 3h0m0-1h0m1-1h0m0 1h0m1-4h0m0 6h0m1-7h0m0 0h0m1 4h0m1-1h0m1 4h0m0 0h0m0 0h0m0-1h0m1 1h0m1-3h0m0-3h0m0 6h0m1-5h0m1 3h0m2-2h0m3 4h0m1-4h0m0 4h0m2-8h0m1 10h0m0-5h0m0 0h0m1 4h0m0-8h0m1 7h0m3-8h0m0 9h0m0-3h0m0 3h0m0-2h0m1-1h0m0 4h0m1-2h0m0-1h0m0 1h0m0-4h0m1-1h0m0-1h0m0 5h0m2 3h0m0-7h0m1 0h0m0 4h0m1-1h0m2-2h0m1 1h0m0-3h0m1 5h0m1-4h0m0-3h0m0 9h0m0-4h0m0-2h0m4 2h0m1 1h0m0-4h0m0 7h0m0-2h0m1 2h0m1-4h0m0-1h0m0-3h0m1 3h0m0 3h0m1-2h0m0-2h0m0 1h0m1 4h0m0 1h0m1-5h0m1 0h0m0 4h0m1-1h0m1-1h0m28-3h0m3 3h0m1 3h0m3-8h0m8 8h0m5-2h0m4-2h0m4 2h0m12 0h0m3-6h0m4 8h0m4-1h0m2-7h0m2 7h0m2 2h0m7-2h0m6-4h0m4 0h0m3 5h0m4-2h0m6-1h0m2 1h0m4 0h0m9 3h0m1-9h0m9 8h0m2-2h0m4-4h0m15 5h0m7 11h0m-20-1h0m-4 1h0m-11-3h0m-6-2h0m-10-3h0m-1 3h0m-15 5h0m0-2h0m-11 0h0m-15-4h0m-31 7h0m-6-9h0m-5 6h0m-40-7h0m-24 0h0m-63 0h0m124 11h0m6 3h0m2-1h0m11-2h0m25 4h0m2-3h0m17 1h0m29 1h0m7 1h0m11-4h0m26 3h0" stroke="#000" stroke-width="3.20" stroke-linecap="round" fill="none"/>
<line x1="1128.2" y1="2447.5" x2="1128.2" y2="2349.9" stroke="#000" stroke-width="1.4"/>
<line x1="1127.5" y1="2447.5" x2="1313.4" y2="2447.5" stroke="#000" stroke-width="1.4"/>
<line x1="1124.7" y1="2442.7" x2="1128.2" y2="2442.7" stroke="#000" stroke-width="1"/>
<text x="1122.7" y="2446.5" font-family="'Liberation Sans', Arial, sans-serif" font-size="10.8" text-anchor="end" fill="#4D4D4D">0</text>
<line x1="1124.7" y1="2417.3" x2="1128.2" y2="2417.3" stroke="#000" stroke-width="1"/>
<text x="1122.7" y="2421.1" font-family="'Liberation Sans', Arial, sans-serif" font-size="10.8" text-anchor="end" fill="#4D4D4D">1</text>
<line x1="1124.7" y1="2391.8" x2="1128.2" y2="2391.8" stroke="#000" stroke-width="1"/>
<text x="1122.7" y="2395.6" font-family="'Liberation Sans', Arial, sans-serif" font-size="10.8" text-anchor="end" fill="#4D4D4D">2</text>
<line x1="1124.7" y1="2366.4" x2="1128.2" y2="2366.4" stroke="#000" stroke-width="1"/>
<text x="1122.7" y="2370.2" font-family="'Liberation Sans', Arial, sans-serif" font-size="10.8" text-anchor="end" fill="#4D4D4D">3</text>
<line x1="1178.9" y1="2447.5" x2="1178.9" y2="2451.0" stroke="#000" stroke-width="1"/>
<text x="1182.4" y="2457.0" font-family="'Liberation Sans', Arial, sans-serif" font-size="12.3" text-anchor="end" fill="#4D4D4D" transform="rotate(-45 1182.4 2457.0)">NFs</text>
<line x1="1262.6" y1="2447.5" x2="1262.6" y2="2451.0" stroke="#000" stroke-width="1"/>
<text x="1266.1" y="2457.0" font-family="'Liberation Sans', Arial, sans-serif" font-size="12.3" text-anchor="end" fill="#4D4D4D" transform="rotate(-45 1266.1 2457.0)">CAFs</text>
<text x="1221.8" y="2496.1" font-family="'Liberation Sans', Arial, sans-serif" font-size="12.5" text-anchor="middle" fill="#4D4D4D" textLength="44.3" lengthAdjust="spacingAndGlyphs">Identity</text>
<text x="1106.7" y="2398.7" font-family="'Liberation Sans', Arial, sans-serif" font-size="12.5" text-anchor="middle" fill="#4D4D4D" textLength="100.0" lengthAdjust="spacingAndGlyphs" transform="rotate(-90 1106.7 2398.7)">Expression Level</text>
<text x="1460.0" y="2339.5" font-family="'Liberation Sans', Arial, sans-serif" font-size="14" font-weight="bold" text-anchor="middle" textLength="48.0" lengthAdjust="spacingAndGlyphs">WISP1</text>
<line x1="1381.3" y1="2442.7" x2="1455.3" y2="2442.7" stroke="#333" stroke-width="1.4"/>
<path d="M1455.3 2442.7 L1419.0 2442.3 L1419.0 2440.3 L1419.0 2438.3 L1419.0 2436.3 L1419.0 2434.3 L1419.0 2432.3 L1419.0 2430.2 L1419.0 2428.2 L1419.0 2426.2 L1419.0 2424.2 L1419.0 2422.2 L1418.9 2420.2 L1418.9 2418.2 L1418.9 2416.2 L1418.9 2414.2 L1418.9 2412.2 L1418.9 2410.1 L1418.8 2408.1 L1418.8 2406.1 L1418.8 2404.1 L1418.8 2402.1 L1418.8 2400.1 L1418.8 2398.1 L1418.8 2396.1 L1418.7 2394.1 L1418.7 2392.1 L1418.7 2390.0 L1418.7 2388.0 L1418.7 2386.0 L1418.7 2384.0 L1418.7 2382.0 L1418.7 2380.0 L1418.7 2378.0 L1418.7 2376.0 L1418.3 2375.2 L1418.3 2375.2 L1417.9 2376.0 L1417.9 2378.0 L1417.9 2380.0 L1417.9 2382.0 L1417.9 2384.0 L1417.9 2386.0 L1417.9 2388.0 L1417.9 2390.0 L1417.9 2392.1 L1417.9 2394.1 L1417.8 2396.1 L1417.8 2398.1 L1417.8 2400.1 L1417.8 2402.1 L1417.8 2404.1 L1417.8 2406.1 L1417.8 2408.1 L1417.7 2410.1 L1417.7 2412.2 L1417.7 2414.2 L1417.7 2416.2 L1417.7 2418.2 L1417.7 2420.2 L1417.6 2422.2 L1417.6 2424.2 L1417.6 2426.2 L1417.6 2428.2 L1417.6 2430.2 L1417.6 2432.3 L1417.6 2434.3 L1417.6 2436.3 L1417.6 2438.3 L1417.6 2440.3 L1417.6 2442.3 L1381.3 2442.7 Z" fill="#F0756C" stroke="#111" stroke-width="0.8"/>
<path d="M1539.9 2442.7 L1528.8 2438.8 L1525.0 2436.2 L1517.8 2433.5 L1514.0 2430.9 L1513.3 2428.6 L1511.7 2426.2 L1509.7 2423.9 L1508.0 2421.5 L1507.3 2419.1 L1507.3 2416.9 L1507.3 2414.7 L1507.3 2412.4 L1507.3 2410.2 L1507.3 2407.9 L1507.3 2405.7 L1507.3 2403.4 L1507.3 2401.3 L1507.2 2399.1 L1507.0 2396.9 L1506.7 2394.7 L1506.5 2392.5 L1506.2 2390.4 L1506.0 2388.2 L1505.9 2386.0 L1505.9 2383.8 L1505.8 2381.6 L1505.6 2379.3 L1505.3 2377.1 L1505.0 2374.9 L1504.7 2372.6 L1504.5 2370.4 L1504.4 2368.1 L1504.2 2365.8 L1503.9 2363.4 L1503.4 2361.1 L1503.1 2358.7 L1502.9 2356.3 L1502.9 2356.3 L1502.7 2358.7 L1502.4 2361.1 L1501.9 2363.4 L1501.6 2365.8 L1501.4 2368.1 L1501.3 2370.4 L1501.1 2372.6 L1500.8 2374.9 L1500.5 2377.1 L1500.2 2379.3 L1500.0 2381.6 L1499.9 2383.8 L1499.9 2386.0 L1499.8 2388.2 L1499.6 2390.4 L1499.3 2392.5 L1499.1 2394.7 L1498.8 2396.9 L1498.6 2399.1 L1498.5 2401.3 L1498.5 2403.4 L1498.5 2405.7 L1498.5 2407.9 L1498.5 2410.2 L1498.5 2412.4 L1498.5 2414.7 L1498.5 2416.9 L1498.5 2419.1 L1497.8 2421.5 L1496.1 2423.9 L1494.1 2426.2 L1492.5 2428.6 L1491.8 2430.9 L1488.0 2433.5 L1480.8 2436.2 L1477.0 2438.8 L1465.9 2442.7 Z" fill="#1FBCC1" stroke="#111" stroke-width="0.8"/>
<path transform="scale(.5)" d="M2937 4750h0m7-4h0m8 3h0m1-4h0m22 3h0m39 1h0m12-4h0m3 3h0m40 0h0m3-3h0m1 8h0m-2-3h0m0 1h0m-2 4h0m-2-3h0m-8 7h0m-3-2h0m-12-6h0m-2 4h0m-6-5h0m0 9h0m-21-1h0m-11-8h0m-1 8h0m-1 2h0m-5-6h0m-4 1h0m-19 1h0m-5 0h0m0 2h0m-5-4h0m-4 0h0m-1-2h0m-135 5h0m27 9h0m42 4h0m43-3h0m1-3h0m1 0h0m3 0h0m4-1h0m0-1h0m2 5h0m1 0h0m1-3h0m3 0h0m0-3h0m13 9h0m0-2h0m9 1h0m11-3h0m6-3h0m1 2h0m7 2h0m8-6h0m1 9h0m7-8h0m4 5h0m5-1h0m3-4h0m1 4h0m7 3h0m6-3h0m0-6h0m7 6h0m1-3h0m6 1h0m6-3h0m2 8h0m1-6h0m4 5h0m2-4h0m2 0h0m1 6h0m3 3h0m-3 3h0m-9-5h0m-3 2h0m-2 6h0m-4-5h0m-2 4h0m-4 1h0m-16-2h0m-4-6h0m-4 2h0m-6-2h0m0 4h0m-5 2h0m-20-1h0m0 0h0m-2-1h0m0-2h0m-2-1h0m-2 1h0m-5 1h0m-6 1h0m-7-4h0m-13 6h0m-6-6h0m-10 9h0m1 2h0m0 0h0m2 0h0m9-2h0m10 10h0m2-9h0m7 1h0m5 6h0m0-5h0m4-3h0m19 9h0m3-4h0m4 0h0m0 0h0m3-3h0m15-1h0m6 4h0m4-2h0m1 2h0m4-1h0m14-3h0m6 2h0m7-2h0m8 5h0m1 11h0m-5-6h0m-5 4h0m-5-3h0m-9 3h0m-3 2h0m-1-3h0m-2 2h0m-3-4h0m-3 2h0m-19 2h0m-18 1h0m-6 1h0m-1-1h0m-3-6h0m-37 0h0m-4 8h0m-3-4h0m-6 4h0m-4-6h0m-2 6h0m-1-1h0m-51 0h0m-80 9h0m35-6h0m59 4h0m0 0h0m37-2h0m1 0h0m7-1h0m4 4h0m2-2h0m6-3h0m2 8h0m9-5h0m7-4h0m6 5h0m7 1h0m0 1h0m1 1h0m4 2h0m0-6h0m3-3h0m6 9h0m3-10h0m11 9h0m7-6h0m0 2h0m1 0h0m1 2h0m16 1h0m1-3h0m2-3h0m7 4h0m2-4h0m2 3h0m6-3h0m11 6h0m1 9h0m-3-5h0m-13 8h0m0-2h0m-1 1h0m-3-2h0m-15-6h0m-3-1h0m-8 2h0m-7 7h0m0 0h0m-24-8h0m-10 4h0m-6 3h0m-5-4h0m-3 1h0m-14 2h0m-10-1h0m-8 2h0m-3 1h0m0-6h0m-91 7h0m-23-2h0m-37-3h0m-7-1h0m2 6h0m5 5h0m36 0h0m37 0h0m80-1h0m4 2h0m0-4h0m9 6h0m2-2h0m6-5h0m9 6h0m5-1h0m3-4h0m19 2h0m3-3h0m4 8h0m12-3h0m3-2h0m4-3h0m1 5h0m2-5h0m10 6h0m16 1h0m3-4h0m4 6h0m2-5h0m4 4h0m0-7h0m4 4h0m4-4h0m0-2h0m0 4h0m0 0h0m-4 12h0m-2-2h0m-3 4h0m-3-1h0m-10-4h0m-22 0h0m-8-2h0m0 2h0m-4 3h0m-1-3h0m-13 3h0m-12 0h0m-6 2h0m-2-4h0m-23-3h0m-6 2h0m-78 5h0m-95 4h0m10 4h0m69-5h0m21 5h0m57-1h0m11 3h0m12-2h0m0-5h0m18 6h0m2-2h0m0-4h0m3 4h0m10 3h0m3-3h0m0 3h0m5-1h0m3-4h0m12 1h0m7 6h0m0-5h0m6 0h0m2-3h0m6 4h0m21 3h0m1-6h0m13 4h0m2 2h0m-2 2h0m-4 2h0m-1 3h0m-2 1h0m-2 1h0m-1-2h0m-1 4h0m-2-5h0m-1 0h0m-1 1h0m-3-3h0m-1 0h0m-2-3h0m-4 2h0m-5 1h0m-4 4h0m-3 1h0m-1-4h0m-5-4h0m-1 8h0m-6 1h0m-8-5h0m-8-1h0m-2-2h0m-3 2h0m-3 4h0m0-6h0m-2 0h0m-3 2h0m-2 3h0m-2 2h0m-5-1h0m-4-6h0m-3 2h0m-2 1h0m-5-3h0m-5 4h0m0-4h0m-1 0h0m-4 5h0m-1-6h0m-1 5h0m-2 3h0m-15-5h0m0 1h0m-2-2h0m-83 8h0m-31-8h0m-4 7h0m-10 1h0m126 9h0m2-5h0m1-1h0m3 3h0m7-3h0m4 6h0m2-2h0m0-5h0m8 1h0m4 2h0m0-2h0m11 2h0m4 1h0m12 0h0m5 2h0m0-4h0m1 0h0m5 3h0m4-2h0m2 1h0m1 2h0m2-8h0m1 7h0m12-2h0m13-3h0m9-1h0m3 0h0m9-1h0m1 1h0m4 3h0m0-3h0" stroke="#000" stroke-width="3.20" stroke-linecap="round" fill="none"/>
<line x1="1369.8" y1="2447.5" x2="1369.8" y2="2349.9" stroke="#000" stroke-width="1.4"/>
<line x1="1369.1" y1="2447.5" x2="1560.6" y2="2447.5" stroke="#000" stroke-width="1.4"/>
<line x1="1366.3" y1="2442.7" x2="1369.8" y2="2442.7" stroke="#000" stroke-width="1"/>
<text x="1364.3" y="2446.5" font-family="'Liberation Sans', Arial, sans-serif" font-size="10.8" text-anchor="end" fill="#4D4D4D">0.0</text>
<line x1="1366.3" y1="2423.1" x2="1369.8" y2="2423.1" stroke="#000" stroke-width="1"/>
<text x="1364.3" y="2426.9" font-family="'Liberation Sans', Arial, sans-serif" font-size="10.8" text-anchor="end" fill="#4D4D4D">0.5</text>
<line x1="1366.3" y1="2403.4" x2="1369.8" y2="2403.4" stroke="#000" stroke-width="1"/>
<text x="1364.3" y="2407.2" font-family="'Liberation Sans', Arial, sans-serif" font-size="10.8" text-anchor="end" fill="#4D4D4D">1.0</text>
<line x1="1366.3" y1="2383.8" x2="1369.8" y2="2383.8" stroke="#000" stroke-width="1"/>
<text x="1364.3" y="2387.6" font-family="'Liberation Sans', Arial, sans-serif" font-size="10.8" text-anchor="end" fill="#4D4D4D">1.5</text>
<line x1="1366.3" y1="2364.2" x2="1369.8" y2="2364.2" stroke="#000" stroke-width="1"/>
<text x="1364.3" y="2368.0" font-family="'Liberation Sans', Arial, sans-serif" font-size="10.8" text-anchor="end" fill="#4D4D4D">2.0</text>
<line x1="1418.3" y1="2447.5" x2="1418.3" y2="2451.0" stroke="#000" stroke-width="1"/>
<text x="1421.8" y="2457.0" font-family="'Liberation Sans', Arial, sans-serif" font-size="12.3" text-anchor="end" fill="#4D4D4D" transform="rotate(-45 1421.8 2457.0)">NFs</text>
<line x1="1502.9" y1="2447.5" x2="1502.9" y2="2451.0" stroke="#000" stroke-width="1"/>
<text x="1506.4" y="2457.0" font-family="'Liberation Sans', Arial, sans-serif" font-size="12.3" text-anchor="end" fill="#4D4D4D" transform="rotate(-45 1506.4 2457.0)">CAFs</text>
<text x="1466.2" y="2496.1" font-family="'Liberation Sans', Arial, sans-serif" font-size="12.5" text-anchor="middle" fill="#4D4D4D" textLength="44.3" lengthAdjust="spacingAndGlyphs">Identity</text>
<text x="1339.3" y="2398.7" font-family="'Liberation Sans', Arial, sans-serif" font-size="12.5" text-anchor="middle" fill="#4D4D4D" textLength="100.0" lengthAdjust="spacingAndGlyphs" transform="rotate(-90 1339.3 2398.7)">Expression Level</text>
<text x="1689.9" y="2339.5" font-family="'Liberation Sans', Arial, sans-serif" font-size="14" font-weight="bold" text-anchor="middle" textLength="30.0" lengthAdjust="spacingAndGlyphs">FAP</text>
<path d="M1685.7 2442.7 L1680.2 2441.0 L1659.8 2437.7 L1658.1 2435.5 L1654.9 2433.3 L1653.1 2431.1 L1653.2 2428.8 L1653.3 2426.5 L1653.4 2424.1 L1653.5 2421.8 L1653.5 2419.5 L1653.3 2417.0 L1653.0 2414.5 L1652.6 2412.0 L1652.4 2409.5 L1652.3 2407.5 L1652.1 2405.4 L1651.8 2403.3 L1651.5 2401.3 L1651.1 2399.2 L1650.8 2397.1 L1650.6 2395.0 L1650.5 2393.0 L1650.5 2390.9 L1650.5 2388.9 L1650.4 2386.9 L1650.3 2384.9 L1650.2 2382.8 L1650.1 2380.8 L1649.9 2378.8 L1649.8 2376.8 L1649.6 2374.7 L1649.5 2372.7 L1649.3 2370.7 L1649.2 2368.7 L1649.0 2366.6 L1648.9 2364.6 L1648.8 2362.6 L1648.8 2360.6 L1648.7 2358.5 L1648.7 2356.5 L1648.7 2356.5 L1648.7 2358.5 L1648.6 2360.6 L1648.6 2362.6 L1648.5 2364.6 L1648.4 2366.6 L1648.2 2368.7 L1648.1 2370.7 L1647.9 2372.7 L1647.8 2374.7 L1647.6 2376.8 L1647.5 2378.8 L1647.3 2380.8 L1647.2 2382.8 L1647.1 2384.9 L1647.0 2386.9 L1646.9 2388.9 L1646.9 2390.9 L1646.9 2393.0 L1646.8 2395.0 L1646.6 2397.1 L1646.3 2399.2 L1645.9 2401.3 L1645.6 2403.3 L1645.3 2405.4 L1645.1 2407.5 L1645.0 2409.5 L1644.8 2412.0 L1644.4 2414.5 L1644.1 2417.0 L1643.9 2419.5 L1643.9 2421.8 L1644.0 2424.1 L1644.1 2426.5 L1644.2 2428.8 L1644.3 2431.1 L1642.5 2433.3 L1639.3 2435.5 L1637.6 2437.7 L1617.2 2441.0 L1611.7 2442.7 Z" fill="#F0756C" stroke="#111" stroke-width="0.8"/>
<path d="M1770.3 2442.7 L1764.8 2440.2 L1759.2 2437.7 L1757.5 2435.7 L1753.6 2433.6 L1749.8 2431.5 L1748.1 2429.4 L1747.6 2427.2 L1746.2 2425.0 L1744.4 2422.8 L1742.6 2420.6 L1741.2 2418.4 L1740.7 2416.2 L1740.8 2414.0 L1741.2 2411.8 L1741.6 2409.5 L1742.1 2407.3 L1742.4 2405.1 L1742.5 2402.9 L1742.7 2400.7 L1743.0 2398.5 L1743.5 2396.3 L1743.9 2394.1 L1744.3 2391.9 L1744.4 2389.7 L1744.1 2387.4 L1743.4 2385.2 L1742.5 2383.0 L1741.7 2380.8 L1741.0 2378.6 L1740.7 2376.4 L1740.0 2373.9 L1738.5 2371.4 L1737.0 2368.9 L1736.3 2366.5 L1735.8 2364.0 L1734.8 2361.5 L1733.8 2359.0 L1733.3 2356.5 L1733.3 2356.5 L1732.8 2359.0 L1731.8 2361.5 L1730.8 2364.0 L1730.3 2366.5 L1729.6 2368.9 L1728.1 2371.4 L1726.6 2373.9 L1725.9 2376.4 L1725.6 2378.6 L1724.9 2380.8 L1724.0 2383.0 L1723.2 2385.2 L1722.5 2387.4 L1722.2 2389.7 L1722.3 2391.9 L1722.7 2394.1 L1723.1 2396.3 L1723.6 2398.5 L1723.9 2400.7 L1724.0 2402.9 L1724.2 2405.1 L1724.5 2407.3 L1725.0 2409.5 L1725.4 2411.8 L1725.8 2414.0 L1725.9 2416.2 L1725.4 2418.4 L1724.0 2420.6 L1722.2 2422.8 L1720.4 2425.0 L1719.0 2427.2 L1718.5 2429.4 L1716.8 2431.5 L1713.0 2433.6 L1709.1 2435.7 L1707.4 2437.7 L1701.8 2440.2 L1696.3 2442.7 Z" fill="#1FBCC1" stroke="#111" stroke-width="0.8"/>
<path transform="scale(.5)" d="M3440 4740h0m-105 0h0m-106 8h0m2-2h0m9-6h0m3 2h0m0 8h0m7-5h0m1 3h0m0 1h0m5-4h0m7 3h0m1-4h0m0 3h0m4 0h0m1-5h0m2-2h0m2 0h0m4 9h0m1-4h0m3-3h0m7 5h0m1-5h0m1-1h0m3 0h0m1 5h0m1 4h0m3-4h0m3-1h0m0-4h0m12 1h0m1 0h0m3 0h0m3-2h0m4 6h0m2 4h0m1-2h0m5 2h0m5-2h0m5-5h0m2 2h0m8-1h0m1-3h0m6 0h0m1 4h0m1 3h0m46-4h0m8 2h0m16-6h0m6 4h0m1 1h0m3 1h0m10-4h0m8 1h0m2 5h0m4-4h0m4 3h0m8 0h0m2-5h0m8 7h0m23-5h0m14 6h0m10-10h0m0 4h0m0 5h0m2 9h0m-7-5h0m-8-2h0m-11 7h0m-5 1h0m-3-4h0m-4 1h0m-2 3h0m-19-8h0m-9 9h0m-6-8h0m0 1h0m-10 2h0m-1-4h0m-4-1h0m-2 6h0m-4-2h0m-12-1h0m-7 5h0m-1 0h0m-9-1h0m-8-5h0m0 6h0m0-1h0m-3-6h0m-39 5h0m-7-2h0m-3-3h0m-1 5h0m-2 0h0m-5-2h0m-3-2h0m0 4h0m-2-1h0m-7 2h0m-2-6h0m-7 5h0m-1 3h0m-2-1h0m-1 2h0m-3-9h0m-3 8h0m-2-4h0m-2 4h0m-1 0h0m-3-3h0m-1 2h0m-5-7h0m-6 5h0m-5 0h0m-1-1h0m-3 4h0m0-5h0m-8-1h0m-2-1h0m-3 2h0m-1 1h0m-3 0h0m-1-5h0m-3 3h0m-2 7h0m-1 0h0m0-5h0m-1-2h0m-2 7h0m0-8h0m-3 0h0m-5 7h0m-3-5h0m0 5h0m-6-8h0m-7 4h0m-2 9h0m3 5h0m2-8h0m2 7h0m1-1h0m1 3h0m2-3h0m7 1h0m1 0h0m2-6h0m1 5h0m4-4h0m6 0h0m1-1h0m0 5h0m8-4h0m8 5h0m1 1h0m6-2h0m2-7h0m0 4h0m3 5h0m9-3h0m4 0h0m0-4h0m1 0h0m8 6h0m14 2h0m2-5h0m3 1h0m2 3h0m6-4h0m1 1h0m3 0h0m0-2h0m2 5h0m2-4h0m6 2h0m1-5h0m0 7h0m2-6h0m2 0h0m38 2h0m2 0h0m4 1h0m6 0h0m4 0h0m6 0h0m13 3h0m9-2h0m11-4h0m0 5h0m6-5h0m2 2h0m5-3h0m4 4h0m6 1h0m3-2h0m5-3h0m0 8h0m11-1h0m1-2h0m1-4h0m6 4h0m20-4h0m0-2h0m10 4h0m2 8h0m-11 7h0m-13-4h0m-8 3h0m-5 0h0m-2-3h0m-11-1h0m-7 0h0m-2 3h0m-10 1h0m-10-1h0m0 0h0m-2-3h0m-3 3h0m-9-5h0m-2 1h0m-13-4h0m-3 5h0m-6-2h0m-9 4h0m-3 0h0m-2 2h0m-2-4h0m-36-5h0m-4 6h0m-11-5h0m0 4h0m-13-1h0m-6-4h0m-2 7h0m-2 1h0m-15 2h0m-2-3h0m0-3h0m-1 1h0m-6 0h0m-2-4h0m-2 2h0m-1 3h0m-1 0h0m-6-4h0m-2 7h0m0-1h0m-14-4h0m-4 0h0m-1 5h0m-2-4h0m-1 3h0m-2 0h0m-5-2h0m-3 3h0m-4-1h0m-4-1h0m-1 0h0m-2 1h0m-3 2h0m-3-7h0m-1-2h0m-2 6h0m-3-4h0m-5-3h0m-2 8h0m7 11h0m1-6h0m6 0h0m1 7h0m2-4h0m1 0h0m0 2h0m8-5h0m2 0h0m0 4h0m1 3h0m7-4h0m4-1h0m6 3h0m1 0h0m2-5h0m7 1h0m1 5h0m4-3h0m4 1h0m7-3h0m7-3h0m1 0h0m14 8h0m8-3h0m11 2h0m0-4h0m6 1h0m1-2h0m5 6h0m1-1h0m2-4h0m2 2h0m2-3h0m38 4h0m4-6h0m2 4h0m0 3h0m36 1h0m17 1h0m9-2h0m9-4h0m19-4h0m4 1h0m3 3h0m1 2h0m1-4h0m2 4h0m16 2h0m3-6h0m11 8h0m-6 6h0m-3-2h0m-11 2h0m-16 1h0m-1 0h0m-5 0h0m-2-5h0m-1 8h0m-4-3h0m0-3h0m-9 3h0m-2 2h0m-6-2h0m-1-4h0m-2 5h0m-1-6h0m-10 2h0m-4 3h0m-1 0h0m-1-1h0m-4-1h0m-1 1h0m-3 0h0m-5-4h0m-4 4h0m-7 0h0m-1 4h0m-6-10h0m-4 7h0m-1 3h0m0-9h0m-6 6h0m-3-1h0m-1-3h0m-3-2h0m-2 3h0m0 3h0m0-6h0m-34 7h0m-9-7h0m-7-1h0m0 4h0m-1 1h0m-1-5h0m-3 1h0m-4 6h0m-6-2h0m0 4h0m-8-3h0m-8-6h0m0 10h0m-4-4h0m-2-3h0m0 1h0m-2 2h0m-5-5h0m-1 9h0m-1-9h0m-1 3h0m-1-1h0m-5 2h0m-4 1h0m-2 0h0m-3 1h0m-2-1h0m-2 2h0m0 2h0m-10-1h0m-2-7h0m0 5h0m-1-3h0m-1 3h0m-11-3h0m-6 5h0m-1 0h0m-1 0h0m-1-2h0m0 2h0m-11-1h0m-1-2h0m0 1h0m-5-1h0m-2 13h0m0-9h0m2 1h0m1 8h0m1-2h0m1 2h0m2-8h0m1 5h0m1 1h0m1-1h0m0 1h0m1-1h0m1-1h0m2-2h0m0 7h0m0-6h0m1-3h0m1-1h0m3 8h0m1-7h0m2 0h0m0 5h0m1-5h0m1 9h0m1-2h0m0-2h0m1-3h0m2-3h0m1 5h0m0 1h0m1 1h0m2-5h0m0 8h0m0-1h0m1-3h0m0 2h0m1-3h0m0-3h0m1 7h0m1-5h0m0-3h0m1 5h0m0-2h0m2 6h0m1-3h0m1 1h0m1-2h0m0-3h0m0 5h0m1-1h0m1-1h0m2-4h0m2 3h0m0-1h0m1-3h0m3 8h0m0-1h0m1-6h0m1 0h0m2 6h0m1-6h0m2 6h0m1 1h0m0-1h0m3-4h0m0 1h0m2-2h0m0 4h0m0-6h0m1 0h0m0 2h0m0 1h0m2 5h0m2-2h0m2 1h0m1-4h0m1-3h0m1 2h0m1-3h0m0 7h0m2 3h0m1-9h0m0 5h0m2-5h0m0 4h0m0 3h0m1-3h0m0 0h0m1 1h0m1-2h0m0 1h0m2 4h0m2-4h0m0 1h0m1-5h0m0 2h0m2 1h0m0 4h0m1 2h0m0-4h0m0 3h0m1-3h0m2-3h0m1 6h0m0-5h0m2 0h0m0 1h0m0 3h0m1-2h0m0 0h0m1 3h0m2 0h0m0 0h0m0-7h0m1-1h0m2 8h0m0-6h0m1-1h0m3 4h0m0-2h0m1 4h0m1-7h0m0 6h0m1-5h0m0 2h0m2 1h0m1-2h0m0 4h0m1-4h0m0 5h0m2-1h0m0-4h0m2 5h0m1-7h0m0 2h0m0 5h0m1-4h0m2 2h0m1-3h0m2-2h0m0 6h0m2-6h0m1 8h0m0 0h0m1 1h0m0-1h0m0-6h0m1 3h0m0 2h0m1-5h0m0-2h0m1 8h0m0 0h0m2-5h0m2-2h0m0 5h0m0-5h0m0 3h0m0-3h0m36 0h0m2 3h0m4 2h0m4-5h0m3 1h0m3 4h0m4-5h0m1-1h0m6-1h0m1 1h0m6 5h0m3-4h0m6 6h0m6 1h0m6-7h0m0 6h0m2-2h0m3-6h0m1 4h0m9 5h0m26-4h0m2-1h0m4 3h0m2-3h0m3 4h0m1 1h0m1-5h0m8-3h0m1 3h0m1-1h0m2 0h0m9 2h0m-2 14h0m-10-3h0m0 4h0m-3-9h0m-7 1h0m-6 4h0m-19 3h0m-5-4h0m-10-3h0m-3 6h0m-7-2h0m-17 4h0m-3-4h0m-3 2h0m-6-4h0m-11 2h0m-13 3h0m-42-1h0m-2 0h0m0-4h0m0 6h0m-1-7h0m0 1h0m0-2h0m0 4h0m-2 4h0m-2-10h0m0 3h0m-1 5h0m0-5h0m-1-3h0m-1 0h0m0 0h0m0 9h0m-1 0h0m-4-4h0m0-3h0m-2 0h0m-2 0h0m0 0h0m0 3h0m-2-3h0m0 7h0m-4-3h0m0 2h0m0-1h0m-1-6h0m-1 0h0m0 0h0m-2 2h0m-2 2h0m0-3h0m-2 3h0m0 0h0m-2 5h0m-2-6h0m0-2h0m-1 2h0m-1 1h0m-2 5h0m0-7h0m-1 0h0m0 5h0m-5-6h0m0 6h0m-1-3h0m0-2h0m0-2h0m-1 8h0m-1-9h0m0 6h0m-1-2h0m-2-1h0m0 3h0m-2 2h0m-3-3h0m0 4h0m0-3h0m-1-3h0m-1 4h0m-2-3h0m-2 0h0m-1-2h0m0 2h0m-2 2h0m0-4h0m0 0h0m-1 7h0m0-1h0m0-1h0m-3-1h0m-1 2h0m0-2h0m-2-6h0m-2 9h0m0-2h0m-1 3h0m0-4h0m-1 1h0m0 0h0m0 1h0m-3 2h0m0-6h0m-1-2h0m0 0h0m-2 1h0m-4-2h0m0-1h0m-2 8h0m0-5h0m0-3h0m-3 4h0m0-2h0m0-2h0m0 2h0m-1 3h0m0 0h0m-1-4h0m0 0h0m-1 1h0m-1 1h0m-3 4h0m0-4h0m-2 3h0m-1-2h0m0 6h0m0-8h0m0 0h0m-3 3h0m-1 1h0m-1 4h0m-3-8h0m0 2h0m0-2h0m-1-1h0m0 6h0m0-5h0m-1 0h0m-1 0h0m0-2h0m-1 1h0m0 5h0m0-5h0m-1 1h0m-1-2h0m0 4h0m-2-2h0m0 3h0m0-3h0m-1 0h0m-1 0h0m0 1h0m-3 0h0m-2 2h0m-1 3h0m0-7h0m-2 0h0m0 5h0m0-4h0m-1 6h0m-2-5h0m-1 1h0m-1-3h0m-2 7h0m0-7h0m0 3h0m-1 1h0m0-1h0m0-3h0m-2 14h0m1 0h0m0-2h0m2 0h0m2 5h0m1-2h0m0 2h0m2 2h0m1-3h0m1-5h0m0 1h0m0 2h0m0-4h0m1 0h0m0 5h0m0 1h0m3-5h0m0 3h0m0 2h0m2-4h0m3 6h0m1-3h0m1 1h0m0 2h0m1-7h0m0 2h0m0-4h0m1 7h0m3-2h0m1 2h0m2-3h0m0 5h0m1-5h0m1 5h0m1-8h0m1 5h0m0-3h0m0 6h0m1-5h0m1 6h0m1-9h0m0 7h0m1-5h0m1 3h0m2 1h0m0-1h0m0-4h0m3-1h0m0 4h0m1-1h0m0 0h0m1 2h0m2 4h0m0-1h0m1 0h0m1-9h0m0 10h0m0-1h0m0 0h0m2-5h0m1-4h0m0 1h0m0 4h0m0-5h0m2 4h0m1 2h0m0 0h0m1 1h0m1-1h0m0-6h0m2 6h0m0-5h0m1 0h0m1 9h0m0-1h0m2-5h0m1 6h0m0-4h0m0 3h0m1-4h0m2 2h0m0 2h0m2 1h0m1-1h0m1-7h0m1 5h0m1 2h0m0-8h0m0 1h0m0 2h0m2-1h0m0 1h0m3-1h0m0 6h0m1-5h0m1 4h0m0-1h0m0-1h0m2-5h0m1 3h0m2 3h0m1 0h0m0-1h0m2-1h0m2-3h0m0 1h0m0 6h0m0-5h0m1 5h0m0-3h0m1 3h0m1-4h0m5 0h0m1 2h0m1 0h0m0 3h0m0-4h0m0 1h0m4-6h0m0 1h0m0 4h0m0 2h0m0-5h0m1 1h0m1 0h0m0 2h0m0-3h0m0-1h0m1 6h0m1-6h0m1-1h0m0 6h0m1-4h0m1-1h0m2 0h0m2 5h0m0 1h0m3-3h0m1 0h0m0-3h0m1-2h0m0 2h0m0 3h0m1 2h0m0-6h0m1 2h0m0-1h0m0-1h0m1 2h0m5 0h0m2-1h0m2 0h0m0 4h0m1 2h0m0 0h0m1-6h0m1 2h0m1 0h0m1 5h0m1-7h0m0 0h0m0 2h0m0 1h0m1 5h0m0-8h0m0 5h0m0-2h0m0-3h0m1 2h0m37 1h0m3-5h0m25 3h0m3 5h0m9-8h0m3 3h0m6 1h0m7-3h0m1 7h0m3-1h0m2-3h0m2-3h0m4 8h0m16-5h0m8-1h0m8 1h0m2-4h0m0 0h0m2 6h0m15-6h0m5 5h0m0 5h0m5-1h0m1-7h0m1-1h0m1 5h0m-6 8h0m-3-2h0m0 4h0m-2-4h0m-34 4h0m-1-1h0m-1 5h0m-3-10h0m-12 3h0m-1-3h0m-11 9h0m-12-4h0m0-4h0m-1 4h0m0 0h0m-5 1h0m-15 1h0m-20 1h0m0-1h0m-4 2h0m-2-2h0m0-2h0m-4 1h0m-32-6h0m0 7h0m-2-3h0m0 3h0m-1 3h0m0-2h0m-1-1h0m0-3h0m0-2h0m-1 4h0m-1 0h0m-1-2h0m0 0h0m-1-1h0m-3 2h0m0 1h0m-1 3h0m-2-4h0m0-2h0m-1 3h0m0-2h0m-2 1h0m0 4h0m0-1h0m-6-3h0m-1-2h0m0 4h0m0 2h0m-1 0h0m0-5h0m0 4h0m-1 0h0m-1-2h0m-3-3h0m-2 2h0m0-4h0m-2 1h0m0 3h0m-2 0h0m0 0h0m0 2h0m-1-4h0m-2-1h0m-1 1h0m-1-1h0m-1 6h0m0-8h0m0 5h0m-2 2h0m0 3h0m0-3h0m-1-1h0m0-6h0m-1 3h0m0 2h0m-3 5h0m-2-8h0m-2-1h0m-1 7h0m0-7h0m0 9h0m-1-4h0m-2 1h0m0-7h0m0 10h0m-1 0h0m0 0h0m0-9h0m-1 6h0m-1-3h0m-1 4h0m-2-5h0m0 4h0m-1-1h0m0-2h0m-2-1h0m-1-1h0m0 5h0m0 1h0m-1-1h0m0-4h0m0-2h0m-1 2h0m-1 3h0m0 2h0m-2-1h0m0-1h0m-1 1h0m0-5h0m-1 3h0m-1 4h0m-1-7h0m-2 2h0m-2 1h0m0 1h0m0 1h0m-1 2h0m0-1h0m-1-1h0m0-2h0m0 2h0m-1-4h0m0 0h0m-2 3h0m0 3h0m-3 0h0m-1-2h0m-2-3h0m-2-3h0m-1 5h0m-3 2h0m0-2h0m-1 0h0m-2-3h0m-1 3h0m-2-1h0m-2 2h0m0-6h0m0 8h0m-1-1h0m-1 0h0m-1-5h0m-1-2h0m0-1h0m0 8h0m-1-3h0m0 3h0m0-8h0m-1 8h0m-1 0h0m0-4h0m0-2h0m-1 3h0m-2 1h0m-1 3h0m-1-7h0m-1 0h0m0 1h0m0 4h0m0-4h0m-1 0h0m-1-1h0m-1 8h0m-1-3h0m-1 0h0m0-1h0m-1 4h0m0-2h0m-5 1h0m0-4h0m0 3h0m-1-2h0m0 0h0m-2-1h0m0-3h0m-1 3h0m-1 2h0m0 1h0m-1-6h0m-1-1h0m0 3h0m0-4h0m-2 6h0m0 3h0m-1-4h0m0-5h0m0 6h0m-1-2h0m0-3h0m2 13h0m1 0h0m1 5h0m1-6h0m0 1h0m4 1h0m1-5h0m2 7h0m0-5h0m0 3h0m0-2h0m3 5h0m0-4h0m1-2h0m0-1h0m1 0h0m0 6h0m3-7h0m1 1h0m0 4h0m1-4h0m2 1h0m1 7h0m0-4h0m3 3h0m3 1h0m0 1h0m2-6h0m0 1h0m0 0h0m0-1h0m0-3h0m2 3h0m0 4h0m1-7h0m0 1h0m3 8h0m2 0h0m0-1h0m0-1h0m0-4h0m0 6h0m0-1h0m1-1h0m1-2h0m0 0h0m1-4h0m0 6h0m1-3h0m1 0h0m0-4h0m1 1h0m0-1h0m0 1h0m1 2h0m1-3h0m2 8h0m0 0h0m2-4h0m2-1h0m1 3h0m0-5h0m3 2h0m0 3h0m1 1h0m1-6h0m3 7h0m1-7h0m0 2h0m2 4h0m0-2h0m3-3h0m1 2h0m0 5h0m0 0h0m0-10h0m3 1h0m0 6h0m1-2h0m0-2h0m3 2h0m0 1h0m0 0h0m1 2h0m1 1h0m0-7h0m1-2h0m1 7h0m0-5h0m3 0h0m1 1h0m0 3h0m2-3h0m0 3h0m2-5h0m0 0h0m1 5h0m0-4h0m1-1h0m0 6h0m1-7h0m0 0h0m1 6h0m3 2h0m1 2h0m0-6h0m1 6h0m1-3h0m2-1h0m0 0h0m0-3h0m4 0h0m0 5h0m0-7h0m1 0h0m1 6h0m0-2h0m1 3h0m0-4h0m3-4h0m1 8h0m4 0h0m0-2h0m2-3h0m1-2h0m1 7h0m1-7h0m0 4h0m1-3h0m1 4h0m1-6h0m1 4h0m2-3h0m1 7h0m0-5h0m2 4h0m0 0h0m1-3h0m2 4h0m1-4h0m0-3h0m1 5h0m0-5h0m3 3h0m1-3h0m1 1h0m45-2h0m23 2h0m2 1h0m0 7h0m5-4h0m2-3h0m4 6h0m3-4h0m9 2h0m5-3h0m4 6h0m1-4h0m3-5h0m0 8h0m7 0h0m3-2h0m2-7h0m3 10h0m4-2h0m6 0h0m7-5h0m4 6h0m0-7h0m4 1h0m1 1h0m2 1h0m2-1h0m2 0h0m0-1h0m1 1h0m8-4h0m3 3h0m2 1h0m1 0h0m1 15h0m-2-5h0m-12-1h0m-4 6h0m-1-7h0m-26 1h0m-3 0h0m-2 1h0m-3-3h0m-8 4h0m-2-2h0m-2 5h0m0-1h0m-2 2h0m-7-1h0m-6-2h0m-5 3h0m-14-1h0m-5-6h0m-2 3h0m-9 0h0m-4 5h0m-5-5h0m0 1h0m-4 2h0m-1-6h0m-1 5h0m-3-4h0m-3 2h0m-33-1h0m-1 3h0m-2 2h0m0 0h0m0-4h0m-1 1h0m-1-4h0m0-1h0m-5 8h0m0-3h0m-1-1h0m0 2h0m0-3h0m-1-3h0m0 6h0m-2 1h0m-1-3h0m-1-5h0m0 2h0m-1-2h0m-2 1h0m-1 9h0m0-5h0m-1-4h0m0-1h0m0 5h0m-1-1h0m0 4h0m-1-4h0m0 5h0m0-3h0m-2 1h0m-1-2h0m0-1h0m0 0h0m0-3h0m0 3h0m-1-3h0m0 2h0m-2-1h0m-1-2h0m-2 8h0m0-3h0m-1 4h0m0-3h0m-1 3h0m-1 0h0m-1-8h0m0 3h0m0 3h0m-1-3h0m-3-1h0m-1 3h0m-1-1h0m-2 3h0m0 1h0m-1-5h0m-1-1h0m-1-2h0m0 1h0m-1-1h0m0 7h0m-2-3h0m0 2h0m-2-1h0m-1-5h0m0 5h0m0-2h0m0-3h0m-2 5h0m-1 2h0m-3-4h0m0-3h0m-1 7h0m0-2h0m0 1h0m-1-4h0m-2 4h0m0-7h0m-3 3h0m-1-2h0m-1 0h0m-1 7h0m-2-7h0m0 9h0m0-8h0m0 6h0m-1-4h0m-4 1h0m0-5h0m-2 7h0m0-3h0m-1-3h0m0 4h0m0 5h0m0-4h0m0-3h0m-1 4h0m0 0h0m0 2h0m-2-2h0m-1-5h0m-1 6h0m-1 2h0m0-3h0m0 0h0m-2-4h0m0 0h0m-1-1h0m-1 5h0m-2 0h0m-1-6h0m0 2h0m0 0h0m-1 1h0m-1 4h0m-4-7h0m0 8h0m0-6h0m-1-1h0m0 4h0m-2 0h0m0 1h0m-1-2h0m0-1h0m-2 6h0m0 0h0m0-10h0m0 7h0m-2-1h0m-1-5h0m-1 6h0m-1-2h0m-1-2h0m0 0h0m-1 4h0m0 0h0m-2-4h0m0 1h0m0-2h0m-1 8h0m-1-9h0m-2 0h0m-1 2h0m0 2h0m-2 3h0m-2 0h0m-1-7h0m0 0h0m-2 5h0m-1-1h0m0 0h0m-1-3h0m0 1h0m0 3h0m0-4h0m-2 0h0m0 4h0m-1 0h0m0-2h0m-4 3h0m0 3h0m-1-8h0m-2 1h0m0 4h0m0-4h0m0-2h0m-1 3h0m-2-1h0m-1 9h0m0 0h0m1-2h0m0 3h0m2 2h0m0-3h0m1 0h0m1-1h0m6 3h0m2 1h0m0-3h0m3-1h0m2 0h0m4 2h0m0 1h0m0-2h0m2-2h0m0 3h0m2 0h0m3-1h0m4 1h0m1 0h0m3 0h0m1 2h0m0-4h0m0 0h0m1 3h0m3 1h0m2-2h0m3-2h0m0 4h0m2-2h0m0-3h0m5 2h0m0-2h0m3 2h0m1 0h0m1 0h0m0 3h0m8-1h0m2 0h0m2-2h0m2-2h0m6 3h0m1 1h0m4 0h0m1-3h0m1 0h0m0 2h0m0 0h0m1 2h0m6 0h0m3-4h0m1 3h0m1 0h0m0-3h0m0 4h0m4 0h0m2-4h0m3-1h0m4 0h0m0 0h0m0 5h0m3-3h0m0 2h0m0 1h0m1-3h0m1-2h0m1 1h0m1 2h0m1-1h0m4 1h0m1 0h0m0 2h0m1 0h0m0-4h0m1-1h0m2 3h0m2-1h0m2-1h0m0 0h0m4 3h0m0-3h0m0 3h0m3-2h0m31 3h0m5 0h0m2-1h0m5 2h0m1-1h0m3 1h0m9 1h0m0-1h0m10 3h0m12-7h0m2 5h0m1-3h0m2 1h0m7-4h0m5 4h0m1-5h0m5 7h0m6-1h0m4-6h0m5 8h0m6 1h0m0-8h0m2 7h0m8-6h0m17-1h0m12 0h0m10 12h0m-4 6h0m-2 0h0m-14-9h0m-7 10h0m0-4h0m-4 2h0m-6-6h0m-2 1h0m0 4h0m-1 2h0m-4-5h0m0-3h0m-8 7h0m-3 1h0m-6 0h0m-32-8h0m-1 0h0m-6 1h0m-5-1h0m-8 1h0m-1 4h0m-2 1h0m-2 0h0m-2-2h0m-4-1h0m-2-2h0m-11 7h0m-1-8h0m-1 9h0m0-4h0m7 8h0m4 1h0m16 0h0m2-2h0m37 2h0m25-1h0m7-2h0m1 1h0m5-3h0m3 4h0m1-4h0m17 1h0m1 1h0m5 2h0" stroke="#000" stroke-width="3.20" stroke-linecap="round" fill="none"/>
<line x1="1585.8" y1="2447.5" x2="1585.8" y2="2349.9" stroke="#000" stroke-width="1.4"/>
<line x1="1585.1" y1="2447.5" x2="1784.0" y2="2447.5" stroke="#000" stroke-width="1.4"/>
<line x1="1582.3" y1="2442.7" x2="1585.8" y2="2442.7" stroke="#000" stroke-width="1"/>
<text x="1580.3" y="2446.5" font-family="'Liberation Sans', Arial, sans-serif" font-size="10.8" text-anchor="end" fill="#4D4D4D">0</text>
<line x1="1582.3" y1="2409.5" x2="1585.8" y2="2409.5" stroke="#000" stroke-width="1"/>
<text x="1580.3" y="2413.3" font-family="'Liberation Sans', Arial, sans-serif" font-size="10.8" text-anchor="end" fill="#4D4D4D">1</text>
<line x1="1582.3" y1="2376.4" x2="1585.8" y2="2376.4" stroke="#000" stroke-width="1"/>
<text x="1580.3" y="2380.2" font-family="'Liberation Sans', Arial, sans-serif" font-size="10.8" text-anchor="end" fill="#4D4D4D">2</text>
<line x1="1648.7" y1="2447.5" x2="1648.7" y2="2451.0" stroke="#000" stroke-width="1"/>
<text x="1652.2" y="2457.0" font-family="'Liberation Sans', Arial, sans-serif" font-size="12.3" text-anchor="end" fill="#4D4D4D" transform="rotate(-45 1652.2 2457.0)">NFs</text>
<line x1="1733.3" y1="2447.5" x2="1733.3" y2="2451.0" stroke="#000" stroke-width="1"/>
<text x="1736.8" y="2457.0" font-family="'Liberation Sans', Arial, sans-serif" font-size="12.3" text-anchor="end" fill="#4D4D4D" transform="rotate(-45 1736.8 2457.0)">CAFs</text>
<text x="1685.9" y="2496.1" font-family="'Liberation Sans', Arial, sans-serif" font-size="12.5" text-anchor="middle" fill="#4D4D4D" textLength="44.3" lengthAdjust="spacingAndGlyphs">Identity</text>
<text x="1564.3" y="2398.7" font-family="'Liberation Sans', Arial, sans-serif" font-size="12.5" text-anchor="middle" fill="#4D4D4D" textLength="100.0" lengthAdjust="spacingAndGlyphs" transform="rotate(-90 1564.3 2398.7)">Expression Level</text>
<text x="3.7" y="35.6" font-family="'Liberation Sans', Arial, sans-serif" font-size="46.5" stroke="#000" stroke-width="0.6">A</text>
<text x="877.5" y="39.8" font-family="'Liberation Sans', Arial, sans-serif" font-size="46.5" stroke="#000" stroke-width="0.6">B</text>
<text x="0.0" y="746.5" font-family="'Liberation Sans', Arial, sans-serif" font-size="46.5" stroke="#000" stroke-width="0.6">C</text>
<text x="795.3" y="742.8" font-family="'Liberation Sans', Arial, sans-serif" font-size="46.5" stroke="#000" stroke-width="0.6">D</text>
<text x="1357.6" y="742.9" font-family="'Liberation Sans', Arial, sans-serif" font-size="46.5" stroke="#000" stroke-width="0.6">E</text>
<text x="-3.5" y="1303.5" font-family="'Liberation Sans', Arial, sans-serif" font-size="46.5" stroke="#000" stroke-width="0.6">F</text>
<text x="1215.7" y="1290.5" font-family="'Liberation Sans', Arial, sans-serif" font-size="46.5" stroke="#000" stroke-width="0.6">G</text>
<text x="-0.9" y="1957.8" font-family="'Liberation Sans', Arial, sans-serif" font-size="46.5" stroke="#000" stroke-width="0.6">H</text>
<text x="1062.6" y="1950.9" font-family="'Liberation Sans', Arial, sans-serif" font-size="46.5" stroke="#000" stroke-width="0.6">I</text>
</svg></body></html>
